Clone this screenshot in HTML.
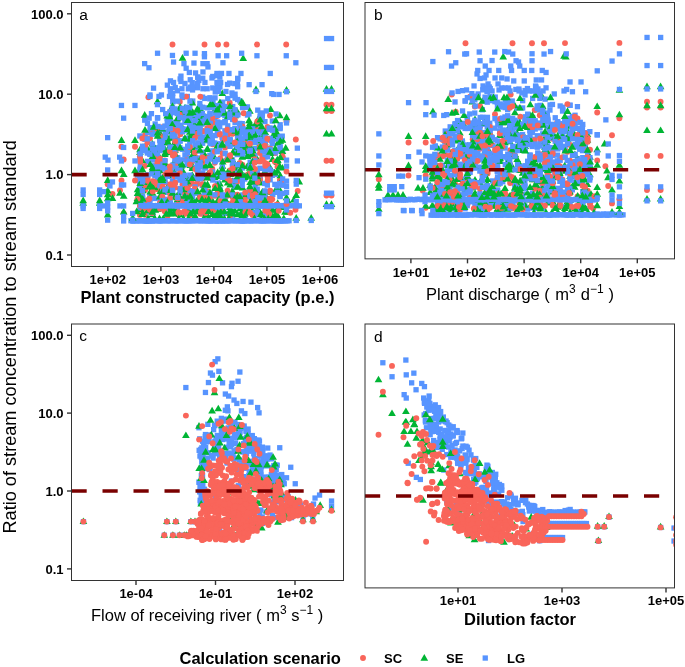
<!DOCTYPE html><html><head><meta charset="utf-8"><style>html,body{margin:0;padding:0;background:#fff;width:685px;height:667px;overflow:hidden}#w{will-change:transform;width:685px;height:667px}</style></head><body><div id="w"><svg width="685" height="667" viewBox="0 0 685 667" style="display:block">
<rect width="685" height="667" fill="#fff"/>
<defs>
<clipPath id="cpa"><rect x="71.5" y="2.5" width="272.0" height="264.0"/></clipPath>
<clipPath id="cpb"><rect x="365" y="2.5" width="309.5" height="256.35"/></clipPath>
<clipPath id="cpc"><rect x="71.5" y="324" width="272.0" height="256.5"/></clipPath>
<clipPath id="cpd"><rect x="365" y="324" width="309.5" height="263.9"/></clipPath>
</defs>
<g clip-path="url(#cpa)">
<g fill="#00B534">
<path d="M157.6 149.8l3.85 6.6h-7.7z"/>
<path d="M179.8 210.3l3.85 6.6h-7.7z"/>
</g>
<g fill="#5794FF">
<rect x="182.4" y="176.5" width="5.3" height="5.3"/>
<rect x="230.1" y="103.9" width="5.3" height="5.3"/>
</g>
<g fill="#F9655A">
<circle cx="247.5" cy="142.9" r="2.95"/>
</g>
<g fill="#00B534">
<path d="M234.8 182.9l3.85 6.6h-7.7z"/>
<path d="M272.5 205.8l3.85 6.6h-7.7z"/>
<path d="M212.7 124.2l3.85 6.6h-7.7z"/>
</g>
<g fill="#F9655A">
<circle cx="209.8" cy="139.7" r="2.95"/>
</g>
<g fill="#5794FF">
<rect x="230.0" y="212.6" width="5.3" height="5.3"/>
</g>
<g fill="#F9655A">
<circle cx="150.0" cy="138.2" r="2.95"/>
</g>
<g fill="#00B534">
<path d="M257.2 195.1l3.85 6.6h-7.7z"/>
</g>
<g fill="#5794FF">
<rect x="239.9" y="200.2" width="5.3" height="5.3"/>
</g>
<g fill="#00B534">
<path d="M177.7 144.0l3.85 6.6h-7.7z"/>
<path d="M217.8 146.0l3.85 6.6h-7.7z"/>
</g>
<g fill="#5794FF">
<rect x="179.9" y="178.9" width="5.3" height="5.3"/>
<rect x="250.1" y="127.3" width="5.3" height="5.3"/>
<rect x="264.6" y="197.4" width="5.3" height="5.3"/>
</g>
<g fill="#F9655A">
<circle cx="225.1" cy="147.5" r="2.95"/>
</g>
<g fill="#5794FF">
<rect x="257.5" y="141.5" width="5.3" height="5.3"/>
</g>
<g fill="#F9655A">
<circle cx="197.2" cy="184.0" r="2.95"/>
<circle cx="147.3" cy="138.9" r="2.95"/>
<circle cx="242.4" cy="143.3" r="2.95"/>
<circle cx="187.3" cy="210.9" r="2.95"/>
</g>
<g fill="#5794FF">
<rect x="239.6" y="121.0" width="5.3" height="5.3"/>
<rect x="144.6" y="204.6" width="5.3" height="5.3"/>
<rect x="174.7" y="126.5" width="5.3" height="5.3"/>
<rect x="227.5" y="112.8" width="5.3" height="5.3"/>
</g>
<g fill="#00B534">
<path d="M252.3 133.8l3.85 6.6h-7.7z"/>
<path d="M205.2 136.6l3.85 6.6h-7.7z"/>
</g>
<g fill="#5794FF">
<rect x="257.6" y="131.2" width="5.3" height="5.3"/>
<rect x="242.4" y="209.1" width="5.3" height="5.3"/>
</g>
<g fill="#00B534">
<path d="M232.4 166.8l3.85 6.6h-7.7z"/>
</g>
<g fill="#5794FF">
<rect x="217.1" y="146.2" width="5.3" height="5.3"/>
</g>
<g fill="#00B534">
<path d="M142.7 143.5l3.85 6.6h-7.7z"/>
</g>
<g fill="#5794FF">
<rect x="225.1" y="123.2" width="5.3" height="5.3"/>
<rect x="219.9" y="206.7" width="5.3" height="5.3"/>
<rect x="182.5" y="106.5" width="5.3" height="5.3"/>
<rect x="164.6" y="164.0" width="5.3" height="5.3"/>
<rect x="150.0" y="204.8" width="5.3" height="5.3"/>
<rect x="142.3" y="136.7" width="5.3" height="5.3"/>
</g>
<g fill="#00B534">
<path d="M139.9 148.4l3.85 6.6h-7.7z"/>
</g>
<g fill="#5794FF">
<rect x="244.8" y="189.4" width="5.3" height="5.3"/>
<rect x="157.1" y="127.3" width="5.3" height="5.3"/>
<rect x="192.5" y="175.7" width="5.3" height="5.3"/>
</g>
<g fill="#F9655A">
<circle cx="142.3" cy="196.3" r="2.95"/>
</g>
<g fill="#5794FF">
<rect x="135.0" y="196.0" width="5.3" height="5.3"/>
<rect x="254.7" y="209.1" width="5.3" height="5.3"/>
</g>
<g fill="#F9655A">
<circle cx="207.3" cy="128.0" r="2.95"/>
</g>
<g fill="#00B534">
<path d="M185.2 194.5l3.85 6.6h-7.7z"/>
</g>
<g fill="#F9655A">
<circle cx="222.3" cy="202.5" r="2.95"/>
</g>
<g fill="#5794FF">
<rect x="254.6" y="186.5" width="5.3" height="5.3"/>
</g>
<g fill="#00B534">
<path d="M235.0 162.0l3.85 6.6h-7.7z"/>
</g>
<g fill="#5794FF">
<rect x="154.8" y="164.8" width="5.3" height="5.3"/>
</g>
<g fill="#F9655A">
<circle cx="212.3" cy="168.7" r="2.95"/>
</g>
<g fill="#00B534">
<path d="M214.9 105.8l3.85 6.6h-7.7z"/>
</g>
<g fill="#5794FF">
<rect x="180.1" y="179.2" width="5.3" height="5.3"/>
<rect x="194.7" y="80.8" width="5.3" height="5.3"/>
</g>
<g fill="#00B534">
<path d="M170.0 134.2l3.85 6.6h-7.7z"/>
</g>
<g fill="#F9655A">
<circle cx="252.8" cy="155.2" r="2.95"/>
</g>
<g fill="#5794FF">
<rect x="199.9" y="134.3" width="5.3" height="5.3"/>
</g>
<g fill="#00B534">
<path d="M215.1 183.9l3.85 6.6h-7.7z"/>
</g>
<g fill="#F9655A">
<circle cx="272.3" cy="141.2" r="2.95"/>
</g>
<g fill="#5794FF">
<rect x="270.1" y="171.3" width="5.3" height="5.3"/>
</g>
<g fill="#00B534">
<path d="M269.8 163.2l3.85 6.6h-7.7z"/>
<path d="M277.7 185.8l3.85 6.6h-7.7z"/>
</g>
<g fill="#5794FF">
<rect x="162.3" y="133.2" width="5.3" height="5.3"/>
<rect x="137.6" y="187.4" width="5.3" height="5.3"/>
</g>
<g fill="#F9655A">
<circle cx="159.8" cy="138.7" r="2.95"/>
</g>
<g fill="#00B534">
<path d="M137.6 185.7l3.85 6.6h-7.7z"/>
</g>
<g fill="#5794FF">
<rect x="184.7" y="93.8" width="5.3" height="5.3"/>
</g>
<g fill="#00B534">
<path d="M270.0 199.4l3.85 6.6h-7.7z"/>
</g>
<g fill="#5794FF">
<rect x="207.3" y="119.5" width="5.3" height="5.3"/>
</g>
<g fill="#00B534">
<path d="M167.8 182.7l3.85 6.6h-7.7z"/>
</g>
<g fill="#5794FF">
<rect x="202.1" y="95.8" width="5.3" height="5.3"/>
<rect x="205.0" y="118.9" width="5.3" height="5.3"/>
</g>
<g fill="#00B534">
<path d="M147.2 180.9l3.85 6.6h-7.7z"/>
</g>
<g fill="#F9655A">
<circle cx="152.3" cy="132.8" r="2.95"/>
</g>
<g fill="#5794FF">
<rect x="139.9" y="193.4" width="5.3" height="5.3"/>
</g>
<g fill="#00B534">
<path d="M229.9 153.1l3.85 6.6h-7.7z"/>
<path d="M172.2 201.5l3.85 6.6h-7.7z"/>
</g>
<g fill="#5794FF">
<rect x="252.3" y="211.1" width="5.3" height="5.3"/>
<rect x="200.0" y="120.3" width="5.3" height="5.3"/>
<rect x="174.8" y="206.7" width="5.3" height="5.3"/>
</g>
<g fill="#F9655A">
<circle cx="222.4" cy="138.5" r="2.95"/>
</g>
<g fill="#00B534">
<path d="M264.8 199.8l3.85 6.6h-7.7z"/>
</g>
<g fill="#5794FF">
<rect x="252.5" y="153.1" width="5.3" height="5.3"/>
<rect x="209.9" y="104.6" width="5.3" height="5.3"/>
<rect x="247.2" y="137.3" width="5.3" height="5.3"/>
</g>
<g fill="#F9655A">
<circle cx="147.4" cy="175.2" r="2.95"/>
<circle cx="212.8" cy="144.3" r="2.95"/>
</g>
<g fill="#00B534">
<path d="M240.1 204.7l3.85 6.6h-7.7z"/>
</g>
<g fill="#F9655A">
<circle cx="229.7" cy="133.0" r="2.95"/>
</g>
<g fill="#5794FF">
<rect x="187.1" y="191.8" width="5.3" height="5.3"/>
</g>
<g fill="#F9655A">
<circle cx="279.9" cy="180.1" r="2.95"/>
<circle cx="260.1" cy="177.9" r="2.95"/>
</g>
<g fill="#5794FF">
<rect x="257.4" y="177.0" width="5.3" height="5.3"/>
</g>
<g fill="#F9655A">
<circle cx="147.7" cy="178.0" r="2.95"/>
</g>
<g fill="#5794FF">
<rect x="199.8" y="163.1" width="5.3" height="5.3"/>
<rect x="160.0" y="106.9" width="5.3" height="5.3"/>
</g>
<g fill="#00B534">
<path d="M139.8 206.7l3.85 6.6h-7.7z"/>
<path d="M259.8 112.5l3.85 6.6h-7.7z"/>
<path d="M142.7 174.4l3.85 6.6h-7.7z"/>
<path d="M164.8 201.7l3.85 6.6h-7.7z"/>
</g>
<g fill="#F9655A">
<circle cx="252.2" cy="154.3" r="2.95"/>
</g>
<g fill="#5794FF">
<rect x="217.6" y="206.8" width="5.3" height="5.3"/>
<rect x="240.1" y="192.3" width="5.3" height="5.3"/>
<rect x="147.1" y="200.5" width="5.3" height="5.3"/>
</g>
<g fill="#00B534">
<path d="M184.8 181.8l3.85 6.6h-7.7z"/>
</g>
<g fill="#5794FF">
<rect x="265.1" y="165.4" width="5.3" height="5.3"/>
<rect x="257.5" y="165.8" width="5.3" height="5.3"/>
</g>
<g fill="#00B534">
<path d="M222.4 205.6l3.85 6.6h-7.7z"/>
</g>
<g fill="#F9655A">
<circle cx="269.9" cy="140.0" r="2.95"/>
<circle cx="202.3" cy="178.8" r="2.95"/>
</g>
<g fill="#5794FF">
<rect x="207.6" y="141.1" width="5.3" height="5.3"/>
</g>
<g fill="#00B534">
<path d="M160.3 129.9l3.85 6.6h-7.7z"/>
</g>
<g fill="#5794FF">
<rect x="157.4" y="174.5" width="5.3" height="5.3"/>
<rect x="194.6" y="145.2" width="5.3" height="5.3"/>
<rect x="200.0" y="174.4" width="5.3" height="5.3"/>
</g>
<g fill="#00B534">
<path d="M250.2 178.5l3.85 6.6h-7.7z"/>
<path d="M279.9 179.5l3.85 6.6h-7.7z"/>
<path d="M255.3 131.2l3.85 6.6h-7.7z"/>
</g>
<g fill="#5794FF">
<rect x="185.0" y="180.8" width="5.3" height="5.3"/>
</g>
<g fill="#00B534">
<path d="M264.9 167.4l3.85 6.6h-7.7z"/>
<path d="M182.4 184.9l3.85 6.6h-7.7z"/>
<path d="M232.4 187.1l3.85 6.6h-7.7z"/>
<path d="M207.7 145.5l3.85 6.6h-7.7z"/>
</g>
<g fill="#F9655A">
<circle cx="144.9" cy="135.2" r="2.95"/>
</g>
<g fill="#00B534">
<path d="M167.8 127.4l3.85 6.6h-7.7z"/>
</g>
<g fill="#5794FF">
<rect x="192.6" y="115.9" width="5.3" height="5.3"/>
</g>
<g fill="#00B534">
<path d="M262.7 133.8l3.85 6.6h-7.7z"/>
<path d="M192.3 171.3l3.85 6.6h-7.7z"/>
</g>
<g fill="#5794FF">
<rect x="212.1" y="115.4" width="5.3" height="5.3"/>
</g>
<g fill="#00B534">
<path d="M194.7 197.8l3.85 6.6h-7.7z"/>
<path d="M164.8 150.3l3.85 6.6h-7.7z"/>
</g>
<g fill="#5794FF">
<rect x="152.4" y="155.4" width="5.3" height="5.3"/>
<rect x="219.6" y="200.3" width="5.3" height="5.3"/>
</g>
<g fill="#F9655A">
<circle cx="197.5" cy="180.3" r="2.95"/>
<circle cx="282.8" cy="157.6" r="2.95"/>
</g>
<g fill="#5794FF">
<rect x="215.0" y="129.4" width="5.3" height="5.3"/>
<rect x="249.7" y="136.4" width="5.3" height="5.3"/>
<rect x="174.9" y="156.2" width="5.3" height="5.3"/>
<rect x="252.5" y="125.4" width="5.3" height="5.3"/>
</g>
<g fill="#00B534">
<path d="M152.5 143.1l3.85 6.6h-7.7z"/>
<path d="M140.0 165.8l3.85 6.6h-7.7z"/>
<path d="M194.8 122.0l3.85 6.6h-7.7z"/>
</g>
<g fill="#5794FF">
<rect x="272.2" y="181.7" width="5.3" height="5.3"/>
<rect x="262.2" y="139.4" width="5.3" height="5.3"/>
</g>
<g fill="#00B534">
<path d="M245.2 200.2l3.85 6.6h-7.7z"/>
</g>
<g fill="#5794FF">
<rect x="172.1" y="193.7" width="5.3" height="5.3"/>
</g>
<g fill="#00B534">
<path d="M252.2 202.1l3.85 6.6h-7.7z"/>
</g>
<g fill="#5794FF">
<rect x="229.6" y="127.1" width="5.3" height="5.3"/>
</g>
<g fill="#F9655A">
<circle cx="189.8" cy="184.1" r="2.95"/>
</g>
<g fill="#5794FF">
<rect x="137.3" y="156.4" width="5.3" height="5.3"/>
</g>
<g fill="#00B534">
<path d="M190.2 161.3l3.85 6.6h-7.7z"/>
</g>
<g fill="#5794FF">
<rect x="152.1" y="154.4" width="5.3" height="5.3"/>
</g>
<g fill="#00B534">
<path d="M264.9 138.7l3.85 6.6h-7.7z"/>
<path d="M220.2 190.6l3.85 6.6h-7.7z"/>
</g>
<g fill="#5794FF">
<rect x="252.4" y="183.3" width="5.3" height="5.3"/>
</g>
<g fill="#F9655A">
<circle cx="160.1" cy="161.1" r="2.95"/>
</g>
<g fill="#00B534">
<path d="M227.2 132.1l3.85 6.6h-7.7z"/>
</g>
<g fill="#5794FF">
<rect x="164.9" y="189.8" width="5.3" height="5.3"/>
<rect x="175.1" y="155.1" width="5.3" height="5.3"/>
</g>
<g fill="#00B534">
<path d="M262.5 211.8l3.85 6.6h-7.7z"/>
<path d="M169.7 203.9l3.85 6.6h-7.7z"/>
<path d="M160.1 158.7l3.85 6.6h-7.7z"/>
</g>
<g fill="#5794FF">
<rect x="172.1" y="145.7" width="5.3" height="5.3"/>
<rect x="167.1" y="173.5" width="5.3" height="5.3"/>
</g>
<g fill="#00B534">
<path d="M247.8 125.7l3.85 6.6h-7.7z"/>
<path d="M247.3 134.1l3.85 6.6h-7.7z"/>
<path d="M282.3 203.4l3.85 6.6h-7.7z"/>
</g>
<g fill="#5794FF">
<rect x="144.8" y="120.7" width="5.3" height="5.3"/>
</g>
<g fill="#00B534">
<path d="M234.8 206.7l3.85 6.6h-7.7z"/>
</g>
<g fill="#F9655A">
<circle cx="184.8" cy="204.9" r="2.95"/>
<circle cx="217.3" cy="185.3" r="2.95"/>
</g>
<g fill="#5794FF">
<rect x="170.0" y="170.7" width="5.3" height="5.3"/>
<rect x="247.5" y="159.6" width="5.3" height="5.3"/>
<rect x="224.6" y="133.2" width="5.3" height="5.3"/>
</g>
<g fill="#F9655A">
<circle cx="217.5" cy="207.8" r="2.95"/>
<circle cx="182.3" cy="174.4" r="2.95"/>
</g>
<g fill="#00B534">
<path d="M170.2 148.5l3.85 6.6h-7.7z"/>
</g>
<g fill="#5794FF">
<rect x="272.5" y="150.6" width="5.3" height="5.3"/>
<rect x="152.1" y="152.8" width="5.3" height="5.3"/>
</g>
<g fill="#F9655A">
<circle cx="177.5" cy="139.1" r="2.95"/>
</g>
<g fill="#00B534">
<path d="M277.8 211.9l3.85 6.6h-7.7z"/>
<path d="M200.1 119.8l3.85 6.6h-7.7z"/>
</g>
<g fill="#5794FF">
<rect x="189.6" y="165.7" width="5.3" height="5.3"/>
<rect x="172.1" y="128.1" width="5.3" height="5.3"/>
<rect x="277.4" y="142.6" width="5.3" height="5.3"/>
</g>
<g fill="#F9655A">
<circle cx="195.2" cy="207.6" r="2.95"/>
</g>
<g fill="#5794FF">
<rect x="202.3" y="188.7" width="5.3" height="5.3"/>
<rect x="164.8" y="201.7" width="5.3" height="5.3"/>
<rect x="277.4" y="193.9" width="5.3" height="5.3"/>
</g>
<g fill="#00B534">
<path d="M157.8 184.4l3.85 6.6h-7.7z"/>
<path d="M277.4 156.7l3.85 6.6h-7.7z"/>
</g>
<g fill="#5794FF">
<rect x="204.7" y="189.5" width="5.3" height="5.3"/>
</g>
<g fill="#F9655A">
<circle cx="237.4" cy="194.7" r="2.95"/>
</g>
<g fill="#00B534">
<path d="M182.3 123.6l3.85 6.6h-7.7z"/>
<path d="M277.3 158.3l3.85 6.6h-7.7z"/>
</g>
<g fill="#5794FF">
<rect x="199.9" y="181.7" width="5.3" height="5.3"/>
<rect x="280.0" y="149.0" width="5.3" height="5.3"/>
<rect x="264.6" y="146.8" width="5.3" height="5.3"/>
</g>
<g fill="#F9655A">
<circle cx="167.4" cy="142.7" r="2.95"/>
<circle cx="192.6" cy="161.1" r="2.95"/>
<circle cx="145.1" cy="190.0" r="2.95"/>
</g>
<g fill="#5794FF">
<rect x="269.9" y="191.8" width="5.3" height="5.3"/>
<rect x="144.9" y="158.7" width="5.3" height="5.3"/>
</g>
<g fill="#00B534">
<path d="M242.4 201.3l3.85 6.6h-7.7z"/>
</g>
<g fill="#5794FF">
<rect x="147.4" y="149.2" width="5.3" height="5.3"/>
</g>
<g fill="#00B534">
<path d="M255.0 120.9l3.85 6.6h-7.7z"/>
</g>
<g fill="#F9655A">
<circle cx="210.0" cy="158.3" r="2.95"/>
<circle cx="232.7" cy="117.7" r="2.95"/>
</g>
<g fill="#5794FF">
<rect x="239.9" y="128.9" width="5.3" height="5.3"/>
</g>
<g fill="#00B534">
<path d="M170.2 144.1l3.85 6.6h-7.7z"/>
<path d="M280.3 171.7l3.85 6.6h-7.7z"/>
</g>
<g fill="#5794FF">
<rect x="179.9" y="115.0" width="5.3" height="5.3"/>
</g>
<g fill="#F9655A">
<circle cx="200.2" cy="161.9" r="2.95"/>
<circle cx="212.2" cy="118.1" r="2.95"/>
</g>
<g fill="#5794FF">
<rect x="257.5" y="198.5" width="5.3" height="5.3"/>
<rect x="145.1" y="129.9" width="5.3" height="5.3"/>
</g>
<g fill="#00B534">
<path d="M200.1 159.5l3.85 6.6h-7.7z"/>
<path d="M257.3 144.3l3.85 6.6h-7.7z"/>
<path d="M197.3 126.6l3.85 6.6h-7.7z"/>
</g>
<g fill="#5794FF">
<rect x="197.3" y="104.0" width="5.3" height="5.3"/>
<rect x="257.2" y="158.9" width="5.3" height="5.3"/>
<rect x="259.8" y="129.1" width="5.3" height="5.3"/>
</g>
<g fill="#00B534">
<path d="M242.6 183.8l3.85 6.6h-7.7z"/>
</g>
<g fill="#5794FF">
<rect x="239.6" y="136.2" width="5.3" height="5.3"/>
</g>
<g fill="#F9655A">
<circle cx="230.0" cy="203.9" r="2.95"/>
<circle cx="267.3" cy="164.0" r="2.95"/>
</g>
<g fill="#00B534">
<path d="M182.4 108.9l3.85 6.6h-7.7z"/>
</g>
<g fill="#5794FF">
<rect x="259.8" y="155.8" width="5.3" height="5.3"/>
</g>
<g fill="#00B534">
<path d="M217.3 187.8l3.85 6.6h-7.7z"/>
</g>
<g fill="#F9655A">
<circle cx="145.0" cy="214.7" r="2.95"/>
<circle cx="157.3" cy="189.2" r="2.95"/>
<circle cx="260.0" cy="153.1" r="2.95"/>
</g>
<g fill="#00B534">
<path d="M237.7 176.3l3.85 6.6h-7.7z"/>
<path d="M167.3 133.3l3.85 6.6h-7.7z"/>
<path d="M194.8 143.5l3.85 6.6h-7.7z"/>
</g>
<g fill="#5794FF">
<rect x="159.8" y="165.7" width="5.3" height="5.3"/>
<rect x="147.6" y="196.3" width="5.3" height="5.3"/>
<rect x="222.6" y="119.1" width="5.3" height="5.3"/>
</g>
<g fill="#00B534">
<path d="M240.1 195.6l3.85 6.6h-7.7z"/>
</g>
<g fill="#F9655A">
<circle cx="252.5" cy="167.2" r="2.95"/>
</g>
<g fill="#00B534">
<path d="M237.7 210.6l3.85 6.6h-7.7z"/>
</g>
<g fill="#5794FF">
<rect x="280.0" y="176.3" width="5.3" height="5.3"/>
<rect x="157.1" y="159.0" width="5.3" height="5.3"/>
<rect x="277.3" y="148.3" width="5.3" height="5.3"/>
<rect x="239.9" y="165.3" width="5.3" height="5.3"/>
<rect x="264.6" y="151.4" width="5.3" height="5.3"/>
<rect x="172.3" y="108.7" width="5.3" height="5.3"/>
<rect x="177.3" y="162.4" width="5.3" height="5.3"/>
<rect x="269.9" y="125.5" width="5.3" height="5.3"/>
</g>
<g fill="#00B534">
<path d="M167.3 206.3l3.85 6.6h-7.7z"/>
</g>
<g fill="#5794FF">
<rect x="140.0" y="180.6" width="5.3" height="5.3"/>
<rect x="200.0" y="137.4" width="5.3" height="5.3"/>
</g>
<g fill="#00B534">
<path d="M242.4 123.0l3.85 6.6h-7.7z"/>
<path d="M200.0 108.2l3.85 6.6h-7.7z"/>
<path d="M280.3 186.9l3.85 6.6h-7.7z"/>
</g>
<g fill="#5794FF">
<rect x="217.6" y="107.5" width="5.3" height="5.3"/>
<rect x="189.6" y="175.6" width="5.3" height="5.3"/>
<rect x="217.1" y="124.0" width="5.3" height="5.3"/>
</g>
<g fill="#F9655A">
<circle cx="260.0" cy="180.2" r="2.95"/>
</g>
<g fill="#5794FF">
<rect x="229.6" y="157.3" width="5.3" height="5.3"/>
<rect x="222.2" y="128.2" width="5.3" height="5.3"/>
</g>
<g fill="#00B534">
<path d="M192.6 109.8l3.85 6.6h-7.7z"/>
</g>
<g fill="#5794FF">
<rect x="230.0" y="128.9" width="5.3" height="5.3"/>
<rect x="155.1" y="158.6" width="5.3" height="5.3"/>
<rect x="252.5" y="192.5" width="5.3" height="5.3"/>
<rect x="272.2" y="170.5" width="5.3" height="5.3"/>
<rect x="242.6" y="213.1" width="5.3" height="5.3"/>
<rect x="239.6" y="182.8" width="5.3" height="5.3"/>
</g>
<g fill="#00B534">
<path d="M165.0 197.8l3.85 6.6h-7.7z"/>
</g>
<g fill="#5794FF">
<rect x="207.2" y="119.9" width="5.3" height="5.3"/>
<rect x="172.4" y="140.5" width="5.3" height="5.3"/>
</g>
<g fill="#F9655A">
<circle cx="227.6" cy="190.8" r="2.95"/>
</g>
<g fill="#00B534">
<path d="M260.1 136.7l3.85 6.6h-7.7z"/>
</g>
<g fill="#5794FF">
<rect x="195.0" y="172.9" width="5.3" height="5.3"/>
</g>
<g fill="#F9655A">
<circle cx="269.8" cy="192.0" r="2.95"/>
</g>
<g fill="#5794FF">
<rect x="237.3" y="123.5" width="5.3" height="5.3"/>
<rect x="215.1" y="119.3" width="5.3" height="5.3"/>
<rect x="235.1" y="169.0" width="5.3" height="5.3"/>
<rect x="232.2" y="125.7" width="5.3" height="5.3"/>
</g>
<g fill="#00B534">
<path d="M175.0 193.1l3.85 6.6h-7.7z"/>
</g>
<g fill="#5794FF">
<rect x="197.1" y="156.4" width="5.3" height="5.3"/>
<rect x="222.4" y="197.7" width="5.3" height="5.3"/>
<rect x="187.2" y="201.9" width="5.3" height="5.3"/>
</g>
<g fill="#00B534">
<path d="M152.4 210.6l3.85 6.6h-7.7z"/>
<path d="M272.5 155.3l3.85 6.6h-7.7z"/>
<path d="M177.8 155.8l3.85 6.6h-7.7z"/>
<path d="M192.5 128.6l3.85 6.6h-7.7z"/>
<path d="M222.4 103.0l3.85 6.6h-7.7z"/>
<path d="M277.6 139.2l3.85 6.6h-7.7z"/>
</g>
<g fill="#5794FF">
<rect x="194.8" y="85.1" width="5.3" height="5.3"/>
<rect x="137.2" y="149.0" width="5.3" height="5.3"/>
<rect x="197.1" y="193.4" width="5.3" height="5.3"/>
<rect x="195.0" y="174.1" width="5.3" height="5.3"/>
</g>
<g fill="#00B534">
<path d="M220.1 199.6l3.85 6.6h-7.7z"/>
</g>
<g fill="#5794FF">
<rect x="137.6" y="161.7" width="5.3" height="5.3"/>
<rect x="197.6" y="134.5" width="5.3" height="5.3"/>
<rect x="172.6" y="180.1" width="5.3" height="5.3"/>
</g>
<g fill="#00B534">
<path d="M147.5 145.1l3.85 6.6h-7.7z"/>
</g>
<g fill="#F9655A">
<circle cx="265.1" cy="191.4" r="2.95"/>
<circle cx="254.9" cy="178.8" r="2.95"/>
</g>
<g fill="#5794FF">
<rect x="174.7" y="155.5" width="5.3" height="5.3"/>
<rect x="210.0" y="140.1" width="5.3" height="5.3"/>
<rect x="192.6" y="190.6" width="5.3" height="5.3"/>
<rect x="242.6" y="132.1" width="5.3" height="5.3"/>
<rect x="200.0" y="140.6" width="5.3" height="5.3"/>
</g>
<g fill="#00B534">
<path d="M150.0 204.0l3.85 6.6h-7.7z"/>
</g>
<g fill="#F9655A">
<circle cx="165.0" cy="205.7" r="2.95"/>
</g>
<g fill="#5794FF">
<rect x="242.1" y="176.4" width="5.3" height="5.3"/>
</g>
<g fill="#F9655A">
<circle cx="167.7" cy="172.8" r="2.95"/>
</g>
<g fill="#00B534">
<path d="M175.0 149.8l3.85 6.6h-7.7z"/>
</g>
<g fill="#5794FF">
<rect x="222.1" y="210.7" width="5.3" height="5.3"/>
<rect x="172.4" y="109.3" width="5.3" height="5.3"/>
</g>
<g fill="#00B534">
<path d="M185.3 206.8l3.85 6.6h-7.7z"/>
</g>
<g fill="#5794FF">
<rect x="177.4" y="126.0" width="5.3" height="5.3"/>
</g>
<g fill="#F9655A">
<circle cx="239.8" cy="175.5" r="2.95"/>
</g>
<g fill="#00B534">
<path d="M275.0 187.1l3.85 6.6h-7.7z"/>
</g>
<g fill="#5794FF">
<rect x="152.3" y="152.7" width="5.3" height="5.3"/>
<rect x="259.9" y="203.6" width="5.3" height="5.3"/>
</g>
<g fill="#00B534">
<path d="M155.0 166.5l3.85 6.6h-7.7z"/>
</g>
<g fill="#5794FF">
<rect x="197.6" y="175.8" width="5.3" height="5.3"/>
</g>
<g fill="#F9655A">
<circle cx="184.8" cy="204.9" r="2.95"/>
</g>
<g fill="#00B534">
<path d="M259.7 135.0l3.85 6.6h-7.7z"/>
</g>
<g fill="#5794FF">
<rect x="274.8" y="135.4" width="5.3" height="5.3"/>
</g>
<g fill="#00B534">
<path d="M175.0 201.2l3.85 6.6h-7.7z"/>
</g>
<g fill="#5794FF">
<rect x="220.0" y="193.3" width="5.3" height="5.3"/>
</g>
<g fill="#F9655A">
<circle cx="179.9" cy="212.6" r="2.95"/>
<circle cx="270.3" cy="200.5" r="2.95"/>
</g>
<g fill="#00B534">
<path d="M247.6 151.1l3.85 6.6h-7.7z"/>
</g>
<g fill="#5794FF">
<rect x="259.8" y="110.3" width="5.3" height="5.3"/>
<rect x="234.8" y="81.4" width="5.3" height="5.3"/>
</g>
<g fill="#F9655A">
<circle cx="269.9" cy="210.5" r="2.95"/>
</g>
<g fill="#00B534">
<path d="M220.3 171.3l3.85 6.6h-7.7z"/>
</g>
<g fill="#F9655A">
<circle cx="212.5" cy="210.1" r="2.95"/>
</g>
<g fill="#5794FF">
<rect x="177.3" y="177.4" width="5.3" height="5.3"/>
<rect x="252.5" y="146.0" width="5.3" height="5.3"/>
<rect x="194.8" y="205.4" width="5.3" height="5.3"/>
<rect x="237.2" y="98.3" width="5.3" height="5.3"/>
<rect x="155.1" y="157.7" width="5.3" height="5.3"/>
<rect x="207.3" y="105.1" width="5.3" height="5.3"/>
<rect x="179.9" y="146.7" width="5.3" height="5.3"/>
<rect x="184.7" y="126.9" width="5.3" height="5.3"/>
<rect x="167.6" y="114.7" width="5.3" height="5.3"/>
</g>
<g fill="#F9655A">
<circle cx="170.3" cy="194.3" r="2.95"/>
<circle cx="250.3" cy="197.2" r="2.95"/>
</g>
<g fill="#00B534">
<path d="M175.0 146.3l3.85 6.6h-7.7z"/>
</g>
<g fill="#5794FF">
<rect x="217.4" y="111.6" width="5.3" height="5.3"/>
</g>
<g fill="#00B534">
<path d="M247.3 170.8l3.85 6.6h-7.7z"/>
</g>
<g fill="#5794FF">
<rect x="214.8" y="141.5" width="5.3" height="5.3"/>
<rect x="225.0" y="128.5" width="5.3" height="5.3"/>
<rect x="169.6" y="210.1" width="5.3" height="5.3"/>
</g>
<g fill="#00B534">
<path d="M217.6 209.1l3.85 6.6h-7.7z"/>
<path d="M225.1 173.1l3.85 6.6h-7.7z"/>
</g>
<g fill="#5794FF">
<rect x="262.6" y="139.9" width="5.3" height="5.3"/>
<rect x="137.2" y="166.7" width="5.3" height="5.3"/>
</g>
<g fill="#F9655A">
<circle cx="144.8" cy="186.4" r="2.95"/>
</g>
<g fill="#5794FF">
<rect x="272.6" y="171.8" width="5.3" height="5.3"/>
<rect x="195.1" y="176.0" width="5.3" height="5.3"/>
</g>
<g fill="#F9655A">
<circle cx="232.4" cy="196.7" r="2.95"/>
</g>
<g fill="#00B534">
<path d="M152.8 141.8l3.85 6.6h-7.7z"/>
</g>
<g fill="#5794FF">
<rect x="194.8" y="167.9" width="5.3" height="5.3"/>
</g>
<g fill="#00B534">
<path d="M142.3 156.6l3.85 6.6h-7.7z"/>
</g>
<g fill="#F9655A">
<circle cx="255.1" cy="129.5" r="2.95"/>
</g>
<g fill="#5794FF">
<rect x="235.0" y="84.1" width="5.3" height="5.3"/>
</g>
<g fill="#F9655A">
<circle cx="207.4" cy="191.4" r="2.95"/>
</g>
<g fill="#00B534">
<path d="M184.8 173.8l3.85 6.6h-7.7z"/>
</g>
<g fill="#F9655A">
<circle cx="242.4" cy="126.5" r="2.95"/>
<circle cx="267.3" cy="212.3" r="2.95"/>
</g>
<g fill="#5794FF">
<rect x="202.2" y="137.6" width="5.3" height="5.3"/>
</g>
<g fill="#F9655A">
<circle cx="230.0" cy="143.2" r="2.95"/>
</g>
<g fill="#00B534">
<path d="M254.8 122.5l3.85 6.6h-7.7z"/>
</g>
<g fill="#F9655A">
<circle cx="164.8" cy="160.5" r="2.95"/>
<circle cx="214.7" cy="162.8" r="2.95"/>
</g>
<g fill="#5794FF">
<rect x="175.1" y="158.5" width="5.3" height="5.3"/>
</g>
<g fill="#00B534">
<path d="M209.9 161.2l3.85 6.6h-7.7z"/>
</g>
<g fill="#5794FF">
<rect x="215.0" y="84.8" width="5.3" height="5.3"/>
<rect x="229.8" y="177.9" width="5.3" height="5.3"/>
<rect x="217.2" y="104.2" width="5.3" height="5.3"/>
</g>
<g fill="#00B534">
<path d="M232.4 155.7l3.85 6.6h-7.7z"/>
</g>
<g fill="#5794FF">
<rect x="187.6" y="119.8" width="5.3" height="5.3"/>
<rect x="200.1" y="75.6" width="5.3" height="5.3"/>
</g>
<g fill="#F9655A">
<circle cx="245.3" cy="148.0" r="2.95"/>
</g>
<g fill="#5794FF">
<rect x="189.6" y="80.0" width="5.3" height="5.3"/>
<rect x="164.7" y="82.5" width="5.3" height="5.3"/>
</g>
<g fill="#F9655A">
<circle cx="195.3" cy="157.0" r="2.95"/>
</g>
<g fill="#5794FF">
<rect x="207.1" y="155.8" width="5.3" height="5.3"/>
<rect x="179.8" y="163.5" width="5.3" height="5.3"/>
<rect x="174.8" y="210.8" width="5.3" height="5.3"/>
</g>
<g fill="#F9655A">
<circle cx="277.5" cy="166.8" r="2.95"/>
</g>
<g fill="#5794FF">
<rect x="257.4" y="165.7" width="5.3" height="5.3"/>
<rect x="232.1" y="80.9" width="5.3" height="5.3"/>
</g>
<g fill="#F9655A">
<circle cx="182.5" cy="184.6" r="2.95"/>
</g>
<g fill="#00B534">
<path d="M189.9 146.5l3.85 6.6h-7.7z"/>
<path d="M167.6 171.5l3.85 6.6h-7.7z"/>
<path d="M177.3 191.4l3.85 6.6h-7.7z"/>
<path d="M260.1 178.9l3.85 6.6h-7.7z"/>
</g>
<g fill="#5794FF">
<rect x="262.1" y="180.8" width="5.3" height="5.3"/>
</g>
<g fill="#F9655A">
<circle cx="170.2" cy="172.9" r="2.95"/>
</g>
<g fill="#5794FF">
<rect x="150.0" y="210.3" width="5.3" height="5.3"/>
<rect x="177.6" y="122.6" width="5.3" height="5.3"/>
</g>
<g fill="#00B534">
<path d="M147.3 182.8l3.85 6.6h-7.7z"/>
</g>
<g fill="#5794FF">
<rect x="185.1" y="135.5" width="5.3" height="5.3"/>
</g>
<g fill="#F9655A">
<circle cx="169.9" cy="188.5" r="2.95"/>
</g>
<g fill="#5794FF">
<rect x="165.1" y="186.0" width="5.3" height="5.3"/>
</g>
<g fill="#00B534">
<path d="M205.1 160.6l3.85 6.6h-7.7z"/>
<path d="M257.4 205.4l3.85 6.6h-7.7z"/>
</g>
<g fill="#5794FF">
<rect x="277.4" y="126.0" width="5.3" height="5.3"/>
<rect x="200.1" y="170.2" width="5.3" height="5.3"/>
<rect x="262.3" y="119.0" width="5.3" height="5.3"/>
<rect x="217.5" y="141.2" width="5.3" height="5.3"/>
</g>
<g fill="#00B534">
<path d="M259.9 119.8l3.85 6.6h-7.7z"/>
</g>
<g fill="#5794FF">
<rect x="230.0" y="130.7" width="5.3" height="5.3"/>
</g>
<g fill="#00B534">
<path d="M255.1 154.9l3.85 6.6h-7.7z"/>
<path d="M252.5 132.8l3.85 6.6h-7.7z"/>
</g>
<g fill="#5794FF">
<rect x="207.6" y="140.2" width="5.3" height="5.3"/>
<rect x="220.0" y="171.4" width="5.3" height="5.3"/>
</g>
<g fill="#F9655A">
<circle cx="180.3" cy="134.2" r="2.95"/>
<circle cx="262.4" cy="157.2" r="2.95"/>
</g>
<g fill="#5794FF">
<rect x="234.7" y="151.9" width="5.3" height="5.3"/>
<rect x="142.5" y="201.3" width="5.3" height="5.3"/>
<rect x="202.3" y="164.7" width="5.3" height="5.3"/>
<rect x="244.9" y="128.5" width="5.3" height="5.3"/>
</g>
<g fill="#00B534">
<path d="M199.9 199.7l3.85 6.6h-7.7z"/>
</g>
<g fill="#5794FF">
<rect x="194.8" y="158.6" width="5.3" height="5.3"/>
</g>
<g fill="#F9655A">
<circle cx="264.8" cy="196.0" r="2.95"/>
</g>
<g fill="#00B534">
<path d="M192.3 111.8l3.85 6.6h-7.7z"/>
<path d="M230.1 107.1l3.85 6.6h-7.7z"/>
<path d="M152.7 204.4l3.85 6.6h-7.7z"/>
</g>
<g fill="#F9655A">
<circle cx="187.6" cy="187.2" r="2.95"/>
</g>
<g fill="#5794FF">
<rect x="147.1" y="209.2" width="5.3" height="5.3"/>
<rect x="229.6" y="192.3" width="5.3" height="5.3"/>
</g>
<g fill="#00B534">
<path d="M222.4 162.1l3.85 6.6h-7.7z"/>
<path d="M199.7 141.3l3.85 6.6h-7.7z"/>
</g>
<g fill="#5794FF">
<rect x="172.6" y="109.8" width="5.3" height="5.3"/>
<rect x="237.1" y="129.7" width="5.3" height="5.3"/>
</g>
<g fill="#F9655A">
<circle cx="270.1" cy="148.2" r="2.95"/>
<circle cx="167.6" cy="215.7" r="2.95"/>
</g>
<g fill="#00B534">
<path d="M157.6 205.5l3.85 6.6h-7.7z"/>
<path d="M169.9 207.3l3.85 6.6h-7.7z"/>
</g>
<g fill="#5794FF">
<rect x="207.3" y="171.1" width="5.3" height="5.3"/>
<rect x="194.8" y="162.4" width="5.3" height="5.3"/>
<rect x="222.2" y="112.9" width="5.3" height="5.3"/>
<rect x="187.6" y="110.4" width="5.3" height="5.3"/>
<rect x="175.0" y="120.7" width="5.3" height="5.3"/>
<rect x="157.1" y="183.0" width="5.3" height="5.3"/>
<rect x="210.0" y="169.4" width="5.3" height="5.3"/>
</g>
<g fill="#00B534">
<path d="M252.3 194.1l3.85 6.6h-7.7z"/>
</g>
<g fill="#5794FF">
<rect x="204.7" y="131.3" width="5.3" height="5.3"/>
<rect x="247.1" y="130.1" width="5.3" height="5.3"/>
<rect x="199.9" y="149.6" width="5.3" height="5.3"/>
</g>
<g fill="#F9655A">
<circle cx="260.0" cy="148.7" r="2.95"/>
</g>
<g fill="#00B534">
<path d="M182.8 186.4l3.85 6.6h-7.7z"/>
</g>
<g fill="#5794FF">
<rect x="137.4" y="182.7" width="5.3" height="5.3"/>
</g>
<g fill="#F9655A">
<circle cx="222.3" cy="202.5" r="2.95"/>
</g>
<g fill="#5794FF">
<rect x="167.1" y="119.3" width="5.3" height="5.3"/>
<rect x="217.6" y="187.4" width="5.3" height="5.3"/>
<rect x="157.2" y="126.8" width="5.3" height="5.3"/>
</g>
<g fill="#00B534">
<path d="M252.3 150.3l3.85 6.6h-7.7z"/>
<path d="M194.8 120.4l3.85 6.6h-7.7z"/>
<path d="M219.9 180.0l3.85 6.6h-7.7z"/>
</g>
<g fill="#5794FF">
<rect x="149.9" y="210.6" width="5.3" height="5.3"/>
<rect x="149.9" y="166.9" width="5.3" height="5.3"/>
<rect x="192.3" y="127.2" width="5.3" height="5.3"/>
<rect x="235.1" y="76.6" width="5.3" height="5.3"/>
</g>
<g fill="#00B534">
<path d="M227.3 153.9l3.85 6.6h-7.7z"/>
<path d="M160.3 187.5l3.85 6.6h-7.7z"/>
<path d="M182.8 166.9l3.85 6.6h-7.7z"/>
</g>
<g fill="#F9655A">
<circle cx="149.9" cy="208.2" r="2.95"/>
</g>
<g fill="#5794FF">
<rect x="240.1" y="172.7" width="5.3" height="5.3"/>
<rect x="202.6" y="165.4" width="5.3" height="5.3"/>
<rect x="205.0" y="173.4" width="5.3" height="5.3"/>
</g>
<g fill="#00B534">
<path d="M217.6 184.3l3.85 6.6h-7.7z"/>
<path d="M140.0 145.7l3.85 6.6h-7.7z"/>
<path d="M244.8 147.6l3.85 6.6h-7.7z"/>
</g>
<g fill="#5794FF">
<rect x="247.1" y="123.6" width="5.3" height="5.3"/>
</g>
<g fill="#F9655A">
<circle cx="217.2" cy="116.1" r="2.95"/>
<circle cx="227.7" cy="176.7" r="2.95"/>
</g>
<g fill="#00B534">
<path d="M195.1 212.3l3.85 6.6h-7.7z"/>
</g>
<g fill="#5794FF">
<rect x="174.9" y="199.6" width="5.3" height="5.3"/>
<rect x="147.2" y="192.6" width="5.3" height="5.3"/>
</g>
<g fill="#00B534">
<path d="M174.9 133.6l3.85 6.6h-7.7z"/>
</g>
<g fill="#F9655A">
<circle cx="187.3" cy="157.6" r="2.95"/>
</g>
<g fill="#00B534">
<path d="M165.2 159.3l3.85 6.6h-7.7z"/>
<path d="M174.9 183.1l3.85 6.6h-7.7z"/>
<path d="M254.9 209.3l3.85 6.6h-7.7z"/>
</g>
<g fill="#5794FF">
<rect x="137.2" y="205.3" width="5.3" height="5.3"/>
</g>
<g fill="#00B534">
<path d="M207.2 200.8l3.85 6.6h-7.7z"/>
</g>
<g fill="#5794FF">
<rect x="209.6" y="152.2" width="5.3" height="5.3"/>
</g>
<g fill="#00B534">
<path d="M202.5 110.9l3.85 6.6h-7.7z"/>
</g>
<g fill="#5794FF">
<rect x="250.0" y="159.5" width="5.3" height="5.3"/>
<rect x="207.2" y="152.7" width="5.3" height="5.3"/>
</g>
<g fill="#00B534">
<path d="M192.4 131.3l3.85 6.6h-7.7z"/>
</g>
<g fill="#5794FF">
<rect x="187.2" y="123.7" width="5.3" height="5.3"/>
</g>
<g fill="#00B534">
<path d="M172.7 166.1l3.85 6.6h-7.7z"/>
</g>
<g fill="#5794FF">
<rect x="250.1" y="126.2" width="5.3" height="5.3"/>
<rect x="177.1" y="202.6" width="5.3" height="5.3"/>
<rect x="142.6" y="116.3" width="5.3" height="5.3"/>
</g>
<g fill="#F9655A">
<circle cx="252.3" cy="173.6" r="2.95"/>
<circle cx="275.0" cy="152.7" r="2.95"/>
</g>
<g fill="#5794FF">
<rect x="267.5" y="177.2" width="5.3" height="5.3"/>
</g>
<g fill="#00B534">
<path d="M242.2 153.1l3.85 6.6h-7.7z"/>
</g>
<g fill="#5794FF">
<rect x="184.7" y="205.6" width="5.3" height="5.3"/>
</g>
<g fill="#00B534">
<path d="M180.1 161.3l3.85 6.6h-7.7z"/>
<path d="M159.9 166.3l3.85 6.6h-7.7z"/>
</g>
<g fill="#5794FF">
<rect x="154.8" y="145.1" width="5.3" height="5.3"/>
</g>
<g fill="#00B534">
<path d="M167.4 135.0l3.85 6.6h-7.7z"/>
<path d="M174.8 157.0l3.85 6.6h-7.7z"/>
</g>
<g fill="#5794FF">
<rect x="207.4" y="196.3" width="5.3" height="5.3"/>
</g>
<g fill="#00B534">
<path d="M282.4 147.4l3.85 6.6h-7.7z"/>
<path d="M234.9 145.9l3.85 6.6h-7.7z"/>
<path d="M162.5 192.1l3.85 6.6h-7.7z"/>
</g>
<g fill="#F9655A">
<circle cx="272.6" cy="175.1" r="2.95"/>
</g>
<g fill="#5794FF">
<rect x="207.2" y="127.1" width="5.3" height="5.3"/>
</g>
<g fill="#F9655A">
<circle cx="155.2" cy="169.9" r="2.95"/>
</g>
<g fill="#00B534">
<path d="M197.6 113.3l3.85 6.6h-7.7z"/>
</g>
<g fill="#F9655A">
<circle cx="210.2" cy="197.0" r="2.95"/>
</g>
<g fill="#5794FF">
<rect x="244.8" y="104.4" width="5.3" height="5.3"/>
</g>
<g fill="#00B534">
<path d="M249.7 130.5l3.85 6.6h-7.7z"/>
</g>
<g fill="#5794FF">
<rect x="182.5" y="118.2" width="5.3" height="5.3"/>
<rect x="207.2" y="95.1" width="5.3" height="5.3"/>
</g>
<g fill="#F9655A">
<circle cx="192.3" cy="183.5" r="2.95"/>
</g>
<g fill="#5794FF">
<rect x="187.6" y="84.5" width="5.3" height="5.3"/>
<rect x="252.1" y="137.6" width="5.3" height="5.3"/>
<rect x="204.7" y="172.8" width="5.3" height="5.3"/>
<rect x="215.1" y="172.0" width="5.3" height="5.3"/>
</g>
<g fill="#00B534">
<path d="M227.4 113.1l3.85 6.6h-7.7z"/>
</g>
<g fill="#F9655A">
<circle cx="220.0" cy="201.1" r="2.95"/>
</g>
<g fill="#5794FF">
<rect x="207.6" y="190.9" width="5.3" height="5.3"/>
</g>
<g fill="#F9655A">
<circle cx="212.3" cy="207.7" r="2.95"/>
</g>
<g fill="#5794FF">
<rect x="170.0" y="189.4" width="5.3" height="5.3"/>
</g>
<g fill="#00B534">
<path d="M187.2 182.4l3.85 6.6h-7.7z"/>
<path d="M245.2 192.2l3.85 6.6h-7.7z"/>
<path d="M257.7 156.1l3.85 6.6h-7.7z"/>
<path d="M200.3 105.9l3.85 6.6h-7.7z"/>
</g>
<g fill="#5794FF">
<rect x="154.8" y="152.4" width="5.3" height="5.3"/>
<rect x="152.5" y="126.6" width="5.3" height="5.3"/>
<rect x="227.6" y="104.0" width="5.3" height="5.3"/>
<rect x="162.5" y="135.0" width="5.3" height="5.3"/>
</g>
<g fill="#00B534">
<path d="M252.8 146.6l3.85 6.6h-7.7z"/>
</g>
<g fill="#5794FF">
<rect x="182.2" y="176.4" width="5.3" height="5.3"/>
<rect x="280.1" y="190.8" width="5.3" height="5.3"/>
</g>
<g fill="#00B534">
<path d="M267.7 195.2l3.85 6.6h-7.7z"/>
</g>
<g fill="#F9655A">
<circle cx="197.6" cy="171.3" r="2.95"/>
<circle cx="252.6" cy="192.3" r="2.95"/>
</g>
<g fill="#00B534">
<path d="M247.7 152.3l3.85 6.6h-7.7z"/>
</g>
<g fill="#F9655A">
<circle cx="212.8" cy="122.6" r="2.95"/>
</g>
<g fill="#5794FF">
<rect x="172.2" y="157.1" width="5.3" height="5.3"/>
<rect x="164.7" y="129.5" width="5.3" height="5.3"/>
<rect x="269.6" y="141.0" width="5.3" height="5.3"/>
<rect x="154.6" y="130.0" width="5.3" height="5.3"/>
</g>
<g fill="#F9655A">
<circle cx="139.9" cy="156.3" r="2.95"/>
</g>
<g fill="#00B534">
<path d="M232.6 208.8l3.85 6.6h-7.7z"/>
</g>
<g fill="#5794FF">
<rect x="269.7" y="169.1" width="5.3" height="5.3"/>
<rect x="264.7" y="182.5" width="5.3" height="5.3"/>
<rect x="217.3" y="84.4" width="5.3" height="5.3"/>
</g>
<g fill="#00B534">
<path d="M197.3 105.1l3.85 6.6h-7.7z"/>
</g>
<g fill="#F9655A">
<circle cx="144.9" cy="165.9" r="2.95"/>
</g>
<g fill="#5794FF">
<rect x="187.2" y="155.9" width="5.3" height="5.3"/>
</g>
<g fill="#F9655A">
<circle cx="177.4" cy="148.8" r="2.95"/>
<circle cx="205.1" cy="211.3" r="2.95"/>
</g>
<g fill="#5794FF">
<rect x="215.0" y="142.9" width="5.3" height="5.3"/>
<rect x="272.6" y="136.4" width="5.3" height="5.3"/>
<rect x="195.1" y="140.1" width="5.3" height="5.3"/>
<rect x="177.4" y="106.3" width="5.3" height="5.3"/>
<rect x="210.1" y="73.8" width="5.3" height="5.3"/>
</g>
<g fill="#F9655A">
<circle cx="155.1" cy="158.9" r="2.95"/>
</g>
<g fill="#00B534">
<path d="M154.8 183.7l3.85 6.6h-7.7z"/>
</g>
<g fill="#5794FF">
<rect x="179.8" y="94.8" width="5.3" height="5.3"/>
<rect x="224.9" y="81.8" width="5.3" height="5.3"/>
</g>
<g fill="#F9655A">
<circle cx="237.6" cy="180.4" r="2.95"/>
</g>
<g fill="#00B534">
<path d="M147.5 206.6l3.85 6.6h-7.7z"/>
</g>
<g fill="#F9655A">
<circle cx="142.8" cy="208.4" r="2.95"/>
</g>
<g fill="#5794FF">
<rect x="274.7" y="189.7" width="5.3" height="5.3"/>
</g>
<g fill="#00B534">
<path d="M260.2 191.0l3.85 6.6h-7.7z"/>
</g>
<g fill="#5794FF">
<rect x="149.7" y="185.4" width="5.3" height="5.3"/>
<rect x="202.1" y="192.1" width="5.3" height="5.3"/>
<rect x="227.4" y="141.2" width="5.3" height="5.3"/>
<rect x="192.6" y="118.0" width="5.3" height="5.3"/>
</g>
<g fill="#F9655A">
<circle cx="260.0" cy="146.7" r="2.95"/>
</g>
<g fill="#5794FF">
<rect x="232.3" y="141.9" width="5.3" height="5.3"/>
<rect x="272.2" y="128.9" width="5.3" height="5.3"/>
<rect x="199.7" y="114.4" width="5.3" height="5.3"/>
<rect x="272.1" y="149.3" width="5.3" height="5.3"/>
<rect x="255.1" y="209.0" width="5.3" height="5.3"/>
</g>
<g fill="#F9655A">
<circle cx="170.1" cy="111.8" r="2.95"/>
</g>
<g fill="#5794FF">
<rect x="167.1" y="184.6" width="5.3" height="5.3"/>
</g>
<g fill="#00B534">
<path d="M169.9 141.8l3.85 6.6h-7.7z"/>
</g>
<g fill="#5794FF">
<rect x="182.4" y="115.7" width="5.3" height="5.3"/>
</g>
<g fill="#00B534">
<path d="M177.7 195.5l3.85 6.6h-7.7z"/>
<path d="M225.2 195.3l3.85 6.6h-7.7z"/>
<path d="M232.4 177.4l3.85 6.6h-7.7z"/>
</g>
<g fill="#5794FF">
<rect x="220.0" y="99.5" width="5.3" height="5.3"/>
</g>
<g fill="#00B534">
<path d="M189.8 128.1l3.85 6.6h-7.7z"/>
</g>
<g fill="#5794FF">
<rect x="189.8" y="84.3" width="5.3" height="5.3"/>
<rect x="204.7" y="201.7" width="5.3" height="5.3"/>
</g>
<g fill="#F9655A">
<circle cx="165.2" cy="174.4" r="2.95"/>
</g>
<g fill="#00B534">
<path d="M197.7 195.3l3.85 6.6h-7.7z"/>
</g>
<g fill="#F9655A">
<circle cx="274.8" cy="161.6" r="2.95"/>
</g>
<g fill="#5794FF">
<rect x="159.6" y="178.4" width="5.3" height="5.3"/>
</g>
<g fill="#00B534">
<path d="M187.6 206.6l3.85 6.6h-7.7z"/>
</g>
<g fill="#5794FF">
<rect x="257.3" y="126.9" width="5.3" height="5.3"/>
<rect x="247.3" y="147.3" width="5.3" height="5.3"/>
<rect x="262.1" y="148.9" width="5.3" height="5.3"/>
<rect x="167.3" y="198.0" width="5.3" height="5.3"/>
<rect x="174.7" y="88.1" width="5.3" height="5.3"/>
</g>
<g fill="#00B534">
<path d="M207.4 135.9l3.85 6.6h-7.7z"/>
</g>
<g fill="#5794FF">
<rect x="237.1" y="133.7" width="5.3" height="5.3"/>
</g>
<g fill="#00B534">
<path d="M179.9 107.7l3.85 6.6h-7.7z"/>
</g>
<g fill="#5794FF">
<rect x="205.0" y="190.2" width="5.3" height="5.3"/>
</g>
<g fill="#00B534">
<path d="M197.2 124.9l3.85 6.6h-7.7z"/>
</g>
<g fill="#5794FF">
<rect x="227.2" y="114.8" width="5.3" height="5.3"/>
<rect x="237.1" y="120.8" width="5.3" height="5.3"/>
<rect x="149.9" y="157.4" width="5.3" height="5.3"/>
</g>
<g fill="#00B534">
<path d="M217.3 191.1l3.85 6.6h-7.7z"/>
</g>
<g fill="#5794FF">
<rect x="227.6" y="179.4" width="5.3" height="5.3"/>
</g>
<g fill="#F9655A">
<circle cx="145.0" cy="185.2" r="2.95"/>
<circle cx="245.2" cy="192.6" r="2.95"/>
<circle cx="247.4" cy="174.9" r="2.95"/>
</g>
<g fill="#5794FF">
<rect x="237.3" y="128.4" width="5.3" height="5.3"/>
</g>
<g fill="#00B534">
<path d="M152.6 189.1l3.85 6.6h-7.7z"/>
</g>
<g fill="#5794FF">
<rect x="230.1" y="158.9" width="5.3" height="5.3"/>
</g>
<g fill="#F9655A">
<circle cx="227.2" cy="129.7" r="2.95"/>
</g>
<g fill="#00B534">
<path d="M277.7 199.3l3.85 6.6h-7.7z"/>
<path d="M217.6 188.2l3.85 6.6h-7.7z"/>
</g>
<g fill="#5794FF">
<rect x="169.8" y="178.3" width="5.3" height="5.3"/>
<rect x="147.4" y="125.2" width="5.3" height="5.3"/>
<rect x="184.9" y="136.4" width="5.3" height="5.3"/>
</g>
<g fill="#F9655A">
<circle cx="199.8" cy="208.3" r="2.95"/>
</g>
<g fill="#5794FF">
<rect x="144.8" y="197.6" width="5.3" height="5.3"/>
</g>
<g fill="#F9655A">
<circle cx="172.6" cy="186.4" r="2.95"/>
</g>
<g fill="#5794FF">
<rect x="215.0" y="180.5" width="5.3" height="5.3"/>
<rect x="224.7" y="155.3" width="5.3" height="5.3"/>
<rect x="169.8" y="202.5" width="5.3" height="5.3"/>
<rect x="149.9" y="206.9" width="5.3" height="5.3"/>
<rect x="177.5" y="166.4" width="5.3" height="5.3"/>
<rect x="167.2" y="123.1" width="5.3" height="5.3"/>
</g>
<g fill="#F9655A">
<circle cx="235.2" cy="205.6" r="2.95"/>
</g>
<g fill="#00B534">
<path d="M235.2 111.6l3.85 6.6h-7.7z"/>
</g>
<g fill="#5794FF">
<rect x="187.3" y="110.6" width="5.3" height="5.3"/>
</g>
<g fill="#00B534">
<path d="M242.8 202.3l3.85 6.6h-7.7z"/>
</g>
<g fill="#5794FF">
<rect x="227.4" y="105.1" width="5.3" height="5.3"/>
<rect x="187.3" y="121.1" width="5.3" height="5.3"/>
</g>
<g fill="#F9655A">
<circle cx="179.8" cy="101.7" r="2.95"/>
</g>
<g fill="#5794FF">
<rect x="195.1" y="74.3" width="5.3" height="5.3"/>
<rect x="197.4" y="134.5" width="5.3" height="5.3"/>
<rect x="219.7" y="164.4" width="5.3" height="5.3"/>
<rect x="250.0" y="133.6" width="5.3" height="5.3"/>
<rect x="140.0" y="172.9" width="5.3" height="5.3"/>
</g>
<g fill="#00B534">
<path d="M205.1 161.9l3.85 6.6h-7.7z"/>
</g>
<g fill="#5794FF">
<rect x="272.5" y="149.1" width="5.3" height="5.3"/>
</g>
<g fill="#F9655A">
<circle cx="270.1" cy="204.4" r="2.95"/>
</g>
<g fill="#5794FF">
<rect x="149.9" y="163.1" width="5.3" height="5.3"/>
</g>
<g fill="#F9655A">
<circle cx="165.2" cy="182.4" r="2.95"/>
</g>
<g fill="#00B534">
<path d="M179.7 143.3l3.85 6.6h-7.7z"/>
</g>
<g fill="#5794FF">
<rect x="244.6" y="104.6" width="5.3" height="5.3"/>
</g>
<g fill="#00B534">
<path d="M142.7 186.7l3.85 6.6h-7.7z"/>
<path d="M277.8 156.3l3.85 6.6h-7.7z"/>
</g>
<g fill="#5794FF">
<rect x="260.1" y="147.9" width="5.3" height="5.3"/>
</g>
<g fill="#00B534">
<path d="M282.4 164.0l3.85 6.6h-7.7z"/>
<path d="M222.3 165.3l3.85 6.6h-7.7z"/>
<path d="M252.3 138.6l3.85 6.6h-7.7z"/>
</g>
<g fill="#F9655A">
<circle cx="207.3" cy="208.5" r="2.95"/>
</g>
<g fill="#5794FF">
<rect x="177.5" y="189.7" width="5.3" height="5.3"/>
</g>
<g fill="#00B534">
<path d="M195.3 155.1l3.85 6.6h-7.7z"/>
</g>
<g fill="#5794FF">
<rect x="165.1" y="196.7" width="5.3" height="5.3"/>
</g>
<g fill="#F9655A">
<circle cx="185.0" cy="194.8" r="2.95"/>
<circle cx="144.9" cy="206.8" r="2.95"/>
<circle cx="160.2" cy="158.7" r="2.95"/>
<circle cx="282.3" cy="184.0" r="2.95"/>
</g>
<g fill="#5794FF">
<rect x="209.9" y="149.6" width="5.3" height="5.3"/>
<rect x="192.5" y="184.3" width="5.3" height="5.3"/>
<rect x="189.9" y="111.5" width="5.3" height="5.3"/>
</g>
<g fill="#00B534">
<path d="M219.9 98.6l3.85 6.6h-7.7z"/>
<path d="M275.2 144.5l3.85 6.6h-7.7z"/>
</g>
<g fill="#5794FF">
<rect x="264.9" y="126.8" width="5.3" height="5.3"/>
<rect x="150.0" y="125.3" width="5.3" height="5.3"/>
</g>
<g fill="#F9655A">
<circle cx="242.3" cy="164.6" r="2.95"/>
<circle cx="219.8" cy="133.7" r="2.95"/>
</g>
<g fill="#5794FF">
<rect x="179.8" y="129.1" width="5.3" height="5.3"/>
</g>
<g fill="#00B534">
<path d="M207.3 181.7l3.85 6.6h-7.7z"/>
<path d="M247.2 162.5l3.85 6.6h-7.7z"/>
</g>
<g fill="#5794FF">
<rect x="207.4" y="121.5" width="5.3" height="5.3"/>
<rect x="182.1" y="127.9" width="5.3" height="5.3"/>
</g>
<g fill="#F9655A">
<circle cx="222.7" cy="153.5" r="2.95"/>
</g>
<g fill="#00B534">
<path d="M274.8 130.2l3.85 6.6h-7.7z"/>
</g>
<g fill="#5794FF">
<rect x="232.4" y="91.5" width="5.3" height="5.3"/>
<rect x="215.1" y="126.5" width="5.3" height="5.3"/>
</g>
<g fill="#F9655A">
<circle cx="282.4" cy="156.3" r="2.95"/>
</g>
<g fill="#5794FF">
<rect x="209.8" y="151.8" width="5.3" height="5.3"/>
<rect x="160.0" y="142.4" width="5.3" height="5.3"/>
</g>
<g fill="#00B534">
<path d="M150.3 187.8l3.85 6.6h-7.7z"/>
<path d="M252.3 207.1l3.85 6.6h-7.7z"/>
</g>
<g fill="#5794FF">
<rect x="177.2" y="145.1" width="5.3" height="5.3"/>
</g>
<g fill="#F9655A">
<circle cx="259.8" cy="213.8" r="2.95"/>
</g>
<g fill="#5794FF">
<rect x="245.0" y="126.7" width="5.3" height="5.3"/>
<rect x="252.4" y="188.7" width="5.3" height="5.3"/>
<rect x="164.6" y="115.8" width="5.3" height="5.3"/>
</g>
<g fill="#00B534">
<path d="M202.3 113.8l3.85 6.6h-7.7z"/>
</g>
<g fill="#5794FF">
<rect x="189.7" y="209.2" width="5.3" height="5.3"/>
<rect x="167.3" y="125.2" width="5.3" height="5.3"/>
</g>
<g fill="#F9655A">
<circle cx="275.1" cy="205.1" r="2.95"/>
</g>
<g fill="#5794FF">
<rect x="247.1" y="193.9" width="5.3" height="5.3"/>
<rect x="145.0" y="172.3" width="5.3" height="5.3"/>
</g>
<g fill="#00B534">
<path d="M240.2 146.6l3.85 6.6h-7.7z"/>
</g>
<g fill="#5794FF">
<rect x="230.0" y="116.9" width="5.3" height="5.3"/>
</g>
<g fill="#00B534">
<path d="M235.3 129.4l3.85 6.6h-7.7z"/>
</g>
<g fill="#F9655A">
<circle cx="250.0" cy="173.5" r="2.95"/>
</g>
<g fill="#5794FF">
<rect x="189.8" y="137.5" width="5.3" height="5.3"/>
</g>
<g fill="#F9655A">
<circle cx="209.8" cy="177.9" r="2.95"/>
</g>
<g fill="#5794FF">
<rect x="209.6" y="139.2" width="5.3" height="5.3"/>
<rect x="154.7" y="175.5" width="5.3" height="5.3"/>
<rect x="157.5" y="198.6" width="5.3" height="5.3"/>
</g>
<g fill="#F9655A">
<circle cx="190.1" cy="178.7" r="2.95"/>
</g>
<g fill="#5794FF">
<rect x="227.5" y="137.9" width="5.3" height="5.3"/>
<rect x="262.2" y="212.8" width="5.3" height="5.3"/>
<rect x="212.4" y="95.2" width="5.3" height="5.3"/>
<rect x="204.8" y="105.2" width="5.3" height="5.3"/>
<rect x="210.1" y="148.2" width="5.3" height="5.3"/>
<rect x="220.0" y="158.5" width="5.3" height="5.3"/>
</g>
<g fill="#F9655A">
<circle cx="267.4" cy="126.9" r="2.95"/>
</g>
<g fill="#00B534">
<path d="M187.4 177.6l3.85 6.6h-7.7z"/>
<path d="M207.2 197.6l3.85 6.6h-7.7z"/>
<path d="M220.1 187.2l3.85 6.6h-7.7z"/>
</g>
<g fill="#5794FF">
<rect x="139.7" y="194.5" width="5.3" height="5.3"/>
</g>
<g fill="#F9655A">
<circle cx="179.9" cy="173.5" r="2.95"/>
<circle cx="159.9" cy="202.9" r="2.95"/>
</g>
<g fill="#5794FF">
<rect x="187.2" y="104.9" width="5.3" height="5.3"/>
<rect x="255.1" y="201.2" width="5.3" height="5.3"/>
</g>
<g fill="#F9655A">
<circle cx="247.6" cy="203.5" r="2.95"/>
</g>
<g fill="#00B534">
<path d="M220.2 185.0l3.85 6.6h-7.7z"/>
</g>
<g fill="#5794FF">
<rect x="142.1" y="117.5" width="5.3" height="5.3"/>
<rect x="214.7" y="128.8" width="5.3" height="5.3"/>
<rect x="217.4" y="80.0" width="5.3" height="5.3"/>
</g>
<g fill="#00B534">
<path d="M152.7 181.7l3.85 6.6h-7.7z"/>
</g>
<g fill="#5794FF">
<rect x="169.8" y="165.9" width="5.3" height="5.3"/>
</g>
<g fill="#00B534">
<path d="M222.3 89.4l3.85 6.6h-7.7z"/>
</g>
<g fill="#F9655A">
<circle cx="162.7" cy="191.2" r="2.95"/>
</g>
<g fill="#00B534">
<path d="M172.2 127.2l3.85 6.6h-7.7z"/>
</g>
<g fill="#F9655A">
<circle cx="175.0" cy="207.3" r="2.95"/>
</g>
<g fill="#5794FF">
<rect x="170.1" y="99.3" width="5.3" height="5.3"/>
<rect x="187.4" y="172.5" width="5.3" height="5.3"/>
<rect x="267.1" y="167.2" width="5.3" height="5.3"/>
</g>
<g fill="#00B534">
<path d="M230.1 100.9l3.85 6.6h-7.7z"/>
<path d="M217.8 181.2l3.85 6.6h-7.7z"/>
</g>
<g fill="#5794FF">
<rect x="197.6" y="172.2" width="5.3" height="5.3"/>
</g>
<g fill="#00B534">
<path d="M189.9 132.8l3.85 6.6h-7.7z"/>
</g>
<g fill="#F9655A">
<circle cx="232.2" cy="133.9" r="2.95"/>
</g>
<g fill="#00B534">
<path d="M277.6 129.9l3.85 6.6h-7.7z"/>
</g>
<g fill="#5794FF">
<rect x="169.8" y="105.2" width="5.3" height="5.3"/>
</g>
<g fill="#00B534">
<path d="M157.8 167.3l3.85 6.6h-7.7z"/>
</g>
<g fill="#5794FF">
<rect x="187.2" y="114.6" width="5.3" height="5.3"/>
<rect x="227.4" y="140.3" width="5.3" height="5.3"/>
</g>
<g fill="#00B534">
<path d="M237.7 182.5l3.85 6.6h-7.7z"/>
</g>
<g fill="#5794FF">
<rect x="149.9" y="145.7" width="5.3" height="5.3"/>
</g>
<g fill="#F9655A">
<circle cx="265.1" cy="162.9" r="2.95"/>
</g>
<g fill="#5794FF">
<rect x="187.5" y="174.6" width="5.3" height="5.3"/>
<rect x="150.1" y="131.6" width="5.3" height="5.3"/>
<rect x="212.1" y="140.4" width="5.3" height="5.3"/>
</g>
<g fill="#00B534">
<path d="M272.6 132.4l3.85 6.6h-7.7z"/>
</g>
<g fill="#5794FF">
<rect x="232.4" y="95.5" width="5.3" height="5.3"/>
</g>
<g fill="#00B534">
<path d="M257.3 172.7l3.85 6.6h-7.7z"/>
</g>
<g fill="#5794FF">
<rect x="169.6" y="121.2" width="5.3" height="5.3"/>
</g>
<g fill="#00B534">
<path d="M164.8 164.0l3.85 6.6h-7.7z"/>
</g>
<g fill="#5794FF">
<rect x="207.5" y="120.7" width="5.3" height="5.3"/>
<rect x="180.1" y="157.2" width="5.3" height="5.3"/>
<rect x="179.8" y="114.5" width="5.3" height="5.3"/>
<rect x="254.8" y="192.2" width="5.3" height="5.3"/>
</g>
<g fill="#F9655A">
<circle cx="227.2" cy="159.9" r="2.95"/>
</g>
<g fill="#5794FF">
<rect x="157.4" y="180.7" width="5.3" height="5.3"/>
</g>
<g fill="#00B534">
<path d="M165.2 145.7l3.85 6.6h-7.7z"/>
<path d="M219.8 102.1l3.85 6.6h-7.7z"/>
</g>
<g fill="#F9655A">
<circle cx="257.6" cy="130.2" r="2.95"/>
<circle cx="227.3" cy="195.8" r="2.95"/>
</g>
<g fill="#5794FF">
<rect x="269.7" y="172.6" width="5.3" height="5.3"/>
</g>
<g fill="#F9655A">
<circle cx="195.0" cy="137.6" r="2.95"/>
<circle cx="154.7" cy="185.1" r="2.95"/>
</g>
<g fill="#5794FF">
<rect x="214.9" y="204.7" width="5.3" height="5.3"/>
<rect x="185.0" y="116.3" width="5.3" height="5.3"/>
<rect x="229.7" y="163.6" width="5.3" height="5.3"/>
<rect x="137.2" y="180.8" width="5.3" height="5.3"/>
</g>
<g fill="#F9655A">
<circle cx="197.8" cy="168.2" r="2.95"/>
</g>
<g fill="#5794FF">
<rect x="179.7" y="126.2" width="5.3" height="5.3"/>
</g>
<g fill="#F9655A">
<circle cx="177.7" cy="204.9" r="2.95"/>
<circle cx="152.7" cy="191.5" r="2.95"/>
</g>
<g fill="#00B534">
<path d="M254.8 175.5l3.85 6.6h-7.7z"/>
<path d="M265.2 128.3l3.85 6.6h-7.7z"/>
</g>
<g fill="#5794FF">
<rect x="187.2" y="126.3" width="5.3" height="5.3"/>
<rect x="264.9" y="154.1" width="5.3" height="5.3"/>
</g>
<g fill="#00B534">
<path d="M147.8 178.3l3.85 6.6h-7.7z"/>
</g>
<g fill="#5794FF">
<rect x="190.1" y="98.4" width="5.3" height="5.3"/>
<rect x="162.5" y="206.0" width="5.3" height="5.3"/>
</g>
<g fill="#F9655A">
<circle cx="227.5" cy="135.2" r="2.95"/>
</g>
<g fill="#5794FF">
<rect x="190.0" y="124.4" width="5.3" height="5.3"/>
</g>
<g fill="#00B534">
<path d="M187.5 206.3l3.85 6.6h-7.7z"/>
<path d="M260.2 196.0l3.85 6.6h-7.7z"/>
</g>
<g fill="#F9655A">
<circle cx="170.2" cy="184.1" r="2.95"/>
<circle cx="220.3" cy="158.2" r="2.95"/>
<circle cx="202.7" cy="130.9" r="2.95"/>
</g>
<g fill="#5794FF">
<rect x="257.1" y="190.9" width="5.3" height="5.3"/>
<rect x="177.4" y="185.9" width="5.3" height="5.3"/>
<rect x="269.7" y="118.4" width="5.3" height="5.3"/>
<rect x="174.9" y="98.5" width="5.3" height="5.3"/>
<rect x="232.3" y="183.5" width="5.3" height="5.3"/>
<rect x="262.4" y="154.3" width="5.3" height="5.3"/>
</g>
<g fill="#00B534">
<path d="M250.3 143.0l3.85 6.6h-7.7z"/>
</g>
<g fill="#F9655A">
<circle cx="267.7" cy="180.3" r="2.95"/>
</g>
<g fill="#5794FF">
<rect x="172.5" y="119.7" width="5.3" height="5.3"/>
</g>
<g fill="#F9655A">
<circle cx="170.1" cy="203.3" r="2.95"/>
</g>
<g fill="#5794FF">
<rect x="277.5" y="122.1" width="5.3" height="5.3"/>
<rect x="257.4" y="116.3" width="5.3" height="5.3"/>
</g>
<g fill="#F9655A">
<circle cx="215.0" cy="151.6" r="2.95"/>
</g>
<g fill="#00B534">
<path d="M185.0 103.8l3.85 6.6h-7.7z"/>
<path d="M254.8 186.4l3.85 6.6h-7.7z"/>
</g>
<g fill="#F9655A">
<circle cx="162.6" cy="127.1" r="2.95"/>
</g>
<g fill="#00B534">
<path d="M270.2 188.0l3.85 6.6h-7.7z"/>
<path d="M167.5 167.5l3.85 6.6h-7.7z"/>
</g>
<g fill="#F9655A">
<circle cx="214.8" cy="209.8" r="2.95"/>
</g>
<g fill="#5794FF">
<rect x="197.5" y="203.2" width="5.3" height="5.3"/>
</g>
<g fill="#00B534">
<path d="M214.7 173.4l3.85 6.6h-7.7z"/>
</g>
<g fill="#5794FF">
<rect x="184.7" y="126.5" width="5.3" height="5.3"/>
<rect x="247.1" y="148.6" width="5.3" height="5.3"/>
</g>
<g fill="#00B534">
<path d="M257.6 157.1l3.85 6.6h-7.7z"/>
</g>
<g fill="#5794FF">
<rect x="174.9" y="127.3" width="5.3" height="5.3"/>
<rect x="172.2" y="148.2" width="5.3" height="5.3"/>
<rect x="177.2" y="138.4" width="5.3" height="5.3"/>
</g>
<g fill="#00B534">
<path d="M222.6 200.3l3.85 6.6h-7.7z"/>
<path d="M279.8 162.4l3.85 6.6h-7.7z"/>
</g>
<g fill="#F9655A">
<circle cx="179.8" cy="114.7" r="2.95"/>
</g>
<g fill="#5794FF">
<rect x="207.6" y="131.1" width="5.3" height="5.3"/>
</g>
<g fill="#00B534">
<path d="M177.4 114.6l3.85 6.6h-7.7z"/>
</g>
<g fill="#5794FF">
<rect x="164.6" y="119.1" width="5.3" height="5.3"/>
</g>
<g fill="#00B534">
<path d="M137.5 194.3l3.85 6.6h-7.7z"/>
</g>
<g fill="#F9655A">
<circle cx="145.2" cy="146.2" r="2.95"/>
</g>
<g fill="#5794FF">
<rect x="222.6" y="150.6" width="5.3" height="5.3"/>
<rect x="277.4" y="193.3" width="5.3" height="5.3"/>
</g>
<g fill="#F9655A">
<circle cx="190.3" cy="215.0" r="2.95"/>
</g>
<g fill="#00B534">
<path d="M202.7 108.9l3.85 6.6h-7.7z"/>
<path d="M167.7 138.6l3.85 6.6h-7.7z"/>
</g>
<g fill="#F9655A">
<circle cx="229.9" cy="170.4" r="2.95"/>
</g>
<g fill="#00B534">
<path d="M207.5 170.5l3.85 6.6h-7.7z"/>
</g>
<g fill="#5794FF">
<rect x="147.5" y="205.3" width="5.3" height="5.3"/>
</g>
<g fill="#00B534">
<path d="M234.9 194.3l3.85 6.6h-7.7z"/>
</g>
<g fill="#5794FF">
<rect x="259.7" y="113.6" width="5.3" height="5.3"/>
<rect x="219.7" y="103.4" width="5.3" height="5.3"/>
</g>
<g fill="#00B534">
<path d="M170.2 186.3l3.85 6.6h-7.7z"/>
</g>
<g fill="#F9655A">
<circle cx="260.1" cy="203.6" r="2.95"/>
</g>
<g fill="#5794FF">
<rect x="227.6" y="139.7" width="5.3" height="5.3"/>
<rect x="220.0" y="171.5" width="5.3" height="5.3"/>
</g>
<g fill="#00B534">
<path d="M192.6 152.7l3.85 6.6h-7.7z"/>
</g>
<g fill="#5794FF">
<rect x="197.6" y="157.3" width="5.3" height="5.3"/>
</g>
<g fill="#00B534">
<path d="M185.2 195.5l3.85 6.6h-7.7z"/>
</g>
<g fill="#5794FF">
<rect x="240.1" y="199.8" width="5.3" height="5.3"/>
</g>
<g fill="#00B534">
<path d="M142.5 165.6l3.85 6.6h-7.7z"/>
</g>
<g fill="#5794FF">
<rect x="232.3" y="149.7" width="5.3" height="5.3"/>
<rect x="222.1" y="119.2" width="5.3" height="5.3"/>
</g>
<g fill="#00B534">
<path d="M174.9 106.2l3.85 6.6h-7.7z"/>
<path d="M160.0 203.2l3.85 6.6h-7.7z"/>
<path d="M180.2 103.2l3.85 6.6h-7.7z"/>
<path d="M194.9 153.2l3.85 6.6h-7.7z"/>
</g>
<g fill="#F9655A">
<circle cx="229.9" cy="156.3" r="2.95"/>
</g>
<g fill="#5794FF">
<rect x="172.6" y="84.9" width="5.3" height="5.3"/>
</g>
<g fill="#F9655A">
<circle cx="202.5" cy="162.3" r="2.95"/>
</g>
<g fill="#5794FF">
<rect x="167.4" y="109.1" width="5.3" height="5.3"/>
</g>
<g fill="#F9655A">
<circle cx="215.0" cy="186.3" r="2.95"/>
</g>
<g fill="#5794FF">
<rect x="220.1" y="192.2" width="5.3" height="5.3"/>
<rect x="214.9" y="122.0" width="5.3" height="5.3"/>
<rect x="184.9" y="204.3" width="5.3" height="5.3"/>
<rect x="172.3" y="138.3" width="5.3" height="5.3"/>
</g>
<g fill="#F9655A">
<circle cx="172.3" cy="188.0" r="2.95"/>
</g>
<g fill="#5794FF">
<rect x="177.1" y="114.9" width="5.3" height="5.3"/>
</g>
<g fill="#00B534">
<path d="M272.8 212.2l3.85 6.6h-7.7z"/>
</g>
<g fill="#F9655A">
<circle cx="185.2" cy="213.7" r="2.95"/>
</g>
<g fill="#5794FF">
<rect x="262.4" y="167.1" width="5.3" height="5.3"/>
<rect x="277.2" y="190.9" width="5.3" height="5.3"/>
<rect x="262.5" y="206.3" width="5.3" height="5.3"/>
<rect x="232.4" y="119.7" width="5.3" height="5.3"/>
</g>
<g fill="#F9655A">
<circle cx="224.9" cy="139.8" r="2.95"/>
<circle cx="190.2" cy="195.0" r="2.95"/>
</g>
<g fill="#00B534">
<path d="M244.9 209.9l3.85 6.6h-7.7z"/>
</g>
<g fill="#5794FF">
<rect x="184.7" y="108.8" width="5.3" height="5.3"/>
</g>
<g fill="#00B534">
<path d="M172.5 102.3l3.85 6.6h-7.7z"/>
</g>
<g fill="#5794FF">
<rect x="235.0" y="111.5" width="5.3" height="5.3"/>
</g>
<g fill="#00B534">
<path d="M242.8 206.3l3.85 6.6h-7.7z"/>
<path d="M174.8 168.5l3.85 6.6h-7.7z"/>
<path d="M167.2 111.9l3.85 6.6h-7.7z"/>
</g>
<g fill="#F9655A">
<circle cx="282.7" cy="184.7" r="2.95"/>
<circle cx="197.4" cy="133.6" r="2.95"/>
<circle cx="200.2" cy="213.8" r="2.95"/>
</g>
<g fill="#00B534">
<path d="M212.7 171.1l3.85 6.6h-7.7z"/>
<path d="M229.9 139.3l3.85 6.6h-7.7z"/>
</g>
<g fill="#5794FF">
<rect x="152.2" y="173.1" width="5.3" height="5.3"/>
</g>
<g fill="#F9655A">
<circle cx="140.0" cy="205.7" r="2.95"/>
<circle cx="169.9" cy="198.5" r="2.95"/>
<circle cx="222.4" cy="208.0" r="2.95"/>
</g>
<g fill="#5794FF">
<rect x="172.3" y="133.1" width="5.3" height="5.3"/>
</g>
<g fill="#00B534">
<path d="M182.3 172.1l3.85 6.6h-7.7z"/>
</g>
<g fill="#5794FF">
<rect x="255.0" y="212.3" width="5.3" height="5.3"/>
</g>
<g fill="#00B534">
<path d="M232.3 198.6l3.85 6.6h-7.7z"/>
</g>
<g fill="#5794FF">
<rect x="167.1" y="167.5" width="5.3" height="5.3"/>
<rect x="170.0" y="130.2" width="5.3" height="5.3"/>
<rect x="242.5" y="207.4" width="5.3" height="5.3"/>
</g>
<g fill="#F9655A">
<circle cx="202.6" cy="213.8" r="2.95"/>
</g>
<g fill="#5794FF">
<rect x="197.4" y="120.2" width="5.3" height="5.3"/>
<rect x="169.7" y="109.9" width="5.3" height="5.3"/>
</g>
<g fill="#00B534">
<path d="M187.8 158.8l3.85 6.6h-7.7z"/>
</g>
<g fill="#5794FF">
<rect x="174.8" y="127.1" width="5.3" height="5.3"/>
<rect x="210.1" y="177.4" width="5.3" height="5.3"/>
<rect x="224.9" y="141.0" width="5.3" height="5.3"/>
</g>
<g fill="#00B534">
<path d="M174.8 138.5l3.85 6.6h-7.7z"/>
</g>
<g fill="#5794FF">
<rect x="195.1" y="74.9" width="5.3" height="5.3"/>
</g>
<g fill="#00B534">
<path d="M237.3 192.5l3.85 6.6h-7.7z"/>
<path d="M237.3 149.0l3.85 6.6h-7.7z"/>
</g>
<g fill="#5794FF">
<rect x="247.6" y="140.0" width="5.3" height="5.3"/>
</g>
<g fill="#F9655A">
<circle cx="254.8" cy="159.3" r="2.95"/>
<circle cx="205.1" cy="197.6" r="2.95"/>
</g>
<g fill="#00B534">
<path d="M185.1 171.7l3.85 6.6h-7.7z"/>
<path d="M270.2 149.4l3.85 6.6h-7.7z"/>
</g>
<g fill="#5794FF">
<rect x="252.3" y="158.3" width="5.3" height="5.3"/>
</g>
<g fill="#00B534">
<path d="M187.3 185.6l3.85 6.6h-7.7z"/>
<path d="M262.3 199.9l3.85 6.6h-7.7z"/>
</g>
<g fill="#5794FF">
<rect x="279.6" y="133.5" width="5.3" height="5.3"/>
<rect x="202.1" y="186.1" width="5.3" height="5.3"/>
<rect x="224.7" y="103.8" width="5.3" height="5.3"/>
</g>
<g fill="#00B534">
<path d="M219.7 211.7l3.85 6.6h-7.7z"/>
<path d="M230.1 180.9l3.85 6.6h-7.7z"/>
</g>
<g fill="#F9655A">
<circle cx="277.3" cy="204.5" r="2.95"/>
</g>
<g fill="#5794FF">
<rect x="177.5" y="138.4" width="5.3" height="5.3"/>
<rect x="232.6" y="112.3" width="5.3" height="5.3"/>
<rect x="134.9" y="172.5" width="5.3" height="5.3"/>
</g>
<g fill="#00B534">
<path d="M234.9 164.0l3.85 6.6h-7.7z"/>
</g>
<g fill="#5794FF">
<rect x="199.6" y="182.9" width="5.3" height="5.3"/>
<rect x="137.1" y="176.1" width="5.3" height="5.3"/>
</g>
<g fill="#00B534">
<path d="M152.7 165.2l3.85 6.6h-7.7z"/>
</g>
<g fill="#5794FF">
<rect x="237.2" y="168.8" width="5.3" height="5.3"/>
<rect x="175.1" y="140.1" width="5.3" height="5.3"/>
</g>
<g fill="#00B534">
<path d="M262.3 188.1l3.85 6.6h-7.7z"/>
</g>
<g fill="#5794FF">
<rect x="214.7" y="204.9" width="5.3" height="5.3"/>
<rect x="172.5" y="171.5" width="5.3" height="5.3"/>
<rect x="157.4" y="181.6" width="5.3" height="5.3"/>
<rect x="160.1" y="145.1" width="5.3" height="5.3"/>
</g>
<g fill="#00B534">
<path d="M240.2 127.8l3.85 6.6h-7.7z"/>
</g>
<g fill="#F9655A">
<circle cx="189.8" cy="193.2" r="2.95"/>
</g>
<g fill="#5794FF">
<rect x="187.1" y="122.1" width="5.3" height="5.3"/>
<rect x="249.6" y="210.1" width="5.3" height="5.3"/>
</g>
<g fill="#00B534">
<path d="M227.6 168.5l3.85 6.6h-7.7z"/>
</g>
<g fill="#5794FF">
<rect x="172.3" y="125.6" width="5.3" height="5.3"/>
<rect x="230.0" y="108.2" width="5.3" height="5.3"/>
<rect x="137.2" y="133.3" width="5.3" height="5.3"/>
</g>
<g fill="#00B534">
<path d="M217.4 141.8l3.85 6.6h-7.7z"/>
</g>
<g fill="#5794FF">
<rect x="192.3" y="142.7" width="5.3" height="5.3"/>
<rect x="199.8" y="206.0" width="5.3" height="5.3"/>
<rect x="219.9" y="135.0" width="5.3" height="5.3"/>
</g>
<g fill="#F9655A">
<circle cx="187.6" cy="151.4" r="2.95"/>
</g>
<g fill="#00B534">
<path d="M232.8 148.6l3.85 6.6h-7.7z"/>
<path d="M227.5 155.7l3.85 6.6h-7.7z"/>
</g>
<g fill="#5794FF">
<rect x="234.8" y="143.5" width="5.3" height="5.3"/>
<rect x="262.2" y="193.4" width="5.3" height="5.3"/>
</g>
<g fill="#F9655A">
<circle cx="169.7" cy="151.3" r="2.95"/>
</g>
<g fill="#5794FF">
<rect x="170.0" y="95.3" width="5.3" height="5.3"/>
</g>
<g fill="#00B534">
<path d="M142.6 177.3l3.85 6.6h-7.7z"/>
<path d="M152.5 163.7l3.85 6.6h-7.7z"/>
</g>
<g fill="#5794FF">
<rect x="157.1" y="137.5" width="5.3" height="5.3"/>
<rect x="240.0" y="142.2" width="5.3" height="5.3"/>
<rect x="219.8" y="204.0" width="5.3" height="5.3"/>
</g>
<g fill="#00B534">
<path d="M197.4 207.6l3.85 6.6h-7.7z"/>
</g>
<g fill="#5794FF">
<rect x="162.6" y="129.6" width="5.3" height="5.3"/>
</g>
<g fill="#00B534">
<path d="M282.4 136.1l3.85 6.6h-7.7z"/>
</g>
<g fill="#F9655A">
<circle cx="157.3" cy="128.7" r="2.95"/>
<circle cx="147.7" cy="200.8" r="2.95"/>
</g>
<g fill="#00B534">
<path d="M225.0 109.1l3.85 6.6h-7.7z"/>
</g>
<g fill="#5794FF">
<rect x="277.6" y="125.1" width="5.3" height="5.3"/>
<rect x="192.6" y="112.1" width="5.3" height="5.3"/>
<rect x="235.0" y="75.7" width="5.3" height="5.3"/>
<rect x="267.6" y="135.7" width="5.3" height="5.3"/>
<rect x="239.6" y="129.7" width="5.3" height="5.3"/>
</g>
<g fill="#00B534">
<path d="M244.9 172.4l3.85 6.6h-7.7z"/>
<path d="M165.2 149.0l3.85 6.6h-7.7z"/>
</g>
<g fill="#5794FF">
<rect x="139.7" y="187.9" width="5.3" height="5.3"/>
<rect x="162.3" y="158.0" width="5.3" height="5.3"/>
<rect x="207.3" y="125.0" width="5.3" height="5.3"/>
<rect x="217.1" y="143.9" width="5.3" height="5.3"/>
</g>
<g fill="#00B534">
<path d="M192.5 151.0l3.85 6.6h-7.7z"/>
</g>
<g fill="#F9655A">
<circle cx="239.8" cy="162.9" r="2.95"/>
</g>
<g fill="#5794FF">
<rect x="162.3" y="179.0" width="5.3" height="5.3"/>
<rect x="149.7" y="171.3" width="5.3" height="5.3"/>
</g>
<g fill="#00B534">
<path d="M160.0 203.3l3.85 6.6h-7.7z"/>
</g>
<g fill="#5794FF">
<rect x="137.4" y="198.9" width="5.3" height="5.3"/>
<rect x="254.8" y="128.9" width="5.3" height="5.3"/>
</g>
<g fill="#F9655A">
<circle cx="177.3" cy="198.3" r="2.95"/>
</g>
<g fill="#00B534">
<path d="M179.9 192.8l3.85 6.6h-7.7z"/>
<path d="M237.3 183.2l3.85 6.6h-7.7z"/>
<path d="M237.8 139.3l3.85 6.6h-7.7z"/>
</g>
<g fill="#5794FF">
<rect x="255.1" y="107.5" width="5.3" height="5.3"/>
</g>
<g fill="#00B534">
<path d="M227.7 179.0l3.85 6.6h-7.7z"/>
</g>
<g fill="#5794FF">
<rect x="280.0" y="182.5" width="5.3" height="5.3"/>
<rect x="212.6" y="132.9" width="5.3" height="5.3"/>
</g>
<g fill="#F9655A">
<circle cx="159.9" cy="136.1" r="2.95"/>
</g>
<g fill="#00B534">
<path d="M137.6 189.3l3.85 6.6h-7.7z"/>
</g>
<g fill="#F9655A">
<circle cx="250.2" cy="173.9" r="2.95"/>
<circle cx="147.6" cy="180.8" r="2.95"/>
</g>
<g fill="#5794FF">
<rect x="209.6" y="135.0" width="5.3" height="5.3"/>
</g>
<g fill="#F9655A">
<circle cx="229.7" cy="102.7" r="2.95"/>
</g>
<g fill="#5794FF">
<rect x="139.9" y="143.6" width="5.3" height="5.3"/>
</g>
<g fill="#F9655A">
<circle cx="229.9" cy="215.7" r="2.95"/>
<circle cx="149.9" cy="206.8" r="2.95"/>
</g>
<g fill="#5794FF">
<rect x="152.1" y="149.2" width="5.3" height="5.3"/>
</g>
<g fill="#F9655A">
<circle cx="259.9" cy="202.1" r="2.95"/>
</g>
<g fill="#00B534">
<path d="M245.2 141.8l3.85 6.6h-7.7z"/>
</g>
<g fill="#F9655A">
<circle cx="150.2" cy="185.0" r="2.95"/>
</g>
<g fill="#00B534">
<path d="M277.2 211.7l3.85 6.6h-7.7z"/>
</g>
<g fill="#F9655A">
<circle cx="270.2" cy="190.7" r="2.95"/>
</g>
<g fill="#00B534">
<path d="M277.4 167.1l3.85 6.6h-7.7z"/>
<path d="M187.7 125.4l3.85 6.6h-7.7z"/>
</g>
<g fill="#5794FF">
<rect x="239.7" y="149.8" width="5.3" height="5.3"/>
<rect x="215.0" y="102.9" width="5.3" height="5.3"/>
<rect x="169.8" y="109.0" width="5.3" height="5.3"/>
</g>
<g fill="#F9655A">
<circle cx="175.1" cy="165.4" r="2.95"/>
</g>
<g fill="#00B534">
<path d="M187.2 105.2l3.85 6.6h-7.7z"/>
<path d="M157.7 128.8l3.85 6.6h-7.7z"/>
</g>
<g fill="#F9655A">
<circle cx="207.4" cy="158.0" r="2.95"/>
</g>
<g fill="#5794FF">
<rect x="234.9" y="135.4" width="5.3" height="5.3"/>
<rect x="249.8" y="169.4" width="5.3" height="5.3"/>
<rect x="227.5" y="143.7" width="5.3" height="5.3"/>
<rect x="225.1" y="95.9" width="5.3" height="5.3"/>
<rect x="212.6" y="89.3" width="5.3" height="5.3"/>
</g>
<g fill="#00B534">
<path d="M249.9 119.5l3.85 6.6h-7.7z"/>
</g>
<g fill="#5794FF">
<rect x="262.5" y="134.4" width="5.3" height="5.3"/>
</g>
<g fill="#F9655A">
<circle cx="262.6" cy="159.7" r="2.95"/>
</g>
<g fill="#5794FF">
<rect x="170.1" y="162.5" width="5.3" height="5.3"/>
</g>
<g fill="#F9655A">
<circle cx="185.3" cy="213.2" r="2.95"/>
</g>
<g fill="#5794FF">
<rect x="182.5" y="119.6" width="5.3" height="5.3"/>
</g>
<g fill="#00B534">
<path d="M259.8 207.9l3.85 6.6h-7.7z"/>
</g>
<g fill="#5794FF">
<rect x="270.0" y="191.6" width="5.3" height="5.3"/>
</g>
<g fill="#F9655A">
<circle cx="174.9" cy="176.4" r="2.95"/>
<circle cx="170.1" cy="205.2" r="2.95"/>
</g>
<g fill="#5794FF">
<rect x="162.1" y="166.4" width="5.3" height="5.3"/>
<rect x="189.9" y="128.4" width="5.3" height="5.3"/>
<rect x="207.3" y="111.3" width="5.3" height="5.3"/>
</g>
<g fill="#00B534">
<path d="M249.9 132.2l3.85 6.6h-7.7z"/>
<path d="M212.3 210.5l3.85 6.6h-7.7z"/>
</g>
<g fill="#F9655A">
<circle cx="237.5" cy="181.2" r="2.95"/>
</g>
<g fill="#5794FF">
<rect x="225.1" y="175.7" width="5.3" height="5.3"/>
</g>
<g fill="#F9655A">
<circle cx="265.3" cy="165.7" r="2.95"/>
</g>
<g fill="#00B534">
<path d="M239.8 147.9l3.85 6.6h-7.7z"/>
</g>
<g fill="#5794FF">
<rect x="257.5" y="195.5" width="5.3" height="5.3"/>
</g>
<g fill="#00B534">
<path d="M219.8 103.5l3.85 6.6h-7.7z"/>
<path d="M224.8 175.9l3.85 6.6h-7.7z"/>
</g>
<g fill="#5794FF">
<rect x="160.1" y="165.1" width="5.3" height="5.3"/>
<rect x="199.7" y="110.8" width="5.3" height="5.3"/>
<rect x="247.6" y="147.6" width="5.3" height="5.3"/>
</g>
<g fill="#F9655A">
<circle cx="252.6" cy="195.7" r="2.95"/>
<circle cx="140.3" cy="161.7" r="2.95"/>
</g>
<g fill="#5794FF">
<rect x="254.8" y="209.7" width="5.3" height="5.3"/>
</g>
<g fill="#F9655A">
<circle cx="162.4" cy="186.7" r="2.95"/>
</g>
<g fill="#5794FF">
<rect x="187.6" y="198.9" width="5.3" height="5.3"/>
<rect x="252.5" y="139.7" width="5.3" height="5.3"/>
<rect x="254.9" y="211.1" width="5.3" height="5.3"/>
</g>
<g fill="#00B534">
<path d="M194.9 146.5l3.85 6.6h-7.7z"/>
<path d="M219.8 172.4l3.85 6.6h-7.7z"/>
</g>
<g fill="#F9655A">
<circle cx="215.1" cy="195.7" r="2.95"/>
</g>
<g fill="#00B534">
<path d="M150.2 160.4l3.85 6.6h-7.7z"/>
</g>
<g fill="#5794FF">
<rect x="179.6" y="177.8" width="5.3" height="5.3"/>
</g>
<g fill="#00B534">
<path d="M265.0 207.3l3.85 6.6h-7.7z"/>
<path d="M140.2 193.0l3.85 6.6h-7.7z"/>
</g>
<g fill="#5794FF">
<rect x="222.6" y="132.9" width="5.3" height="5.3"/>
<rect x="210.1" y="99.0" width="5.3" height="5.3"/>
</g>
<g fill="#00B534">
<path d="M229.9 203.4l3.85 6.6h-7.7z"/>
</g>
<g fill="#5794FF">
<rect x="245.0" y="207.0" width="5.3" height="5.3"/>
</g>
<g fill="#00B534">
<path d="M222.2 141.2l3.85 6.6h-7.7z"/>
</g>
<g fill="#5794FF">
<rect x="185.0" y="146.7" width="5.3" height="5.3"/>
<rect x="212.5" y="110.4" width="5.3" height="5.3"/>
<rect x="189.9" y="87.3" width="5.3" height="5.3"/>
<rect x="142.6" y="147.4" width="5.3" height="5.3"/>
</g>
<g fill="#F9655A">
<circle cx="182.7" cy="200.7" r="2.95"/>
<circle cx="175.2" cy="182.8" r="2.95"/>
</g>
<g fill="#00B534">
<path d="M232.5 108.8l3.85 6.6h-7.7z"/>
</g>
<g fill="#F9655A">
<circle cx="147.5" cy="142.5" r="2.95"/>
</g>
<g fill="#5794FF">
<rect x="157.2" y="163.7" width="5.3" height="5.3"/>
<rect x="144.7" y="150.4" width="5.3" height="5.3"/>
<rect x="200.0" y="104.6" width="5.3" height="5.3"/>
<rect x="234.8" y="143.1" width="5.3" height="5.3"/>
</g>
<g fill="#F9655A">
<circle cx="175.0" cy="187.6" r="2.95"/>
</g>
<g fill="#5794FF">
<rect x="222.2" y="193.1" width="5.3" height="5.3"/>
</g>
<g fill="#F9655A">
<circle cx="227.6" cy="178.5" r="2.95"/>
</g>
<g fill="#5794FF">
<rect x="277.5" y="134.2" width="5.3" height="5.3"/>
<rect x="184.7" y="158.4" width="5.3" height="5.3"/>
</g>
<g fill="#00B534">
<path d="M252.4 157.8l3.85 6.6h-7.7z"/>
</g>
<g fill="#F9655A">
<circle cx="202.8" cy="131.3" r="2.95"/>
</g>
<g fill="#5794FF">
<rect x="242.6" y="134.2" width="5.3" height="5.3"/>
</g>
<g fill="#00B534">
<path d="M242.4 161.6l3.85 6.6h-7.7z"/>
</g>
<g fill="#F9655A">
<circle cx="252.4" cy="201.1" r="2.95"/>
<circle cx="177.7" cy="213.8" r="2.95"/>
<circle cx="250.0" cy="143.7" r="2.95"/>
</g>
<g fill="#5794FF">
<rect x="239.7" y="129.9" width="5.3" height="5.3"/>
</g>
<g fill="#F9655A">
<circle cx="217.7" cy="202.6" r="2.95"/>
</g>
<g fill="#5794FF">
<rect x="257.6" y="114.1" width="5.3" height="5.3"/>
</g>
<g fill="#F9655A">
<circle cx="187.7" cy="198.0" r="2.95"/>
</g>
<g fill="#00B534">
<path d="M207.2 174.0l3.85 6.6h-7.7z"/>
<path d="M207.5 180.6l3.85 6.6h-7.7z"/>
</g>
<g fill="#5794FF">
<rect x="204.8" y="114.6" width="5.3" height="5.3"/>
<rect x="254.7" y="171.0" width="5.3" height="5.3"/>
</g>
<g fill="#F9655A">
<circle cx="244.9" cy="199.6" r="2.95"/>
<circle cx="167.2" cy="172.6" r="2.95"/>
</g>
<g fill="#5794FF">
<rect x="187.1" y="114.7" width="5.3" height="5.3"/>
<rect x="202.4" y="117.2" width="5.3" height="5.3"/>
<rect x="214.6" y="149.0" width="5.3" height="5.3"/>
<rect x="187.1" y="141.8" width="5.3" height="5.3"/>
</g>
<g fill="#00B534">
<path d="M142.5 208.2l3.85 6.6h-7.7z"/>
<path d="M160.1 176.1l3.85 6.6h-7.7z"/>
<path d="M215.0 212.4l3.85 6.6h-7.7z"/>
<path d="M222.7 158.0l3.85 6.6h-7.7z"/>
<path d="M227.2 190.9l3.85 6.6h-7.7z"/>
<path d="M274.8 168.8l3.85 6.6h-7.7z"/>
<path d="M160.2 174.8l3.85 6.6h-7.7z"/>
</g>
<g fill="#5794FF">
<rect x="164.7" y="173.6" width="5.3" height="5.3"/>
</g>
<g fill="#F9655A">
<circle cx="269.8" cy="191.2" r="2.95"/>
<circle cx="194.8" cy="188.7" r="2.95"/>
</g>
<g fill="#00B534">
<path d="M205.1 151.5l3.85 6.6h-7.7z"/>
<path d="M167.7 138.3l3.85 6.6h-7.7z"/>
<path d="M169.9 208.4l3.85 6.6h-7.7z"/>
</g>
<g fill="#5794FF">
<rect x="209.7" y="156.4" width="5.3" height="5.3"/>
</g>
<g fill="#00B534">
<path d="M192.8 162.7l3.85 6.6h-7.7z"/>
</g>
<g fill="#5794FF">
<rect x="274.6" y="183.3" width="5.3" height="5.3"/>
</g>
<g fill="#00B534">
<path d="M230.1 169.6l3.85 6.6h-7.7z"/>
<path d="M229.9 102.5l3.85 6.6h-7.7z"/>
</g>
<g fill="#5794FF">
<rect x="139.6" y="148.2" width="5.3" height="5.3"/>
</g>
<g fill="#00B534">
<path d="M172.4 189.1l3.85 6.6h-7.7z"/>
<path d="M249.8 164.2l3.85 6.6h-7.7z"/>
</g>
<g fill="#5794FF">
<rect x="162.3" y="123.4" width="5.3" height="5.3"/>
</g>
<g fill="#00B534">
<path d="M277.3 155.7l3.85 6.6h-7.7z"/>
</g>
<g fill="#5794FF">
<rect x="207.5" y="154.9" width="5.3" height="5.3"/>
<rect x="187.6" y="77.1" width="5.3" height="5.3"/>
</g>
<g fill="#00B534">
<path d="M207.2 211.1l3.85 6.6h-7.7z"/>
<path d="M145.0 126.1l3.85 6.6h-7.7z"/>
</g>
<g fill="#5794FF">
<rect x="210.1" y="100.2" width="5.3" height="5.3"/>
</g>
<g fill="#00B534">
<path d="M217.6 196.8l3.85 6.6h-7.7z"/>
</g>
<g fill="#5794FF">
<rect x="189.9" y="157.1" width="5.3" height="5.3"/>
</g>
<g fill="#00B534">
<path d="M197.5 106.0l3.85 6.6h-7.7z"/>
<path d="M207.4 133.5l3.85 6.6h-7.7z"/>
</g>
<g fill="#5794FF">
<rect x="159.6" y="138.3" width="5.3" height="5.3"/>
<rect x="212.1" y="125.8" width="5.3" height="5.3"/>
</g>
<g fill="#F9655A">
<circle cx="250.2" cy="190.1" r="2.95"/>
</g>
<g fill="#00B534">
<path d="M162.3 125.0l3.85 6.6h-7.7z"/>
</g>
<g fill="#5794FF">
<rect x="197.6" y="206.3" width="5.3" height="5.3"/>
<rect x="262.3" y="145.4" width="5.3" height="5.3"/>
</g>
<g fill="#00B534">
<path d="M242.7 172.0l3.85 6.6h-7.7z"/>
<path d="M187.3 135.2l3.85 6.6h-7.7z"/>
<path d="M192.4 98.9l3.85 6.6h-7.7z"/>
<path d="M215.0 124.5l3.85 6.6h-7.7z"/>
</g>
<g fill="#F9655A">
<circle cx="234.8" cy="119.8" r="2.95"/>
</g>
<g fill="#5794FF">
<rect x="167.5" y="144.4" width="5.3" height="5.3"/>
<rect x="182.6" y="136.1" width="5.3" height="5.3"/>
</g>
<g fill="#F9655A">
<circle cx="242.4" cy="144.0" r="2.95"/>
</g>
<g fill="#00B534">
<path d="M157.3 168.1l3.85 6.6h-7.7z"/>
</g>
<g fill="#5794FF">
<rect x="154.8" y="171.6" width="5.3" height="5.3"/>
</g>
<g fill="#00B534">
<path d="M235.2 127.2l3.85 6.6h-7.7z"/>
</g>
<g fill="#5794FF">
<rect x="197.6" y="124.6" width="5.3" height="5.3"/>
</g>
<g fill="#F9655A">
<circle cx="169.8" cy="166.5" r="2.95"/>
<circle cx="144.9" cy="207.5" r="2.95"/>
</g>
<g fill="#5794FF">
<rect x="187.4" y="203.3" width="5.3" height="5.3"/>
</g>
<g fill="#F9655A">
<circle cx="139.9" cy="214.9" r="2.95"/>
</g>
<g fill="#00B534">
<path d="M247.4 172.2l3.85 6.6h-7.7z"/>
</g>
<g fill="#5794FF">
<rect x="137.3" y="181.6" width="5.3" height="5.3"/>
<rect x="242.1" y="127.7" width="5.3" height="5.3"/>
</g>
<g fill="#F9655A">
<circle cx="225.1" cy="138.4" r="2.95"/>
</g>
<g fill="#5794FF">
<rect x="195.0" y="125.1" width="5.3" height="5.3"/>
<rect x="215.1" y="112.7" width="5.3" height="5.3"/>
</g>
<g fill="#00B534">
<path d="M237.7 161.3l3.85 6.6h-7.7z"/>
</g>
<g fill="#5794FF">
<rect x="172.1" y="121.6" width="5.3" height="5.3"/>
</g>
<g fill="#00B534">
<path d="M187.8 116.3l3.85 6.6h-7.7z"/>
</g>
<g fill="#F9655A">
<circle cx="230.1" cy="180.7" r="2.95"/>
</g>
<g fill="#5794FF">
<rect x="220.0" y="107.6" width="5.3" height="5.3"/>
<rect x="214.8" y="87.2" width="5.3" height="5.3"/>
<rect x="232.5" y="178.0" width="5.3" height="5.3"/>
<rect x="187.6" y="188.0" width="5.3" height="5.3"/>
<rect x="182.6" y="194.3" width="5.3" height="5.3"/>
</g>
<g fill="#F9655A">
<circle cx="210.1" cy="172.3" r="2.95"/>
<circle cx="219.7" cy="134.6" r="2.95"/>
</g>
<g fill="#5794FF">
<rect x="174.7" y="165.7" width="5.3" height="5.3"/>
<rect x="267.5" y="147.1" width="5.3" height="5.3"/>
</g>
<g fill="#F9655A">
<circle cx="180.0" cy="173.4" r="2.95"/>
</g>
<g fill="#5794FF">
<rect x="152.5" y="121.3" width="5.3" height="5.3"/>
<rect x="200.0" y="121.1" width="5.3" height="5.3"/>
</g>
<g fill="#00B534">
<path d="M249.8 107.1l3.85 6.6h-7.7z"/>
</g>
<g fill="#5794FF">
<rect x="182.4" y="172.7" width="5.3" height="5.3"/>
</g>
<g fill="#00B534">
<path d="M255.0 170.5l3.85 6.6h-7.7z"/>
</g>
<g fill="#5794FF">
<rect x="262.3" y="213.0" width="5.3" height="5.3"/>
<rect x="259.9" y="138.8" width="5.3" height="5.3"/>
</g>
<g fill="#00B534">
<path d="M252.6 172.9l3.85 6.6h-7.7z"/>
<path d="M275.2 127.2l3.85 6.6h-7.7z"/>
<path d="M140.2 179.4l3.85 6.6h-7.7z"/>
</g>
<g fill="#5794FF">
<rect x="147.1" y="202.1" width="5.3" height="5.3"/>
</g>
<g fill="#00B534">
<path d="M274.8 123.9l3.85 6.6h-7.7z"/>
</g>
<g fill="#5794FF">
<rect x="222.2" y="173.3" width="5.3" height="5.3"/>
</g>
<g fill="#F9655A">
<circle cx="267.7" cy="177.1" r="2.95"/>
</g>
<g fill="#00B534">
<path d="M242.5 142.9l3.85 6.6h-7.7z"/>
</g>
<g fill="#5794FF">
<rect x="262.6" y="144.5" width="5.3" height="5.3"/>
<rect x="172.1" y="108.0" width="5.3" height="5.3"/>
</g>
<g fill="#F9655A">
<circle cx="207.7" cy="158.2" r="2.95"/>
</g>
<g fill="#5794FF">
<rect x="184.6" y="199.5" width="5.3" height="5.3"/>
</g>
<g fill="#00B534">
<path d="M215.0 212.3l3.85 6.6h-7.7z"/>
</g>
<g fill="#5794FF">
<rect x="152.4" y="195.8" width="5.3" height="5.3"/>
<rect x="155.0" y="115.0" width="5.3" height="5.3"/>
<rect x="237.1" y="147.7" width="5.3" height="5.3"/>
</g>
<g fill="#00B534">
<path d="M252.7 177.8l3.85 6.6h-7.7z"/>
</g>
<g fill="#F9655A">
<circle cx="142.3" cy="138.4" r="2.95"/>
</g>
<g fill="#5794FF">
<rect x="252.3" y="199.0" width="5.3" height="5.3"/>
<rect x="269.6" y="138.0" width="5.3" height="5.3"/>
</g>
<g fill="#00B534">
<path d="M239.9 192.8l3.85 6.6h-7.7z"/>
</g>
<g fill="#F9655A">
<circle cx="217.2" cy="193.8" r="2.95"/>
<circle cx="220.3" cy="201.1" r="2.95"/>
</g>
<g fill="#5794FF">
<rect x="185.0" y="113.1" width="5.3" height="5.3"/>
</g>
<g fill="#00B534">
<path d="M212.5 100.4l3.85 6.6h-7.7z"/>
</g>
<g fill="#5794FF">
<rect x="207.5" y="138.3" width="5.3" height="5.3"/>
<rect x="240.0" y="126.2" width="5.3" height="5.3"/>
</g>
<g fill="#00B534">
<path d="M237.4 108.0l3.85 6.6h-7.7z"/>
<path d="M157.6 132.1l3.85 6.6h-7.7z"/>
</g>
<g fill="#5794FF">
<rect x="219.6" y="193.1" width="5.3" height="5.3"/>
<rect x="197.4" y="171.6" width="5.3" height="5.3"/>
</g>
<g fill="#F9655A">
<circle cx="247.8" cy="210.1" r="2.95"/>
</g>
<g fill="#5794FF">
<rect x="169.8" y="187.6" width="5.3" height="5.3"/>
</g>
<g fill="#00B534">
<path d="M280.3 153.5l3.85 6.6h-7.7z"/>
</g>
<g fill="#5794FF">
<rect x="160.1" y="189.0" width="5.3" height="5.3"/>
<rect x="207.4" y="128.5" width="5.3" height="5.3"/>
<rect x="184.8" y="105.0" width="5.3" height="5.3"/>
<rect x="190.0" y="138.1" width="5.3" height="5.3"/>
<rect x="269.6" y="138.2" width="5.3" height="5.3"/>
</g>
<g fill="#00B534">
<path d="M195.1 212.5l3.85 6.6h-7.7z"/>
</g>
<g fill="#5794FF">
<rect x="195.1" y="113.4" width="5.3" height="5.3"/>
<rect x="197.5" y="164.4" width="5.3" height="5.3"/>
</g>
<g fill="#F9655A">
<circle cx="152.2" cy="213.0" r="2.95"/>
<circle cx="177.6" cy="130.8" r="2.95"/>
</g>
<g fill="#00B534">
<path d="M184.9 134.3l3.85 6.6h-7.7z"/>
</g>
<g fill="#F9655A">
<circle cx="255.0" cy="168.9" r="2.95"/>
</g>
<g fill="#5794FF">
<rect x="197.6" y="155.3" width="5.3" height="5.3"/>
<rect x="207.2" y="96.2" width="5.3" height="5.3"/>
<rect x="152.6" y="205.8" width="5.3" height="5.3"/>
</g>
<g fill="#00B534">
<path d="M199.9 156.0l3.85 6.6h-7.7z"/>
<path d="M172.3 204.6l3.85 6.6h-7.7z"/>
<path d="M162.5 174.6l3.85 6.6h-7.7z"/>
</g>
<g fill="#F9655A">
<circle cx="189.9" cy="147.1" r="2.95"/>
</g>
<g fill="#00B534">
<path d="M160.2 204.7l3.85 6.6h-7.7z"/>
</g>
<g fill="#F9655A">
<circle cx="152.7" cy="181.2" r="2.95"/>
</g>
<g fill="#00B534">
<path d="M184.8 192.1l3.85 6.6h-7.7z"/>
</g>
<g fill="#F9655A">
<circle cx="204.7" cy="206.9" r="2.95"/>
<circle cx="252.5" cy="215.1" r="2.95"/>
</g>
<g fill="#5794FF">
<rect x="237.6" y="199.2" width="5.3" height="5.3"/>
</g>
<g fill="#00B534">
<path d="M207.3 145.0l3.85 6.6h-7.7z"/>
</g>
<g fill="#5794FF">
<rect x="167.4" y="111.6" width="5.3" height="5.3"/>
</g>
<g fill="#00B534">
<path d="M162.3 187.9l3.85 6.6h-7.7z"/>
</g>
<g fill="#F9655A">
<circle cx="254.9" cy="194.2" r="2.95"/>
<circle cx="192.8" cy="191.4" r="2.95"/>
</g>
<g fill="#00B534">
<path d="M250.2 197.9l3.85 6.6h-7.7z"/>
<path d="M262.6 188.6l3.85 6.6h-7.7z"/>
</g>
<g fill="#5794FF">
<rect x="227.1" y="111.3" width="5.3" height="5.3"/>
<rect x="205.0" y="158.8" width="5.3" height="5.3"/>
</g>
<g fill="#00B534">
<path d="M177.3 193.6l3.85 6.6h-7.7z"/>
</g>
<g fill="#5794FF">
<rect x="229.7" y="127.3" width="5.3" height="5.3"/>
<rect x="190.1" y="164.9" width="5.3" height="5.3"/>
<rect x="179.6" y="105.7" width="5.3" height="5.3"/>
<rect x="237.4" y="140.1" width="5.3" height="5.3"/>
<rect x="137.4" y="175.9" width="5.3" height="5.3"/>
</g>
<g fill="#00B534">
<path d="M255.1 131.1l3.85 6.6h-7.7z"/>
</g>
<g fill="#5794FF">
<rect x="232.4" y="107.1" width="5.3" height="5.3"/>
</g>
<g fill="#00B534">
<path d="M230.2 170.3l3.85 6.6h-7.7z"/>
</g>
<g fill="#F9655A">
<circle cx="172.8" cy="155.6" r="2.95"/>
</g>
<g fill="#5794FF">
<rect x="184.6" y="104.6" width="5.3" height="5.3"/>
</g>
<g fill="#00B534">
<path d="M222.8 198.8l3.85 6.6h-7.7z"/>
</g>
<g fill="#5794FF">
<rect x="169.6" y="105.8" width="5.3" height="5.3"/>
</g>
<g fill="#00B534">
<path d="M202.7 186.0l3.85 6.6h-7.7z"/>
</g>
<g fill="#F9655A">
<circle cx="257.7" cy="182.1" r="2.95"/>
</g>
<g fill="#5794FF">
<rect x="199.6" y="209.9" width="5.3" height="5.3"/>
</g>
<g fill="#00B534">
<path d="M209.8 161.3l3.85 6.6h-7.7z"/>
</g>
<g fill="#5794FF">
<rect x="172.1" y="106.3" width="5.3" height="5.3"/>
<rect x="247.4" y="163.9" width="5.3" height="5.3"/>
<rect x="257.2" y="136.8" width="5.3" height="5.3"/>
</g>
<g fill="#00B534">
<path d="M155.3 206.1l3.85 6.6h-7.7z"/>
</g>
<g fill="#5794FF">
<rect x="184.8" y="161.7" width="5.3" height="5.3"/>
</g>
<g fill="#00B534">
<path d="M152.6 183.0l3.85 6.6h-7.7z"/>
</g>
<g fill="#5794FF">
<rect x="147.5" y="151.8" width="5.3" height="5.3"/>
</g>
<g fill="#F9655A">
<circle cx="177.7" cy="198.2" r="2.95"/>
</g>
<g fill="#5794FF">
<rect x="262.3" y="188.3" width="5.3" height="5.3"/>
</g>
<g fill="#00B534">
<path d="M155.1 202.6l3.85 6.6h-7.7z"/>
</g>
<g fill="#F9655A">
<circle cx="174.7" cy="154.3" r="2.95"/>
</g>
<g fill="#5794FF">
<rect x="187.3" y="98.5" width="5.3" height="5.3"/>
</g>
<g fill="#00B534">
<path d="M159.7 192.8l3.85 6.6h-7.7z"/>
<path d="M215.2 154.7l3.85 6.6h-7.7z"/>
</g>
<g fill="#5794FF">
<rect x="277.5" y="144.9" width="5.3" height="5.3"/>
</g>
<g fill="#F9655A">
<circle cx="157.4" cy="163.0" r="2.95"/>
</g>
<g fill="#5794FF">
<rect x="184.8" y="150.1" width="5.3" height="5.3"/>
</g>
<g fill="#F9655A">
<circle cx="175.2" cy="141.5" r="2.95"/>
</g>
<g fill="#5794FF">
<rect x="167.6" y="200.3" width="5.3" height="5.3"/>
<rect x="239.9" y="105.0" width="5.3" height="5.3"/>
</g>
<g fill="#00B534">
<path d="M152.6 152.3l3.85 6.6h-7.7z"/>
</g>
<g fill="#5794FF">
<rect x="164.6" y="210.4" width="5.3" height="5.3"/>
</g>
<g fill="#00B534">
<path d="M272.8 206.1l3.85 6.6h-7.7z"/>
<path d="M237.2 137.7l3.85 6.6h-7.7z"/>
<path d="M180.1 143.8l3.85 6.6h-7.7z"/>
</g>
<g fill="#5794FF">
<rect x="227.6" y="137.3" width="5.3" height="5.3"/>
<rect x="157.5" y="202.4" width="5.3" height="5.3"/>
<rect x="169.8" y="132.1" width="5.3" height="5.3"/>
<rect x="162.3" y="187.2" width="5.3" height="5.3"/>
<rect x="200.0" y="118.7" width="5.3" height="5.3"/>
</g>
<g fill="#00B534">
<path d="M172.5 204.0l3.85 6.6h-7.7z"/>
</g>
<g fill="#5794FF">
<rect x="224.6" y="172.3" width="5.3" height="5.3"/>
<rect x="214.8" y="157.1" width="5.3" height="5.3"/>
</g>
<g fill="#00B534">
<path d="M192.4 164.4l3.85 6.6h-7.7z"/>
<path d="M260.2 142.8l3.85 6.6h-7.7z"/>
</g>
<g fill="#5794FF">
<rect x="240.1" y="141.7" width="5.3" height="5.3"/>
</g>
<g fill="#00B534">
<path d="M244.9 173.3l3.85 6.6h-7.7z"/>
</g>
<g fill="#5794FF">
<rect x="269.9" y="127.6" width="5.3" height="5.3"/>
</g>
<g fill="#F9655A">
<circle cx="140.2" cy="158.8" r="2.95"/>
</g>
<g fill="#5794FF">
<rect x="182.4" y="108.6" width="5.3" height="5.3"/>
</g>
<g fill="#00B534">
<path d="M250.0 182.6l3.85 6.6h-7.7z"/>
</g>
<g fill="#F9655A">
<circle cx="187.3" cy="188.0" r="2.95"/>
</g>
<g fill="#5794FF">
<rect x="207.2" y="155.9" width="5.3" height="5.3"/>
<rect x="255.1" y="195.0" width="5.3" height="5.3"/>
</g>
<g fill="#F9655A">
<circle cx="150.0" cy="209.8" r="2.95"/>
</g>
<g fill="#5794FF">
<rect x="264.9" y="152.8" width="5.3" height="5.3"/>
<rect x="230.0" y="92.9" width="5.3" height="5.3"/>
</g>
<g fill="#00B534">
<path d="M242.3 211.4l3.85 6.6h-7.7z"/>
<path d="M230.0 206.6l3.85 6.6h-7.7z"/>
<path d="M162.6 174.3l3.85 6.6h-7.7z"/>
</g>
<g fill="#F9655A">
<circle cx="162.3" cy="196.7" r="2.95"/>
</g>
<g fill="#5794FF">
<rect x="234.9" y="140.5" width="5.3" height="5.3"/>
<rect x="169.8" y="133.4" width="5.3" height="5.3"/>
<rect x="277.1" y="180.8" width="5.3" height="5.3"/>
</g>
<g fill="#00B534">
<path d="M215.2 184.4l3.85 6.6h-7.7z"/>
</g>
<g fill="#5794FF">
<rect x="144.6" y="136.2" width="5.3" height="5.3"/>
</g>
<g fill="#00B534">
<path d="M210.2 100.7l3.85 6.6h-7.7z"/>
</g>
<g fill="#F9655A">
<circle cx="202.4" cy="184.5" r="2.95"/>
</g>
<g fill="#5794FF">
<rect x="249.8" y="128.3" width="5.3" height="5.3"/>
</g>
<g fill="#F9655A">
<circle cx="230.1" cy="155.2" r="2.95"/>
</g>
<g fill="#00B534">
<path d="M280.3 137.2l3.85 6.6h-7.7z"/>
<path d="M142.7 195.1l3.85 6.6h-7.7z"/>
</g>
<g fill="#5794FF">
<rect x="207.4" y="111.0" width="5.3" height="5.3"/>
</g>
<g fill="#F9655A">
<circle cx="189.9" cy="164.4" r="2.95"/>
</g>
<g fill="#00B534">
<path d="M190.0 109.2l3.85 6.6h-7.7z"/>
</g>
<g fill="#5794FF">
<rect x="157.4" y="141.0" width="5.3" height="5.3"/>
<rect x="190.0" y="194.0" width="5.3" height="5.3"/>
</g>
<g fill="#00B534">
<path d="M250.2 163.5l3.85 6.6h-7.7z"/>
</g>
<g fill="#5794FF">
<rect x="240.1" y="151.3" width="5.3" height="5.3"/>
</g>
<g fill="#00B534">
<path d="M167.3 197.9l3.85 6.6h-7.7z"/>
</g>
<g fill="#F9655A">
<circle cx="200.1" cy="197.2" r="2.95"/>
</g>
<g fill="#00B534">
<path d="M240.0 166.5l3.85 6.6h-7.7z"/>
</g>
<g fill="#F9655A">
<circle cx="264.9" cy="145.8" r="2.95"/>
<circle cx="209.7" cy="203.4" r="2.95"/>
</g>
<g fill="#00B534">
<path d="M199.7 119.0l3.85 6.6h-7.7z"/>
</g>
<g fill="#5794FF">
<rect x="232.1" y="202.0" width="5.3" height="5.3"/>
<rect x="179.7" y="174.5" width="5.3" height="5.3"/>
</g>
<g fill="#F9655A">
<circle cx="254.7" cy="162.8" r="2.95"/>
</g>
<g fill="#5794FF">
<rect x="227.3" y="136.8" width="5.3" height="5.3"/>
<rect x="185.0" y="143.5" width="5.3" height="5.3"/>
</g>
<g fill="#F9655A">
<circle cx="195.3" cy="169.1" r="2.95"/>
</g>
<g fill="#5794FF">
<rect x="212.5" y="159.0" width="5.3" height="5.3"/>
</g>
<g fill="#F9655A">
<circle cx="259.9" cy="161.4" r="2.95"/>
</g>
<g fill="#5794FF">
<rect x="195.0" y="148.5" width="5.3" height="5.3"/>
<rect x="177.5" y="76.3" width="5.3" height="5.3"/>
</g>
<g fill="#F9655A">
<circle cx="194.8" cy="152.6" r="2.95"/>
</g>
<g fill="#5794FF">
<rect x="170.1" y="90.8" width="5.3" height="5.3"/>
</g>
<g fill="#00B534">
<path d="M200.0 146.2l3.85 6.6h-7.7z"/>
</g>
<g fill="#5794FF">
<rect x="190.0" y="189.0" width="5.3" height="5.3"/>
<rect x="155.0" y="164.2" width="5.3" height="5.3"/>
<rect x="252.2" y="175.5" width="5.3" height="5.3"/>
<rect x="140.0" y="179.2" width="5.3" height="5.3"/>
<rect x="137.6" y="151.2" width="5.3" height="5.3"/>
</g>
<g fill="#F9655A">
<circle cx="272.2" cy="199.3" r="2.95"/>
</g>
<g fill="#5794FF">
<rect x="159.7" y="197.8" width="5.3" height="5.3"/>
<rect x="174.9" y="174.4" width="5.3" height="5.3"/>
</g>
<g fill="#00B534">
<path d="M170.1 208.1l3.85 6.6h-7.7z"/>
</g>
<g fill="#5794FF">
<rect x="199.9" y="94.5" width="5.3" height="5.3"/>
<rect x="182.3" y="152.2" width="5.3" height="5.3"/>
</g>
<g fill="#00B534">
<path d="M192.7 108.3l3.85 6.6h-7.7z"/>
<path d="M197.3 206.6l3.85 6.6h-7.7z"/>
</g>
<g fill="#5794FF">
<rect x="174.6" y="110.9" width="5.3" height="5.3"/>
<rect x="234.8" y="162.1" width="5.3" height="5.3"/>
</g>
<g fill="#00B534">
<path d="M219.7 211.2l3.85 6.6h-7.7z"/>
<path d="M190.2 192.2l3.85 6.6h-7.7z"/>
<path d="M187.7 194.4l3.85 6.6h-7.7z"/>
<path d="M150.2 181.1l3.85 6.6h-7.7z"/>
<path d="M162.3 176.4l3.85 6.6h-7.7z"/>
</g>
<g fill="#F9655A">
<circle cx="267.3" cy="138.8" r="2.95"/>
<circle cx="234.8" cy="142.5" r="2.95"/>
</g>
<g fill="#5794FF">
<rect x="157.4" y="148.0" width="5.3" height="5.3"/>
<rect x="210.1" y="85.3" width="5.3" height="5.3"/>
<rect x="155.0" y="170.9" width="5.3" height="5.3"/>
</g>
<g fill="#00B534">
<path d="M174.8 143.5l3.85 6.6h-7.7z"/>
</g>
<g fill="#5794FF">
<rect x="235.1" y="112.3" width="5.3" height="5.3"/>
<rect x="195.1" y="167.1" width="5.3" height="5.3"/>
</g>
<g fill="#00B534">
<path d="M190.2 201.0l3.85 6.6h-7.7z"/>
<path d="M222.3 139.9l3.85 6.6h-7.7z"/>
</g>
<g fill="#F9655A">
<circle cx="160.1" cy="208.7" r="2.95"/>
<circle cx="202.8" cy="208.8" r="2.95"/>
</g>
<g fill="#00B534">
<path d="M219.9 172.1l3.85 6.6h-7.7z"/>
<path d="M172.3 120.4l3.85 6.6h-7.7z"/>
</g>
<g fill="#F9655A">
<circle cx="210.2" cy="126.3" r="2.95"/>
<circle cx="169.9" cy="171.4" r="2.95"/>
</g>
<g fill="#00B534">
<path d="M170.3 209.7l3.85 6.6h-7.7z"/>
</g>
<g fill="#5794FF">
<rect x="222.5" y="201.4" width="5.3" height="5.3"/>
<rect x="187.6" y="199.6" width="5.3" height="5.3"/>
<rect x="217.2" y="74.5" width="5.3" height="5.3"/>
</g>
<g fill="#F9655A">
<circle cx="172.3" cy="129.2" r="2.95"/>
</g>
<g fill="#00B534">
<path d="M237.5 172.7l3.85 6.6h-7.7z"/>
<path d="M269.9 148.1l3.85 6.6h-7.7z"/>
</g>
<g fill="#5794FF">
<rect x="252.6" y="200.1" width="5.3" height="5.3"/>
</g>
<g fill="#F9655A">
<circle cx="202.5" cy="157.5" r="2.95"/>
</g>
<g fill="#5794FF">
<rect x="219.7" y="174.4" width="5.3" height="5.3"/>
</g>
<g fill="#00B534">
<path d="M204.9 180.8l3.85 6.6h-7.7z"/>
<path d="M182.3 160.9l3.85 6.6h-7.7z"/>
</g>
<g fill="#5794FF">
<rect x="167.2" y="110.5" width="5.3" height="5.3"/>
<rect x="175.1" y="194.8" width="5.3" height="5.3"/>
</g>
<g fill="#F9655A">
<circle cx="154.9" cy="182.2" r="2.95"/>
</g>
<g fill="#00B534">
<path d="M140.1 196.9l3.85 6.6h-7.7z"/>
</g>
<g fill="#F9655A">
<circle cx="137.5" cy="198.9" r="2.95"/>
</g>
<g fill="#00B534">
<path d="M192.2 174.5l3.85 6.6h-7.7z"/>
<path d="M217.7 168.5l3.85 6.6h-7.7z"/>
</g>
<g fill="#5794FF">
<rect x="175.1" y="158.3" width="5.3" height="5.3"/>
<rect x="197.2" y="100.8" width="5.3" height="5.3"/>
<rect x="192.3" y="156.0" width="5.3" height="5.3"/>
<rect x="197.5" y="159.7" width="5.3" height="5.3"/>
<rect x="147.2" y="151.5" width="5.3" height="5.3"/>
</g>
<g fill="#00B534">
<path d="M279.8 111.6l3.85 6.6h-7.7z"/>
<path d="M217.3 105.8l3.85 6.6h-7.7z"/>
</g>
<g fill="#F9655A">
<circle cx="202.7" cy="210.7" r="2.95"/>
</g>
<g fill="#00B534">
<path d="M277.3 205.0l3.85 6.6h-7.7z"/>
<path d="M152.4 139.9l3.85 6.6h-7.7z"/>
</g>
<g fill="#5794FF">
<rect x="197.1" y="130.0" width="5.3" height="5.3"/>
</g>
<g fill="#00B534">
<path d="M197.6 187.6l3.85 6.6h-7.7z"/>
</g>
<g fill="#F9655A">
<circle cx="232.7" cy="168.4" r="2.95"/>
<circle cx="177.7" cy="206.8" r="2.95"/>
</g>
<g fill="#5794FF">
<rect x="194.7" y="163.3" width="5.3" height="5.3"/>
<rect x="219.7" y="174.7" width="5.3" height="5.3"/>
</g>
<g fill="#00B534">
<path d="M210.0 188.6l3.85 6.6h-7.7z"/>
</g>
<g fill="#5794FF">
<rect x="219.7" y="120.1" width="5.3" height="5.3"/>
<rect x="149.8" y="141.4" width="5.3" height="5.3"/>
<rect x="205.1" y="113.8" width="5.3" height="5.3"/>
<rect x="239.7" y="177.8" width="5.3" height="5.3"/>
<rect x="159.8" y="124.9" width="5.3" height="5.3"/>
<rect x="204.6" y="128.1" width="5.3" height="5.3"/>
<rect x="235.0" y="96.9" width="5.3" height="5.3"/>
<rect x="139.9" y="176.5" width="5.3" height="5.3"/>
</g>
<g fill="#00B534">
<path d="M207.2 118.3l3.85 6.6h-7.7z"/>
</g>
<g fill="#5794FF">
<rect x="182.3" y="180.6" width="5.3" height="5.3"/>
<rect x="244.8" y="112.4" width="5.3" height="5.3"/>
<rect x="212.2" y="192.2" width="5.3" height="5.3"/>
<rect x="167.3" y="201.6" width="5.3" height="5.3"/>
</g>
<g fill="#00B534">
<path d="M136.7 207.6l3.85 6.6h-7.7z"/>
<path d="M142.2 210.4l3.85 6.6h-7.7z"/>
<path d="M152.2 208.2l3.85 6.6h-7.7z"/>
</g>
<g fill="#F9655A">
<circle cx="164.7" cy="211.3" r="2.95"/>
</g>
<g fill="#00B534">
<path d="M166.2 210.1l3.85 6.6h-7.7z"/>
<path d="M170.0 207.4l3.85 6.6h-7.7z"/>
<path d="M173.6 210.0l3.85 6.6h-7.7z"/>
<path d="M176.0 208.2l3.85 6.6h-7.7z"/>
</g>
<g fill="#F9655A">
<circle cx="178.4" cy="212.5" r="2.95"/>
<circle cx="184.5" cy="211.1" r="2.95"/>
<circle cx="187.8" cy="213.2" r="2.95"/>
</g>
<g fill="#00B534">
<path d="M190.5 209.8l3.85 6.6h-7.7z"/>
<path d="M193.2 207.6l3.85 6.6h-7.7z"/>
</g>
<g fill="#F9655A">
<circle cx="200.9" cy="212.0" r="2.95"/>
<circle cx="205.4" cy="212.9" r="2.95"/>
</g>
<g fill="#00B534">
<path d="M208.6 207.5l3.85 6.6h-7.7z"/>
<path d="M217.8 209.0l3.85 6.6h-7.7z"/>
<path d="M220.8 208.0l3.85 6.6h-7.7z"/>
<path d="M224.3 207.7l3.85 6.6h-7.7z"/>
<path d="M230.3 209.2l3.85 6.6h-7.7z"/>
<path d="M232.6 209.9l3.85 6.6h-7.7z"/>
<path d="M241.8 208.4l3.85 6.6h-7.7z"/>
</g>
<g fill="#F9655A">
<circle cx="245.4" cy="212.2" r="2.95"/>
</g>
<g fill="#00B534">
<path d="M247.1 208.4l3.85 6.6h-7.7z"/>
</g>
<g fill="#F9655A">
<circle cx="250.1" cy="212.8" r="2.95"/>
</g>
<g fill="#00B534">
<path d="M260.9 210.3l3.85 6.6h-7.7z"/>
</g>
<g fill="#F9655A">
<circle cx="265.4" cy="210.8" r="2.95"/>
<circle cx="269.0" cy="213.8" r="2.95"/>
</g>
<g fill="#00B534">
<path d="M275.7 210.1l3.85 6.6h-7.7z"/>
</g>
<g fill="#F9655A">
<circle cx="278.7" cy="210.7" r="2.95"/>
</g>
<g fill="#00B534">
<path d="M285.0 208.2l3.85 6.6h-7.7z"/>
<path d="M287.8 208.2l3.85 6.6h-7.7z"/>
</g>
<g fill="#F9655A">
<circle cx="290.3" cy="212.8" r="2.95"/>
</g>
<g fill="#00B534">
<path d="M136.4 197.6l3.85 6.6h-7.7z"/>
</g>
<g fill="#F9655A">
<circle cx="149.3" cy="198.7" r="2.95"/>
</g>
<g fill="#00B534">
<path d="M161.7 197.9l3.85 6.6h-7.7z"/>
<path d="M192.1 196.8l3.85 6.6h-7.7z"/>
<path d="M202.0 195.3l3.85 6.6h-7.7z"/>
<path d="M205.5 197.1l3.85 6.6h-7.7z"/>
<path d="M208.7 195.3l3.85 6.6h-7.7z"/>
<path d="M213.1 198.0l3.85 6.6h-7.7z"/>
</g>
<g fill="#F9655A">
<circle cx="233.0" cy="201.3" r="2.95"/>
</g>
<g fill="#00B534">
<path d="M236.8 198.3l3.85 6.6h-7.7z"/>
<path d="M264.9 196.6l3.85 6.6h-7.7z"/>
</g>
<g fill="#F9655A">
<circle cx="269.7" cy="198.7" r="2.95"/>
</g>
<g fill="#00B534">
<path d="M288.1 197.5l3.85 6.6h-7.7z"/>
<path d="M293.8 195.9l3.85 6.6h-7.7z"/>
</g>
<g fill="#5794FF">
<rect x="138.3" y="202.9" width="5.3" height="5.3"/>
<rect x="140.8" y="203.4" width="5.3" height="5.3"/>
<rect x="143.2" y="203.1" width="5.3" height="5.3"/>
<rect x="145.6" y="203.2" width="5.3" height="5.3"/>
<rect x="148.0" y="203.0" width="5.3" height="5.3"/>
<rect x="150.4" y="203.0" width="5.3" height="5.3"/>
<rect x="152.8" y="203.2" width="5.3" height="5.3"/>
<rect x="155.2" y="203.1" width="5.3" height="5.3"/>
<rect x="157.6" y="203.2" width="5.3" height="5.3"/>
<rect x="160.0" y="203.4" width="5.3" height="5.3"/>
<rect x="162.4" y="203.1" width="5.3" height="5.3"/>
<rect x="164.8" y="203.0" width="5.3" height="5.3"/>
<rect x="167.2" y="203.1" width="5.3" height="5.3"/>
<rect x="169.6" y="203.1" width="5.3" height="5.3"/>
<rect x="172.0" y="203.2" width="5.3" height="5.3"/>
<rect x="174.4" y="203.4" width="5.3" height="5.3"/>
<rect x="176.8" y="203.3" width="5.3" height="5.3"/>
<rect x="179.2" y="203.0" width="5.3" height="5.3"/>
<rect x="181.6" y="203.4" width="5.3" height="5.3"/>
<rect x="184.0" y="203.3" width="5.3" height="5.3"/>
<rect x="186.4" y="203.4" width="5.3" height="5.3"/>
<rect x="188.8" y="203.1" width="5.3" height="5.3"/>
<rect x="191.2" y="203.3" width="5.3" height="5.3"/>
<rect x="193.6" y="203.3" width="5.3" height="5.3"/>
<rect x="196.0" y="203.3" width="5.3" height="5.3"/>
<rect x="198.4" y="202.9" width="5.3" height="5.3"/>
<rect x="200.8" y="202.9" width="5.3" height="5.3"/>
<rect x="203.2" y="203.1" width="5.3" height="5.3"/>
<rect x="205.6" y="203.4" width="5.3" height="5.3"/>
<rect x="208.0" y="203.3" width="5.3" height="5.3"/>
<rect x="210.4" y="203.2" width="5.3" height="5.3"/>
<rect x="212.8" y="203.3" width="5.3" height="5.3"/>
<rect x="215.2" y="203.4" width="5.3" height="5.3"/>
<rect x="217.6" y="203.1" width="5.3" height="5.3"/>
<rect x="220.0" y="203.4" width="5.3" height="5.3"/>
<rect x="222.4" y="202.9" width="5.3" height="5.3"/>
<rect x="224.8" y="202.9" width="5.3" height="5.3"/>
<rect x="227.2" y="203.1" width="5.3" height="5.3"/>
<rect x="229.6" y="202.9" width="5.3" height="5.3"/>
<rect x="232.0" y="203.4" width="5.3" height="5.3"/>
<rect x="234.4" y="203.0" width="5.3" height="5.3"/>
<rect x="236.8" y="203.4" width="5.3" height="5.3"/>
<rect x="239.2" y="203.4" width="5.3" height="5.3"/>
<rect x="241.6" y="202.9" width="5.3" height="5.3"/>
<rect x="244.0" y="203.4" width="5.3" height="5.3"/>
<rect x="246.4" y="202.9" width="5.3" height="5.3"/>
<rect x="248.8" y="203.4" width="5.3" height="5.3"/>
<rect x="251.2" y="203.0" width="5.3" height="5.3"/>
<rect x="253.6" y="203.1" width="5.3" height="5.3"/>
<rect x="256.0" y="203.4" width="5.3" height="5.3"/>
<rect x="258.4" y="203.1" width="5.3" height="5.3"/>
<rect x="260.8" y="202.9" width="5.3" height="5.3"/>
<rect x="263.2" y="203.1" width="5.3" height="5.3"/>
<rect x="265.6" y="203.4" width="5.3" height="5.3"/>
<rect x="268.0" y="203.0" width="5.3" height="5.3"/>
<rect x="270.4" y="203.1" width="5.3" height="5.3"/>
<rect x="272.8" y="203.0" width="5.3" height="5.3"/>
<rect x="275.2" y="203.0" width="5.3" height="5.3"/>
<rect x="277.6" y="203.0" width="5.3" height="5.3"/>
<rect x="280.0" y="202.9" width="5.3" height="5.3"/>
<rect x="282.4" y="203.2" width="5.3" height="5.3"/>
<rect x="284.8" y="203.3" width="5.3" height="5.3"/>
<rect x="287.1" y="203.1" width="5.3" height="5.3"/>
<rect x="289.5" y="203.0" width="5.3" height="5.3"/>
<rect x="291.9" y="203.0" width="5.3" height="5.3"/>
<rect x="294.3" y="203.1" width="5.3" height="5.3"/>
<rect x="296.7" y="203.2" width="5.3" height="5.3"/>
</g>
<g fill="#00B534">
<path d="M148.1 214.4l3.85 6.6h-7.7z"/>
<path d="M154.7 214.4l3.85 6.6h-7.7z"/>
<path d="M159.5 214.4l3.85 6.6h-7.7z"/>
<path d="M163.3 214.4l3.85 6.6h-7.7z"/>
<path d="M178.8 214.4l3.85 6.6h-7.7z"/>
<path d="M183.4 214.4l3.85 6.6h-7.7z"/>
<path d="M188.4 214.4l3.85 6.6h-7.7z"/>
<path d="M194.0 214.4l3.85 6.6h-7.7z"/>
<path d="M203.7 214.4l3.85 6.6h-7.7z"/>
<path d="M208.6 214.4l3.85 6.6h-7.7z"/>
<path d="M224.4 214.4l3.85 6.6h-7.7z"/>
<path d="M228.8 214.4l3.85 6.6h-7.7z"/>
<path d="M244.9 214.4l3.85 6.6h-7.7z"/>
<path d="M254.5 214.4l3.85 6.6h-7.7z"/>
<path d="M264.3 214.4l3.85 6.6h-7.7z"/>
<path d="M268.3 214.4l3.85 6.6h-7.7z"/>
<path d="M283.8 214.4l3.85 6.6h-7.7z"/>
</g>
<g fill="#5794FF">
<rect x="128.3" y="218.1" width="5.3" height="5.3"/>
<rect x="130.3" y="218.5" width="5.3" height="5.3"/>
<rect x="132.3" y="218.0" width="5.3" height="5.3"/>
<rect x="134.3" y="218.3" width="5.3" height="5.3"/>
<rect x="136.3" y="218.2" width="5.3" height="5.3"/>
<rect x="138.3" y="218.1" width="5.3" height="5.3"/>
<rect x="140.3" y="218.2" width="5.3" height="5.3"/>
<rect x="142.3" y="218.4" width="5.3" height="5.3"/>
<rect x="144.3" y="218.5" width="5.3" height="5.3"/>
<rect x="146.3" y="218.5" width="5.3" height="5.3"/>
<rect x="148.3" y="218.1" width="5.3" height="5.3"/>
<rect x="150.3" y="218.5" width="5.3" height="5.3"/>
<rect x="152.3" y="218.0" width="5.3" height="5.3"/>
<rect x="154.3" y="218.0" width="5.3" height="5.3"/>
<rect x="156.3" y="218.4" width="5.3" height="5.3"/>
<rect x="158.3" y="218.3" width="5.3" height="5.3"/>
<rect x="160.3" y="218.2" width="5.3" height="5.3"/>
<rect x="162.3" y="218.0" width="5.3" height="5.3"/>
<rect x="164.3" y="218.2" width="5.3" height="5.3"/>
<rect x="166.3" y="218.2" width="5.3" height="5.3"/>
<rect x="168.3" y="218.2" width="5.3" height="5.3"/>
<rect x="170.3" y="218.0" width="5.3" height="5.3"/>
<rect x="172.3" y="218.2" width="5.3" height="5.3"/>
<rect x="174.3" y="218.3" width="5.3" height="5.3"/>
<rect x="176.3" y="218.2" width="5.3" height="5.3"/>
<rect x="178.3" y="218.0" width="5.3" height="5.3"/>
<rect x="180.3" y="218.2" width="5.3" height="5.3"/>
<rect x="182.3" y="218.3" width="5.3" height="5.3"/>
<rect x="184.3" y="218.3" width="5.3" height="5.3"/>
<rect x="186.3" y="218.3" width="5.3" height="5.3"/>
<rect x="188.3" y="218.1" width="5.3" height="5.3"/>
<rect x="190.3" y="218.2" width="5.3" height="5.3"/>
<rect x="192.3" y="218.0" width="5.3" height="5.3"/>
<rect x="194.3" y="218.0" width="5.3" height="5.3"/>
<rect x="196.3" y="218.0" width="5.3" height="5.3"/>
<rect x="198.3" y="218.3" width="5.3" height="5.3"/>
<rect x="200.3" y="218.0" width="5.3" height="5.3"/>
<rect x="202.3" y="218.2" width="5.3" height="5.3"/>
<rect x="204.3" y="218.3" width="5.3" height="5.3"/>
<rect x="206.3" y="218.3" width="5.3" height="5.3"/>
<rect x="208.3" y="218.5" width="5.3" height="5.3"/>
<rect x="210.3" y="218.1" width="5.3" height="5.3"/>
<rect x="212.3" y="218.2" width="5.3" height="5.3"/>
<rect x="214.3" y="218.5" width="5.3" height="5.3"/>
<rect x="216.3" y="218.3" width="5.3" height="5.3"/>
<rect x="218.3" y="218.1" width="5.3" height="5.3"/>
<rect x="220.3" y="218.5" width="5.3" height="5.3"/>
<rect x="222.3" y="218.1" width="5.3" height="5.3"/>
<rect x="224.3" y="218.3" width="5.3" height="5.3"/>
<rect x="226.3" y="218.3" width="5.3" height="5.3"/>
<rect x="228.3" y="218.0" width="5.3" height="5.3"/>
<rect x="230.3" y="218.0" width="5.3" height="5.3"/>
<rect x="232.3" y="218.3" width="5.3" height="5.3"/>
<rect x="234.3" y="218.0" width="5.3" height="5.3"/>
<rect x="236.3" y="218.2" width="5.3" height="5.3"/>
<rect x="238.3" y="218.4" width="5.3" height="5.3"/>
<rect x="240.3" y="218.5" width="5.3" height="5.3"/>
<rect x="242.3" y="218.4" width="5.3" height="5.3"/>
<rect x="244.3" y="218.0" width="5.3" height="5.3"/>
<rect x="246.3" y="218.2" width="5.3" height="5.3"/>
<rect x="248.3" y="218.4" width="5.3" height="5.3"/>
<rect x="250.3" y="218.0" width="5.3" height="5.3"/>
<rect x="252.3" y="218.2" width="5.3" height="5.3"/>
<rect x="254.3" y="218.1" width="5.3" height="5.3"/>
<rect x="256.4" y="218.1" width="5.3" height="5.3"/>
<rect x="258.4" y="218.4" width="5.3" height="5.3"/>
<rect x="260.4" y="218.4" width="5.3" height="5.3"/>
<rect x="262.4" y="218.2" width="5.3" height="5.3"/>
<rect x="264.4" y="218.3" width="5.3" height="5.3"/>
<rect x="266.4" y="218.0" width="5.3" height="5.3"/>
<rect x="268.4" y="218.2" width="5.3" height="5.3"/>
<rect x="270.4" y="218.2" width="5.3" height="5.3"/>
<rect x="272.4" y="218.3" width="5.3" height="5.3"/>
<rect x="274.4" y="218.3" width="5.3" height="5.3"/>
<rect x="276.4" y="218.4" width="5.3" height="5.3"/>
<rect x="278.4" y="218.4" width="5.3" height="5.3"/>
<rect x="280.4" y="218.3" width="5.3" height="5.3"/>
<rect x="282.4" y="218.2" width="5.3" height="5.3"/>
<rect x="284.4" y="218.2" width="5.3" height="5.3"/>
<rect x="286.4" y="218.1" width="5.3" height="5.3"/>
</g>
<g fill="#F9655A">
<circle cx="172.5" cy="44.5" r="2.95"/>
<circle cx="204.5" cy="44.5" r="2.95"/>
<circle cx="218.0" cy="44.5" r="2.95"/>
<circle cx="226.4" cy="44.5" r="2.95"/>
<circle cx="257.0" cy="44.5" r="2.95"/>
<circle cx="286.2" cy="44.5" r="2.95"/>
<circle cx="148.4" cy="97.2" r="2.95"/>
<circle cx="186.2" cy="96.6" r="2.95"/>
<circle cx="200.3" cy="96.6" r="2.95"/>
<circle cx="326.5" cy="104.7" r="2.95"/>
<circle cx="331.5" cy="104.7" r="2.95"/>
<circle cx="326.5" cy="111.0" r="2.95"/>
<circle cx="331.5" cy="111.0" r="2.95"/>
<circle cx="243.7" cy="113.2" r="2.95"/>
<circle cx="270.0" cy="115.5" r="2.95"/>
<circle cx="257.2" cy="121.5" r="2.95"/>
<circle cx="286.5" cy="121.5" r="2.95"/>
<circle cx="326.5" cy="160.7" r="2.95"/>
<circle cx="331.5" cy="160.7" r="2.95"/>
<circle cx="326.5" cy="195.5" r="2.95"/>
<circle cx="331.5" cy="195.5" r="2.95"/>
<circle cx="295.8" cy="139.5" r="2.95"/>
<circle cx="297.7" cy="191.0" r="2.95"/>
<circle cx="295.5" cy="209.7" r="2.95"/>
<circle cx="286.5" cy="171.5" r="2.95"/>
<circle cx="286.5" cy="204.0" r="2.95"/>
<circle cx="121.5" cy="146.7" r="2.95"/>
<circle cx="135.0" cy="146.7" r="2.95"/>
<circle cx="123.7" cy="159.5" r="2.95"/>
<circle cx="107.7" cy="184.2" r="2.95"/>
<circle cx="121.5" cy="180.5" r="2.95"/>
<circle cx="135.0" cy="180.5" r="2.95"/>
<circle cx="112.5" cy="194.0" r="2.95"/>
<circle cx="120.0" cy="190.2" r="2.95"/>
<circle cx="123.7" cy="213.5" r="2.95"/>
</g>
<g fill="#00B534">
<path d="M182.5 54.1l3.85 6.6h-7.7z"/>
<path d="M243.2 54.3l3.85 6.6h-7.7z"/>
<path d="M256.0 85.6l3.85 6.6h-7.7z"/>
<path d="M286.5 86.1l3.85 6.6h-7.7z"/>
<path d="M241.7 98.1l3.85 6.6h-7.7z"/>
<path d="M326.5 85.1l3.85 6.6h-7.7z"/>
<path d="M331.5 85.1l3.85 6.6h-7.7z"/>
<path d="M326.5 104.6l3.85 6.6h-7.7z"/>
<path d="M331.5 104.6l3.85 6.6h-7.7z"/>
<path d="M243.0 99.3l3.85 6.6h-7.7z"/>
<path d="M249.0 116.6l3.85 6.6h-7.7z"/>
<path d="M260.2 115.8l3.85 6.6h-7.7z"/>
<path d="M270.7 105.3l3.85 6.6h-7.7z"/>
<path d="M275.7 116.6l3.85 6.6h-7.7z"/>
<path d="M286.5 113.6l3.85 6.6h-7.7z"/>
<path d="M249.0 122.6l3.85 6.6h-7.7z"/>
<path d="M261.7 122.6l3.85 6.6h-7.7z"/>
<path d="M326.5 129.8l3.85 6.6h-7.7z"/>
<path d="M331.5 129.8l3.85 6.6h-7.7z"/>
<path d="M326.5 200.3l3.85 6.6h-7.7z"/>
<path d="M331.5 200.3l3.85 6.6h-7.7z"/>
<path d="M299.2 177.8l3.85 6.6h-7.7z"/>
<path d="M296.2 191.3l3.85 6.6h-7.7z"/>
<path d="M296.2 214.1l3.85 6.6h-7.7z"/>
<path d="M285.7 144.1l3.85 6.6h-7.7z"/>
<path d="M286.5 193.6l3.85 6.6h-7.7z"/>
<path d="M311.2 214.1l3.85 6.6h-7.7z"/>
<path d="M121.5 136.3l3.85 6.6h-7.7z"/>
<path d="M135.0 136.3l3.85 6.6h-7.7z"/>
<path d="M121.5 166.6l3.85 6.6h-7.7z"/>
<path d="M123.7 170.3l3.85 6.6h-7.7z"/>
<path d="M135.0 166.6l3.85 6.6h-7.7z"/>
<path d="M107.7 176.3l3.85 6.6h-7.7z"/>
<path d="M83.2 196.6l3.85 6.6h-7.7z"/>
<path d="M83.2 199.1l3.85 6.6h-7.7z"/>
<path d="M99.7 196.6l3.85 6.6h-7.7z"/>
<path d="M99.7 199.1l3.85 6.6h-7.7z"/>
<path d="M107.7 186.6l3.85 6.6h-7.7z"/>
<path d="M107.7 190.6l3.85 6.6h-7.7z"/>
<path d="M107.7 194.6l3.85 6.6h-7.7z"/>
<path d="M107.7 210.8l3.85 6.6h-7.7z"/>
<path d="M112.5 194.3l3.85 6.6h-7.7z"/>
<path d="M120.0 189.1l3.85 6.6h-7.7z"/>
<path d="M123.7 192.1l3.85 6.6h-7.7z"/>
<path d="M123.7 207.8l3.85 6.6h-7.7z"/>
<path d="M132.7 214.1l3.85 6.6h-7.7z"/>
<path d="M157.5 97.6l3.85 6.6h-7.7z"/>
<path d="M144.7 111.1l3.85 6.6h-7.7z"/>
<path d="M169.5 112.6l3.85 6.6h-7.7z"/>
<path d="M153.7 123.1l3.85 6.6h-7.7z"/>
</g>
<g fill="#5794FF">
<rect x="154.9" y="50.6" width="5.3" height="5.3"/>
<rect x="169.8" y="52.8" width="5.3" height="5.3"/>
<rect x="183.5" y="50.6" width="5.3" height="5.3"/>
<rect x="192.4" y="50.6" width="5.3" height="5.3"/>
<rect x="201.8" y="51.0" width="5.3" height="5.3"/>
<rect x="201.8" y="54.1" width="5.3" height="5.3"/>
<rect x="170.9" y="59.4" width="5.3" height="5.3"/>
<rect x="142.0" y="61.0" width="5.3" height="5.3"/>
<rect x="146.3" y="65.1" width="5.3" height="5.3"/>
<rect x="181.3" y="61.0" width="5.3" height="5.3"/>
<rect x="183.5" y="65.6" width="5.3" height="5.3"/>
<rect x="191.3" y="60.4" width="5.3" height="5.3"/>
<rect x="186.7" y="69.8" width="5.3" height="5.3"/>
<rect x="192.9" y="70.3" width="5.3" height="5.3"/>
<rect x="200.3" y="61.0" width="5.3" height="5.3"/>
<rect x="204.5" y="61.0" width="5.3" height="5.3"/>
<rect x="200.3" y="69.3" width="5.3" height="5.3"/>
<rect x="178.3" y="73.5" width="5.3" height="5.3"/>
<rect x="167.8" y="78.2" width="5.3" height="5.3"/>
<rect x="170.9" y="79.8" width="5.3" height="5.3"/>
<rect x="178.3" y="78.8" width="5.3" height="5.3"/>
<rect x="182.3" y="80.8" width="5.3" height="5.3"/>
<rect x="196.2" y="77.8" width="5.3" height="5.3"/>
<rect x="202.3" y="79.8" width="5.3" height="5.3"/>
<rect x="150.9" y="85.5" width="5.3" height="5.3"/>
<rect x="147.3" y="92.3" width="5.3" height="5.3"/>
<rect x="158.8" y="92.3" width="5.3" height="5.3"/>
<rect x="167.8" y="86.1" width="5.3" height="5.3"/>
<rect x="167.8" y="90.3" width="5.3" height="5.3"/>
<rect x="179.3" y="86.1" width="5.3" height="5.3"/>
<rect x="185.7" y="86.1" width="5.3" height="5.3"/>
<rect x="179.3" y="92.3" width="5.3" height="5.3"/>
<rect x="195.0" y="81.9" width="5.3" height="5.3"/>
<rect x="200.3" y="86.1" width="5.3" height="5.3"/>
<rect x="204.5" y="86.1" width="5.3" height="5.3"/>
<rect x="215.5" y="53.1" width="5.3" height="5.3"/>
<rect x="224.0" y="53.1" width="5.3" height="5.3"/>
<rect x="239.0" y="50.6" width="5.3" height="5.3"/>
<rect x="254.3" y="53.1" width="5.3" height="5.3"/>
<rect x="283.6" y="53.1" width="5.3" height="5.3"/>
<rect x="220.3" y="60.1" width="5.3" height="5.3"/>
<rect x="293.2" y="60.1" width="5.3" height="5.3"/>
<rect x="214.3" y="70.8" width="5.3" height="5.3"/>
<rect x="218.8" y="70.8" width="5.3" height="5.3"/>
<rect x="226.3" y="70.8" width="5.3" height="5.3"/>
<rect x="238.3" y="70.8" width="5.3" height="5.3"/>
<rect x="267.6" y="70.8" width="5.3" height="5.3"/>
<rect x="214.3" y="73.0" width="5.3" height="5.3"/>
<rect x="205.3" y="64.3" width="5.3" height="5.3"/>
<rect x="209.3" y="75.3" width="5.3" height="5.3"/>
<rect x="214.3" y="79.8" width="5.3" height="5.3"/>
<rect x="218.0" y="79.8" width="5.3" height="5.3"/>
<rect x="227.0" y="80.5" width="5.3" height="5.3"/>
<rect x="246.5" y="82.0" width="5.3" height="5.3"/>
<rect x="259.4" y="82.0" width="5.3" height="5.3"/>
<rect x="215.8" y="88.8" width="5.3" height="5.3"/>
<rect x="223.3" y="88.8" width="5.3" height="5.3"/>
<rect x="229.3" y="90.3" width="5.3" height="5.3"/>
<rect x="253.3" y="88.8" width="5.3" height="5.3"/>
<rect x="269.1" y="91.0" width="5.3" height="5.3"/>
<rect x="271.1" y="91.8" width="5.3" height="5.3"/>
<rect x="276.4" y="91.8" width="5.3" height="5.3"/>
<rect x="283.9" y="89.1" width="5.3" height="5.3"/>
<rect x="209.8" y="96.3" width="5.3" height="5.3"/>
<rect x="323.9" y="35.9" width="5.3" height="5.3"/>
<rect x="328.9" y="35.9" width="5.3" height="5.3"/>
<rect x="323.9" y="64.8" width="5.3" height="5.3"/>
<rect x="328.9" y="64.8" width="5.3" height="5.3"/>
<rect x="323.9" y="88.8" width="5.3" height="5.3"/>
<rect x="328.9" y="88.8" width="5.3" height="5.3"/>
<rect x="246.3" y="111.3" width="5.3" height="5.3"/>
<rect x="257.6" y="111.3" width="5.3" height="5.3"/>
<rect x="263.6" y="108.3" width="5.3" height="5.3"/>
<rect x="273.4" y="111.3" width="5.3" height="5.3"/>
<rect x="283.9" y="120.3" width="5.3" height="5.3"/>
<rect x="266.6" y="125.5" width="5.3" height="5.3"/>
<rect x="323.9" y="190.5" width="5.3" height="5.3"/>
<rect x="328.9" y="190.5" width="5.3" height="5.3"/>
<rect x="323.9" y="204.0" width="5.3" height="5.3"/>
<rect x="328.9" y="204.0" width="5.3" height="5.3"/>
<rect x="294.7" y="145.5" width="5.3" height="5.3"/>
<rect x="294.7" y="158.3" width="5.3" height="5.3"/>
<rect x="293.6" y="177.8" width="5.3" height="5.3"/>
<rect x="293.6" y="181.5" width="5.3" height="5.3"/>
<rect x="293.6" y="198.8" width="5.3" height="5.3"/>
<rect x="293.6" y="203.3" width="5.3" height="5.3"/>
<rect x="293.6" y="217.8" width="5.3" height="5.3"/>
<rect x="283.9" y="157.5" width="5.3" height="5.3"/>
<rect x="283.9" y="163.5" width="5.3" height="5.3"/>
<rect x="283.9" y="178.5" width="5.3" height="5.3"/>
<rect x="283.9" y="183.8" width="5.3" height="5.3"/>
<rect x="283.9" y="189.8" width="5.3" height="5.3"/>
<rect x="283.9" y="198.3" width="5.3" height="5.3"/>
<rect x="283.9" y="207.3" width="5.3" height="5.3"/>
<rect x="308.6" y="217.8" width="5.3" height="5.3"/>
<rect x="118.8" y="102.8" width="5.3" height="5.3"/>
<rect x="132.3" y="102.8" width="5.3" height="5.3"/>
<rect x="121.0" y="115.5" width="5.3" height="5.3"/>
<rect x="105.0" y="135.0" width="5.3" height="5.3"/>
<rect x="121.0" y="144.8" width="5.3" height="5.3"/>
<rect x="102.6" y="154.5" width="5.3" height="5.3"/>
<rect x="105.3" y="157.5" width="5.3" height="5.3"/>
<rect x="117.0" y="154.5" width="5.3" height="5.3"/>
<rect x="118.8" y="158.3" width="5.3" height="5.3"/>
<rect x="132.3" y="158.3" width="5.3" height="5.3"/>
<rect x="105.0" y="167.3" width="5.3" height="5.3"/>
<rect x="109.8" y="179.3" width="5.3" height="5.3"/>
<rect x="118.8" y="182.3" width="5.3" height="5.3"/>
<rect x="121.0" y="182.3" width="5.3" height="5.3"/>
<rect x="80.5" y="187.3" width="5.3" height="5.3"/>
<rect x="80.5" y="191.8" width="5.3" height="5.3"/>
<rect x="80.5" y="203.3" width="5.3" height="5.3"/>
<rect x="80.5" y="205.8" width="5.3" height="5.3"/>
<rect x="97.0" y="187.3" width="5.3" height="5.3"/>
<rect x="97.0" y="191.8" width="5.3" height="5.3"/>
<rect x="100.8" y="189.0" width="5.3" height="5.3"/>
<rect x="97.0" y="203.3" width="5.3" height="5.3"/>
<rect x="100.8" y="203.3" width="5.3" height="5.3"/>
<rect x="97.0" y="205.8" width="5.3" height="5.3"/>
<rect x="105.0" y="200.3" width="5.3" height="5.3"/>
<rect x="105.0" y="204.3" width="5.3" height="5.3"/>
<rect x="105.0" y="208.3" width="5.3" height="5.3"/>
<rect x="105.0" y="217.5" width="5.3" height="5.3"/>
<rect x="107.3" y="183.3" width="5.3" height="5.3"/>
<rect x="117.3" y="203.3" width="5.3" height="5.3"/>
<rect x="121.0" y="203.3" width="5.3" height="5.3"/>
<rect x="121.0" y="213.8" width="5.3" height="5.3"/>
<rect x="121.0" y="218.3" width="5.3" height="5.3"/>
<rect x="130.0" y="210.8" width="5.3" height="5.3"/>
<rect x="130.0" y="217.5" width="5.3" height="5.3"/>
<rect x="147.3" y="93.8" width="5.3" height="5.3"/>
<rect x="156.3" y="93.8" width="5.3" height="5.3"/>
<rect x="166.8" y="93.8" width="5.3" height="5.3"/>
<rect x="154.8" y="102.0" width="5.3" height="5.3"/>
<rect x="148.8" y="111.0" width="5.3" height="5.3"/>
<rect x="146.5" y="115.5" width="5.3" height="5.3"/>
<rect x="154.8" y="115.5" width="5.3" height="5.3"/>
<rect x="163.0" y="111.0" width="5.3" height="5.3"/>
<rect x="167.5" y="126.0" width="5.3" height="5.3"/>
<rect x="155.5" y="123.8" width="5.3" height="5.3"/>
</g>
<line x1="71.5" y1="174.6" x2="343.5" y2="174.6" stroke="#7A0000" stroke-width="3.6" stroke-dasharray="15.2 15.8"/>
</g>
<rect x="71.5" y="2.5" width="272.0" height="264.0" fill="none" stroke="#333333" stroke-width="1"/>
<g clip-path="url(#cpb)">
<g fill="#F9655A">
<circle cx="512.3" cy="177.2" r="2.95"/>
</g>
<g fill="#5794FF">
<rect x="442.5" y="146.8" width="5.3" height="5.3"/>
<rect x="510.0" y="202.4" width="5.3" height="5.3"/>
<rect x="442.6" y="128.4" width="5.3" height="5.3"/>
</g>
<g fill="#00B534">
<path d="M457.6 135.1l3.85 6.6h-7.7z"/>
</g>
<g fill="#5794FF">
<rect x="522.2" y="175.6" width="5.3" height="5.3"/>
<rect x="557.4" y="188.2" width="5.3" height="5.3"/>
</g>
<g fill="#00B534">
<path d="M450.1 185.7l3.85 6.6h-7.7z"/>
</g>
<g fill="#5794FF">
<rect x="534.9" y="107.3" width="5.3" height="5.3"/>
<rect x="432.4" y="144.5" width="5.3" height="5.3"/>
</g>
<g fill="#00B534">
<path d="M452.3 175.0l3.85 6.6h-7.7z"/>
</g>
<g fill="#5794FF">
<rect x="462.1" y="162.1" width="5.3" height="5.3"/>
<rect x="512.5" y="132.6" width="5.3" height="5.3"/>
<rect x="432.5" y="194.6" width="5.3" height="5.3"/>
</g>
<g fill="#00B534">
<path d="M475.0 115.5l3.85 6.6h-7.7z"/>
</g>
<g fill="#5794FF">
<rect x="527.2" y="140.6" width="5.3" height="5.3"/>
<rect x="527.2" y="196.9" width="5.3" height="5.3"/>
<rect x="545.1" y="133.4" width="5.3" height="5.3"/>
</g>
<g fill="#00B534">
<path d="M430.2 188.3l3.85 6.6h-7.7z"/>
</g>
<g fill="#F9655A">
<circle cx="510.0" cy="135.3" r="2.95"/>
<circle cx="459.8" cy="201.9" r="2.95"/>
</g>
<g fill="#5794FF">
<rect x="529.6" y="165.7" width="5.3" height="5.3"/>
</g>
<g fill="#00B534">
<path d="M557.5 188.4l3.85 6.6h-7.7z"/>
</g>
<g fill="#F9655A">
<circle cx="487.8" cy="208.6" r="2.95"/>
</g>
<g fill="#5794FF">
<rect x="544.6" y="118.2" width="5.3" height="5.3"/>
<rect x="487.5" y="186.0" width="5.3" height="5.3"/>
<rect x="485.1" y="164.3" width="5.3" height="5.3"/>
<rect x="522.6" y="114.1" width="5.3" height="5.3"/>
</g>
<g fill="#00B534">
<path d="M464.9 122.4l3.85 6.6h-7.7z"/>
<path d="M469.7 152.8l3.85 6.6h-7.7z"/>
<path d="M450.1 189.0l3.85 6.6h-7.7z"/>
</g>
<g fill="#F9655A">
<circle cx="579.8" cy="209.6" r="2.95"/>
</g>
<g fill="#5794FF">
<rect x="547.3" y="177.7" width="5.3" height="5.3"/>
</g>
<g fill="#F9655A">
<circle cx="559.8" cy="139.6" r="2.95"/>
</g>
<g fill="#00B534">
<path d="M507.2 196.7l3.85 6.6h-7.7z"/>
<path d="M545.2 165.3l3.85 6.6h-7.7z"/>
</g>
<g fill="#5794FF">
<rect x="479.6" y="144.1" width="5.3" height="5.3"/>
<rect x="509.9" y="151.9" width="5.3" height="5.3"/>
</g>
<g fill="#F9655A">
<circle cx="482.5" cy="174.1" r="2.95"/>
</g>
<g fill="#5794FF">
<rect x="500.1" y="179.1" width="5.3" height="5.3"/>
</g>
<g fill="#00B534">
<path d="M552.5 177.4l3.85 6.6h-7.7z"/>
</g>
<g fill="#F9655A">
<circle cx="449.9" cy="195.6" r="2.95"/>
</g>
<g fill="#00B534">
<path d="M589.9 170.7l3.85 6.6h-7.7z"/>
</g>
<g fill="#5794FF">
<rect x="459.7" y="138.3" width="5.3" height="5.3"/>
</g>
<g fill="#00B534">
<path d="M455.0 201.1l3.85 6.6h-7.7z"/>
</g>
<g fill="#F9655A">
<circle cx="455.2" cy="184.2" r="2.95"/>
</g>
<g fill="#00B534">
<path d="M525.2 142.5l3.85 6.6h-7.7z"/>
</g>
<g fill="#5794FF">
<rect x="452.3" y="151.1" width="5.3" height="5.3"/>
<rect x="457.6" y="153.9" width="5.3" height="5.3"/>
</g>
<g fill="#F9655A">
<circle cx="495.0" cy="114.3" r="2.95"/>
<circle cx="569.8" cy="160.6" r="2.95"/>
<circle cx="520.0" cy="140.1" r="2.95"/>
<circle cx="510.0" cy="176.3" r="2.95"/>
<circle cx="457.3" cy="164.3" r="2.95"/>
</g>
<g fill="#5794FF">
<rect x="582.2" y="144.5" width="5.3" height="5.3"/>
<rect x="549.8" y="152.9" width="5.3" height="5.3"/>
</g>
<g fill="#F9655A">
<circle cx="582.4" cy="206.6" r="2.95"/>
</g>
<g fill="#00B534">
<path d="M570.2 122.2l3.85 6.6h-7.7z"/>
</g>
<g fill="#5794FF">
<rect x="442.6" y="181.0" width="5.3" height="5.3"/>
<rect x="524.6" y="115.5" width="5.3" height="5.3"/>
</g>
<g fill="#00B534">
<path d="M477.6 133.8l3.85 6.6h-7.7z"/>
<path d="M442.3 182.8l3.85 6.6h-7.7z"/>
</g>
<g fill="#F9655A">
<circle cx="467.7" cy="154.5" r="2.95"/>
</g>
<g fill="#00B534">
<path d="M500.1 200.9l3.85 6.6h-7.7z"/>
<path d="M467.4 178.1l3.85 6.6h-7.7z"/>
</g>
<g fill="#5794FF">
<rect x="505.1" y="102.1" width="5.3" height="5.3"/>
<rect x="475.0" y="144.3" width="5.3" height="5.3"/>
<rect x="527.1" y="127.9" width="5.3" height="5.3"/>
<rect x="510.1" y="134.6" width="5.3" height="5.3"/>
<rect x="534.7" y="204.5" width="5.3" height="5.3"/>
</g>
<g fill="#00B534">
<path d="M457.4 145.4l3.85 6.6h-7.7z"/>
<path d="M552.3 148.9l3.85 6.6h-7.7z"/>
<path d="M482.5 183.2l3.85 6.6h-7.7z"/>
</g>
<g fill="#F9655A">
<circle cx="557.3" cy="169.2" r="2.95"/>
</g>
<g fill="#5794FF">
<rect x="505.0" y="170.5" width="5.3" height="5.3"/>
</g>
<g fill="#00B534">
<path d="M524.9 133.5l3.85 6.6h-7.7z"/>
</g>
<g fill="#5794FF">
<rect x="487.6" y="85.9" width="5.3" height="5.3"/>
<rect x="527.3" y="158.2" width="5.3" height="5.3"/>
</g>
<g fill="#F9655A">
<circle cx="482.3" cy="172.7" r="2.95"/>
</g>
<g fill="#5794FF">
<rect x="454.7" y="155.5" width="5.3" height="5.3"/>
<rect x="540.0" y="105.9" width="5.3" height="5.3"/>
<rect x="534.7" y="133.1" width="5.3" height="5.3"/>
</g>
<g fill="#00B534">
<path d="M587.4 130.5l3.85 6.6h-7.7z"/>
<path d="M450.3 172.7l3.85 6.6h-7.7z"/>
</g>
<g fill="#5794FF">
<rect x="524.8" y="175.9" width="5.3" height="5.3"/>
</g>
<g fill="#00B534">
<path d="M447.6 133.5l3.85 6.6h-7.7z"/>
</g>
<g fill="#F9655A">
<circle cx="569.7" cy="200.8" r="2.95"/>
</g>
<g fill="#5794FF">
<rect x="492.3" y="116.0" width="5.3" height="5.3"/>
</g>
<g fill="#F9655A">
<circle cx="547.7" cy="166.8" r="2.95"/>
</g>
<g fill="#5794FF">
<rect x="454.6" y="195.6" width="5.3" height="5.3"/>
<rect x="552.2" y="123.3" width="5.3" height="5.3"/>
</g>
<g fill="#F9655A">
<circle cx="510.3" cy="150.2" r="2.95"/>
</g>
<g fill="#00B534">
<path d="M567.5 127.3l3.85 6.6h-7.7z"/>
</g>
<g fill="#5794FF">
<rect x="475.0" y="123.1" width="5.3" height="5.3"/>
</g>
<g fill="#F9655A">
<circle cx="559.8" cy="166.1" r="2.95"/>
<circle cx="472.7" cy="139.3" r="2.95"/>
</g>
<g fill="#5794FF">
<rect x="519.8" y="136.0" width="5.3" height="5.3"/>
</g>
<g fill="#00B534">
<path d="M512.4 162.9l3.85 6.6h-7.7z"/>
</g>
<g fill="#5794FF">
<rect x="447.5" y="155.9" width="5.3" height="5.3"/>
</g>
<g fill="#00B534">
<path d="M470.3 183.9l3.85 6.6h-7.7z"/>
</g>
<g fill="#5794FF">
<rect x="459.9" y="200.1" width="5.3" height="5.3"/>
<rect x="494.6" y="117.6" width="5.3" height="5.3"/>
</g>
<g fill="#00B534">
<path d="M520.0 160.7l3.85 6.6h-7.7z"/>
<path d="M447.8 161.5l3.85 6.6h-7.7z"/>
<path d="M512.4 152.6l3.85 6.6h-7.7z"/>
</g>
<g fill="#F9655A">
<circle cx="480.2" cy="126.3" r="2.95"/>
<circle cx="547.3" cy="177.5" r="2.95"/>
<circle cx="449.9" cy="203.7" r="2.95"/>
</g>
<g fill="#5794FF">
<rect x="440.0" y="162.5" width="5.3" height="5.3"/>
<rect x="454.9" y="186.7" width="5.3" height="5.3"/>
</g>
<g fill="#00B534">
<path d="M502.3 175.2l3.85 6.6h-7.7z"/>
</g>
<g fill="#5794FF">
<rect x="555.0" y="125.6" width="5.3" height="5.3"/>
</g>
<g fill="#00B534">
<path d="M530.3 100.7l3.85 6.6h-7.7z"/>
</g>
<g fill="#5794FF">
<rect x="555.1" y="146.2" width="5.3" height="5.3"/>
<rect x="535.3" y="86.3" width="5.3" height="5.3"/>
</g>
<g fill="#00B534">
<path d="M515.2 150.7l3.85 6.6h-7.7z"/>
</g>
<g fill="#F9655A">
<circle cx="535.0" cy="158.2" r="2.95"/>
<circle cx="552.4" cy="151.3" r="2.95"/>
</g>
<g fill="#5794FF">
<rect x="447.2" y="182.1" width="5.3" height="5.3"/>
<rect x="532.6" y="126.4" width="5.3" height="5.3"/>
<rect x="500.1" y="102.3" width="5.3" height="5.3"/>
</g>
<g fill="#F9655A">
<circle cx="570.1" cy="205.7" r="2.95"/>
</g>
<g fill="#5794FF">
<rect x="492.1" y="158.2" width="5.3" height="5.3"/>
<rect x="547.3" y="107.4" width="5.3" height="5.3"/>
<rect x="477.4" y="164.5" width="5.3" height="5.3"/>
<rect x="537.4" y="102.7" width="5.3" height="5.3"/>
<rect x="580.1" y="155.0" width="5.3" height="5.3"/>
</g>
<g fill="#00B534">
<path d="M487.7 136.8l3.85 6.6h-7.7z"/>
</g>
<g fill="#5794FF">
<rect x="564.9" y="191.9" width="5.3" height="5.3"/>
</g>
<g fill="#F9655A">
<circle cx="547.5" cy="175.1" r="2.95"/>
</g>
<g fill="#00B534">
<path d="M472.3 97.9l3.85 6.6h-7.7z"/>
<path d="M467.4 153.8l3.85 6.6h-7.7z"/>
</g>
<g fill="#F9655A">
<circle cx="562.4" cy="179.5" r="2.95"/>
</g>
<g fill="#5794FF">
<rect x="472.4" y="119.9" width="5.3" height="5.3"/>
</g>
<g fill="#00B534">
<path d="M442.3 165.4l3.85 6.6h-7.7z"/>
</g>
<g fill="#F9655A">
<circle cx="519.8" cy="202.0" r="2.95"/>
</g>
<g fill="#00B534">
<path d="M475.0 119.5l3.85 6.6h-7.7z"/>
</g>
<g fill="#5794FF">
<rect x="439.8" y="144.4" width="5.3" height="5.3"/>
<rect x="550.0" y="148.3" width="5.3" height="5.3"/>
</g>
<g fill="#F9655A">
<circle cx="442.7" cy="156.2" r="2.95"/>
</g>
<g fill="#5794FF">
<rect x="579.6" y="164.0" width="5.3" height="5.3"/>
</g>
<g fill="#F9655A">
<circle cx="492.4" cy="145.2" r="2.95"/>
</g>
<g fill="#5794FF">
<rect x="487.4" y="93.9" width="5.3" height="5.3"/>
<rect x="582.1" y="130.1" width="5.3" height="5.3"/>
<rect x="464.6" y="203.0" width="5.3" height="5.3"/>
</g>
<g fill="#00B534">
<path d="M457.3 174.8l3.85 6.6h-7.7z"/>
</g>
<g fill="#5794FF">
<rect x="574.7" y="155.9" width="5.3" height="5.3"/>
</g>
<g fill="#F9655A">
<circle cx="454.9" cy="202.6" r="2.95"/>
</g>
<g fill="#5794FF">
<rect x="567.4" y="167.7" width="5.3" height="5.3"/>
<rect x="505.0" y="107.0" width="5.3" height="5.3"/>
<rect x="572.4" y="168.6" width="5.3" height="5.3"/>
<rect x="552.1" y="161.9" width="5.3" height="5.3"/>
</g>
<g fill="#F9655A">
<circle cx="567.4" cy="183.1" r="2.95"/>
</g>
<g fill="#00B534">
<path d="M550.1 121.8l3.85 6.6h-7.7z"/>
<path d="M504.9 118.7l3.85 6.6h-7.7z"/>
</g>
<g fill="#F9655A">
<circle cx="587.6" cy="190.8" r="2.95"/>
<circle cx="500.0" cy="179.1" r="2.95"/>
</g>
<g fill="#00B534">
<path d="M542.3 178.0l3.85 6.6h-7.7z"/>
<path d="M544.9 134.2l3.85 6.6h-7.7z"/>
</g>
<g fill="#F9655A">
<circle cx="467.6" cy="204.1" r="2.95"/>
</g>
<g fill="#00B534">
<path d="M479.8 118.9l3.85 6.6h-7.7z"/>
</g>
<g fill="#5794FF">
<rect x="479.6" y="139.8" width="5.3" height="5.3"/>
<rect x="562.5" y="126.2" width="5.3" height="5.3"/>
<rect x="564.6" y="121.2" width="5.3" height="5.3"/>
<rect x="479.7" y="107.1" width="5.3" height="5.3"/>
<rect x="512.6" y="124.4" width="5.3" height="5.3"/>
<rect x="460.0" y="201.1" width="5.3" height="5.3"/>
</g>
<g fill="#F9655A">
<circle cx="585.2" cy="147.4" r="2.95"/>
</g>
<g fill="#5794FF">
<rect x="432.1" y="206.5" width="5.3" height="5.3"/>
</g>
<g fill="#00B534">
<path d="M567.4 140.4l3.85 6.6h-7.7z"/>
<path d="M467.4 141.9l3.85 6.6h-7.7z"/>
</g>
<g fill="#5794FF">
<rect x="529.7" y="190.4" width="5.3" height="5.3"/>
<rect x="557.2" y="178.7" width="5.3" height="5.3"/>
<rect x="489.9" y="157.2" width="5.3" height="5.3"/>
<rect x="545.1" y="116.6" width="5.3" height="5.3"/>
</g>
<g fill="#00B534">
<path d="M545.2 145.7l3.85 6.6h-7.7z"/>
</g>
<g fill="#5794FF">
<rect x="512.4" y="130.3" width="5.3" height="5.3"/>
<rect x="492.3" y="125.5" width="5.3" height="5.3"/>
<rect x="537.6" y="140.5" width="5.3" height="5.3"/>
<rect x="482.3" y="129.9" width="5.3" height="5.3"/>
</g>
<g fill="#00B534">
<path d="M467.4 195.8l3.85 6.6h-7.7z"/>
</g>
<g fill="#5794FF">
<rect x="574.7" y="144.3" width="5.3" height="5.3"/>
</g>
<g fill="#F9655A">
<circle cx="532.6" cy="179.4" r="2.95"/>
</g>
<g fill="#00B534">
<path d="M432.6 174.8l3.85 6.6h-7.7z"/>
</g>
<g fill="#F9655A">
<circle cx="534.8" cy="204.9" r="2.95"/>
</g>
<g fill="#5794FF">
<rect x="519.6" y="141.9" width="5.3" height="5.3"/>
</g>
<g fill="#00B534">
<path d="M512.5 145.6l3.85 6.6h-7.7z"/>
</g>
<g fill="#5794FF">
<rect x="440.0" y="199.8" width="5.3" height="5.3"/>
</g>
<g fill="#00B534">
<path d="M482.3 205.2l3.85 6.6h-7.7z"/>
</g>
<g fill="#5794FF">
<rect x="437.4" y="185.9" width="5.3" height="5.3"/>
<rect x="502.1" y="133.7" width="5.3" height="5.3"/>
<rect x="557.6" y="174.1" width="5.3" height="5.3"/>
</g>
<g fill="#00B534">
<path d="M465.2 174.1l3.85 6.6h-7.7z"/>
</g>
<g fill="#5794FF">
<rect x="457.3" y="120.9" width="5.3" height="5.3"/>
</g>
<g fill="#F9655A">
<circle cx="487.6" cy="134.0" r="2.95"/>
</g>
<g fill="#5794FF">
<rect x="462.3" y="189.2" width="5.3" height="5.3"/>
<rect x="522.4" y="183.4" width="5.3" height="5.3"/>
<rect x="582.4" y="206.1" width="5.3" height="5.3"/>
<rect x="437.1" y="146.1" width="5.3" height="5.3"/>
<rect x="577.6" y="127.7" width="5.3" height="5.3"/>
<rect x="584.8" y="191.4" width="5.3" height="5.3"/>
<rect x="574.8" y="179.4" width="5.3" height="5.3"/>
<rect x="474.8" y="140.6" width="5.3" height="5.3"/>
<rect x="509.7" y="123.5" width="5.3" height="5.3"/>
<rect x="462.1" y="151.1" width="5.3" height="5.3"/>
<rect x="507.5" y="129.9" width="5.3" height="5.3"/>
</g>
<g fill="#F9655A">
<circle cx="462.4" cy="196.6" r="2.95"/>
</g>
<g fill="#00B534">
<path d="M527.7 123.4l3.85 6.6h-7.7z"/>
</g>
<g fill="#F9655A">
<circle cx="532.2" cy="161.2" r="2.95"/>
</g>
<g fill="#00B534">
<path d="M549.7 179.2l3.85 6.6h-7.7z"/>
</g>
<g fill="#5794FF">
<rect x="472.5" y="148.6" width="5.3" height="5.3"/>
<rect x="505.0" y="154.1" width="5.3" height="5.3"/>
<rect x="494.7" y="188.7" width="5.3" height="5.3"/>
<rect x="472.6" y="129.8" width="5.3" height="5.3"/>
<rect x="477.3" y="190.8" width="5.3" height="5.3"/>
<rect x="527.5" y="141.9" width="5.3" height="5.3"/>
<rect x="530.1" y="136.6" width="5.3" height="5.3"/>
<rect x="490.1" y="203.2" width="5.3" height="5.3"/>
</g>
<g fill="#00B534">
<path d="M537.5 202.5l3.85 6.6h-7.7z"/>
<path d="M542.4 202.9l3.85 6.6h-7.7z"/>
</g>
<g fill="#5794FF">
<rect x="449.6" y="204.6" width="5.3" height="5.3"/>
<rect x="452.3" y="147.6" width="5.3" height="5.3"/>
</g>
<g fill="#F9655A">
<circle cx="559.8" cy="190.2" r="2.95"/>
<circle cx="447.3" cy="134.3" r="2.95"/>
</g>
<g fill="#5794FF">
<rect x="569.6" y="126.3" width="5.3" height="5.3"/>
<rect x="487.1" y="126.0" width="5.3" height="5.3"/>
<rect x="452.6" y="164.4" width="5.3" height="5.3"/>
<rect x="562.6" y="125.7" width="5.3" height="5.3"/>
<rect x="435.1" y="200.7" width="5.3" height="5.3"/>
<rect x="584.9" y="171.8" width="5.3" height="5.3"/>
<rect x="557.6" y="124.6" width="5.3" height="5.3"/>
<rect x="497.5" y="120.1" width="5.3" height="5.3"/>
<rect x="427.4" y="163.6" width="5.3" height="5.3"/>
</g>
<g fill="#00B534">
<path d="M454.9 137.0l3.85 6.6h-7.7z"/>
</g>
<g fill="#5794FF">
<rect x="492.6" y="94.4" width="5.3" height="5.3"/>
<rect x="552.2" y="173.5" width="5.3" height="5.3"/>
<rect x="577.2" y="146.3" width="5.3" height="5.3"/>
<rect x="512.5" y="117.6" width="5.3" height="5.3"/>
<rect x="580.1" y="135.6" width="5.3" height="5.3"/>
<rect x="550.1" y="127.7" width="5.3" height="5.3"/>
<rect x="479.9" y="130.1" width="5.3" height="5.3"/>
</g>
<g fill="#F9655A">
<circle cx="587.4" cy="168.7" r="2.95"/>
</g>
<g fill="#5794FF">
<rect x="525.1" y="166.1" width="5.3" height="5.3"/>
<rect x="507.4" y="153.5" width="5.3" height="5.3"/>
<rect x="432.3" y="184.9" width="5.3" height="5.3"/>
</g>
<g fill="#F9655A">
<circle cx="547.6" cy="194.9" r="2.95"/>
</g>
<g fill="#5794FF">
<rect x="579.7" y="167.3" width="5.3" height="5.3"/>
<rect x="569.9" y="128.7" width="5.3" height="5.3"/>
</g>
<g fill="#00B534">
<path d="M524.9 163.3l3.85 6.6h-7.7z"/>
</g>
<g fill="#5794FF">
<rect x="477.3" y="195.3" width="5.3" height="5.3"/>
<rect x="539.9" y="166.5" width="5.3" height="5.3"/>
<rect x="560.0" y="121.0" width="5.3" height="5.3"/>
<rect x="522.4" y="87.9" width="5.3" height="5.3"/>
<rect x="550.0" y="177.4" width="5.3" height="5.3"/>
<rect x="462.2" y="146.7" width="5.3" height="5.3"/>
</g>
<g fill="#00B534">
<path d="M530.1 111.6l3.85 6.6h-7.7z"/>
</g>
<g fill="#F9655A">
<circle cx="457.2" cy="190.2" r="2.95"/>
</g>
<g fill="#00B534">
<path d="M515.0 191.6l3.85 6.6h-7.7z"/>
</g>
<g fill="#F9655A">
<circle cx="570.3" cy="145.0" r="2.95"/>
</g>
<g fill="#5794FF">
<rect x="537.6" y="193.0" width="5.3" height="5.3"/>
<rect x="552.1" y="161.7" width="5.3" height="5.3"/>
</g>
<g fill="#F9655A">
<circle cx="455.1" cy="201.3" r="2.95"/>
</g>
<g fill="#5794FF">
<rect x="462.3" y="149.5" width="5.3" height="5.3"/>
<rect x="557.2" y="124.7" width="5.3" height="5.3"/>
<rect x="482.3" y="98.4" width="5.3" height="5.3"/>
<rect x="455.1" y="120.5" width="5.3" height="5.3"/>
<rect x="552.2" y="125.3" width="5.3" height="5.3"/>
</g>
<g fill="#00B534">
<path d="M475.0 175.9l3.85 6.6h-7.7z"/>
<path d="M567.5 186.7l3.85 6.6h-7.7z"/>
</g>
<g fill="#5794FF">
<rect x="459.8" y="195.1" width="5.3" height="5.3"/>
<rect x="459.9" y="139.9" width="5.3" height="5.3"/>
<rect x="554.7" y="164.1" width="5.3" height="5.3"/>
</g>
<g fill="#00B534">
<path d="M465.1 184.9l3.85 6.6h-7.7z"/>
</g>
<g fill="#5794FF">
<rect x="539.6" y="185.1" width="5.3" height="5.3"/>
</g>
<g fill="#F9655A">
<circle cx="452.4" cy="141.1" r="2.95"/>
</g>
<g fill="#00B534">
<path d="M499.8 131.3l3.85 6.6h-7.7z"/>
<path d="M490.1 148.8l3.85 6.6h-7.7z"/>
</g>
<g fill="#5794FF">
<rect x="454.7" y="135.7" width="5.3" height="5.3"/>
</g>
<g fill="#00B534">
<path d="M502.4 196.3l3.85 6.6h-7.7z"/>
</g>
<g fill="#5794FF">
<rect x="484.7" y="88.6" width="5.3" height="5.3"/>
<rect x="479.7" y="168.0" width="5.3" height="5.3"/>
<rect x="564.9" y="135.2" width="5.3" height="5.3"/>
<rect x="557.2" y="138.0" width="5.3" height="5.3"/>
</g>
<g fill="#00B534">
<path d="M472.4 183.3l3.85 6.6h-7.7z"/>
</g>
<g fill="#5794FF">
<rect x="445.0" y="190.6" width="5.3" height="5.3"/>
<rect x="502.2" y="154.1" width="5.3" height="5.3"/>
<rect x="477.6" y="157.2" width="5.3" height="5.3"/>
<rect x="465.1" y="162.3" width="5.3" height="5.3"/>
</g>
<g fill="#F9655A">
<circle cx="474.8" cy="202.2" r="2.95"/>
</g>
<g fill="#5794FF">
<rect x="505.1" y="151.5" width="5.3" height="5.3"/>
<rect x="432.5" y="154.9" width="5.3" height="5.3"/>
</g>
<g fill="#00B534">
<path d="M542.5 119.1l3.85 6.6h-7.7z"/>
</g>
<g fill="#5794FF">
<rect x="480.0" y="206.6" width="5.3" height="5.3"/>
</g>
<g fill="#00B534">
<path d="M542.5 93.3l3.85 6.6h-7.7z"/>
<path d="M462.7 140.2l3.85 6.6h-7.7z"/>
</g>
<g fill="#5794FF">
<rect x="520.1" y="196.8" width="5.3" height="5.3"/>
<rect x="534.4" y="89.0" width="5.3" height="5.3"/>
<rect x="470.0" y="163.4" width="5.3" height="5.3"/>
<rect x="467.1" y="169.6" width="5.3" height="5.3"/>
</g>
<g fill="#00B534">
<path d="M515.1 184.7l3.85 6.6h-7.7z"/>
</g>
<g fill="#5794FF">
<rect x="449.7" y="167.0" width="5.3" height="5.3"/>
</g>
<g fill="#F9655A">
<circle cx="527.7" cy="125.6" r="2.95"/>
</g>
<g fill="#5794FF">
<rect x="442.2" y="139.2" width="5.3" height="5.3"/>
</g>
<g fill="#F9655A">
<circle cx="507.5" cy="135.5" r="2.95"/>
<circle cx="560.0" cy="158.4" r="2.95"/>
</g>
<g fill="#5794FF">
<rect x="502.1" y="202.3" width="5.3" height="5.3"/>
<rect x="542.5" y="159.0" width="5.3" height="5.3"/>
<rect x="579.7" y="132.3" width="5.3" height="5.3"/>
<rect x="557.1" y="138.1" width="5.3" height="5.3"/>
</g>
<g fill="#F9655A">
<circle cx="440.3" cy="165.5" r="2.95"/>
<circle cx="557.5" cy="164.3" r="2.95"/>
<circle cx="470.0" cy="96.7" r="2.95"/>
<circle cx="479.9" cy="105.9" r="2.95"/>
<circle cx="460.0" cy="185.9" r="2.95"/>
</g>
<g fill="#5794FF">
<rect x="494.8" y="162.9" width="5.3" height="5.3"/>
</g>
<g fill="#F9655A">
<circle cx="520.3" cy="116.8" r="2.95"/>
</g>
<g fill="#00B534">
<path d="M542.5 173.8l3.85 6.6h-7.7z"/>
</g>
<g fill="#5794FF">
<rect x="454.8" y="204.5" width="5.3" height="5.3"/>
<rect x="519.9" y="191.9" width="5.3" height="5.3"/>
<rect x="580.1" y="189.0" width="5.3" height="5.3"/>
<rect x="540.0" y="189.0" width="5.3" height="5.3"/>
</g>
<g fill="#00B534">
<path d="M514.9 108.6l3.85 6.6h-7.7z"/>
</g>
<g fill="#5794FF">
<rect x="582.1" y="160.4" width="5.3" height="5.3"/>
<rect x="579.8" y="148.0" width="5.3" height="5.3"/>
</g>
<g fill="#F9655A">
<circle cx="437.6" cy="165.8" r="2.95"/>
</g>
<g fill="#00B534">
<path d="M564.7 161.7l3.85 6.6h-7.7z"/>
<path d="M497.4 190.6l3.85 6.6h-7.7z"/>
</g>
<g fill="#5794FF">
<rect x="497.6" y="206.1" width="5.3" height="5.3"/>
</g>
<g fill="#00B534">
<path d="M455.0 122.1l3.85 6.6h-7.7z"/>
</g>
<g fill="#5794FF">
<rect x="522.2" y="165.1" width="5.3" height="5.3"/>
<rect x="492.3" y="165.9" width="5.3" height="5.3"/>
<rect x="484.8" y="184.5" width="5.3" height="5.3"/>
</g>
<g fill="#00B534">
<path d="M542.3 203.1l3.85 6.6h-7.7z"/>
</g>
<g fill="#5794FF">
<rect x="472.2" y="97.2" width="5.3" height="5.3"/>
</g>
<g fill="#F9655A">
<circle cx="542.6" cy="140.9" r="2.95"/>
</g>
<g fill="#5794FF">
<rect x="487.1" y="195.8" width="5.3" height="5.3"/>
<rect x="550.1" y="185.8" width="5.3" height="5.3"/>
<rect x="474.9" y="141.8" width="5.3" height="5.3"/>
<rect x="495.0" y="165.4" width="5.3" height="5.3"/>
<rect x="504.9" y="101.4" width="5.3" height="5.3"/>
</g>
<g fill="#00B534">
<path d="M464.8 161.9l3.85 6.6h-7.7z"/>
</g>
<g fill="#5794FF">
<rect x="502.3" y="114.3" width="5.3" height="5.3"/>
<rect x="509.8" y="126.4" width="5.3" height="5.3"/>
</g>
<g fill="#F9655A">
<circle cx="467.2" cy="182.5" r="2.95"/>
</g>
<g fill="#5794FF">
<rect x="492.4" y="199.7" width="5.3" height="5.3"/>
</g>
<g fill="#F9655A">
<circle cx="474.9" cy="164.1" r="2.95"/>
</g>
<g fill="#5794FF">
<rect x="445.1" y="142.3" width="5.3" height="5.3"/>
<rect x="562.2" y="117.0" width="5.3" height="5.3"/>
</g>
<g fill="#F9655A">
<circle cx="499.9" cy="122.6" r="2.95"/>
</g>
<g fill="#5794FF">
<rect x="480.1" y="87.2" width="5.3" height="5.3"/>
<rect x="447.5" y="124.2" width="5.3" height="5.3"/>
<rect x="459.7" y="176.4" width="5.3" height="5.3"/>
<rect x="545.1" y="117.4" width="5.3" height="5.3"/>
<rect x="467.1" y="120.4" width="5.3" height="5.3"/>
<rect x="485.0" y="145.4" width="5.3" height="5.3"/>
</g>
<g fill="#F9655A">
<circle cx="484.7" cy="207.1" r="2.95"/>
</g>
<g fill="#5794FF">
<rect x="557.5" y="157.6" width="5.3" height="5.3"/>
</g>
<g fill="#F9655A">
<circle cx="507.4" cy="175.5" r="2.95"/>
<circle cx="442.6" cy="185.6" r="2.95"/>
</g>
<g fill="#5794FF">
<rect x="522.5" y="135.0" width="5.3" height="5.3"/>
</g>
<g fill="#00B534">
<path d="M574.9 150.6l3.85 6.6h-7.7z"/>
</g>
<g fill="#5794FF">
<rect x="512.4" y="197.0" width="5.3" height="5.3"/>
<rect x="480.0" y="114.6" width="5.3" height="5.3"/>
<rect x="452.2" y="196.1" width="5.3" height="5.3"/>
</g>
<g fill="#00B534">
<path d="M474.7 197.1l3.85 6.6h-7.7z"/>
</g>
<g fill="#F9655A">
<circle cx="535.1" cy="175.6" r="2.95"/>
</g>
<g fill="#5794FF">
<rect x="497.6" y="145.9" width="5.3" height="5.3"/>
<rect x="514.7" y="144.1" width="5.3" height="5.3"/>
<rect x="429.8" y="192.9" width="5.3" height="5.3"/>
<rect x="429.9" y="160.0" width="5.3" height="5.3"/>
<rect x="457.6" y="141.5" width="5.3" height="5.3"/>
<rect x="547.2" y="163.7" width="5.3" height="5.3"/>
<rect x="554.8" y="140.6" width="5.3" height="5.3"/>
</g>
<g fill="#00B534">
<path d="M467.6 150.9l3.85 6.6h-7.7z"/>
</g>
<g fill="#F9655A">
<circle cx="450.0" cy="198.5" r="2.95"/>
<circle cx="457.5" cy="158.3" r="2.95"/>
</g>
<g fill="#00B534">
<path d="M464.7 189.0l3.85 6.6h-7.7z"/>
</g>
<g fill="#F9655A">
<circle cx="447.8" cy="180.6" r="2.95"/>
</g>
<g fill="#00B534">
<path d="M475.1 189.3l3.85 6.6h-7.7z"/>
</g>
<g fill="#F9655A">
<circle cx="534.7" cy="140.1" r="2.95"/>
</g>
<g fill="#00B534">
<path d="M455.2 166.9l3.85 6.6h-7.7z"/>
</g>
<g fill="#F9655A">
<circle cx="439.8" cy="204.8" r="2.95"/>
</g>
<g fill="#00B534">
<path d="M454.7 136.4l3.85 6.6h-7.7z"/>
</g>
<g fill="#F9655A">
<circle cx="480.0" cy="148.7" r="2.95"/>
</g>
<g fill="#5794FF">
<rect x="497.1" y="128.7" width="5.3" height="5.3"/>
<rect x="447.1" y="129.1" width="5.3" height="5.3"/>
</g>
<g fill="#00B534">
<path d="M542.4 184.5l3.85 6.6h-7.7z"/>
</g>
<g fill="#5794FF">
<rect x="552.6" y="169.9" width="5.3" height="5.3"/>
<rect x="522.3" y="163.1" width="5.3" height="5.3"/>
</g>
<g fill="#F9655A">
<circle cx="487.3" cy="189.5" r="2.95"/>
</g>
<g fill="#00B534">
<path d="M565.2 166.1l3.85 6.6h-7.7z"/>
<path d="M555.0 132.9l3.85 6.6h-7.7z"/>
</g>
<g fill="#5794FF">
<rect x="570.1" y="174.1" width="5.3" height="5.3"/>
<rect x="437.1" y="179.1" width="5.3" height="5.3"/>
</g>
<g fill="#00B534">
<path d="M534.7 155.3l3.85 6.6h-7.7z"/>
<path d="M582.2 196.8l3.85 6.6h-7.7z"/>
<path d="M435.2 204.6l3.85 6.6h-7.7z"/>
</g>
<g fill="#F9655A">
<circle cx="567.5" cy="183.7" r="2.95"/>
<circle cx="447.8" cy="138.9" r="2.95"/>
</g>
<g fill="#5794FF">
<rect x="450.0" y="204.9" width="5.3" height="5.3"/>
<rect x="537.1" y="189.9" width="5.3" height="5.3"/>
</g>
<g fill="#00B534">
<path d="M465.1 149.9l3.85 6.6h-7.7z"/>
<path d="M507.6 160.5l3.85 6.6h-7.7z"/>
<path d="M477.5 127.2l3.85 6.6h-7.7z"/>
</g>
<g fill="#F9655A">
<circle cx="552.6" cy="138.8" r="2.95"/>
</g>
<g fill="#5794FF">
<rect x="544.7" y="110.4" width="5.3" height="5.3"/>
<rect x="574.7" y="142.1" width="5.3" height="5.3"/>
<rect x="432.5" y="154.2" width="5.3" height="5.3"/>
</g>
<g fill="#00B534">
<path d="M439.9 174.0l3.85 6.6h-7.7z"/>
</g>
<g fill="#5794FF">
<rect x="475.5" y="91.3" width="5.3" height="5.3"/>
<rect x="502.6" y="202.3" width="5.3" height="5.3"/>
</g>
<g fill="#F9655A">
<circle cx="532.3" cy="127.4" r="2.95"/>
</g>
<g fill="#00B534">
<path d="M577.8 200.6l3.85 6.6h-7.7z"/>
</g>
<g fill="#5794FF">
<rect x="572.4" y="112.6" width="5.3" height="5.3"/>
</g>
<g fill="#00B534">
<path d="M530.2 161.7l3.85 6.6h-7.7z"/>
</g>
<g fill="#5794FF">
<rect x="530.0" y="115.1" width="5.3" height="5.3"/>
</g>
<g fill="#00B534">
<path d="M487.4 128.4l3.85 6.6h-7.7z"/>
</g>
<g fill="#5794FF">
<rect x="470.0" y="121.7" width="5.3" height="5.3"/>
<rect x="460.1" y="120.7" width="5.3" height="5.3"/>
</g>
<g fill="#F9655A">
<circle cx="444.8" cy="173.8" r="2.95"/>
</g>
<g fill="#00B534">
<path d="M459.8 173.5l3.85 6.6h-7.7z"/>
<path d="M442.4 178.4l3.85 6.6h-7.7z"/>
<path d="M517.2 179.5l3.85 6.6h-7.7z"/>
<path d="M567.7 165.9l3.85 6.6h-7.7z"/>
</g>
<g fill="#F9655A">
<circle cx="485.1" cy="148.3" r="2.95"/>
</g>
<g fill="#00B534">
<path d="M584.8 175.5l3.85 6.6h-7.7z"/>
<path d="M587.4 180.4l3.85 6.6h-7.7z"/>
<path d="M430.1 181.4l3.85 6.6h-7.7z"/>
<path d="M474.8 203.3l3.85 6.6h-7.7z"/>
<path d="M470.1 150.7l3.85 6.6h-7.7z"/>
</g>
<g fill="#F9655A">
<circle cx="540.1" cy="203.1" r="2.95"/>
</g>
<g fill="#5794FF">
<rect x="519.9" y="131.9" width="5.3" height="5.3"/>
</g>
<g fill="#00B534">
<path d="M530.0 135.4l3.85 6.6h-7.7z"/>
</g>
<g fill="#5794FF">
<rect x="462.5" y="125.8" width="5.3" height="5.3"/>
<rect x="497.1" y="148.3" width="5.3" height="5.3"/>
<rect x="487.1" y="200.8" width="5.3" height="5.3"/>
<rect x="579.6" y="158.2" width="5.3" height="5.3"/>
</g>
<g fill="#00B534">
<path d="M562.5 167.1l3.85 6.6h-7.7z"/>
</g>
<g fill="#5794FF">
<rect x="565.1" y="119.4" width="5.3" height="5.3"/>
</g>
<g fill="#00B534">
<path d="M555.3 173.7l3.85 6.6h-7.7z"/>
<path d="M577.8 203.4l3.85 6.6h-7.7z"/>
</g>
<g fill="#5794FF">
<rect x="440.1" y="195.4" width="5.3" height="5.3"/>
<rect x="447.5" y="181.4" width="5.3" height="5.3"/>
<rect x="479.7" y="145.2" width="5.3" height="5.3"/>
</g>
<g fill="#00B534">
<path d="M459.9 128.9l3.85 6.6h-7.7z"/>
</g>
<g fill="#5794FF">
<rect x="554.8" y="152.5" width="5.3" height="5.3"/>
<rect x="585.0" y="151.0" width="5.3" height="5.3"/>
</g>
<g fill="#F9655A">
<circle cx="437.3" cy="159.1" r="2.95"/>
</g>
<g fill="#5794FF">
<rect x="513.2" y="86.8" width="5.3" height="5.3"/>
</g>
<g fill="#00B534">
<path d="M557.4 186.2l3.85 6.6h-7.7z"/>
<path d="M547.8 174.6l3.85 6.6h-7.7z"/>
</g>
<g fill="#5794FF">
<rect x="492.3" y="151.6" width="5.3" height="5.3"/>
<rect x="507.6" y="124.1" width="5.3" height="5.3"/>
</g>
<g fill="#F9655A">
<circle cx="549.8" cy="157.5" r="2.95"/>
</g>
<g fill="#5794FF">
<rect x="517.6" y="186.3" width="5.3" height="5.3"/>
</g>
<g fill="#00B534">
<path d="M494.9 179.3l3.85 6.6h-7.7z"/>
</g>
<g fill="#5794FF">
<rect x="482.6" y="172.0" width="5.3" height="5.3"/>
</g>
<g fill="#F9655A">
<circle cx="515.1" cy="184.5" r="2.95"/>
</g>
<g fill="#5794FF">
<rect x="519.9" y="146.8" width="5.3" height="5.3"/>
<rect x="517.2" y="184.8" width="5.3" height="5.3"/>
</g>
<g fill="#00B534">
<path d="M439.8 175.5l3.85 6.6h-7.7z"/>
</g>
<g fill="#5794FF">
<rect x="525.0" y="158.6" width="5.3" height="5.3"/>
</g>
<g fill="#F9655A">
<circle cx="552.7" cy="126.3" r="2.95"/>
</g>
<g fill="#5794FF">
<rect x="504.9" y="97.8" width="5.3" height="5.3"/>
<rect x="482.1" y="118.3" width="5.3" height="5.3"/>
<rect x="487.1" y="120.6" width="5.3" height="5.3"/>
</g>
<g fill="#00B534">
<path d="M545.2 195.5l3.85 6.6h-7.7z"/>
</g>
<g fill="#5794FF">
<rect x="569.6" y="126.5" width="5.3" height="5.3"/>
</g>
<g fill="#00B534">
<path d="M445.0 130.8l3.85 6.6h-7.7z"/>
</g>
<g fill="#5794FF">
<rect x="497.3" y="128.8" width="5.3" height="5.3"/>
</g>
<g fill="#F9655A">
<circle cx="520.3" cy="192.6" r="2.95"/>
</g>
<g fill="#5794FF">
<rect x="502.2" y="117.1" width="5.3" height="5.3"/>
</g>
<g fill="#00B534">
<path d="M450.3 152.4l3.85 6.6h-7.7z"/>
<path d="M445.3 200.0l3.85 6.6h-7.7z"/>
</g>
<g fill="#5794FF">
<rect x="477.6" y="121.2" width="5.3" height="5.3"/>
</g>
<g fill="#00B534">
<path d="M517.5 130.1l3.85 6.6h-7.7z"/>
</g>
<g fill="#5794FF">
<rect x="454.8" y="176.7" width="5.3" height="5.3"/>
</g>
<g fill="#F9655A">
<circle cx="557.8" cy="199.5" r="2.95"/>
<circle cx="487.6" cy="173.6" r="2.95"/>
</g>
<g fill="#5794FF">
<rect x="525.0" y="111.5" width="5.3" height="5.3"/>
<rect x="529.8" y="129.9" width="5.3" height="5.3"/>
</g>
<g fill="#00B534">
<path d="M495.0 187.5l3.85 6.6h-7.7z"/>
</g>
<g fill="#5794FF">
<rect x="539.6" y="140.5" width="5.3" height="5.3"/>
</g>
<g fill="#F9655A">
<circle cx="560.1" cy="206.4" r="2.95"/>
</g>
<g fill="#5794FF">
<rect x="542.4" y="180.5" width="5.3" height="5.3"/>
</g>
<g fill="#F9655A">
<circle cx="539.8" cy="115.3" r="2.95"/>
<circle cx="572.5" cy="188.0" r="2.95"/>
</g>
<g fill="#00B534">
<path d="M590.0 161.4l3.85 6.6h-7.7z"/>
<path d="M522.4 203.5l3.85 6.6h-7.7z"/>
</g>
<g fill="#5794FF">
<rect x="430.0" y="164.2" width="5.3" height="5.3"/>
<rect x="475.0" y="180.0" width="5.3" height="5.3"/>
</g>
<g fill="#F9655A">
<circle cx="489.9" cy="127.0" r="2.95"/>
</g>
<g fill="#5794FF">
<rect x="467.5" y="194.2" width="5.3" height="5.3"/>
<rect x="444.7" y="157.4" width="5.3" height="5.3"/>
</g>
<g fill="#00B534">
<path d="M527.3 189.0l3.85 6.6h-7.7z"/>
</g>
<g fill="#5794FF">
<rect x="459.9" y="146.6" width="5.3" height="5.3"/>
<rect x="584.9" y="170.4" width="5.3" height="5.3"/>
</g>
<g fill="#00B534">
<path d="M522.7 169.2l3.85 6.6h-7.7z"/>
</g>
<g fill="#5794FF">
<rect x="507.5" y="133.7" width="5.3" height="5.3"/>
</g>
<g fill="#00B534">
<path d="M552.8 198.5l3.85 6.6h-7.7z"/>
</g>
<g fill="#5794FF">
<rect x="497.3" y="139.7" width="5.3" height="5.3"/>
<rect x="542.2" y="175.5" width="5.3" height="5.3"/>
<rect x="467.5" y="188.9" width="5.3" height="5.3"/>
</g>
<g fill="#00B534">
<path d="M567.8 133.8l3.85 6.6h-7.7z"/>
<path d="M590.0 153.2l3.85 6.6h-7.7z"/>
</g>
<g fill="#5794FF">
<rect x="480.1" y="121.6" width="5.3" height="5.3"/>
<rect x="504.7" y="130.0" width="5.3" height="5.3"/>
</g>
<g fill="#F9655A">
<circle cx="572.7" cy="135.8" r="2.95"/>
</g>
<g fill="#5794FF">
<rect x="557.5" y="103.3" width="5.3" height="5.3"/>
<rect x="532.6" y="120.0" width="5.3" height="5.3"/>
<rect x="469.6" y="122.0" width="5.3" height="5.3"/>
<rect x="554.7" y="158.1" width="5.3" height="5.3"/>
<rect x="472.5" y="193.0" width="5.3" height="5.3"/>
</g>
<g fill="#F9655A">
<circle cx="509.9" cy="164.6" r="2.95"/>
</g>
<g fill="#5794FF">
<rect x="539.8" y="205.6" width="5.3" height="5.3"/>
</g>
<g fill="#00B534">
<path d="M574.7 183.2l3.85 6.6h-7.7z"/>
</g>
<g fill="#5794FF">
<rect x="459.9" y="153.4" width="5.3" height="5.3"/>
<rect x="442.6" y="134.0" width="5.3" height="5.3"/>
<rect x="552.6" y="138.6" width="5.3" height="5.3"/>
<rect x="482.2" y="118.9" width="5.3" height="5.3"/>
<rect x="469.8" y="147.2" width="5.3" height="5.3"/>
</g>
<g fill="#00B534">
<path d="M542.8 102.6l3.85 6.6h-7.7z"/>
<path d="M439.9 155.2l3.85 6.6h-7.7z"/>
</g>
<g fill="#F9655A">
<circle cx="562.2" cy="125.4" r="2.95"/>
</g>
<g fill="#5794FF">
<rect x="494.6" y="99.6" width="5.3" height="5.3"/>
</g>
<g fill="#00B534">
<path d="M557.5 139.8l3.85 6.6h-7.7z"/>
</g>
<g fill="#F9655A">
<circle cx="562.4" cy="197.9" r="2.95"/>
<circle cx="570.3" cy="193.4" r="2.95"/>
</g>
<g fill="#5794FF">
<rect x="499.7" y="154.2" width="5.3" height="5.3"/>
</g>
<g fill="#00B534">
<path d="M549.7 165.3l3.85 6.6h-7.7z"/>
</g>
<g fill="#5794FF">
<rect x="534.9" y="170.2" width="5.3" height="5.3"/>
<rect x="534.6" y="144.6" width="5.3" height="5.3"/>
<rect x="480.1" y="193.2" width="5.3" height="5.3"/>
</g>
<g fill="#F9655A">
<circle cx="542.2" cy="182.9" r="2.95"/>
</g>
<g fill="#00B534">
<path d="M544.9 143.1l3.85 6.6h-7.7z"/>
<path d="M485.1 146.9l3.85 6.6h-7.7z"/>
</g>
<g fill="#F9655A">
<circle cx="572.8" cy="120.2" r="2.95"/>
</g>
<g fill="#00B534">
<path d="M507.7 130.1l3.85 6.6h-7.7z"/>
</g>
<g fill="#5794FF">
<rect x="472.4" y="131.8" width="5.3" height="5.3"/>
<rect x="554.6" y="121.7" width="5.3" height="5.3"/>
</g>
<g fill="#00B534">
<path d="M479.8 178.3l3.85 6.6h-7.7z"/>
</g>
<g fill="#5794FF">
<rect x="475.1" y="151.6" width="5.3" height="5.3"/>
<rect x="467.4" y="143.3" width="5.3" height="5.3"/>
</g>
<g fill="#00B534">
<path d="M447.7 140.9l3.85 6.6h-7.7z"/>
<path d="M532.6 175.7l3.85 6.6h-7.7z"/>
</g>
<g fill="#5794FF">
<rect x="497.6" y="122.9" width="5.3" height="5.3"/>
</g>
<g fill="#00B534">
<path d="M484.9 119.3l3.85 6.6h-7.7z"/>
</g>
<g fill="#5794FF">
<rect x="587.3" y="155.0" width="5.3" height="5.3"/>
<rect x="437.5" y="198.2" width="5.3" height="5.3"/>
<rect x="544.9" y="143.2" width="5.3" height="5.3"/>
</g>
<g fill="#00B534">
<path d="M457.3 175.4l3.85 6.6h-7.7z"/>
</g>
<g fill="#5794FF">
<rect x="577.4" y="119.8" width="5.3" height="5.3"/>
<rect x="549.7" y="121.7" width="5.3" height="5.3"/>
<rect x="542.3" y="197.4" width="5.3" height="5.3"/>
<rect x="494.9" y="153.5" width="5.3" height="5.3"/>
</g>
<g fill="#F9655A">
<circle cx="564.9" cy="150.5" r="2.95"/>
</g>
<g fill="#5794FF">
<rect x="527.1" y="162.4" width="5.3" height="5.3"/>
<rect x="515.0" y="138.0" width="5.3" height="5.3"/>
<rect x="577.3" y="129.3" width="5.3" height="5.3"/>
<rect x="447.6" y="204.0" width="5.3" height="5.3"/>
<rect x="502.1" y="102.5" width="5.3" height="5.3"/>
<rect x="447.3" y="131.3" width="5.3" height="5.3"/>
</g>
<g fill="#00B534">
<path d="M547.3 136.3l3.85 6.6h-7.7z"/>
<path d="M537.5 182.9l3.85 6.6h-7.7z"/>
</g>
<g fill="#5794FF">
<rect x="494.6" y="168.6" width="5.3" height="5.3"/>
<rect x="502.5" y="145.4" width="5.3" height="5.3"/>
<rect x="427.6" y="153.7" width="5.3" height="5.3"/>
<rect x="527.4" y="132.5" width="5.3" height="5.3"/>
</g>
<g fill="#F9655A">
<circle cx="469.7" cy="154.7" r="2.95"/>
<circle cx="564.8" cy="183.4" r="2.95"/>
</g>
<g fill="#5794FF">
<rect x="577.6" y="132.1" width="5.3" height="5.3"/>
<rect x="434.8" y="181.3" width="5.3" height="5.3"/>
<rect x="587.2" y="129.0" width="5.3" height="5.3"/>
<rect x="549.7" y="135.3" width="5.3" height="5.3"/>
<rect x="455.1" y="148.5" width="5.3" height="5.3"/>
<rect x="435.1" y="201.4" width="5.3" height="5.3"/>
<rect x="524.8" y="85.9" width="5.3" height="5.3"/>
</g>
<g fill="#F9655A">
<circle cx="432.4" cy="176.0" r="2.95"/>
<circle cx="462.7" cy="183.6" r="2.95"/>
</g>
<g fill="#5794FF">
<rect x="440.0" y="194.2" width="5.3" height="5.3"/>
<rect x="464.8" y="114.6" width="5.3" height="5.3"/>
</g>
<g fill="#00B534">
<path d="M437.3 188.8l3.85 6.6h-7.7z"/>
</g>
<g fill="#F9655A">
<circle cx="484.8" cy="147.9" r="2.95"/>
</g>
<g fill="#5794FF">
<rect x="484.7" y="130.8" width="5.3" height="5.3"/>
</g>
<g fill="#00B534">
<path d="M530.3 202.0l3.85 6.6h-7.7z"/>
</g>
<g fill="#5794FF">
<rect x="504.6" y="97.6" width="5.3" height="5.3"/>
<rect x="560.1" y="107.1" width="5.3" height="5.3"/>
<rect x="460.0" y="122.5" width="5.3" height="5.3"/>
</g>
<g fill="#F9655A">
<circle cx="452.6" cy="206.7" r="2.95"/>
</g>
<g fill="#00B534">
<path d="M514.9 150.7l3.85 6.6h-7.7z"/>
</g>
<g fill="#5794FF">
<rect x="519.7" y="147.1" width="5.3" height="5.3"/>
</g>
<g fill="#00B534">
<path d="M475.1 162.8l3.85 6.6h-7.7z"/>
</g>
<g fill="#5794FF">
<rect x="532.9" y="83.4" width="5.3" height="5.3"/>
<rect x="557.6" y="128.8" width="5.3" height="5.3"/>
<rect x="454.8" y="189.0" width="5.3" height="5.3"/>
</g>
<g fill="#00B534">
<path d="M500.2 157.4l3.85 6.6h-7.7z"/>
</g>
<g fill="#5794FF">
<rect x="534.6" y="177.4" width="5.3" height="5.3"/>
<rect x="539.8" y="154.4" width="5.3" height="5.3"/>
</g>
<g fill="#00B534">
<path d="M462.6 203.3l3.85 6.6h-7.7z"/>
</g>
<g fill="#5794FF">
<rect x="567.3" y="102.7" width="5.3" height="5.3"/>
</g>
<g fill="#00B534">
<path d="M484.9 188.4l3.85 6.6h-7.7z"/>
</g>
<g fill="#5794FF">
<rect x="515.1" y="119.2" width="5.3" height="5.3"/>
<rect x="557.3" y="144.0" width="5.3" height="5.3"/>
<rect x="525.0" y="206.5" width="5.3" height="5.3"/>
<rect x="569.6" y="205.1" width="5.3" height="5.3"/>
</g>
<g fill="#00B534">
<path d="M579.9 179.3l3.85 6.6h-7.7z"/>
<path d="M454.7 169.7l3.85 6.6h-7.7z"/>
<path d="M437.7 187.9l3.85 6.6h-7.7z"/>
</g>
<g fill="#5794FF">
<rect x="572.5" y="163.7" width="5.3" height="5.3"/>
<rect x="544.9" y="124.4" width="5.3" height="5.3"/>
</g>
<g fill="#F9655A">
<circle cx="474.8" cy="106.6" r="2.95"/>
</g>
<g fill="#5794FF">
<rect x="457.2" y="122.9" width="5.3" height="5.3"/>
</g>
<g fill="#00B534">
<path d="M567.3 197.6l3.85 6.6h-7.7z"/>
</g>
<g fill="#5794FF">
<rect x="547.1" y="152.2" width="5.3" height="5.3"/>
<rect x="516.3" y="86.4" width="5.3" height="5.3"/>
<rect x="537.4" y="125.2" width="5.3" height="5.3"/>
<rect x="514.9" y="161.9" width="5.3" height="5.3"/>
<rect x="577.2" y="146.5" width="5.3" height="5.3"/>
<rect x="550.0" y="184.2" width="5.3" height="5.3"/>
<rect x="467.2" y="169.3" width="5.3" height="5.3"/>
</g>
<g fill="#00B534">
<path d="M435.2 170.9l3.85 6.6h-7.7z"/>
</g>
<g fill="#5794FF">
<rect x="500.1" y="206.7" width="5.3" height="5.3"/>
<rect x="555.0" y="165.0" width="5.3" height="5.3"/>
<rect x="472.1" y="155.5" width="5.3" height="5.3"/>
<rect x="572.5" y="179.3" width="5.3" height="5.3"/>
<rect x="587.4" y="161.6" width="5.3" height="5.3"/>
</g>
<g fill="#00B534">
<path d="M520.0 146.4l3.85 6.6h-7.7z"/>
</g>
<g fill="#F9655A">
<circle cx="539.8" cy="190.8" r="2.95"/>
</g>
<g fill="#5794FF">
<rect x="582.4" y="130.6" width="5.3" height="5.3"/>
</g>
<g fill="#F9655A">
<circle cx="487.7" cy="209.7" r="2.95"/>
</g>
<g fill="#5794FF">
<rect x="465.1" y="181.3" width="5.3" height="5.3"/>
</g>
<g fill="#00B534">
<path d="M507.6 205.1l3.85 6.6h-7.7z"/>
</g>
<g fill="#5794FF">
<rect x="507.1" y="122.0" width="5.3" height="5.3"/>
<rect x="497.6" y="151.2" width="5.3" height="5.3"/>
<rect x="472.5" y="184.4" width="5.3" height="5.3"/>
<rect x="492.5" y="144.3" width="5.3" height="5.3"/>
</g>
<g fill="#00B534">
<path d="M505.0 138.6l3.85 6.6h-7.7z"/>
<path d="M537.4 162.1l3.85 6.6h-7.7z"/>
</g>
<g fill="#5794FF">
<rect x="579.9" y="130.9" width="5.3" height="5.3"/>
</g>
<g fill="#00B534">
<path d="M487.2 179.6l3.85 6.6h-7.7z"/>
</g>
<g fill="#5794FF">
<rect x="524.7" y="168.8" width="5.3" height="5.3"/>
<rect x="532.2" y="200.6" width="5.3" height="5.3"/>
</g>
<g fill="#00B534">
<path d="M497.5 142.8l3.85 6.6h-7.7z"/>
<path d="M485.0 168.7l3.85 6.6h-7.7z"/>
</g>
<g fill="#5794FF">
<rect x="497.4" y="101.3" width="5.3" height="5.3"/>
<rect x="457.2" y="165.9" width="5.3" height="5.3"/>
<rect x="544.6" y="185.6" width="5.3" height="5.3"/>
</g>
<g fill="#00B534">
<path d="M537.5 168.0l3.85 6.6h-7.7z"/>
</g>
<g fill="#F9655A">
<circle cx="522.6" cy="137.4" r="2.95"/>
</g>
<g fill="#00B534">
<path d="M445.0 171.0l3.85 6.6h-7.7z"/>
</g>
<g fill="#5794FF">
<rect x="485.0" y="155.1" width="5.3" height="5.3"/>
</g>
<g fill="#00B534">
<path d="M510.2 131.5l3.85 6.6h-7.7z"/>
</g>
<g fill="#5794FF">
<rect x="482.2" y="120.0" width="5.3" height="5.3"/>
</g>
<g fill="#F9655A">
<circle cx="454.7" cy="159.4" r="2.95"/>
</g>
<g fill="#5794FF">
<rect x="557.4" y="188.4" width="5.3" height="5.3"/>
</g>
<g fill="#00B534">
<path d="M570.2 184.5l3.85 6.6h-7.7z"/>
</g>
<g fill="#5794FF">
<rect x="559.8" y="178.0" width="5.3" height="5.3"/>
<rect x="429.9" y="174.3" width="5.3" height="5.3"/>
<rect x="575.0" y="166.5" width="5.3" height="5.3"/>
<rect x="469.8" y="161.7" width="5.3" height="5.3"/>
<rect x="543.4" y="85.2" width="5.3" height="5.3"/>
<rect x="562.1" y="204.2" width="5.3" height="5.3"/>
<rect x="487.5" y="142.4" width="5.3" height="5.3"/>
<rect x="532.6" y="141.4" width="5.3" height="5.3"/>
<rect x="569.7" y="113.8" width="5.3" height="5.3"/>
<rect x="547.2" y="145.0" width="5.3" height="5.3"/>
<rect x="487.5" y="95.2" width="5.3" height="5.3"/>
</g>
<g fill="#00B534">
<path d="M542.7 121.2l3.85 6.6h-7.7z"/>
</g>
<g fill="#5794FF">
<rect x="557.6" y="141.2" width="5.3" height="5.3"/>
</g>
<g fill="#00B534">
<path d="M482.7 134.2l3.85 6.6h-7.7z"/>
<path d="M492.6 183.8l3.85 6.6h-7.7z"/>
</g>
<g fill="#F9655A">
<circle cx="445.0" cy="200.7" r="2.95"/>
</g>
<g fill="#00B534">
<path d="M510.3 117.1l3.85 6.6h-7.7z"/>
</g>
<g fill="#5794FF">
<rect x="569.8" y="152.7" width="5.3" height="5.3"/>
<rect x="479.7" y="155.2" width="5.3" height="5.3"/>
<rect x="439.7" y="190.4" width="5.3" height="5.3"/>
</g>
<g fill="#00B534">
<path d="M532.5 158.7l3.85 6.6h-7.7z"/>
</g>
<g fill="#5794FF">
<rect x="432.4" y="169.7" width="5.3" height="5.3"/>
<rect x="545.1" y="118.6" width="5.3" height="5.3"/>
<rect x="530.0" y="95.8" width="5.3" height="5.3"/>
<rect x="557.4" y="142.5" width="5.3" height="5.3"/>
<rect x="577.1" y="139.7" width="5.3" height="5.3"/>
<rect x="472.2" y="117.7" width="5.3" height="5.3"/>
</g>
<g fill="#00B534">
<path d="M452.3 157.2l3.85 6.6h-7.7z"/>
</g>
<g fill="#5794FF">
<rect x="494.8" y="138.4" width="5.3" height="5.3"/>
</g>
<g fill="#F9655A">
<circle cx="454.9" cy="163.0" r="2.95"/>
<circle cx="445.1" cy="207.8" r="2.95"/>
</g>
<g fill="#5794FF">
<rect x="575.0" y="171.7" width="5.3" height="5.3"/>
</g>
<g fill="#00B534">
<path d="M520.0 166.3l3.85 6.6h-7.7z"/>
<path d="M584.7 183.8l3.85 6.6h-7.7z"/>
</g>
<g fill="#5794FF">
<rect x="551.6" y="91.3" width="5.3" height="5.3"/>
</g>
<g fill="#F9655A">
<circle cx="460.0" cy="177.2" r="2.95"/>
</g>
<g fill="#5794FF">
<rect x="567.2" y="164.9" width="5.3" height="5.3"/>
</g>
<g fill="#F9655A">
<circle cx="520.3" cy="203.4" r="2.95"/>
</g>
<g fill="#5794FF">
<rect x="474.8" y="180.2" width="5.3" height="5.3"/>
<rect x="494.8" y="103.8" width="5.3" height="5.3"/>
<rect x="514.7" y="105.4" width="5.3" height="5.3"/>
</g>
<g fill="#F9655A">
<circle cx="472.6" cy="184.0" r="2.95"/>
</g>
<g fill="#5794FF">
<rect x="450.0" y="159.9" width="5.3" height="5.3"/>
<rect x="567.1" y="201.9" width="5.3" height="5.3"/>
</g>
<g fill="#F9655A">
<circle cx="464.7" cy="160.1" r="2.95"/>
<circle cx="552.8" cy="148.4" r="2.95"/>
</g>
<g fill="#5794FF">
<rect x="447.6" y="140.2" width="5.3" height="5.3"/>
<rect x="482.2" y="134.5" width="5.3" height="5.3"/>
</g>
<g fill="#00B534">
<path d="M434.8 183.7l3.85 6.6h-7.7z"/>
</g>
<g fill="#5794FF">
<rect x="499.8" y="130.2" width="5.3" height="5.3"/>
</g>
<g fill="#00B534">
<path d="M545.2 111.2l3.85 6.6h-7.7z"/>
<path d="M580.2 198.9l3.85 6.6h-7.7z"/>
<path d="M447.5 199.8l3.85 6.6h-7.7z"/>
<path d="M547.5 174.5l3.85 6.6h-7.7z"/>
</g>
<g fill="#F9655A">
<circle cx="534.7" cy="110.1" r="2.95"/>
</g>
<g fill="#00B534">
<path d="M550.3 123.6l3.85 6.6h-7.7z"/>
</g>
<g fill="#5794FF">
<rect x="502.3" y="191.4" width="5.3" height="5.3"/>
</g>
<g fill="#00B534">
<path d="M540.1 161.6l3.85 6.6h-7.7z"/>
</g>
<g fill="#F9655A">
<circle cx="487.3" cy="152.0" r="2.95"/>
</g>
<g fill="#5794FF">
<rect x="524.9" y="137.7" width="5.3" height="5.3"/>
<rect x="469.8" y="124.7" width="5.3" height="5.3"/>
<rect x="467.1" y="146.3" width="5.3" height="5.3"/>
</g>
<g fill="#F9655A">
<circle cx="504.8" cy="192.1" r="2.95"/>
<circle cx="562.3" cy="194.2" r="2.95"/>
<circle cx="435.3" cy="172.8" r="2.95"/>
<circle cx="460.1" cy="137.8" r="2.95"/>
<circle cx="585.2" cy="133.2" r="2.95"/>
</g>
<g fill="#5794FF">
<rect x="584.8" y="137.6" width="5.3" height="5.3"/>
<rect x="564.9" y="184.3" width="5.3" height="5.3"/>
</g>
<g fill="#F9655A">
<circle cx="534.8" cy="188.7" r="2.95"/>
</g>
<g fill="#5794FF">
<rect x="484.6" y="198.0" width="5.3" height="5.3"/>
</g>
<g fill="#00B534">
<path d="M460.0 117.4l3.85 6.6h-7.7z"/>
</g>
<g fill="#5794FF">
<rect x="542.2" y="117.6" width="5.3" height="5.3"/>
</g>
<g fill="#F9655A">
<circle cx="585.1" cy="145.4" r="2.95"/>
</g>
<g fill="#00B534">
<path d="M452.6 202.7l3.85 6.6h-7.7z"/>
</g>
<g fill="#5794FF">
<rect x="567.1" y="163.9" width="5.3" height="5.3"/>
<rect x="445.0" y="206.3" width="5.3" height="5.3"/>
<rect x="569.7" y="187.2" width="5.3" height="5.3"/>
</g>
<g fill="#00B534">
<path d="M547.2 147.6l3.85 6.6h-7.7z"/>
</g>
<g fill="#5794FF">
<rect x="547.1" y="179.9" width="5.3" height="5.3"/>
<rect x="495.1" y="121.5" width="5.3" height="5.3"/>
</g>
<g fill="#F9655A">
<circle cx="570.0" cy="171.8" r="2.95"/>
</g>
<g fill="#5794FF">
<rect x="537.0" y="90.9" width="5.3" height="5.3"/>
<rect x="504.9" y="117.4" width="5.3" height="5.3"/>
</g>
<g fill="#F9655A">
<circle cx="509.9" cy="120.3" r="2.95"/>
<circle cx="552.7" cy="153.7" r="2.95"/>
</g>
<g fill="#5794FF">
<rect x="497.5" y="120.7" width="5.3" height="5.3"/>
<rect x="570.1" y="119.0" width="5.3" height="5.3"/>
</g>
<g fill="#00B534">
<path d="M457.3 168.4l3.85 6.6h-7.7z"/>
</g>
<g fill="#5794FF">
<rect x="497.6" y="128.2" width="5.3" height="5.3"/>
<rect x="537.3" y="92.0" width="5.3" height="5.3"/>
</g>
<g fill="#00B534">
<path d="M500.3 200.4l3.85 6.6h-7.7z"/>
<path d="M547.8 198.9l3.85 6.6h-7.7z"/>
</g>
<g fill="#5794FF">
<rect x="494.8" y="163.6" width="5.3" height="5.3"/>
</g>
<g fill="#00B534">
<path d="M500.2 204.8l3.85 6.6h-7.7z"/>
</g>
<g fill="#5794FF">
<rect x="490.0" y="178.3" width="5.3" height="5.3"/>
<rect x="495.1" y="194.1" width="5.3" height="5.3"/>
<rect x="552.6" y="115.1" width="5.3" height="5.3"/>
</g>
<g fill="#00B534">
<path d="M567.3 135.0l3.85 6.6h-7.7z"/>
<path d="M509.7 123.1l3.85 6.6h-7.7z"/>
</g>
<g fill="#5794FF">
<rect x="554.8" y="192.8" width="5.3" height="5.3"/>
</g>
<g fill="#F9655A">
<circle cx="562.5" cy="157.2" r="2.95"/>
<circle cx="485.2" cy="135.3" r="2.95"/>
</g>
<g fill="#5794FF">
<rect x="547.6" y="168.0" width="5.3" height="5.3"/>
</g>
<g fill="#00B534">
<path d="M450.1 204.6l3.85 6.6h-7.7z"/>
</g>
<g fill="#5794FF">
<rect x="472.1" y="165.5" width="5.3" height="5.3"/>
</g>
<g fill="#00B534">
<path d="M485.0 139.4l3.85 6.6h-7.7z"/>
<path d="M542.7 173.2l3.85 6.6h-7.7z"/>
</g>
<g fill="#5794FF">
<rect x="434.9" y="135.0" width="5.3" height="5.3"/>
<rect x="572.4" y="160.5" width="5.3" height="5.3"/>
<rect x="469.7" y="179.2" width="5.3" height="5.3"/>
<rect x="452.3" y="206.2" width="5.3" height="5.3"/>
</g>
<g fill="#F9655A">
<circle cx="555.3" cy="172.7" r="2.95"/>
</g>
<g fill="#00B534">
<path d="M580.3 131.0l3.85 6.6h-7.7z"/>
<path d="M574.9 131.2l3.85 6.6h-7.7z"/>
</g>
<g fill="#5794FF">
<rect x="544.9" y="157.3" width="5.3" height="5.3"/>
<rect x="544.6" y="168.8" width="5.3" height="5.3"/>
</g>
<g fill="#00B534">
<path d="M527.5 195.9l3.85 6.6h-7.7z"/>
<path d="M509.8 137.7l3.85 6.6h-7.7z"/>
</g>
<g fill="#5794FF">
<rect x="579.8" y="181.9" width="5.3" height="5.3"/>
<rect x="497.6" y="145.4" width="5.3" height="5.3"/>
</g>
<g fill="#00B534">
<path d="M514.8 101.7l3.85 6.6h-7.7z"/>
</g>
<g fill="#5794FF">
<rect x="554.6" y="144.2" width="5.3" height="5.3"/>
</g>
<g fill="#F9655A">
<circle cx="547.6" cy="135.5" r="2.95"/>
</g>
<g fill="#5794FF">
<rect x="547.6" y="198.4" width="5.3" height="5.3"/>
<rect x="472.5" y="163.6" width="5.3" height="5.3"/>
</g>
<g fill="#00B534">
<path d="M579.9 174.5l3.85 6.6h-7.7z"/>
<path d="M544.8 138.2l3.85 6.6h-7.7z"/>
<path d="M480.2 206.5l3.85 6.6h-7.7z"/>
</g>
<g fill="#5794FF">
<rect x="482.1" y="150.9" width="5.3" height="5.3"/>
<rect x="447.2" y="158.6" width="5.3" height="5.3"/>
</g>
<g fill="#00B534">
<path d="M577.8 174.3l3.85 6.6h-7.7z"/>
</g>
<g fill="#F9655A">
<circle cx="580.0" cy="171.9" r="2.95"/>
</g>
<g fill="#5794FF">
<rect x="444.9" y="168.2" width="5.3" height="5.3"/>
<rect x="520.0" y="105.3" width="5.3" height="5.3"/>
<rect x="587.1" y="177.4" width="5.3" height="5.3"/>
</g>
<g fill="#00B534">
<path d="M572.4 182.3l3.85 6.6h-7.7z"/>
</g>
<g fill="#5794FF">
<rect x="522.1" y="186.2" width="5.3" height="5.3"/>
</g>
<g fill="#F9655A">
<circle cx="459.8" cy="149.2" r="2.95"/>
<circle cx="542.3" cy="157.1" r="2.95"/>
<circle cx="522.7" cy="182.1" r="2.95"/>
</g>
<g fill="#00B534">
<path d="M567.3 133.3l3.85 6.6h-7.7z"/>
</g>
<g fill="#5794FF">
<rect x="512.1" y="182.6" width="5.3" height="5.3"/>
<rect x="572.4" y="158.9" width="5.3" height="5.3"/>
<rect x="464.7" y="161.1" width="5.3" height="5.3"/>
</g>
<g fill="#00B534">
<path d="M500.2 154.6l3.85 6.6h-7.7z"/>
</g>
<g fill="#5794FF">
<rect x="522.2" y="170.3" width="5.3" height="5.3"/>
<rect x="469.7" y="98.3" width="5.3" height="5.3"/>
<rect x="520.0" y="98.0" width="5.3" height="5.3"/>
<rect x="464.7" y="149.0" width="5.3" height="5.3"/>
<rect x="444.9" y="203.5" width="5.3" height="5.3"/>
<rect x="427.1" y="156.2" width="5.3" height="5.3"/>
<rect x="477.4" y="153.3" width="5.3" height="5.3"/>
</g>
<g fill="#F9655A">
<circle cx="492.5" cy="165.8" r="2.95"/>
</g>
<g fill="#5794FF">
<rect x="497.5" y="171.4" width="5.3" height="5.3"/>
<rect x="457.5" y="124.3" width="5.3" height="5.3"/>
</g>
<g fill="#00B534">
<path d="M510.1 121.4l3.85 6.6h-7.7z"/>
<path d="M455.2 180.9l3.85 6.6h-7.7z"/>
</g>
<g fill="#5794FF">
<rect x="570.1" y="164.0" width="5.3" height="5.3"/>
</g>
<g fill="#F9655A">
<circle cx="519.7" cy="203.8" r="2.95"/>
</g>
<g fill="#00B534">
<path d="M582.4 175.8l3.85 6.6h-7.7z"/>
</g>
<g fill="#5794FF">
<rect x="532.4" y="119.6" width="5.3" height="5.3"/>
<rect x="472.1" y="151.3" width="5.3" height="5.3"/>
</g>
<g fill="#00B534">
<path d="M482.5 131.8l3.85 6.6h-7.7z"/>
</g>
<g fill="#5794FF">
<rect x="550.0" y="145.3" width="5.3" height="5.3"/>
</g>
<g fill="#F9655A">
<circle cx="512.6" cy="208.4" r="2.95"/>
<circle cx="437.3" cy="182.2" r="2.95"/>
</g>
<g fill="#5794FF">
<rect x="545.1" y="167.9" width="5.3" height="5.3"/>
<rect x="532.5" y="120.2" width="5.3" height="5.3"/>
</g>
<g fill="#00B534">
<path d="M447.5 203.4l3.85 6.6h-7.7z"/>
</g>
<g fill="#F9655A">
<circle cx="444.8" cy="175.7" r="2.95"/>
</g>
<g fill="#5794FF">
<rect x="569.9" y="124.2" width="5.3" height="5.3"/>
</g>
<g fill="#F9655A">
<circle cx="487.3" cy="188.6" r="2.95"/>
</g>
<g fill="#00B534">
<path d="M577.6 205.3l3.85 6.6h-7.7z"/>
</g>
<g fill="#5794FF">
<rect x="505.0" y="129.8" width="5.3" height="5.3"/>
</g>
<g fill="#F9655A">
<circle cx="477.5" cy="139.2" r="2.95"/>
</g>
<g fill="#00B534">
<path d="M452.3 158.1l3.85 6.6h-7.7z"/>
</g>
<g fill="#5794FF">
<rect x="569.9" y="117.4" width="5.3" height="5.3"/>
</g>
<g fill="#00B534">
<path d="M492.5 132.9l3.85 6.6h-7.7z"/>
</g>
<g fill="#5794FF">
<rect x="529.7" y="176.3" width="5.3" height="5.3"/>
<rect x="487.2" y="150.8" width="5.3" height="5.3"/>
<rect x="507.4" y="205.5" width="5.3" height="5.3"/>
<rect x="514.7" y="134.4" width="5.3" height="5.3"/>
<rect x="450.1" y="125.9" width="5.3" height="5.3"/>
<rect x="515.0" y="132.4" width="5.3" height="5.3"/>
</g>
<g fill="#F9655A">
<circle cx="550.1" cy="176.6" r="2.95"/>
<circle cx="490.1" cy="144.3" r="2.95"/>
</g>
<g fill="#00B534">
<path d="M517.7 196.5l3.85 6.6h-7.7z"/>
</g>
<g fill="#5794FF">
<rect x="560.1" y="104.6" width="5.3" height="5.3"/>
<rect x="587.3" y="199.7" width="5.3" height="5.3"/>
</g>
<g fill="#F9655A">
<circle cx="590.2" cy="203.4" r="2.95"/>
</g>
<g fill="#00B534">
<path d="M465.2 197.3l3.85 6.6h-7.7z"/>
</g>
<g fill="#5794FF">
<rect x="467.1" y="169.8" width="5.3" height="5.3"/>
</g>
<g fill="#00B534">
<path d="M494.8 202.1l3.85 6.6h-7.7z"/>
<path d="M545.1 161.8l3.85 6.6h-7.7z"/>
</g>
<g fill="#5794FF">
<rect x="489.7" y="98.0" width="5.3" height="5.3"/>
<rect x="549.9" y="132.6" width="5.3" height="5.3"/>
<rect x="527.4" y="152.3" width="5.3" height="5.3"/>
</g>
<g fill="#F9655A">
<circle cx="505.0" cy="119.8" r="2.95"/>
<circle cx="582.6" cy="185.8" r="2.95"/>
</g>
<g fill="#00B534">
<path d="M552.6 187.9l3.85 6.6h-7.7z"/>
<path d="M552.5 164.3l3.85 6.6h-7.7z"/>
</g>
<g fill="#5794FF">
<rect x="479.8" y="134.6" width="5.3" height="5.3"/>
<rect x="509.6" y="98.4" width="5.3" height="5.3"/>
<rect x="464.6" y="143.2" width="5.3" height="5.3"/>
</g>
<g fill="#00B534">
<path d="M467.7 172.6l3.85 6.6h-7.7z"/>
</g>
<g fill="#5794FF">
<rect x="532.1" y="174.5" width="5.3" height="5.3"/>
<rect x="555.0" y="185.7" width="5.3" height="5.3"/>
</g>
<g fill="#00B534">
<path d="M502.3 118.6l3.85 6.6h-7.7z"/>
</g>
<g fill="#5794FF">
<rect x="537.2" y="157.3" width="5.3" height="5.3"/>
</g>
<g fill="#F9655A">
<circle cx="544.9" cy="196.4" r="2.95"/>
</g>
<g fill="#5794FF">
<rect x="462.5" y="98.3" width="5.3" height="5.3"/>
<rect x="497.4" y="153.8" width="5.3" height="5.3"/>
</g>
<g fill="#00B534">
<path d="M570.0 168.0l3.85 6.6h-7.7z"/>
</g>
<g fill="#5794FF">
<rect x="454.7" y="128.3" width="5.3" height="5.3"/>
<rect x="529.6" y="143.8" width="5.3" height="5.3"/>
</g>
<g fill="#F9655A">
<circle cx="534.9" cy="175.5" r="2.95"/>
<circle cx="445.2" cy="154.6" r="2.95"/>
</g>
<g fill="#00B534">
<path d="M570.1 172.5l3.85 6.6h-7.7z"/>
</g>
<g fill="#F9655A">
<circle cx="507.3" cy="138.5" r="2.95"/>
<circle cx="497.5" cy="178.2" r="2.95"/>
</g>
<g fill="#5794FF">
<rect x="565.1" y="115.6" width="5.3" height="5.3"/>
<rect x="482.1" y="142.5" width="5.3" height="5.3"/>
<rect x="485.0" y="152.9" width="5.3" height="5.3"/>
<rect x="567.2" y="185.7" width="5.3" height="5.3"/>
</g>
<g fill="#F9655A">
<circle cx="590.1" cy="203.5" r="2.95"/>
</g>
<g fill="#00B534">
<path d="M480.1 194.1l3.85 6.6h-7.7z"/>
</g>
<g fill="#F9655A">
<circle cx="587.5" cy="200.2" r="2.95"/>
</g>
<g fill="#5794FF">
<rect x="562.5" y="164.7" width="5.3" height="5.3"/>
</g>
<g fill="#00B534">
<path d="M560.1 165.6l3.85 6.6h-7.7z"/>
</g>
<g fill="#5794FF">
<rect x="507.5" y="121.7" width="5.3" height="5.3"/>
<rect x="494.9" y="175.0" width="5.3" height="5.3"/>
<rect x="447.6" y="182.8" width="5.3" height="5.3"/>
<rect x="542.1" y="113.7" width="5.3" height="5.3"/>
</g>
<g fill="#00B534">
<path d="M497.6 205.2l3.85 6.6h-7.7z"/>
<path d="M512.6 190.1l3.85 6.6h-7.7z"/>
</g>
<g fill="#5794FF">
<rect x="492.3" y="99.0" width="5.3" height="5.3"/>
</g>
<g fill="#F9655A">
<circle cx="544.9" cy="205.7" r="2.95"/>
</g>
<g fill="#00B534">
<path d="M569.8 187.8l3.85 6.6h-7.7z"/>
<path d="M509.9 114.9l3.85 6.6h-7.7z"/>
</g>
<g fill="#5794FF">
<rect x="464.8" y="118.3" width="5.3" height="5.3"/>
<rect x="522.2" y="180.7" width="5.3" height="5.3"/>
<rect x="522.2" y="203.2" width="5.3" height="5.3"/>
</g>
<g fill="#F9655A">
<circle cx="569.9" cy="161.0" r="2.95"/>
<circle cx="510.1" cy="183.0" r="2.95"/>
<circle cx="547.8" cy="173.0" r="2.95"/>
<circle cx="505.1" cy="177.5" r="2.95"/>
</g>
<g fill="#5794FF">
<rect x="432.2" y="153.4" width="5.3" height="5.3"/>
</g>
<g fill="#00B534">
<path d="M537.2 177.3l3.85 6.6h-7.7z"/>
</g>
<g fill="#F9655A">
<circle cx="442.7" cy="139.0" r="2.95"/>
</g>
<g fill="#5794FF">
<rect x="527.2" y="172.0" width="5.3" height="5.3"/>
</g>
<g fill="#00B534">
<path d="M487.2 138.4l3.85 6.6h-7.7z"/>
</g>
<g fill="#5794FF">
<rect x="569.7" y="118.3" width="5.3" height="5.3"/>
</g>
<g fill="#00B534">
<path d="M514.9 176.5l3.85 6.6h-7.7z"/>
</g>
<g fill="#5794FF">
<rect x="447.2" y="196.0" width="5.3" height="5.3"/>
</g>
<g fill="#00B534">
<path d="M447.7 136.6l3.85 6.6h-7.7z"/>
<path d="M514.9 131.7l3.85 6.6h-7.7z"/>
</g>
<g fill="#F9655A">
<circle cx="434.8" cy="167.7" r="2.95"/>
</g>
<g fill="#5794FF">
<rect x="447.3" y="162.3" width="5.3" height="5.3"/>
<rect x="562.3" y="143.6" width="5.3" height="5.3"/>
<rect x="427.6" y="183.4" width="5.3" height="5.3"/>
<rect x="545.1" y="164.8" width="5.3" height="5.3"/>
<rect x="507.5" y="162.2" width="5.3" height="5.3"/>
</g>
<g fill="#00B534">
<path d="M545.0 164.6l3.85 6.6h-7.7z"/>
</g>
<g fill="#F9655A">
<circle cx="489.9" cy="134.3" r="2.95"/>
<circle cx="514.9" cy="155.4" r="2.95"/>
</g>
<g fill="#5794FF">
<rect x="447.1" y="163.4" width="5.3" height="5.3"/>
<rect x="587.5" y="175.0" width="5.3" height="5.3"/>
</g>
<g fill="#00B534">
<path d="M524.9 201.1l3.85 6.6h-7.7z"/>
</g>
<g fill="#5794FF">
<rect x="484.7" y="119.7" width="5.3" height="5.3"/>
<rect x="484.6" y="152.0" width="5.3" height="5.3"/>
<rect x="574.8" y="178.6" width="5.3" height="5.3"/>
<rect x="427.1" y="165.8" width="5.3" height="5.3"/>
<rect x="474.7" y="205.2" width="5.3" height="5.3"/>
</g>
<g fill="#F9655A">
<circle cx="529.9" cy="199.5" r="2.95"/>
</g>
<g fill="#00B534">
<path d="M570.1 196.3l3.85 6.6h-7.7z"/>
</g>
<g fill="#F9655A">
<circle cx="440.1" cy="207.4" r="2.95"/>
</g>
<g fill="#5794FF">
<rect x="482.4" y="172.9" width="5.3" height="5.3"/>
<rect x="549.8" y="101.8" width="5.3" height="5.3"/>
<rect x="567.1" y="200.1" width="5.3" height="5.3"/>
</g>
<g fill="#F9655A">
<circle cx="449.8" cy="143.4" r="2.95"/>
<circle cx="437.8" cy="155.1" r="2.95"/>
</g>
<g fill="#5794FF">
<rect x="472.6" y="131.5" width="5.3" height="5.3"/>
</g>
<g fill="#F9655A">
<circle cx="574.8" cy="116.8" r="2.95"/>
<circle cx="557.3" cy="122.2" r="2.95"/>
</g>
<g fill="#5794FF">
<rect x="584.8" y="197.9" width="5.3" height="5.3"/>
<rect x="559.9" y="108.4" width="5.3" height="5.3"/>
<rect x="557.4" y="169.3" width="5.3" height="5.3"/>
</g>
<g fill="#F9655A">
<circle cx="507.5" cy="131.4" r="2.95"/>
<circle cx="484.7" cy="157.3" r="2.95"/>
</g>
<g fill="#00B534">
<path d="M435.3 186.8l3.85 6.6h-7.7z"/>
</g>
<g fill="#F9655A">
<circle cx="504.7" cy="201.0" r="2.95"/>
</g>
<g fill="#5794FF">
<rect x="542.3" y="151.8" width="5.3" height="5.3"/>
</g>
<g fill="#00B534">
<path d="M490.2 94.4l3.85 6.6h-7.7z"/>
</g>
<g fill="#5794FF">
<rect x="434.7" y="204.6" width="5.3" height="5.3"/>
<rect x="469.9" y="132.8" width="5.3" height="5.3"/>
<rect x="452.6" y="148.0" width="5.3" height="5.3"/>
</g>
<g fill="#00B534">
<path d="M447.6 186.9l3.85 6.6h-7.7z"/>
</g>
<g fill="#5794FF">
<rect x="577.3" y="206.3" width="5.3" height="5.3"/>
</g>
<g fill="#00B534">
<path d="M487.5 175.4l3.85 6.6h-7.7z"/>
</g>
<g fill="#F9655A">
<circle cx="432.6" cy="187.9" r="2.95"/>
</g>
<g fill="#5794FF">
<rect x="559.6" y="131.9" width="5.3" height="5.3"/>
<rect x="514.8" y="147.9" width="5.3" height="5.3"/>
</g>
<g fill="#00B534">
<path d="M462.4 200.3l3.85 6.6h-7.7z"/>
<path d="M575.3 179.6l3.85 6.6h-7.7z"/>
</g>
<g fill="#F9655A">
<circle cx="482.5" cy="146.5" r="2.95"/>
</g>
<g fill="#00B534">
<path d="M437.5 143.9l3.85 6.6h-7.7z"/>
</g>
<g fill="#5794FF">
<rect x="472.6" y="103.4" width="5.3" height="5.3"/>
<rect x="510.0" y="115.8" width="5.3" height="5.3"/>
<rect x="484.8" y="183.1" width="5.3" height="5.3"/>
<rect x="467.6" y="178.7" width="5.3" height="5.3"/>
<rect x="572.5" y="167.4" width="5.3" height="5.3"/>
<rect x="527.4" y="155.6" width="5.3" height="5.3"/>
</g>
<g fill="#00B534">
<path d="M502.5 196.5l3.85 6.6h-7.7z"/>
</g>
<g fill="#5794FF">
<rect x="504.7" y="127.6" width="5.3" height="5.3"/>
<rect x="469.9" y="148.9" width="5.3" height="5.3"/>
</g>
<g fill="#F9655A">
<circle cx="479.8" cy="197.2" r="2.95"/>
</g>
<g fill="#5794FF">
<rect x="562.6" y="154.3" width="5.3" height="5.3"/>
</g>
<g fill="#F9655A">
<circle cx="455.1" cy="171.6" r="2.95"/>
</g>
<g fill="#00B534">
<path d="M517.6 206.5l3.85 6.6h-7.7z"/>
</g>
<g fill="#5794FF">
<rect x="537.2" y="95.8" width="5.3" height="5.3"/>
</g>
<g fill="#00B534">
<path d="M564.8 112.4l3.85 6.6h-7.7z"/>
<path d="M445.0 194.5l3.85 6.6h-7.7z"/>
<path d="M507.6 175.0l3.85 6.6h-7.7z"/>
</g>
<g fill="#F9655A">
<circle cx="505.0" cy="194.7" r="2.95"/>
</g>
<g fill="#5794FF">
<rect x="434.7" y="201.2" width="5.3" height="5.3"/>
<rect x="452.3" y="121.7" width="5.3" height="5.3"/>
<rect x="502.6" y="97.1" width="5.3" height="5.3"/>
<rect x="522.3" y="118.7" width="5.3" height="5.3"/>
</g>
<g fill="#00B534">
<path d="M530.1 183.3l3.85 6.6h-7.7z"/>
</g>
<g fill="#5794FF">
<rect x="560.1" y="134.4" width="5.3" height="5.3"/>
</g>
<g fill="#00B534">
<path d="M502.2 116.3l3.85 6.6h-7.7z"/>
</g>
<g fill="#5794FF">
<rect x="494.8" y="187.3" width="5.3" height="5.3"/>
</g>
<g fill="#F9655A">
<circle cx="530.2" cy="199.2" r="2.95"/>
<circle cx="452.4" cy="151.7" r="2.95"/>
<circle cx="460.0" cy="204.0" r="2.95"/>
</g>
<g fill="#00B534">
<path d="M577.6 167.2l3.85 6.6h-7.7z"/>
<path d="M474.7 122.0l3.85 6.6h-7.7z"/>
</g>
<g fill="#F9655A">
<circle cx="474.8" cy="132.8" r="2.95"/>
</g>
<g fill="#5794FF">
<rect x="547.6" y="154.5" width="5.3" height="5.3"/>
<rect x="567.5" y="177.6" width="5.3" height="5.3"/>
</g>
<g fill="#00B534">
<path d="M452.6 195.6l3.85 6.6h-7.7z"/>
</g>
<g fill="#F9655A">
<circle cx="512.4" cy="106.1" r="2.95"/>
</g>
<g fill="#5794FF">
<rect x="447.1" y="173.0" width="5.3" height="5.3"/>
</g>
<g fill="#00B534">
<path d="M537.4 199.0l3.85 6.6h-7.7z"/>
</g>
<g fill="#5794FF">
<rect x="449.9" y="163.5" width="5.3" height="5.3"/>
<rect x="544.7" y="174.7" width="5.3" height="5.3"/>
<rect x="480.1" y="205.7" width="5.3" height="5.3"/>
<rect x="524.9" y="168.5" width="5.3" height="5.3"/>
</g>
<g fill="#00B534">
<path d="M530.2 167.6l3.85 6.6h-7.7z"/>
</g>
<g fill="#F9655A">
<circle cx="535.0" cy="156.9" r="2.95"/>
</g>
<g fill="#5794FF">
<rect x="427.3" y="161.0" width="5.3" height="5.3"/>
<rect x="477.2" y="168.4" width="5.3" height="5.3"/>
<rect x="547.5" y="182.0" width="5.3" height="5.3"/>
</g>
<g fill="#00B534">
<path d="M567.7 134.8l3.85 6.6h-7.7z"/>
</g>
<g fill="#5794FF">
<rect x="582.4" y="165.4" width="5.3" height="5.3"/>
<rect x="505.0" y="158.2" width="5.3" height="5.3"/>
<rect x="479.6" y="175.1" width="5.3" height="5.3"/>
</g>
<g fill="#F9655A">
<circle cx="552.8" cy="200.8" r="2.95"/>
</g>
<g fill="#00B534">
<path d="M535.3 180.7l3.85 6.6h-7.7z"/>
</g>
<g fill="#F9655A">
<circle cx="557.3" cy="140.8" r="2.95"/>
</g>
<g fill="#5794FF">
<rect x="532.1" y="121.5" width="5.3" height="5.3"/>
</g>
<g fill="#00B534">
<path d="M499.9 202.5l3.85 6.6h-7.7z"/>
</g>
<g fill="#5794FF">
<rect x="462.6" y="98.4" width="5.3" height="5.3"/>
</g>
<g fill="#00B534">
<path d="M552.5 163.5l3.85 6.6h-7.7z"/>
</g>
<g fill="#5794FF">
<rect x="564.6" y="157.8" width="5.3" height="5.3"/>
<rect x="452.1" y="171.9" width="5.3" height="5.3"/>
</g>
<g fill="#F9655A">
<circle cx="472.5" cy="186.8" r="2.95"/>
</g>
<g fill="#00B534">
<path d="M522.4 175.9l3.85 6.6h-7.7z"/>
</g>
<g fill="#5794FF">
<rect x="527.1" y="117.4" width="5.3" height="5.3"/>
</g>
<g fill="#F9655A">
<circle cx="587.6" cy="138.0" r="2.95"/>
</g>
<g fill="#5794FF">
<rect x="439.9" y="187.7" width="5.3" height="5.3"/>
<rect x="557.3" y="165.8" width="5.3" height="5.3"/>
</g>
<g fill="#F9655A">
<circle cx="450.0" cy="138.9" r="2.95"/>
</g>
<g fill="#5794FF">
<rect x="495.0" y="188.2" width="5.3" height="5.3"/>
<rect x="532.3" y="168.6" width="5.3" height="5.3"/>
</g>
<g fill="#F9655A">
<circle cx="450.0" cy="180.5" r="2.95"/>
</g>
<g fill="#5794FF">
<rect x="562.1" y="118.9" width="5.3" height="5.3"/>
<rect x="454.9" y="133.8" width="5.3" height="5.3"/>
</g>
<g fill="#00B534">
<path d="M519.9 118.8l3.85 6.6h-7.7z"/>
<path d="M490.0 133.5l3.85 6.6h-7.7z"/>
</g>
<g fill="#F9655A">
<circle cx="497.5" cy="194.0" r="2.95"/>
</g>
<g fill="#00B534">
<path d="M562.6 132.4l3.85 6.6h-7.7z"/>
</g>
<g fill="#5794FF">
<rect x="465.1" y="189.4" width="5.3" height="5.3"/>
</g>
<g fill="#00B534">
<path d="M454.7 156.4l3.85 6.6h-7.7z"/>
</g>
<g fill="#5794FF">
<rect x="494.9" y="201.7" width="5.3" height="5.3"/>
<rect x="522.6" y="147.8" width="5.3" height="5.3"/>
</g>
<g fill="#00B534">
<path d="M490.2 189.4l3.85 6.6h-7.7z"/>
</g>
<g fill="#5794FF">
<rect x="482.3" y="157.5" width="5.3" height="5.3"/>
<rect x="464.7" y="169.7" width="5.3" height="5.3"/>
</g>
<g fill="#00B534">
<path d="M587.4 136.1l3.85 6.6h-7.7z"/>
</g>
<g fill="#5794FF">
<rect x="464.8" y="163.0" width="5.3" height="5.3"/>
<rect x="520.0" y="121.7" width="5.3" height="5.3"/>
</g>
<g fill="#00B534">
<path d="M447.5 182.7l3.85 6.6h-7.7z"/>
<path d="M464.7 182.5l3.85 6.6h-7.7z"/>
</g>
<g fill="#5794FF">
<rect x="489.6" y="134.8" width="5.3" height="5.3"/>
<rect x="434.8" y="193.3" width="5.3" height="5.3"/>
</g>
<g fill="#F9655A">
<circle cx="502.7" cy="172.8" r="2.95"/>
</g>
<g fill="#5794FF">
<rect x="555.1" y="140.3" width="5.3" height="5.3"/>
<rect x="542.2" y="139.5" width="5.3" height="5.3"/>
</g>
<g fill="#00B534">
<path d="M547.7 166.3l3.85 6.6h-7.7z"/>
</g>
<g fill="#5794FF">
<rect x="567.5" y="131.0" width="5.3" height="5.3"/>
<rect x="474.8" y="126.4" width="5.3" height="5.3"/>
<rect x="562.1" y="146.8" width="5.3" height="5.3"/>
<rect x="565.0" y="170.2" width="5.3" height="5.3"/>
<rect x="562.1" y="128.9" width="5.3" height="5.3"/>
</g>
<g fill="#00B534">
<path d="M524.9 172.1l3.85 6.6h-7.7z"/>
</g>
<g fill="#5794FF">
<rect x="504.7" y="100.4" width="5.3" height="5.3"/>
</g>
<g fill="#F9655A">
<circle cx="479.9" cy="188.6" r="2.95"/>
</g>
<g fill="#5794FF">
<rect x="529.6" y="114.9" width="5.3" height="5.3"/>
<rect x="477.6" y="202.4" width="5.3" height="5.3"/>
</g>
<g fill="#00B534">
<path d="M520.1 184.4l3.85 6.6h-7.7z"/>
</g>
<g fill="#5794FF">
<rect x="569.8" y="125.7" width="5.3" height="5.3"/>
<rect x="482.4" y="146.7" width="5.3" height="5.3"/>
<rect x="514.9" y="124.5" width="5.3" height="5.3"/>
</g>
<g fill="#00B534">
<path d="M497.4 104.9l3.85 6.6h-7.7z"/>
<path d="M447.2 175.1l3.85 6.6h-7.7z"/>
</g>
<g fill="#5794FF">
<rect x="507.5" y="125.1" width="5.3" height="5.3"/>
<rect x="467.4" y="187.1" width="5.3" height="5.3"/>
<rect x="564.7" y="182.3" width="5.3" height="5.3"/>
<rect x="580.1" y="121.8" width="5.3" height="5.3"/>
<rect x="489.9" y="185.1" width="5.3" height="5.3"/>
</g>
<g fill="#F9655A">
<circle cx="459.9" cy="200.1" r="2.95"/>
<circle cx="510.3" cy="196.0" r="2.95"/>
<circle cx="545.2" cy="194.2" r="2.95"/>
</g>
<g fill="#5794FF">
<rect x="515.1" y="136.6" width="5.3" height="5.3"/>
</g>
<g fill="#00B534">
<path d="M517.4 142.5l3.85 6.6h-7.7z"/>
</g>
<g fill="#5794FF">
<rect x="464.7" y="114.6" width="5.3" height="5.3"/>
<rect x="585.1" y="160.7" width="5.3" height="5.3"/>
<rect x="537.2" y="168.7" width="5.3" height="5.3"/>
</g>
<g fill="#00B534">
<path d="M437.3 172.5l3.85 6.6h-7.7z"/>
</g>
<g fill="#F9655A">
<circle cx="590.0" cy="149.7" r="2.95"/>
</g>
<g fill="#5794FF">
<rect x="500.1" y="199.0" width="5.3" height="5.3"/>
<rect x="477.3" y="125.4" width="5.3" height="5.3"/>
<rect x="470.1" y="130.1" width="5.3" height="5.3"/>
</g>
<g fill="#00B534">
<path d="M524.8 122.3l3.85 6.6h-7.7z"/>
</g>
<g fill="#F9655A">
<circle cx="544.8" cy="134.0" r="2.95"/>
<circle cx="577.5" cy="196.4" r="2.95"/>
</g>
<g fill="#5794FF">
<rect x="462.5" y="191.2" width="5.3" height="5.3"/>
</g>
<g fill="#00B534">
<path d="M584.7 203.9l3.85 6.6h-7.7z"/>
</g>
<g fill="#5794FF">
<rect x="512.2" y="188.3" width="5.3" height="5.3"/>
<rect x="487.6" y="127.9" width="5.3" height="5.3"/>
<rect x="467.1" y="111.3" width="5.3" height="5.3"/>
<rect x="464.7" y="95.0" width="5.3" height="5.3"/>
<rect x="519.9" y="138.2" width="5.3" height="5.3"/>
</g>
<g fill="#00B534">
<path d="M510.1 191.7l3.85 6.6h-7.7z"/>
</g>
<g fill="#5794FF">
<rect x="519.7" y="203.4" width="5.3" height="5.3"/>
<rect x="455.0" y="184.6" width="5.3" height="5.3"/>
<rect x="437.2" y="189.4" width="5.3" height="5.3"/>
</g>
<g fill="#00B534">
<path d="M442.7 192.7l3.85 6.6h-7.7z"/>
</g>
<g fill="#5794FF">
<rect x="472.4" y="121.5" width="5.3" height="5.3"/>
</g>
<g fill="#00B534">
<path d="M517.4 185.6l3.85 6.6h-7.7z"/>
</g>
<g fill="#5794FF">
<rect x="572.5" y="121.0" width="5.3" height="5.3"/>
<rect x="479.6" y="198.6" width="5.3" height="5.3"/>
<rect x="562.1" y="136.9" width="5.3" height="5.3"/>
<rect x="465.0" y="171.5" width="5.3" height="5.3"/>
</g>
<g fill="#00B534">
<path d="M525.1 136.3l3.85 6.6h-7.7z"/>
</g>
<g fill="#5794FF">
<rect x="534.8" y="205.7" width="5.3" height="5.3"/>
</g>
<g fill="#F9655A">
<circle cx="499.8" cy="133.5" r="2.95"/>
<circle cx="572.6" cy="165.2" r="2.95"/>
</g>
<g fill="#5794FF">
<rect x="480.0" y="168.8" width="5.3" height="5.3"/>
<rect x="512.5" y="198.2" width="5.3" height="5.3"/>
<rect x="580.1" y="130.2" width="5.3" height="5.3"/>
<rect x="579.7" y="128.1" width="5.3" height="5.3"/>
</g>
<g fill="#F9655A">
<circle cx="470.2" cy="197.9" r="2.95"/>
</g>
<g fill="#5794FF">
<rect x="522.5" y="117.7" width="5.3" height="5.3"/>
</g>
<g fill="#00B534">
<path d="M577.7 192.1l3.85 6.6h-7.7z"/>
</g>
<g fill="#5794FF">
<rect x="502.2" y="203.5" width="5.3" height="5.3"/>
<rect x="504.8" y="156.1" width="5.3" height="5.3"/>
</g>
<g fill="#F9655A">
<circle cx="567.6" cy="151.7" r="2.95"/>
</g>
<g fill="#5794FF">
<rect x="509.6" y="136.5" width="5.3" height="5.3"/>
</g>
<g fill="#00B534">
<path d="M532.4 111.3l3.85 6.6h-7.7z"/>
</g>
<g fill="#5794FF">
<rect x="534.8" y="103.5" width="5.3" height="5.3"/>
<rect x="475.1" y="120.0" width="5.3" height="5.3"/>
</g>
<g fill="#00B534">
<path d="M452.5 161.2l3.85 6.6h-7.7z"/>
<path d="M505.0 184.4l3.85 6.6h-7.7z"/>
</g>
<g fill="#5794FF">
<rect x="502.5" y="171.9" width="5.3" height="5.3"/>
<rect x="577.6" y="171.2" width="5.3" height="5.3"/>
</g>
<g fill="#F9655A">
<circle cx="480.1" cy="132.9" r="2.95"/>
</g>
<g fill="#5794FF">
<rect x="467.6" y="123.4" width="5.3" height="5.3"/>
<rect x="572.5" y="151.7" width="5.3" height="5.3"/>
</g>
<g fill="#F9655A">
<circle cx="560.0" cy="171.9" r="2.95"/>
</g>
<g fill="#00B534">
<path d="M554.9 133.5l3.85 6.6h-7.7z"/>
</g>
<g fill="#5794FF">
<rect x="587.1" y="158.1" width="5.3" height="5.3"/>
<rect x="567.5" y="160.6" width="5.3" height="5.3"/>
</g>
<g fill="#00B534">
<path d="M485.1 162.5l3.85 6.6h-7.7z"/>
<path d="M482.4 97.2l3.85 6.6h-7.7z"/>
</g>
<g fill="#5794FF">
<rect x="567.4" y="175.6" width="5.3" height="5.3"/>
<rect x="555.1" y="119.6" width="5.3" height="5.3"/>
<rect x="429.9" y="144.6" width="5.3" height="5.3"/>
<rect x="472.1" y="110.4" width="5.3" height="5.3"/>
</g>
<g fill="#00B534">
<path d="M519.9 104.0l3.85 6.6h-7.7z"/>
</g>
<g fill="#5794FF">
<rect x="537.4" y="153.8" width="5.3" height="5.3"/>
</g>
<g fill="#00B534">
<path d="M492.4 182.3l3.85 6.6h-7.7z"/>
</g>
<g fill="#5794FF">
<rect x="527.5" y="152.9" width="5.3" height="5.3"/>
<rect x="534.7" y="103.4" width="5.3" height="5.3"/>
<rect x="565.0" y="141.1" width="5.3" height="5.3"/>
<rect x="534.6" y="177.9" width="5.3" height="5.3"/>
<rect x="444.6" y="179.9" width="5.3" height="5.3"/>
</g>
<g fill="#F9655A">
<circle cx="570.0" cy="173.5" r="2.95"/>
<circle cx="450.3" cy="202.7" r="2.95"/>
</g>
<g fill="#5794FF">
<rect x="484.8" y="114.7" width="5.3" height="5.3"/>
</g>
<g fill="#00B534">
<path d="M570.2 146.5l3.85 6.6h-7.7z"/>
</g>
<g fill="#F9655A">
<circle cx="500.2" cy="118.8" r="2.95"/>
</g>
<g fill="#5794FF">
<rect x="507.6" y="122.1" width="5.3" height="5.3"/>
</g>
<g fill="#00B534">
<path d="M477.3 195.1l3.85 6.6h-7.7z"/>
</g>
<g fill="#5794FF">
<rect x="450.0" y="188.4" width="5.3" height="5.3"/>
</g>
<g fill="#00B534">
<path d="M507.7 164.2l3.85 6.6h-7.7z"/>
<path d="M535.3 160.6l3.85 6.6h-7.7z"/>
</g>
<g fill="#5794FF">
<rect x="547.2" y="129.4" width="5.3" height="5.3"/>
</g>
<g fill="#00B534">
<path d="M567.5 107.3l3.85 6.6h-7.7z"/>
</g>
<g fill="#5794FF">
<rect x="459.8" y="147.1" width="5.3" height="5.3"/>
<rect x="460.0" y="192.1" width="5.3" height="5.3"/>
<rect x="486.6" y="84.3" width="5.3" height="5.3"/>
<rect x="479.9" y="154.6" width="5.3" height="5.3"/>
<rect x="484.9" y="185.8" width="5.3" height="5.3"/>
</g>
<g fill="#F9655A">
<circle cx="540.0" cy="154.2" r="2.95"/>
</g>
<g fill="#5794FF">
<rect x="550.0" y="122.2" width="5.3" height="5.3"/>
</g>
<g fill="#00B534">
<path d="M517.2 155.5l3.85 6.6h-7.7z"/>
<path d="M452.3 162.0l3.85 6.6h-7.7z"/>
<path d="M447.3 145.2l3.85 6.6h-7.7z"/>
</g>
<g fill="#F9655A">
<circle cx="449.8" cy="155.6" r="2.95"/>
<circle cx="529.9" cy="122.8" r="2.95"/>
</g>
<g fill="#5794FF">
<rect x="454.6" y="192.7" width="5.3" height="5.3"/>
</g>
<g fill="#F9655A">
<circle cx="519.8" cy="203.3" r="2.95"/>
</g>
<g fill="#5794FF">
<rect x="535.1" y="150.3" width="5.3" height="5.3"/>
</g>
<g fill="#F9655A">
<circle cx="480.0" cy="146.1" r="2.95"/>
</g>
<g fill="#5794FF">
<rect x="479.8" y="184.5" width="5.3" height="5.3"/>
</g>
<g fill="#00B534">
<path d="M459.8 192.4l3.85 6.6h-7.7z"/>
<path d="M432.8 201.9l3.85 6.6h-7.7z"/>
</g>
<g fill="#F9655A">
<circle cx="547.8" cy="162.0" r="2.95"/>
</g>
<g fill="#5794FF">
<rect x="449.9" y="131.1" width="5.3" height="5.3"/>
<rect x="582.6" y="143.1" width="5.3" height="5.3"/>
<rect x="452.5" y="121.0" width="5.3" height="5.3"/>
<rect x="494.9" y="169.4" width="5.3" height="5.3"/>
<rect x="540.1" y="131.2" width="5.3" height="5.3"/>
</g>
<g fill="#F9655A">
<circle cx="552.8" cy="182.6" r="2.95"/>
<circle cx="445.0" cy="140.7" r="2.95"/>
<circle cx="455.0" cy="191.3" r="2.95"/>
</g>
<g fill="#5794FF">
<rect x="537.3" y="120.4" width="5.3" height="5.3"/>
<rect x="579.8" y="123.9" width="5.3" height="5.3"/>
</g>
<g fill="#F9655A">
<circle cx="545.0" cy="155.0" r="2.95"/>
</g>
<g fill="#00B534">
<path d="M480.1 198.6l3.85 6.6h-7.7z"/>
<path d="M442.4 146.9l3.85 6.6h-7.7z"/>
</g>
<g fill="#5794FF">
<rect x="472.3" y="202.9" width="5.3" height="5.3"/>
<rect x="432.1" y="159.9" width="5.3" height="5.3"/>
</g>
<g fill="#00B534">
<path d="M507.6 158.8l3.85 6.6h-7.7z"/>
</g>
<g fill="#5794FF">
<rect x="579.8" y="143.3" width="5.3" height="5.3"/>
<rect x="502.6" y="105.0" width="5.3" height="5.3"/>
<rect x="517.3" y="164.1" width="5.3" height="5.3"/>
<rect x="522.6" y="142.1" width="5.3" height="5.3"/>
<rect x="512.6" y="124.6" width="5.3" height="5.3"/>
<rect x="502.3" y="170.2" width="5.3" height="5.3"/>
</g>
<g fill="#F9655A">
<circle cx="572.6" cy="123.8" r="2.95"/>
<circle cx="457.3" cy="193.7" r="2.95"/>
</g>
<g fill="#5794FF">
<rect x="479.8" y="178.4" width="5.3" height="5.3"/>
<rect x="454.9" y="117.9" width="5.3" height="5.3"/>
<rect x="514.9" y="196.9" width="5.3" height="5.3"/>
<rect x="427.6" y="185.3" width="5.3" height="5.3"/>
</g>
<g fill="#00B534">
<path d="M485.3 156.8l3.85 6.6h-7.7z"/>
<path d="M505.2 201.1l3.85 6.6h-7.7z"/>
</g>
<g fill="#5794FF">
<rect x="469.2" y="91.0" width="5.3" height="5.3"/>
<rect x="534.7" y="106.0" width="5.3" height="5.3"/>
<rect x="535.2" y="89.2" width="5.3" height="5.3"/>
<rect x="572.4" y="173.5" width="5.3" height="5.3"/>
</g>
<g fill="#F9655A">
<circle cx="587.6" cy="139.4" r="2.95"/>
</g>
<g fill="#00B534">
<path d="M467.4 169.3l3.85 6.6h-7.7z"/>
</g>
<g fill="#5794FF">
<rect x="479.9" y="137.9" width="5.3" height="5.3"/>
</g>
<g fill="#00B534">
<path d="M489.9 186.0l3.85 6.6h-7.7z"/>
<path d="M535.2 91.2l3.85 6.6h-7.7z"/>
</g>
<g fill="#5794FF">
<rect x="549.9" y="125.9" width="5.3" height="5.3"/>
<rect x="555.0" y="145.9" width="5.3" height="5.3"/>
</g>
<g fill="#00B534">
<path d="M574.9 205.0l3.85 6.6h-7.7z"/>
</g>
<g fill="#5794FF">
<rect x="494.6" y="157.5" width="5.3" height="5.3"/>
</g>
<g fill="#F9655A">
<circle cx="495.3" cy="183.3" r="2.95"/>
<circle cx="442.6" cy="173.7" r="2.95"/>
</g>
<g fill="#00B534">
<path d="M472.7 137.8l3.85 6.6h-7.7z"/>
</g>
<g fill="#F9655A">
<circle cx="502.6" cy="141.0" r="2.95"/>
</g>
<g fill="#5794FF">
<rect x="533.4" y="84.5" width="5.3" height="5.3"/>
<rect x="507.1" y="156.9" width="5.3" height="5.3"/>
<rect x="492.5" y="149.2" width="5.3" height="5.3"/>
<rect x="542.1" y="114.7" width="5.3" height="5.3"/>
<rect x="500.1" y="127.4" width="5.3" height="5.3"/>
</g>
<g fill="#00B534">
<path d="M519.9 124.4l3.85 6.6h-7.7z"/>
</g>
<g fill="#5794FF">
<rect x="549.9" y="159.3" width="5.3" height="5.3"/>
</g>
<g fill="#F9655A">
<circle cx="544.8" cy="163.3" r="2.95"/>
</g>
<g fill="#5794FF">
<rect x="492.4" y="137.1" width="5.3" height="5.3"/>
<rect x="494.7" y="151.5" width="5.3" height="5.3"/>
</g>
<g fill="#00B534">
<path d="M537.3 189.8l3.85 6.6h-7.7z"/>
</g>
<g fill="#5794FF">
<rect x="539.9" y="107.7" width="5.3" height="5.3"/>
</g>
<g fill="#00B534">
<path d="M549.8 130.1l3.85 6.6h-7.7z"/>
</g>
<g fill="#5794FF">
<rect x="465.0" y="142.3" width="5.3" height="5.3"/>
</g>
<g fill="#F9655A">
<circle cx="587.7" cy="141.8" r="2.95"/>
<circle cx="474.7" cy="184.2" r="2.95"/>
<circle cx="567.3" cy="184.3" r="2.95"/>
</g>
<g fill="#00B534">
<path d="M517.4 119.9l3.85 6.6h-7.7z"/>
<path d="M457.6 135.4l3.85 6.6h-7.7z"/>
</g>
<g fill="#5794FF">
<rect x="542.5" y="96.5" width="5.3" height="5.3"/>
</g>
<g fill="#F9655A">
<circle cx="455.1" cy="170.8" r="2.95"/>
</g>
<g fill="#5794FF">
<rect x="470.1" y="127.1" width="5.3" height="5.3"/>
</g>
<g fill="#00B534">
<path d="M487.6 193.6l3.85 6.6h-7.7z"/>
</g>
<g fill="#5794FF">
<rect x="432.6" y="168.0" width="5.3" height="5.3"/>
<rect x="449.7" y="137.6" width="5.3" height="5.3"/>
</g>
<g fill="#00B534">
<path d="M565.3 147.0l3.85 6.6h-7.7z"/>
</g>
<g fill="#5794FF">
<rect x="502.4" y="201.5" width="5.3" height="5.3"/>
<rect x="462.4" y="206.1" width="5.3" height="5.3"/>
<rect x="569.8" y="136.1" width="5.3" height="5.3"/>
<rect x="542.3" y="146.2" width="5.3" height="5.3"/>
<rect x="479.9" y="136.6" width="5.3" height="5.3"/>
</g>
<g fill="#00B534">
<path d="M514.8 183.8l3.85 6.6h-7.7z"/>
</g>
<g fill="#5794FF">
<rect x="447.6" y="158.4" width="5.3" height="5.3"/>
<rect x="542.6" y="164.7" width="5.3" height="5.3"/>
</g>
<g fill="#F9655A">
<circle cx="579.8" cy="205.7" r="2.95"/>
</g>
<g fill="#00B534">
<path d="M587.6 146.1l3.85 6.6h-7.7z"/>
</g>
<g fill="#5794FF">
<rect x="547.4" y="187.7" width="5.3" height="5.3"/>
</g>
<g fill="#F9655A">
<circle cx="437.4" cy="206.1" r="2.95"/>
</g>
<g fill="#00B534">
<path d="M497.6 179.9l3.85 6.6h-7.7z"/>
</g>
<g fill="#F9655A">
<circle cx="555.2" cy="195.8" r="2.95"/>
</g>
<g fill="#5794FF">
<rect x="547.1" y="162.4" width="5.3" height="5.3"/>
</g>
<g fill="#00B534">
<path d="M539.8 193.4l3.85 6.6h-7.7z"/>
</g>
<g fill="#5794FF">
<rect x="557.4" y="144.7" width="5.3" height="5.3"/>
</g>
<g fill="#F9655A">
<circle cx="567.8" cy="205.5" r="2.95"/>
</g>
<g fill="#5794FF">
<rect x="542.2" y="187.6" width="5.3" height="5.3"/>
<rect x="505.0" y="132.4" width="5.3" height="5.3"/>
<rect x="560.0" y="189.5" width="5.3" height="5.3"/>
<rect x="502.6" y="162.0" width="5.3" height="5.3"/>
<rect x="567.4" y="102.6" width="5.3" height="5.3"/>
</g>
<g fill="#00B534">
<path d="M510.0 166.0l3.85 6.6h-7.7z"/>
</g>
<g fill="#5794FF">
<rect x="484.6" y="200.5" width="5.3" height="5.3"/>
</g>
<g fill="#F9655A">
<circle cx="479.8" cy="133.3" r="2.95"/>
</g>
<g fill="#00B534">
<path d="M519.9 186.8l3.85 6.6h-7.7z"/>
</g>
<g fill="#5794FF">
<rect x="552.4" y="136.2" width="5.3" height="5.3"/>
<rect x="444.9" y="147.5" width="5.3" height="5.3"/>
<rect x="537.3" y="143.4" width="5.3" height="5.3"/>
</g>
<g fill="#00B534">
<path d="M484.9 160.7l3.85 6.6h-7.7z"/>
</g>
<g fill="#F9655A">
<circle cx="582.5" cy="143.7" r="2.95"/>
</g>
<g fill="#5794FF">
<rect x="547.5" y="128.9" width="5.3" height="5.3"/>
<rect x="537.3" y="152.5" width="5.3" height="5.3"/>
<rect x="432.3" y="192.1" width="5.3" height="5.3"/>
<rect x="544.8" y="145.2" width="5.3" height="5.3"/>
</g>
<g fill="#F9655A">
<circle cx="554.7" cy="197.3" r="2.95"/>
</g>
<g fill="#5794FF">
<rect x="472.6" y="134.4" width="5.3" height="5.3"/>
</g>
<g fill="#00B534">
<path d="M575.2 168.6l3.85 6.6h-7.7z"/>
</g>
<g fill="#5794FF">
<rect x="432.2" y="151.7" width="5.3" height="5.3"/>
</g>
<g fill="#00B534">
<path d="M502.7 202.1l3.85 6.6h-7.7z"/>
</g>
<g fill="#5794FF">
<rect x="509.7" y="202.4" width="5.3" height="5.3"/>
</g>
<g fill="#F9655A">
<circle cx="522.7" cy="209.3" r="2.95"/>
</g>
<g fill="#5794FF">
<rect x="457.3" y="161.5" width="5.3" height="5.3"/>
</g>
<g fill="#F9655A">
<circle cx="460.3" cy="153.7" r="2.95"/>
</g>
<g fill="#00B534">
<path d="M540.3 202.9l3.85 6.6h-7.7z"/>
</g>
<g fill="#F9655A">
<circle cx="445.2" cy="147.1" r="2.95"/>
</g>
<g fill="#5794FF">
<rect x="507.1" y="138.3" width="5.3" height="5.3"/>
<rect x="510.0" y="200.5" width="5.3" height="5.3"/>
</g>
<g fill="#00B534">
<path d="M552.7 182.5l3.85 6.6h-7.7z"/>
</g>
<g fill="#5794FF">
<rect x="449.9" y="142.1" width="5.3" height="5.3"/>
<rect x="507.5" y="201.0" width="5.3" height="5.3"/>
<rect x="477.5" y="155.9" width="5.3" height="5.3"/>
</g>
<g fill="#00B534">
<path d="M485.0 156.8l3.85 6.6h-7.7z"/>
</g>
<g fill="#F9655A">
<circle cx="460.3" cy="174.3" r="2.95"/>
<circle cx="559.9" cy="203.7" r="2.95"/>
</g>
<g fill="#5794FF">
<rect x="439.8" y="181.8" width="5.3" height="5.3"/>
<rect x="532.5" y="118.1" width="5.3" height="5.3"/>
<rect x="512.4" y="153.4" width="5.3" height="5.3"/>
<rect x="432.6" y="143.2" width="5.3" height="5.3"/>
</g>
<g fill="#00B534">
<path d="M432.4 168.2l3.85 6.6h-7.7z"/>
<path d="M512.3 199.5l3.85 6.6h-7.7z"/>
</g>
<g fill="#5794FF">
<rect x="527.6" y="118.3" width="5.3" height="5.3"/>
<rect x="539.9" y="109.9" width="5.3" height="5.3"/>
</g>
<g fill="#F9655A">
<circle cx="552.7" cy="183.2" r="2.95"/>
</g>
<g fill="#5794FF">
<rect x="482.4" y="94.5" width="5.3" height="5.3"/>
</g>
<g fill="#00B534">
<path d="M522.4 138.9l3.85 6.6h-7.7z"/>
<path d="M520.0 94.3l3.85 6.6h-7.7z"/>
<path d="M452.3 124.5l3.85 6.6h-7.7z"/>
</g>
<g fill="#5794FF">
<rect x="557.3" y="170.8" width="5.3" height="5.3"/>
</g>
<g fill="#F9655A">
<circle cx="460.0" cy="209.9" r="2.95"/>
</g>
<g fill="#5794FF">
<rect x="542.3" y="117.7" width="5.3" height="5.3"/>
</g>
<g fill="#F9655A">
<circle cx="567.4" cy="104.1" r="2.95"/>
<circle cx="502.5" cy="146.4" r="2.95"/>
</g>
<g fill="#00B534">
<path d="M480.1 194.9l3.85 6.6h-7.7z"/>
</g>
<g fill="#F9655A">
<circle cx="495.1" cy="150.0" r="2.95"/>
</g>
<g fill="#5794FF">
<rect x="577.4" y="158.8" width="5.3" height="5.3"/>
</g>
<g fill="#F9655A">
<circle cx="587.4" cy="157.3" r="2.95"/>
</g>
<g fill="#5794FF">
<rect x="509.6" y="121.0" width="5.3" height="5.3"/>
<rect x="544.9" y="192.7" width="5.3" height="5.3"/>
</g>
<g fill="#00B534">
<path d="M462.4 140.5l3.85 6.6h-7.7z"/>
<path d="M507.7 116.5l3.85 6.6h-7.7z"/>
</g>
<g fill="#5794FF">
<rect x="492.1" y="155.9" width="5.3" height="5.3"/>
<rect x="474.6" y="193.0" width="5.3" height="5.3"/>
<rect x="430.0" y="157.9" width="5.3" height="5.3"/>
</g>
<g fill="#00B534">
<path d="M489.8 186.8l3.85 6.6h-7.7z"/>
</g>
<g fill="#5794FF">
<rect x="582.3" y="171.9" width="5.3" height="5.3"/>
</g>
<g fill="#F9655A">
<circle cx="445.0" cy="193.9" r="2.95"/>
</g>
<g fill="#00B534">
<path d="M439.9 205.3l3.85 6.6h-7.7z"/>
<path d="M482.5 105.2l3.85 6.6h-7.7z"/>
<path d="M479.9 132.2l3.85 6.6h-7.7z"/>
<path d="M472.4 128.5l3.85 6.6h-7.7z"/>
<path d="M447.3 157.3l3.85 6.6h-7.7z"/>
</g>
<g fill="#5794FF">
<rect x="545.0" y="119.3" width="5.3" height="5.3"/>
</g>
<g fill="#F9655A">
<circle cx="477.4" cy="160.9" r="2.95"/>
</g>
<g fill="#5794FF">
<rect x="467.4" y="142.4" width="5.3" height="5.3"/>
</g>
<g fill="#00B534">
<path d="M500.2 142.2l3.85 6.6h-7.7z"/>
<path d="M489.8 188.8l3.85 6.6h-7.7z"/>
<path d="M590.1 158.0l3.85 6.6h-7.7z"/>
<path d="M559.8 169.3l3.85 6.6h-7.7z"/>
</g>
<g fill="#5794FF">
<rect x="484.6" y="124.4" width="5.3" height="5.3"/>
<rect x="457.1" y="144.7" width="5.3" height="5.3"/>
<rect x="469.6" y="199.1" width="5.3" height="5.3"/>
</g>
<g fill="#F9655A">
<circle cx="554.9" cy="193.1" r="2.95"/>
<circle cx="577.5" cy="134.9" r="2.95"/>
<circle cx="467.7" cy="121.9" r="2.95"/>
</g>
<g fill="#5794FF">
<rect x="585.0" y="197.2" width="5.3" height="5.3"/>
</g>
<g fill="#00B534">
<path d="M485.3 199.6l3.85 6.6h-7.7z"/>
</g>
<g fill="#5794FF">
<rect x="505.0" y="113.1" width="5.3" height="5.3"/>
<rect x="477.2" y="194.0" width="5.3" height="5.3"/>
</g>
<g fill="#F9655A">
<circle cx="554.9" cy="129.9" r="2.95"/>
</g>
<g fill="#5794FF">
<rect x="544.9" y="115.0" width="5.3" height="5.3"/>
<rect x="574.9" y="136.7" width="5.3" height="5.3"/>
</g>
<g fill="#00B534">
<path d="M477.2 205.5l3.85 6.6h-7.7z"/>
</g>
<g fill="#5794FF">
<rect x="517.4" y="142.8" width="5.3" height="5.3"/>
<rect x="582.1" y="156.9" width="5.3" height="5.3"/>
<rect x="555.0" y="169.2" width="5.3" height="5.3"/>
<rect x="499.8" y="115.5" width="5.3" height="5.3"/>
<rect x="510.1" y="143.7" width="5.3" height="5.3"/>
</g>
<g fill="#F9655A">
<circle cx="497.3" cy="148.6" r="2.95"/>
</g>
<g fill="#5794FF">
<rect x="575.1" y="140.3" width="5.3" height="5.3"/>
</g>
<g fill="#F9655A">
<circle cx="540.1" cy="138.5" r="2.95"/>
<circle cx="442.7" cy="140.0" r="2.95"/>
</g>
<g fill="#00B534">
<path d="M487.4 127.3l3.85 6.6h-7.7z"/>
</g>
<g fill="#5794FF">
<rect x="572.3" y="166.3" width="5.3" height="5.3"/>
<rect x="560.1" y="135.9" width="5.3" height="5.3"/>
</g>
<g fill="#00B534">
<path d="M539.7 190.4l3.85 6.6h-7.7z"/>
</g>
<g fill="#F9655A">
<circle cx="475.3" cy="185.5" r="2.95"/>
</g>
<g fill="#5794FF">
<rect x="559.8" y="182.7" width="5.3" height="5.3"/>
</g>
<g fill="#F9655A">
<circle cx="487.5" cy="171.2" r="2.95"/>
</g>
<g fill="#5794FF">
<rect x="520.0" y="178.4" width="5.3" height="5.3"/>
<rect x="579.8" y="200.2" width="5.3" height="5.3"/>
</g>
<g fill="#00B534">
<path d="M455.0 160.6l3.85 6.6h-7.7z"/>
</g>
<g fill="#5794FF">
<rect x="437.4" y="136.2" width="5.3" height="5.3"/>
</g>
<g fill="#F9655A">
<circle cx="582.4" cy="176.0" r="2.95"/>
</g>
<g fill="#5794FF">
<rect x="540.1" y="116.9" width="5.3" height="5.3"/>
<rect x="522.1" y="165.7" width="5.3" height="5.3"/>
</g>
<g fill="#00B534">
<path d="M472.7 141.9l3.85 6.6h-7.7z"/>
<path d="M582.8 139.6l3.85 6.6h-7.7z"/>
<path d="M477.8 143.2l3.85 6.6h-7.7z"/>
</g>
<g fill="#5794FF">
<rect x="527.3" y="195.2" width="5.3" height="5.3"/>
</g>
<g fill="#00B534">
<path d="M497.5 204.9l3.85 6.6h-7.7z"/>
</g>
<g fill="#5794FF">
<rect x="587.3" y="197.7" width="5.3" height="5.3"/>
<rect x="572.6" y="142.0" width="5.3" height="5.3"/>
</g>
<g fill="#00B534">
<path d="M452.5 179.8l3.85 6.6h-7.7z"/>
<path d="M504.8 196.4l3.85 6.6h-7.7z"/>
<path d="M525.2 146.9l3.85 6.6h-7.7z"/>
</g>
<g fill="#5794FF">
<rect x="452.5" y="135.1" width="5.3" height="5.3"/>
</g>
<g fill="#F9655A">
<circle cx="472.2" cy="165.1" r="2.95"/>
</g>
<g fill="#00B534">
<path d="M510.1 162.2l3.85 6.6h-7.7z"/>
</g>
<g fill="#F9655A">
<circle cx="540.0" cy="197.7" r="2.95"/>
</g>
<g fill="#5794FF">
<rect x="530.1" y="197.7" width="5.3" height="5.3"/>
</g>
<g fill="#F9655A">
<circle cx="509.9" cy="107.7" r="2.95"/>
<circle cx="472.3" cy="185.4" r="2.95"/>
</g>
<g fill="#5794FF">
<rect x="497.5" y="180.6" width="5.3" height="5.3"/>
</g>
<g fill="#00B534">
<path d="M572.2 143.1l3.85 6.6h-7.7z"/>
</g>
<g fill="#5794FF">
<rect x="509.7" y="199.6" width="5.3" height="5.3"/>
</g>
<g fill="#00B534">
<path d="M554.9 201.4l3.85 6.6h-7.7z"/>
</g>
<g fill="#F9655A">
<circle cx="585.0" cy="186.9" r="2.95"/>
</g>
<g fill="#5794FF">
<rect x="575.0" y="125.7" width="5.3" height="5.3"/>
</g>
<g fill="#F9655A">
<circle cx="577.4" cy="177.3" r="2.95"/>
</g>
<g fill="#5794FF">
<rect x="537.4" y="156.0" width="5.3" height="5.3"/>
<rect x="507.4" y="136.4" width="5.3" height="5.3"/>
<rect x="472.6" y="93.5" width="5.3" height="5.3"/>
<rect x="529.8" y="205.4" width="5.3" height="5.3"/>
</g>
<g fill="#00B534">
<path d="M544.7 177.1l3.85 6.6h-7.7z"/>
<path d="M545.0 127.7l3.85 6.6h-7.7z"/>
<path d="M557.6 132.1l3.85 6.6h-7.7z"/>
</g>
<g fill="#5794FF">
<rect x="474.9" y="150.7" width="5.3" height="5.3"/>
</g>
<g fill="#00B534">
<path d="M554.7 142.9l3.85 6.6h-7.7z"/>
<path d="M520.3 198.7l3.85 6.6h-7.7z"/>
</g>
<g fill="#F9655A">
<circle cx="520.0" cy="169.2" r="2.95"/>
<circle cx="537.8" cy="125.4" r="2.95"/>
</g>
<g fill="#00B534">
<path d="M437.4 164.3l3.85 6.6h-7.7z"/>
</g>
<g fill="#F9655A">
<circle cx="557.8" cy="177.2" r="2.95"/>
</g>
<g fill="#5794FF">
<rect x="574.8" y="104.0" width="5.3" height="5.3"/>
<rect x="459.6" y="186.2" width="5.3" height="5.3"/>
<rect x="565.0" y="187.8" width="5.3" height="5.3"/>
</g>
<g fill="#F9655A">
<circle cx="485.2" cy="145.5" r="2.95"/>
</g>
<g fill="#00B534">
<path d="M515.3 176.0l3.85 6.6h-7.7z"/>
</g>
<g fill="#5794FF">
<rect x="452.6" y="151.8" width="5.3" height="5.3"/>
</g>
<g fill="#00B534">
<path d="M467.4 179.4l3.85 6.6h-7.7z"/>
</g>
<g fill="#5794FF">
<rect x="464.7" y="201.2" width="5.3" height="5.3"/>
</g>
<g fill="#00B534">
<path d="M567.4 201.1l3.85 6.6h-7.7z"/>
</g>
<g fill="#5794FF">
<rect x="470.0" y="156.6" width="5.3" height="5.3"/>
<rect x="577.4" y="137.0" width="5.3" height="5.3"/>
</g>
<g fill="#F9655A">
<circle cx="577.5" cy="118.5" r="2.95"/>
</g>
<g fill="#5794FF">
<rect x="577.4" y="119.8" width="5.3" height="5.3"/>
<rect x="512.4" y="167.2" width="5.3" height="5.3"/>
<rect x="484.6" y="99.5" width="5.3" height="5.3"/>
</g>
<g fill="#F9655A">
<circle cx="579.9" cy="164.2" r="2.95"/>
</g>
<g fill="#00B534">
<path d="M472.7 160.9l3.85 6.6h-7.7z"/>
<path d="M579.9 165.3l3.85 6.6h-7.7z"/>
</g>
<g fill="#5794FF">
<rect x="454.7" y="201.2" width="5.3" height="5.3"/>
<rect x="565.0" y="168.8" width="5.3" height="5.3"/>
</g>
<g fill="#F9655A">
<circle cx="450.2" cy="192.2" r="2.95"/>
</g>
<g fill="#5794FF">
<rect x="477.5" y="114.8" width="5.3" height="5.3"/>
</g>
<g fill="#F9655A">
<circle cx="482.5" cy="136.3" r="2.95"/>
</g>
<g fill="#5794FF">
<rect x="500.0" y="104.4" width="5.3" height="5.3"/>
<rect x="464.9" y="125.8" width="5.3" height="5.3"/>
<rect x="484.4" y="88.6" width="5.3" height="5.3"/>
</g>
<g fill="#00B534">
<path d="M520.1 176.8l3.85 6.6h-7.7z"/>
</g>
<g fill="#5794FF">
<rect x="544.7" y="134.6" width="5.3" height="5.3"/>
</g>
<g fill="#00B534">
<path d="M492.5 196.5l3.85 6.6h-7.7z"/>
</g>
<g fill="#F9655A">
<circle cx="504.7" cy="194.0" r="2.95"/>
</g>
<g fill="#5794FF">
<rect x="487.1" y="159.6" width="5.3" height="5.3"/>
<rect x="582.1" y="189.5" width="5.3" height="5.3"/>
<rect x="555.0" y="119.1" width="5.3" height="5.3"/>
<rect x="442.1" y="179.0" width="5.3" height="5.3"/>
</g>
<g fill="#F9655A">
<circle cx="459.8" cy="137.2" r="2.95"/>
</g>
<g fill="#5794FF">
<rect x="549.7" y="178.4" width="5.3" height="5.3"/>
<rect x="532.1" y="166.6" width="5.3" height="5.3"/>
</g>
<g fill="#00B534">
<path d="M507.2 163.3l3.85 6.6h-7.7z"/>
</g>
<g fill="#5794FF">
<rect x="490.1" y="155.9" width="5.3" height="5.3"/>
</g>
<g fill="#00B534">
<path d="M432.3 172.9l3.85 6.6h-7.7z"/>
</g>
<g fill="#5794FF">
<rect x="496.4" y="87.3" width="5.3" height="5.3"/>
</g>
<g fill="#F9655A">
<circle cx="474.8" cy="186.2" r="2.95"/>
</g>
<g fill="#5794FF">
<rect x="522.5" y="135.4" width="5.3" height="5.3"/>
</g>
<g fill="#00B534">
<path d="M494.7 190.9l3.85 6.6h-7.7z"/>
</g>
<g fill="#5794FF">
<rect x="537.2" y="170.0" width="5.3" height="5.3"/>
</g>
<g fill="#00B534">
<path d="M490.1 136.9l3.85 6.6h-7.7z"/>
</g>
<g fill="#5794FF">
<rect x="435.0" y="169.7" width="5.3" height="5.3"/>
<rect x="552.4" y="204.2" width="5.3" height="5.3"/>
<rect x="504.6" y="134.6" width="5.3" height="5.3"/>
</g>
<g fill="#00B534">
<path d="M515.2 175.1l3.85 6.6h-7.7z"/>
</g>
<g fill="#5794FF">
<rect x="547.4" y="102.3" width="5.3" height="5.3"/>
</g>
<g fill="#F9655A">
<circle cx="442.6" cy="137.8" r="2.95"/>
</g>
<g fill="#5794FF">
<rect x="467.3" y="158.5" width="5.3" height="5.3"/>
<rect x="537.6" y="171.7" width="5.3" height="5.3"/>
<rect x="382.4" y="197.2" width="5.3" height="5.3"/>
<rect x="384.7" y="196.8" width="5.3" height="5.3"/>
<rect x="387.0" y="197.0" width="5.3" height="5.3"/>
<rect x="389.3" y="196.6" width="5.3" height="5.3"/>
<rect x="391.6" y="196.8" width="5.3" height="5.3"/>
<rect x="393.9" y="197.2" width="5.3" height="5.3"/>
<rect x="396.2" y="197.1" width="5.3" height="5.3"/>
<rect x="398.5" y="197.2" width="5.3" height="5.3"/>
<rect x="400.8" y="197.3" width="5.3" height="5.3"/>
<rect x="403.1" y="197.2" width="5.3" height="5.3"/>
<rect x="405.4" y="197.2" width="5.3" height="5.3"/>
<rect x="407.7" y="196.6" width="5.3" height="5.3"/>
<rect x="410.0" y="197.0" width="5.3" height="5.3"/>
<rect x="412.3" y="197.1" width="5.3" height="5.3"/>
<rect x="414.6" y="196.6" width="5.3" height="5.3"/>
<rect x="416.9" y="196.7" width="5.3" height="5.3"/>
<rect x="419.2" y="197.0" width="5.3" height="5.3"/>
<rect x="421.5" y="196.7" width="5.3" height="5.3"/>
<rect x="423.8" y="197.0" width="5.3" height="5.3"/>
<rect x="426.1" y="196.6" width="5.3" height="5.3"/>
<rect x="428.4" y="197.3" width="5.3" height="5.3"/>
<rect x="430.7" y="196.9" width="5.3" height="5.3"/>
<rect x="433.0" y="196.8" width="5.3" height="5.3"/>
<rect x="435.3" y="197.0" width="5.3" height="5.3"/>
<rect x="437.6" y="197.0" width="5.3" height="5.3"/>
<rect x="439.9" y="196.8" width="5.3" height="5.3"/>
<rect x="442.2" y="197.0" width="5.3" height="5.3"/>
<rect x="444.5" y="197.2" width="5.3" height="5.3"/>
<rect x="446.8" y="197.2" width="5.3" height="5.3"/>
<rect x="449.1" y="197.3" width="5.3" height="5.3"/>
<rect x="451.4" y="197.2" width="5.3" height="5.3"/>
<rect x="453.7" y="197.1" width="5.3" height="5.3"/>
<rect x="456.0" y="196.8" width="5.3" height="5.3"/>
<rect x="458.3" y="197.2" width="5.3" height="5.3"/>
<rect x="460.6" y="197.0" width="5.3" height="5.3"/>
<rect x="462.9" y="196.9" width="5.3" height="5.3"/>
<rect x="465.2" y="197.2" width="5.3" height="5.3"/>
<rect x="467.5" y="196.8" width="5.3" height="5.3"/>
<rect x="469.8" y="197.0" width="5.3" height="5.3"/>
<rect x="472.1" y="197.1" width="5.3" height="5.3"/>
<rect x="474.4" y="197.2" width="5.3" height="5.3"/>
<rect x="476.7" y="197.1" width="5.3" height="5.3"/>
<rect x="479.0" y="197.0" width="5.3" height="5.3"/>
<rect x="481.3" y="197.0" width="5.3" height="5.3"/>
<rect x="483.6" y="197.0" width="5.3" height="5.3"/>
<rect x="485.9" y="196.6" width="5.3" height="5.3"/>
<rect x="488.2" y="196.8" width="5.3" height="5.3"/>
<rect x="490.5" y="196.6" width="5.3" height="5.3"/>
<rect x="492.8" y="197.0" width="5.3" height="5.3"/>
<rect x="495.1" y="197.1" width="5.3" height="5.3"/>
<rect x="497.4" y="197.0" width="5.3" height="5.3"/>
<rect x="499.7" y="196.9" width="5.3" height="5.3"/>
<rect x="502.0" y="197.0" width="5.3" height="5.3"/>
<rect x="504.3" y="196.6" width="5.3" height="5.3"/>
<rect x="506.6" y="197.0" width="5.3" height="5.3"/>
<rect x="508.9" y="197.0" width="5.3" height="5.3"/>
<rect x="511.2" y="197.2" width="5.3" height="5.3"/>
<rect x="513.5" y="196.8" width="5.3" height="5.3"/>
<rect x="515.8" y="196.7" width="5.3" height="5.3"/>
<rect x="518.1" y="196.7" width="5.3" height="5.3"/>
<rect x="520.4" y="197.1" width="5.3" height="5.3"/>
<rect x="522.7" y="197.0" width="5.3" height="5.3"/>
<rect x="525.0" y="196.8" width="5.3" height="5.3"/>
<rect x="527.3" y="196.8" width="5.3" height="5.3"/>
<rect x="529.6" y="196.8" width="5.3" height="5.3"/>
<rect x="531.9" y="197.3" width="5.3" height="5.3"/>
<rect x="534.2" y="197.1" width="5.3" height="5.3"/>
<rect x="536.5" y="197.3" width="5.3" height="5.3"/>
<rect x="538.8" y="197.1" width="5.3" height="5.3"/>
<rect x="541.1" y="196.6" width="5.3" height="5.3"/>
<rect x="543.4" y="196.7" width="5.3" height="5.3"/>
<rect x="545.6" y="197.0" width="5.3" height="5.3"/>
<rect x="547.9" y="196.7" width="5.3" height="5.3"/>
<rect x="550.2" y="196.7" width="5.3" height="5.3"/>
<rect x="552.5" y="196.6" width="5.3" height="5.3"/>
<rect x="554.8" y="196.9" width="5.3" height="5.3"/>
<rect x="557.1" y="197.2" width="5.3" height="5.3"/>
<rect x="559.4" y="197.2" width="5.3" height="5.3"/>
<rect x="561.7" y="196.6" width="5.3" height="5.3"/>
<rect x="564.0" y="197.2" width="5.3" height="5.3"/>
<rect x="566.3" y="196.9" width="5.3" height="5.3"/>
<rect x="568.6" y="197.3" width="5.3" height="5.3"/>
<rect x="570.9" y="197.1" width="5.3" height="5.3"/>
<rect x="573.2" y="196.7" width="5.3" height="5.3"/>
<rect x="575.5" y="197.0" width="5.3" height="5.3"/>
<rect x="577.8" y="196.7" width="5.3" height="5.3"/>
<rect x="580.1" y="196.9" width="5.3" height="5.3"/>
<rect x="582.4" y="196.6" width="5.3" height="5.3"/>
<rect x="584.7" y="197.3" width="5.3" height="5.3"/>
<rect x="587.0" y="197.0" width="5.3" height="5.3"/>
<rect x="589.3" y="196.9" width="5.3" height="5.3"/>
<rect x="591.6" y="197.3" width="5.3" height="5.3"/>
<rect x="593.9" y="196.6" width="5.3" height="5.3"/>
</g>
<g fill="#00B534">
<path d="M437.4 193.0l3.85 6.6h-7.7z"/>
<path d="M446.5 191.9l3.85 6.6h-7.7z"/>
</g>
<g fill="#F9655A">
<circle cx="453.9" cy="196.7" r="2.95"/>
</g>
<g fill="#00B534">
<path d="M458.0 192.0l3.85 6.6h-7.7z"/>
<path d="M474.5 190.2l3.85 6.6h-7.7z"/>
<path d="M481.9 193.5l3.85 6.6h-7.7z"/>
<path d="M486.8 192.8l3.85 6.6h-7.7z"/>
<path d="M493.8 193.0l3.85 6.6h-7.7z"/>
<path d="M498.4 189.8l3.85 6.6h-7.7z"/>
<path d="M501.1 189.7l3.85 6.6h-7.7z"/>
</g>
<g fill="#F9655A">
<circle cx="513.6" cy="194.7" r="2.95"/>
</g>
<g fill="#00B534">
<path d="M517.4 189.7l3.85 6.6h-7.7z"/>
<path d="M521.1 192.6l3.85 6.6h-7.7z"/>
<path d="M529.4 192.1l3.85 6.6h-7.7z"/>
<path d="M533.3 190.7l3.85 6.6h-7.7z"/>
<path d="M537.2 193.0l3.85 6.6h-7.7z"/>
<path d="M546.5 191.9l3.85 6.6h-7.7z"/>
</g>
<g fill="#F9655A">
<circle cx="554.2" cy="194.8" r="2.95"/>
<circle cx="569.2" cy="193.0" r="2.95"/>
</g>
<g fill="#00B534">
<path d="M582.3 191.6l3.85 6.6h-7.7z"/>
<path d="M585.6 192.9l3.85 6.6h-7.7z"/>
<path d="M591.0 190.2l3.85 6.6h-7.7z"/>
</g>
<g fill="#F9655A">
<circle cx="594.4" cy="196.2" r="2.95"/>
</g>
<g fill="#00B534">
<path d="M431.8 202.5l3.85 6.6h-7.7z"/>
<path d="M434.1 204.8l3.85 6.6h-7.7z"/>
</g>
<g fill="#F9655A">
<circle cx="438.3" cy="206.0" r="2.95"/>
</g>
<g fill="#00B534">
<path d="M440.9 204.0l3.85 6.6h-7.7z"/>
</g>
<g fill="#F9655A">
<circle cx="444.6" cy="205.7" r="2.95"/>
</g>
<g fill="#00B534">
<path d="M446.8 203.0l3.85 6.6h-7.7z"/>
<path d="M450.8 203.3l3.85 6.6h-7.7z"/>
<path d="M455.6 203.6l3.85 6.6h-7.7z"/>
</g>
<g fill="#F9655A">
<circle cx="458.9" cy="207.1" r="2.95"/>
</g>
<g fill="#00B534">
<path d="M464.6 203.3l3.85 6.6h-7.7z"/>
</g>
<g fill="#F9655A">
<circle cx="473.8" cy="208.4" r="2.95"/>
<circle cx="485.5" cy="206.7" r="2.95"/>
<circle cx="489.9" cy="207.7" r="2.95"/>
<circle cx="497.9" cy="207.4" r="2.95"/>
<circle cx="501.3" cy="207.9" r="2.95"/>
</g>
<g fill="#00B534">
<path d="M503.4 202.8l3.85 6.6h-7.7z"/>
</g>
<g fill="#F9655A">
<circle cx="510.9" cy="206.1" r="2.95"/>
<circle cx="512.2" cy="206.6" r="2.95"/>
<circle cx="516.8" cy="207.6" r="2.95"/>
</g>
<g fill="#00B534">
<path d="M519.1 204.1l3.85 6.6h-7.7z"/>
<path d="M521.2 203.1l3.85 6.6h-7.7z"/>
</g>
<g fill="#F9655A">
<circle cx="531.8" cy="205.9" r="2.95"/>
</g>
<g fill="#00B534">
<path d="M534.9 203.1l3.85 6.6h-7.7z"/>
<path d="M540.4 204.8l3.85 6.6h-7.7z"/>
</g>
<g fill="#F9655A">
<circle cx="552.7" cy="205.6" r="2.95"/>
</g>
<g fill="#00B534">
<path d="M555.2 204.4l3.85 6.6h-7.7z"/>
<path d="M557.7 203.1l3.85 6.6h-7.7z"/>
</g>
<g fill="#F9655A">
<circle cx="560.4" cy="205.8" r="2.95"/>
</g>
<g fill="#00B534">
<path d="M564.8 204.4l3.85 6.6h-7.7z"/>
<path d="M566.1 202.8l3.85 6.6h-7.7z"/>
</g>
<g fill="#F9655A">
<circle cx="572.1" cy="207.0" r="2.95"/>
<circle cx="576.6" cy="205.9" r="2.95"/>
<circle cx="578.3" cy="206.0" r="2.95"/>
</g>
<g fill="#00B534">
<path d="M582.7 203.6l3.85 6.6h-7.7z"/>
<path d="M585.5 204.2l3.85 6.6h-7.7z"/>
</g>
<g fill="#F9655A">
<circle cx="590.4" cy="206.7" r="2.95"/>
<circle cx="593.2" cy="208.2" r="2.95"/>
</g>
<g fill="#00B534">
<path d="M438.0 208.6l3.85 6.6h-7.7z"/>
<path d="M444.0 208.6l3.85 6.6h-7.7z"/>
<path d="M450.0 208.6l3.85 6.6h-7.7z"/>
<path d="M456.0 208.6l3.85 6.6h-7.7z"/>
<path d="M474.0 208.6l3.85 6.6h-7.7z"/>
<path d="M480.0 208.6l3.85 6.6h-7.7z"/>
<path d="M486.0 208.6l3.85 6.6h-7.7z"/>
<path d="M498.0 208.6l3.85 6.6h-7.7z"/>
<path d="M516.0 208.6l3.85 6.6h-7.7z"/>
<path d="M534.0 208.6l3.85 6.6h-7.7z"/>
<path d="M546.0 208.6l3.85 6.6h-7.7z"/>
<path d="M552.0 208.6l3.85 6.6h-7.7z"/>
<path d="M558.0 208.6l3.85 6.6h-7.7z"/>
<path d="M564.0 208.6l3.85 6.6h-7.7z"/>
<path d="M570.0 208.6l3.85 6.6h-7.7z"/>
<path d="M576.0 208.6l3.85 6.6h-7.7z"/>
<path d="M582.0 208.6l3.85 6.6h-7.7z"/>
<path d="M588.0 208.6l3.85 6.6h-7.7z"/>
<path d="M594.0 208.6l3.85 6.6h-7.7z"/>
</g>
<g fill="#5794FF">
<rect x="428.4" y="212.5" width="5.3" height="5.3"/>
<rect x="430.4" y="212.4" width="5.3" height="5.3"/>
<rect x="432.4" y="212.3" width="5.3" height="5.3"/>
<rect x="434.4" y="212.6" width="5.3" height="5.3"/>
<rect x="436.4" y="212.2" width="5.3" height="5.3"/>
<rect x="438.4" y="212.3" width="5.3" height="5.3"/>
<rect x="440.4" y="212.6" width="5.3" height="5.3"/>
<rect x="442.4" y="212.0" width="5.3" height="5.3"/>
<rect x="444.4" y="212.6" width="5.3" height="5.3"/>
<rect x="446.4" y="212.3" width="5.3" height="5.3"/>
<rect x="448.4" y="212.5" width="5.3" height="5.3"/>
<rect x="450.4" y="212.0" width="5.3" height="5.3"/>
<rect x="452.4" y="212.4" width="5.3" height="5.3"/>
<rect x="454.4" y="212.6" width="5.3" height="5.3"/>
<rect x="456.4" y="212.1" width="5.3" height="5.3"/>
<rect x="458.4" y="212.5" width="5.3" height="5.3"/>
<rect x="460.4" y="212.6" width="5.3" height="5.3"/>
<rect x="462.4" y="212.3" width="5.3" height="5.3"/>
<rect x="464.4" y="212.6" width="5.3" height="5.3"/>
<rect x="466.4" y="211.9" width="5.3" height="5.3"/>
<rect x="468.4" y="212.4" width="5.3" height="5.3"/>
<rect x="470.4" y="211.9" width="5.3" height="5.3"/>
<rect x="472.4" y="212.2" width="5.3" height="5.3"/>
<rect x="474.4" y="211.9" width="5.3" height="5.3"/>
<rect x="476.4" y="212.3" width="5.3" height="5.3"/>
<rect x="478.4" y="212.6" width="5.3" height="5.3"/>
<rect x="480.4" y="212.2" width="5.3" height="5.3"/>
<rect x="482.4" y="212.6" width="5.3" height="5.3"/>
<rect x="484.4" y="212.0" width="5.3" height="5.3"/>
<rect x="486.4" y="212.0" width="5.3" height="5.3"/>
<rect x="488.4" y="212.6" width="5.3" height="5.3"/>
<rect x="490.4" y="212.2" width="5.3" height="5.3"/>
<rect x="492.4" y="212.1" width="5.3" height="5.3"/>
<rect x="494.4" y="212.6" width="5.3" height="5.3"/>
<rect x="496.4" y="211.9" width="5.3" height="5.3"/>
<rect x="498.4" y="212.6" width="5.3" height="5.3"/>
<rect x="500.4" y="212.0" width="5.3" height="5.3"/>
<rect x="502.4" y="212.3" width="5.3" height="5.3"/>
<rect x="504.4" y="212.3" width="5.3" height="5.3"/>
<rect x="506.4" y="212.5" width="5.3" height="5.3"/>
<rect x="508.4" y="212.3" width="5.3" height="5.3"/>
<rect x="510.4" y="212.4" width="5.3" height="5.3"/>
<rect x="512.4" y="212.5" width="5.3" height="5.3"/>
<rect x="514.4" y="211.9" width="5.3" height="5.3"/>
<rect x="516.4" y="212.0" width="5.3" height="5.3"/>
<rect x="518.4" y="212.1" width="5.3" height="5.3"/>
<rect x="520.4" y="212.1" width="5.3" height="5.3"/>
<rect x="522.4" y="212.0" width="5.3" height="5.3"/>
<rect x="524.4" y="212.6" width="5.3" height="5.3"/>
<rect x="526.4" y="212.2" width="5.3" height="5.3"/>
<rect x="528.4" y="212.4" width="5.3" height="5.3"/>
<rect x="530.4" y="212.2" width="5.3" height="5.3"/>
<rect x="532.4" y="212.6" width="5.3" height="5.3"/>
<rect x="534.4" y="212.2" width="5.3" height="5.3"/>
<rect x="536.4" y="212.2" width="5.3" height="5.3"/>
<rect x="538.4" y="212.6" width="5.3" height="5.3"/>
<rect x="540.4" y="212.1" width="5.3" height="5.3"/>
<rect x="542.4" y="212.1" width="5.3" height="5.3"/>
<rect x="544.4" y="212.3" width="5.3" height="5.3"/>
<rect x="546.4" y="212.6" width="5.3" height="5.3"/>
<rect x="548.4" y="212.4" width="5.3" height="5.3"/>
<rect x="550.4" y="212.2" width="5.3" height="5.3"/>
<rect x="552.4" y="212.0" width="5.3" height="5.3"/>
<rect x="554.4" y="212.4" width="5.3" height="5.3"/>
<rect x="556.4" y="211.9" width="5.3" height="5.3"/>
<rect x="558.4" y="212.1" width="5.3" height="5.3"/>
<rect x="560.4" y="212.2" width="5.3" height="5.3"/>
<rect x="562.4" y="212.1" width="5.3" height="5.3"/>
<rect x="564.4" y="212.5" width="5.3" height="5.3"/>
<rect x="566.4" y="212.4" width="5.3" height="5.3"/>
<rect x="568.4" y="212.0" width="5.3" height="5.3"/>
<rect x="570.4" y="212.6" width="5.3" height="5.3"/>
<rect x="572.4" y="211.9" width="5.3" height="5.3"/>
<rect x="574.4" y="211.9" width="5.3" height="5.3"/>
<rect x="576.4" y="212.1" width="5.3" height="5.3"/>
<rect x="578.4" y="212.6" width="5.3" height="5.3"/>
<rect x="580.4" y="212.3" width="5.3" height="5.3"/>
<rect x="582.4" y="212.1" width="5.3" height="5.3"/>
<rect x="584.4" y="212.3" width="5.3" height="5.3"/>
<rect x="586.4" y="212.2" width="5.3" height="5.3"/>
<rect x="588.4" y="212.6" width="5.3" height="5.3"/>
<rect x="590.4" y="212.6" width="5.3" height="5.3"/>
<rect x="592.4" y="212.5" width="5.3" height="5.3"/>
<rect x="594.4" y="212.3" width="5.3" height="5.3"/>
<rect x="596.4" y="212.5" width="5.3" height="5.3"/>
<rect x="598.4" y="212.5" width="5.3" height="5.3"/>
<rect x="600.4" y="212.3" width="5.3" height="5.3"/>
<rect x="602.4" y="212.0" width="5.3" height="5.3"/>
<rect x="604.4" y="212.6" width="5.3" height="5.3"/>
<rect x="606.4" y="212.4" width="5.3" height="5.3"/>
<rect x="608.4" y="211.9" width="5.3" height="5.3"/>
<rect x="610.4" y="212.2" width="5.3" height="5.3"/>
<rect x="612.4" y="211.9" width="5.3" height="5.3"/>
<rect x="614.4" y="212.2" width="5.3" height="5.3"/>
<rect x="616.4" y="212.5" width="5.3" height="5.3"/>
<rect x="618.4" y="212.2" width="5.3" height="5.3"/>
<rect x="620.4" y="212.2" width="5.3" height="5.3"/>
</g>
<g fill="#F9655A">
<circle cx="465.5" cy="43.2" r="2.95"/>
<circle cx="512.5" cy="43.2" r="2.95"/>
<circle cx="532.0" cy="43.2" r="2.95"/>
<circle cx="544.0" cy="43.2" r="2.95"/>
<circle cx="565.0" cy="43.1" r="2.95"/>
<circle cx="619.4" cy="42.9" r="2.95"/>
<circle cx="451.7" cy="94.5" r="2.95"/>
<circle cx="455.7" cy="111.7" r="2.95"/>
<circle cx="510.7" cy="94.5" r="2.95"/>
<circle cx="647.0" cy="101.7" r="2.95"/>
<circle cx="660.6" cy="101.7" r="2.95"/>
<circle cx="647.0" cy="107.5" r="2.95"/>
<circle cx="660.6" cy="107.5" r="2.95"/>
<circle cx="597.2" cy="112.5" r="2.95"/>
<circle cx="619.4" cy="118.2" r="2.95"/>
<circle cx="612.0" cy="135.2" r="2.95"/>
<circle cx="647.0" cy="155.9" r="2.95"/>
<circle cx="660.6" cy="155.9" r="2.95"/>
<circle cx="647.0" cy="190.0" r="2.95"/>
<circle cx="660.6" cy="190.0" r="2.95"/>
<circle cx="619.4" cy="199.3" r="2.95"/>
<circle cx="612.0" cy="203.4" r="2.95"/>
<circle cx="605.4" cy="166.3" r="2.95"/>
<circle cx="608.2" cy="186.0" r="2.95"/>
<circle cx="597.2" cy="160.5" r="2.95"/>
<circle cx="378.8" cy="179.2" r="2.95"/>
<circle cx="408.5" cy="142.5" r="2.95"/>
<circle cx="408.5" cy="175.5" r="2.95"/>
<circle cx="425.7" cy="142.5" r="2.95"/>
<circle cx="433.2" cy="141.0" r="2.95"/>
<circle cx="425.7" cy="175.5" r="2.95"/>
<circle cx="422.7" cy="190.5" r="2.95"/>
<circle cx="425.7" cy="207.7" r="2.95"/>
</g>
<g fill="#00B534">
<path d="M448.2 95.3l3.85 6.6h-7.7z"/>
<path d="M432.9 107.6l3.85 6.6h-7.7z"/>
<path d="M452.0 109.1l3.85 6.6h-7.7z"/>
<path d="M455.7 108.3l3.85 6.6h-7.7z"/>
<path d="M464.0 111.3l3.85 6.6h-7.7z"/>
<path d="M503.2 52.8l3.85 6.6h-7.7z"/>
<path d="M564.0 52.1l3.85 6.6h-7.7z"/>
<path d="M478.5 93.6l3.85 6.6h-7.7z"/>
<path d="M493.5 93.6l3.85 6.6h-7.7z"/>
<path d="M504.0 93.6l3.85 6.6h-7.7z"/>
<path d="M507.0 93.6l3.85 6.6h-7.7z"/>
<path d="M550.5 93.6l3.85 6.6h-7.7z"/>
<path d="M565.8 53.0l3.85 6.6h-7.7z"/>
<path d="M647.0 82.6l3.85 6.6h-7.7z"/>
<path d="M660.6 82.6l3.85 6.6h-7.7z"/>
<path d="M647.0 101.6l3.85 6.6h-7.7z"/>
<path d="M660.6 101.6l3.85 6.6h-7.7z"/>
<path d="M647.0 126.4l3.85 6.6h-7.7z"/>
<path d="M660.6 126.4l3.85 6.6h-7.7z"/>
<path d="M619.4 86.2l3.85 6.6h-7.7z"/>
<path d="M597.2 102.5l3.85 6.6h-7.7z"/>
<path d="M619.4 110.7l3.85 6.6h-7.7z"/>
<path d="M647.0 195.0l3.85 6.6h-7.7z"/>
<path d="M660.6 195.0l3.85 6.6h-7.7z"/>
<path d="M619.4 161.2l3.85 6.6h-7.7z"/>
<path d="M619.4 176.9l3.85 6.6h-7.7z"/>
<path d="M619.4 202.5l3.85 6.6h-7.7z"/>
<path d="M619.4 208.1l3.85 6.6h-7.7z"/>
<path d="M612.0 186.0l3.85 6.6h-7.7z"/>
<path d="M612.0 208.1l3.85 6.6h-7.7z"/>
<path d="M604.6 139.8l3.85 6.6h-7.7z"/>
<path d="M607.0 167.0l3.85 6.6h-7.7z"/>
<path d="M608.0 173.6l3.85 6.6h-7.7z"/>
<path d="M597.2 145.6l3.85 6.6h-7.7z"/>
<path d="M597.2 161.2l3.85 6.6h-7.7z"/>
<path d="M597.2 183.5l3.85 6.6h-7.7z"/>
<path d="M597.2 190.1l3.85 6.6h-7.7z"/>
<path d="M597.2 201.6l3.85 6.6h-7.7z"/>
<path d="M378.8 170.6l3.85 6.6h-7.7z"/>
<path d="M378.8 181.1l3.85 6.6h-7.7z"/>
<path d="M378.8 184.1l3.85 6.6h-7.7z"/>
<path d="M378.8 205.1l3.85 6.6h-7.7z"/>
<path d="M388.0 191.1l3.85 6.6h-7.7z"/>
<path d="M393.0 191.1l3.85 6.6h-7.7z"/>
<path d="M398.0 191.1l3.85 6.6h-7.7z"/>
<path d="M403.0 191.1l3.85 6.6h-7.7z"/>
<path d="M408.5 132.3l3.85 6.6h-7.7z"/>
<path d="M408.5 161.6l3.85 6.6h-7.7z"/>
<path d="M425.7 132.3l3.85 6.6h-7.7z"/>
<path d="M425.7 162.3l3.85 6.6h-7.7z"/>
<path d="M425.7 166.1l3.85 6.6h-7.7z"/>
<path d="M418.0 184.1l3.85 6.6h-7.7z"/>
<path d="M423.0 184.1l3.85 6.6h-7.7z"/>
<path d="M425.7 202.1l3.85 6.6h-7.7z"/>
</g>
<g fill="#5794FF">
<rect x="445.9" y="49.1" width="5.3" height="5.3"/>
<rect x="462.1" y="51.4" width="5.3" height="5.3"/>
<rect x="430.2" y="58.9" width="5.3" height="5.3"/>
<rect x="453.1" y="60.1" width="5.3" height="5.3"/>
<rect x="448.9" y="63.4" width="5.3" height="5.3"/>
<rect x="449.4" y="90.3" width="5.3" height="5.3"/>
<rect x="455.4" y="88.8" width="5.3" height="5.3"/>
<rect x="459.9" y="88.0" width="5.3" height="5.3"/>
<rect x="405.9" y="100.0" width="5.3" height="5.3"/>
<rect x="423.4" y="100.0" width="5.3" height="5.3"/>
<rect x="452.4" y="99.3" width="5.3" height="5.3"/>
<rect x="423.1" y="112.0" width="5.3" height="5.3"/>
<rect x="431.4" y="112.5" width="5.3" height="5.3"/>
<rect x="441.1" y="112.8" width="5.3" height="5.3"/>
<rect x="444.1" y="112.0" width="5.3" height="5.3"/>
<rect x="459.9" y="108.3" width="5.3" height="5.3"/>
<rect x="459.1" y="121.8" width="5.3" height="5.3"/>
<rect x="463.9" y="51.1" width="5.3" height="5.3"/>
<rect x="476.6" y="49.4" width="5.3" height="5.3"/>
<rect x="492.1" y="49.4" width="5.3" height="5.3"/>
<rect x="502.1" y="48.9" width="5.3" height="5.3"/>
<rect x="505.9" y="49.4" width="5.3" height="5.3"/>
<rect x="510.1" y="51.4" width="5.3" height="5.3"/>
<rect x="529.4" y="51.1" width="5.3" height="5.3"/>
<rect x="541.4" y="51.4" width="5.3" height="5.3"/>
<rect x="547.9" y="48.9" width="5.3" height="5.3"/>
<rect x="477.4" y="58.1" width="5.3" height="5.3"/>
<rect x="489.4" y="57.9" width="5.3" height="5.3"/>
<rect x="513.4" y="58.1" width="5.3" height="5.3"/>
<rect x="515.9" y="59.4" width="5.3" height="5.3"/>
<rect x="529.4" y="58.1" width="5.3" height="5.3"/>
<rect x="482.6" y="63.4" width="5.3" height="5.3"/>
<rect x="508.1" y="63.4" width="5.3" height="5.3"/>
<rect x="517.1" y="63.4" width="5.3" height="5.3"/>
<rect x="475.1" y="67.8" width="5.3" height="5.3"/>
<rect x="486.4" y="67.8" width="5.3" height="5.3"/>
<rect x="496.1" y="67.8" width="5.3" height="5.3"/>
<rect x="508.9" y="67.8" width="5.3" height="5.3"/>
<rect x="521.6" y="67.8" width="5.3" height="5.3"/>
<rect x="529.1" y="67.8" width="5.3" height="5.3"/>
<rect x="539.6" y="67.8" width="5.3" height="5.3"/>
<rect x="543.4" y="69.8" width="5.3" height="5.3"/>
<rect x="474.4" y="71.3" width="5.3" height="5.3"/>
<rect x="483.4" y="72.3" width="5.3" height="5.3"/>
<rect x="477.4" y="75.8" width="5.3" height="5.3"/>
<rect x="481.9" y="75.3" width="5.3" height="5.3"/>
<rect x="492.4" y="75.3" width="5.3" height="5.3"/>
<rect x="499.1" y="75.3" width="5.3" height="5.3"/>
<rect x="504.4" y="76.3" width="5.3" height="5.3"/>
<rect x="511.1" y="78.3" width="5.3" height="5.3"/>
<rect x="521.6" y="78.3" width="5.3" height="5.3"/>
<rect x="533.6" y="77.3" width="5.3" height="5.3"/>
<rect x="538.9" y="77.3" width="5.3" height="5.3"/>
<rect x="463.9" y="87.3" width="5.3" height="5.3"/>
<rect x="471.4" y="83.3" width="5.3" height="5.3"/>
<rect x="480.4" y="83.3" width="5.3" height="5.3"/>
<rect x="484.4" y="85.3" width="5.3" height="5.3"/>
<rect x="489.4" y="88.3" width="5.3" height="5.3"/>
<rect x="499.1" y="85.3" width="5.3" height="5.3"/>
<rect x="502.4" y="85.3" width="5.3" height="5.3"/>
<rect x="505.9" y="85.3" width="5.3" height="5.3"/>
<rect x="507.4" y="88.3" width="5.3" height="5.3"/>
<rect x="516.4" y="88.3" width="5.3" height="5.3"/>
<rect x="519.4" y="90.3" width="5.3" height="5.3"/>
<rect x="522.4" y="92.3" width="5.3" height="5.3"/>
<rect x="526.9" y="88.3" width="5.3" height="5.3"/>
<rect x="529.9" y="88.3" width="5.3" height="5.3"/>
<rect x="532.9" y="88.3" width="5.3" height="5.3"/>
<rect x="540.4" y="88.3" width="5.3" height="5.3"/>
<rect x="561.4" y="88.3" width="5.3" height="5.3"/>
<rect x="485.4" y="81.3" width="5.3" height="5.3"/>
<rect x="495.4" y="81.3" width="5.3" height="5.3"/>
<rect x="563.6" y="51.2" width="5.3" height="5.3"/>
<rect x="616.8" y="51.2" width="5.3" height="5.3"/>
<rect x="609.4" y="58.4" width="5.3" height="5.3"/>
<rect x="594.6" y="68.2" width="5.3" height="5.3"/>
<rect x="644.4" y="34.8" width="5.3" height="5.3"/>
<rect x="658.0" y="34.8" width="5.3" height="5.3"/>
<rect x="644.4" y="62.9" width="5.3" height="5.3"/>
<rect x="658.0" y="62.9" width="5.3" height="5.3"/>
<rect x="644.4" y="86.3" width="5.3" height="5.3"/>
<rect x="658.0" y="86.3" width="5.3" height="5.3"/>
<rect x="567.4" y="79.3" width="5.3" height="5.3"/>
<rect x="578.4" y="79.3" width="5.3" height="5.3"/>
<rect x="564.0" y="86.8" width="5.3" height="5.3"/>
<rect x="569.8" y="89.1" width="5.3" height="5.3"/>
<rect x="583.0" y="89.1" width="5.3" height="5.3"/>
</g>
<g fill="#5794FF">
<rect x="616.8" y="86.8" width="5.3" height="5.3"/>
</g>
<g fill="#5794FF">
<rect x="603.2" y="117.2" width="5.3" height="5.3"/>
<rect x="594.6" y="132.0" width="5.3" height="5.3"/>
<rect x="644.4" y="184.2" width="5.3" height="5.3"/>
<rect x="658.0" y="184.2" width="5.3" height="5.3"/>
<rect x="644.4" y="198.2" width="5.3" height="5.3"/>
<rect x="658.0" y="198.2" width="5.3" height="5.3"/>
<rect x="616.8" y="152.9" width="5.3" height="5.3"/>
<rect x="616.8" y="158.7" width="5.3" height="5.3"/>
<rect x="616.8" y="173.5" width="5.3" height="5.3"/>
<rect x="616.8" y="184.2" width="5.3" height="5.3"/>
<rect x="616.8" y="194.2" width="5.3" height="5.3"/>
<rect x="616.8" y="200.8" width="5.3" height="5.3"/>
<rect x="616.8" y="211.4" width="5.3" height="5.3"/>
<rect x="609.4" y="172.7" width="5.3" height="5.3"/>
<rect x="609.4" y="176.8" width="5.3" height="5.3"/>
<rect x="609.4" y="192.4" width="5.3" height="5.3"/>
<rect x="609.4" y="197.3" width="5.3" height="5.3"/>
<rect x="609.4" y="211.4" width="5.3" height="5.3"/>
<rect x="605.6" y="141.3" width="5.3" height="5.3"/>
<rect x="605.6" y="153.3" width="5.3" height="5.3"/>
<rect x="594.6" y="132.3" width="5.3" height="5.3"/>
<rect x="594.6" y="150.3" width="5.3" height="5.3"/>
<rect x="594.6" y="195.3" width="5.3" height="5.3"/>
<rect x="594.6" y="211.3" width="5.3" height="5.3"/>
<rect x="600.4" y="211.3" width="5.3" height="5.3"/>
<rect x="604.4" y="211.3" width="5.3" height="5.3"/>
<rect x="376.2" y="131.2" width="5.3" height="5.3"/>
<rect x="376.2" y="153.3" width="5.3" height="5.3"/>
<rect x="376.2" y="162.3" width="5.3" height="5.3"/>
<rect x="376.2" y="199.0" width="5.3" height="5.3"/>
<rect x="376.2" y="202.8" width="5.3" height="5.3"/>
<rect x="376.2" y="211.0" width="5.3" height="5.3"/>
<rect x="387.1" y="184.0" width="5.3" height="5.3"/>
<rect x="391.6" y="184.0" width="5.3" height="5.3"/>
<rect x="399.1" y="184.0" width="5.3" height="5.3"/>
<rect x="387.1" y="187.3" width="5.3" height="5.3"/>
<rect x="391.6" y="187.3" width="5.3" height="5.3"/>
<rect x="396.1" y="173.5" width="5.3" height="5.3"/>
<rect x="399.9" y="173.5" width="5.3" height="5.3"/>
<rect x="385.4" y="196.9" width="5.3" height="5.3"/>
<rect x="390.4" y="196.9" width="5.3" height="5.3"/>
<rect x="395.4" y="196.9" width="5.3" height="5.3"/>
<rect x="400.4" y="196.9" width="5.3" height="5.3"/>
<rect x="401.4" y="208.0" width="5.3" height="5.3"/>
<rect x="409.6" y="208.0" width="5.3" height="5.3"/>
<rect x="400.7" y="207.8" width="5.3" height="5.3"/>
<rect x="409.0" y="207.8" width="5.3" height="5.3"/>
<rect x="418.9" y="207.8" width="5.3" height="5.3"/>
<rect x="430.2" y="207.8" width="5.3" height="5.3"/>
<rect x="405.9" y="154.0" width="5.3" height="5.3"/>
<rect x="416.4" y="149.5" width="5.3" height="5.3"/>
<rect x="423.1" y="153.3" width="5.3" height="5.3"/>
<rect x="419.4" y="159.3" width="5.3" height="5.3"/>
<rect x="416.4" y="175.0" width="5.3" height="5.3"/>
<rect x="423.1" y="176.5" width="5.3" height="5.3"/>
<rect x="422.4" y="192.3" width="5.3" height="5.3"/>
<rect x="422.4" y="199.0" width="5.3" height="5.3"/>
<rect x="419.4" y="211.0" width="5.3" height="5.3"/>
</g>
<line x1="365" y1="169.7" x2="674.5" y2="169.7" stroke="#7A0000" stroke-width="3.6" stroke-dasharray="15.2 15.8"/>
</g>
<rect x="365" y="2.5" width="309.5" height="256.35" fill="none" stroke="#333333" stroke-width="1"/>
<g clip-path="url(#cpc)">
<g fill="#5794FF">
<rect x="245.5" y="426.4" width="5.3" height="5.3"/>
<rect x="200.5" y="452.2" width="5.3" height="5.3"/>
<rect x="269.0" y="482.7" width="5.3" height="5.3"/>
<rect x="269.8" y="512.6" width="5.3" height="5.3"/>
<rect x="202.7" y="433.9" width="5.3" height="5.3"/>
<rect x="263.2" y="460.2" width="5.3" height="5.3"/>
<rect x="198.1" y="446.7" width="5.3" height="5.3"/>
<rect x="236.2" y="433.0" width="5.3" height="5.3"/>
<rect x="252.8" y="458.2" width="5.3" height="5.3"/>
<rect x="306.9" y="506.3" width="5.3" height="5.3"/>
<rect x="251.2" y="463.8" width="5.3" height="5.3"/>
<rect x="198.2" y="481.6" width="5.3" height="5.3"/>
<rect x="209.1" y="453.3" width="5.3" height="5.3"/>
<rect x="242.9" y="450.0" width="5.3" height="5.3"/>
<rect x="256.6" y="444.0" width="5.3" height="5.3"/>
<rect x="251.7" y="436.0" width="5.3" height="5.3"/>
<rect x="220.0" y="436.9" width="5.3" height="5.3"/>
<rect x="238.1" y="425.8" width="5.3" height="5.3"/>
<rect x="206.4" y="436.4" width="5.3" height="5.3"/>
<rect x="272.0" y="484.2" width="5.3" height="5.3"/>
<rect x="206.6" y="432.4" width="5.3" height="5.3"/>
<rect x="258.3" y="469.2" width="5.3" height="5.3"/>
<rect x="232.3" y="419.5" width="5.3" height="5.3"/>
<rect x="202.9" y="437.3" width="5.3" height="5.3"/>
<rect x="249.9" y="465.8" width="5.3" height="5.3"/>
<rect x="246.2" y="444.2" width="5.3" height="5.3"/>
<rect x="225.3" y="451.2" width="5.3" height="5.3"/>
<rect x="251.2" y="465.6" width="5.3" height="5.3"/>
<rect x="261.7" y="454.9" width="5.3" height="5.3"/>
<rect x="252.0" y="501.5" width="5.3" height="5.3"/>
<rect x="217.6" y="434.6" width="5.3" height="5.3"/>
<rect x="204.8" y="455.8" width="5.3" height="5.3"/>
<rect x="298.3" y="502.4" width="5.3" height="5.3"/>
<rect x="247.2" y="480.7" width="5.3" height="5.3"/>
<rect x="253.4" y="446.3" width="5.3" height="5.3"/>
<rect x="228.9" y="423.7" width="5.3" height="5.3"/>
<rect x="251.1" y="469.1" width="5.3" height="5.3"/>
<rect x="216.9" y="450.4" width="5.3" height="5.3"/>
<rect x="197.4" y="488.7" width="5.3" height="5.3"/>
<rect x="249.6" y="432.9" width="5.3" height="5.3"/>
<rect x="243.2" y="449.2" width="5.3" height="5.3"/>
<rect x="250.1" y="476.6" width="5.3" height="5.3"/>
<rect x="291.8" y="511.9" width="5.3" height="5.3"/>
<rect x="213.8" y="435.4" width="5.3" height="5.3"/>
<rect x="218.7" y="427.4" width="5.3" height="5.3"/>
<rect x="232.9" y="441.0" width="5.3" height="5.3"/>
<rect x="246.2" y="478.8" width="5.3" height="5.3"/>
<rect x="249.2" y="433.3" width="5.3" height="5.3"/>
<rect x="260.7" y="474.4" width="5.3" height="5.3"/>
<rect x="279.1" y="471.9" width="5.3" height="5.3"/>
<rect x="270.8" y="499.9" width="5.3" height="5.3"/>
<rect x="196.5" y="479.7" width="5.3" height="5.3"/>
<rect x="214.9" y="433.2" width="5.3" height="5.3"/>
<rect x="233.2" y="465.2" width="5.3" height="5.3"/>
<rect x="264.0" y="453.2" width="5.3" height="5.3"/>
<rect x="228.8" y="442.2" width="5.3" height="5.3"/>
<rect x="236.2" y="431.4" width="5.3" height="5.3"/>
<rect x="243.5" y="428.0" width="5.3" height="5.3"/>
<rect x="261.5" y="458.8" width="5.3" height="5.3"/>
<rect x="230.4" y="451.8" width="5.3" height="5.3"/>
<rect x="262.1" y="477.6" width="5.3" height="5.3"/>
<rect x="245.5" y="482.8" width="5.3" height="5.3"/>
<rect x="271.6" y="464.4" width="5.3" height="5.3"/>
<rect x="229.9" y="451.4" width="5.3" height="5.3"/>
<rect x="212.1" y="422.8" width="5.3" height="5.3"/>
<rect x="251.9" y="467.7" width="5.3" height="5.3"/>
<rect x="256.1" y="437.4" width="5.3" height="5.3"/>
<rect x="203.1" y="438.0" width="5.3" height="5.3"/>
<rect x="257.2" y="511.1" width="5.3" height="5.3"/>
<rect x="249.1" y="500.0" width="5.3" height="5.3"/>
<rect x="259.8" y="444.5" width="5.3" height="5.3"/>
<rect x="266.0" y="474.3" width="5.3" height="5.3"/>
<rect x="268.1" y="478.7" width="5.3" height="5.3"/>
<rect x="210.5" y="455.4" width="5.3" height="5.3"/>
<rect x="256.6" y="479.5" width="5.3" height="5.3"/>
<rect x="220.4" y="452.0" width="5.3" height="5.3"/>
<rect x="251.7" y="486.6" width="5.3" height="5.3"/>
<rect x="207.2" y="432.7" width="5.3" height="5.3"/>
<rect x="236.8" y="422.6" width="5.3" height="5.3"/>
<rect x="231.7" y="448.5" width="5.3" height="5.3"/>
<rect x="211.9" y="422.9" width="5.3" height="5.3"/>
<rect x="228.6" y="423.8" width="5.3" height="5.3"/>
<rect x="264.1" y="463.2" width="5.3" height="5.3"/>
<rect x="205.3" y="434.3" width="5.3" height="5.3"/>
<rect x="198.6" y="454.5" width="5.3" height="5.3"/>
<rect x="277.6" y="513.6" width="5.3" height="5.3"/>
<rect x="260.2" y="447.9" width="5.3" height="5.3"/>
<rect x="214.8" y="432.8" width="5.3" height="5.3"/>
<rect x="271.2" y="462.9" width="5.3" height="5.3"/>
<rect x="200.0" y="462.5" width="5.3" height="5.3"/>
<rect x="201.0" y="494.1" width="5.3" height="5.3"/>
<rect x="259.0" y="483.8" width="5.3" height="5.3"/>
<rect x="246.3" y="447.1" width="5.3" height="5.3"/>
<rect x="233.9" y="433.6" width="5.3" height="5.3"/>
<rect x="243.5" y="460.2" width="5.3" height="5.3"/>
<rect x="205.5" y="450.1" width="5.3" height="5.3"/>
<rect x="222.1" y="427.8" width="5.3" height="5.3"/>
<rect x="243.7" y="449.3" width="5.3" height="5.3"/>
<rect x="235.3" y="421.9" width="5.3" height="5.3"/>
<rect x="242.6" y="436.1" width="5.3" height="5.3"/>
<rect x="272.7" y="478.4" width="5.3" height="5.3"/>
<rect x="288.9" y="515.0" width="5.3" height="5.3"/>
<rect x="203.7" y="439.2" width="5.3" height="5.3"/>
<rect x="243.9" y="434.6" width="5.3" height="5.3"/>
<rect x="243.3" y="455.1" width="5.3" height="5.3"/>
<rect x="226.1" y="417.3" width="5.3" height="5.3"/>
<rect x="256.9" y="466.6" width="5.3" height="5.3"/>
<rect x="227.7" y="444.1" width="5.3" height="5.3"/>
<rect x="220.8" y="434.3" width="5.3" height="5.3"/>
<rect x="251.4" y="477.1" width="5.3" height="5.3"/>
<rect x="258.1" y="472.1" width="5.3" height="5.3"/>
<rect x="258.2" y="507.3" width="5.3" height="5.3"/>
<rect x="251.7" y="465.7" width="5.3" height="5.3"/>
<rect x="202.2" y="456.2" width="5.3" height="5.3"/>
<rect x="233.4" y="455.5" width="5.3" height="5.3"/>
<rect x="225.5" y="425.3" width="5.3" height="5.3"/>
<rect x="213.5" y="437.7" width="5.3" height="5.3"/>
<rect x="223.0" y="453.9" width="5.3" height="5.3"/>
<rect x="224.7" y="432.1" width="5.3" height="5.3"/>
<rect x="214.5" y="441.7" width="5.3" height="5.3"/>
<rect x="246.8" y="440.7" width="5.3" height="5.3"/>
<rect x="241.7" y="481.8" width="5.3" height="5.3"/>
<rect x="214.9" y="438.8" width="5.3" height="5.3"/>
<rect x="236.0" y="426.7" width="5.3" height="5.3"/>
<rect x="241.1" y="465.2" width="5.3" height="5.3"/>
<rect x="242.0" y="441.8" width="5.3" height="5.3"/>
<rect x="268.3" y="478.1" width="5.3" height="5.3"/>
<rect x="245.3" y="479.9" width="5.3" height="5.3"/>
<rect x="256.1" y="508.7" width="5.3" height="5.3"/>
<rect x="253.3" y="465.4" width="5.3" height="5.3"/>
<rect x="273.6" y="467.0" width="5.3" height="5.3"/>
<rect x="265.1" y="445.4" width="5.3" height="5.3"/>
<rect x="228.7" y="435.6" width="5.3" height="5.3"/>
<rect x="237.6" y="464.2" width="5.3" height="5.3"/>
<rect x="309.8" y="510.5" width="5.3" height="5.3"/>
<rect x="253.3" y="479.5" width="5.3" height="5.3"/>
<rect x="242.5" y="482.4" width="5.3" height="5.3"/>
<rect x="273.3" y="477.7" width="5.3" height="5.3"/>
<rect x="253.5" y="463.0" width="5.3" height="5.3"/>
<rect x="262.7" y="454.4" width="5.3" height="5.3"/>
<rect x="259.6" y="520.7" width="5.3" height="5.3"/>
<rect x="275.7" y="476.2" width="5.3" height="5.3"/>
<rect x="243.1" y="441.3" width="5.3" height="5.3"/>
<rect x="239.7" y="477.6" width="5.3" height="5.3"/>
<rect x="214.5" y="447.9" width="5.3" height="5.3"/>
<rect x="274.6" y="462.6" width="5.3" height="5.3"/>
<rect x="280.7" y="514.7" width="5.3" height="5.3"/>
<rect x="263.6" y="456.4" width="5.3" height="5.3"/>
<rect x="201.2" y="499.8" width="5.3" height="5.3"/>
<rect x="269.0" y="464.8" width="5.3" height="5.3"/>
<rect x="260.8" y="457.7" width="5.3" height="5.3"/>
<rect x="263.4" y="509.4" width="5.3" height="5.3"/>
<rect x="198.8" y="447.5" width="5.3" height="5.3"/>
<rect x="208.9" y="452.9" width="5.3" height="5.3"/>
<rect x="228.7" y="478.4" width="5.3" height="5.3"/>
<rect x="223.6" y="444.6" width="5.3" height="5.3"/>
<rect x="214.6" y="418.5" width="5.3" height="5.3"/>
<rect x="259.1" y="459.2" width="5.3" height="5.3"/>
<rect x="231.6" y="448.2" width="5.3" height="5.3"/>
<rect x="249.9" y="458.6" width="5.3" height="5.3"/>
<rect x="231.3" y="456.6" width="5.3" height="5.3"/>
<rect x="237.4" y="430.0" width="5.3" height="5.3"/>
<rect x="246.2" y="473.1" width="5.3" height="5.3"/>
<rect x="243.5" y="428.7" width="5.3" height="5.3"/>
<rect x="198.2" y="451.4" width="5.3" height="5.3"/>
<rect x="244.1" y="437.9" width="5.3" height="5.3"/>
<rect x="272.6" y="515.0" width="5.3" height="5.3"/>
<rect x="252.8" y="439.7" width="5.3" height="5.3"/>
<rect x="212.2" y="438.7" width="5.3" height="5.3"/>
<rect x="257.0" y="466.9" width="5.3" height="5.3"/>
<rect x="260.0" y="479.8" width="5.3" height="5.3"/>
<rect x="236.8" y="457.3" width="5.3" height="5.3"/>
<rect x="242.8" y="465.5" width="5.3" height="5.3"/>
<rect x="251.0" y="465.7" width="5.3" height="5.3"/>
<rect x="219.3" y="430.6" width="5.3" height="5.3"/>
<rect x="246.2" y="444.8" width="5.3" height="5.3"/>
<rect x="278.2" y="517.4" width="5.3" height="5.3"/>
<rect x="212.1" y="451.0" width="5.3" height="5.3"/>
<rect x="261.9" y="453.4" width="5.3" height="5.3"/>
<rect x="203.6" y="465.8" width="5.3" height="5.3"/>
<rect x="253.4" y="466.5" width="5.3" height="5.3"/>
<rect x="240.8" y="449.2" width="5.3" height="5.3"/>
<rect x="240.7" y="458.6" width="5.3" height="5.3"/>
<rect x="275.3" y="475.5" width="5.3" height="5.3"/>
<rect x="197.8" y="500.1" width="5.3" height="5.3"/>
<rect x="235.9" y="466.9" width="5.3" height="5.3"/>
<rect x="206.9" y="466.9" width="5.3" height="5.3"/>
<rect x="256.8" y="438.5" width="5.3" height="5.3"/>
<rect x="234.3" y="466.2" width="5.3" height="5.3"/>
<rect x="223.4" y="450.9" width="5.3" height="5.3"/>
<rect x="258.8" y="464.1" width="5.3" height="5.3"/>
<rect x="254.6" y="468.1" width="5.3" height="5.3"/>
<rect x="228.4" y="422.2" width="5.3" height="5.3"/>
<rect x="238.5" y="462.2" width="5.3" height="5.3"/>
<rect x="209.3" y="482.6" width="5.3" height="5.3"/>
<rect x="226.2" y="450.4" width="5.3" height="5.3"/>
<rect x="251.4" y="447.6" width="5.3" height="5.3"/>
<rect x="226.5" y="439.7" width="5.3" height="5.3"/>
<rect x="202.8" y="431.9" width="5.3" height="5.3"/>
<rect x="268.6" y="492.2" width="5.3" height="5.3"/>
<rect x="235.7" y="483.1" width="5.3" height="5.3"/>
<rect x="240.9" y="464.4" width="5.3" height="5.3"/>
<rect x="270.9" y="482.4" width="5.3" height="5.3"/>
<rect x="198.5" y="493.5" width="5.3" height="5.3"/>
<rect x="197.5" y="497.6" width="5.3" height="5.3"/>
<rect x="280.5" y="476.9" width="5.3" height="5.3"/>
<rect x="258.0" y="452.2" width="5.3" height="5.3"/>
<rect x="246.2" y="448.6" width="5.3" height="5.3"/>
<rect x="211.9" y="445.9" width="5.3" height="5.3"/>
<rect x="211.0" y="427.0" width="5.3" height="5.3"/>
<rect x="205.3" y="438.8" width="5.3" height="5.3"/>
<rect x="244.4" y="439.1" width="5.3" height="5.3"/>
<rect x="272.1" y="469.6" width="5.3" height="5.3"/>
<rect x="262.2" y="478.7" width="5.3" height="5.3"/>
<rect x="248.3" y="446.5" width="5.3" height="5.3"/>
<rect x="241.5" y="423.4" width="5.3" height="5.3"/>
<rect x="251.8" y="456.0" width="5.3" height="5.3"/>
<rect x="248.4" y="477.2" width="5.3" height="5.3"/>
<rect x="200.2" y="459.3" width="5.3" height="5.3"/>
<rect x="218.1" y="451.5" width="5.3" height="5.3"/>
<rect x="295.3" y="510.8" width="5.3" height="5.3"/>
<rect x="290.6" y="502.7" width="5.3" height="5.3"/>
<rect x="200.0" y="438.6" width="5.3" height="5.3"/>
<rect x="197.1" y="436.2" width="5.3" height="5.3"/>
<rect x="268.7" y="471.9" width="5.3" height="5.3"/>
<rect x="259.5" y="514.5" width="5.3" height="5.3"/>
<rect x="252.3" y="481.8" width="5.3" height="5.3"/>
<rect x="251.6" y="479.7" width="5.3" height="5.3"/>
<rect x="224.4" y="430.0" width="5.3" height="5.3"/>
<rect x="249.4" y="463.4" width="5.3" height="5.3"/>
<rect x="250.7" y="444.9" width="5.3" height="5.3"/>
<rect x="251.1" y="459.9" width="5.3" height="5.3"/>
<rect x="275.4" y="475.8" width="5.3" height="5.3"/>
<rect x="197.9" y="484.5" width="5.3" height="5.3"/>
<rect x="228.6" y="439.6" width="5.3" height="5.3"/>
<rect x="269.1" y="456.2" width="5.3" height="5.3"/>
<rect x="217.9" y="451.4" width="5.3" height="5.3"/>
<rect x="244.1" y="444.9" width="5.3" height="5.3"/>
<rect x="258.7" y="453.5" width="5.3" height="5.3"/>
<rect x="224.3" y="460.4" width="5.3" height="5.3"/>
<rect x="257.0" y="452.9" width="5.3" height="5.3"/>
<rect x="243.3" y="482.1" width="5.3" height="5.3"/>
<rect x="203.0" y="445.0" width="5.3" height="5.3"/>
<rect x="219.6" y="452.3" width="5.3" height="5.3"/>
<rect x="304.8" y="511.2" width="5.3" height="5.3"/>
<rect x="222.5" y="416.5" width="5.3" height="5.3"/>
<rect x="234.3" y="447.0" width="5.3" height="5.3"/>
<rect x="241.1" y="474.0" width="5.3" height="5.3"/>
<rect x="271.5" y="498.4" width="5.3" height="5.3"/>
<rect x="275.9" y="472.5" width="5.3" height="5.3"/>
<rect x="199.1" y="458.9" width="5.3" height="5.3"/>
<rect x="248.1" y="436.1" width="5.3" height="5.3"/>
<rect x="256.3" y="487.6" width="5.3" height="5.3"/>
<rect x="219.0" y="418.9" width="5.3" height="5.3"/>
<rect x="197.4" y="484.9" width="5.3" height="5.3"/>
<rect x="251.5" y="440.2" width="5.3" height="5.3"/>
<rect x="224.5" y="436.3" width="5.3" height="5.3"/>
<rect x="200.2" y="482.6" width="5.3" height="5.3"/>
<rect x="231.9" y="431.8" width="5.3" height="5.3"/>
<rect x="295.2" y="508.6" width="5.3" height="5.3"/>
<rect x="255.0" y="471.5" width="5.3" height="5.3"/>
<rect x="200.9" y="443.3" width="5.3" height="5.3"/>
<rect x="256.9" y="466.6" width="5.3" height="5.3"/>
<rect x="240.9" y="441.1" width="5.3" height="5.3"/>
<rect x="246.6" y="468.8" width="5.3" height="5.3"/>
<rect x="203.5" y="462.3" width="5.3" height="5.3"/>
<rect x="251.2" y="444.0" width="5.3" height="5.3"/>
<rect x="242.5" y="479.9" width="5.3" height="5.3"/>
<rect x="251.1" y="451.1" width="5.3" height="5.3"/>
<rect x="217.0" y="452.9" width="5.3" height="5.3"/>
<rect x="216.5" y="449.1" width="5.3" height="5.3"/>
<rect x="266.5" y="484.5" width="5.3" height="5.3"/>
<rect x="233.0" y="435.5" width="5.3" height="5.3"/>
<rect x="200.5" y="495.2" width="5.3" height="5.3"/>
<rect x="272.2" y="463.6" width="5.3" height="5.3"/>
<rect x="243.8" y="450.8" width="5.3" height="5.3"/>
<rect x="207.4" y="464.9" width="5.3" height="5.3"/>
<rect x="239.9" y="449.2" width="5.3" height="5.3"/>
<rect x="201.0" y="439.1" width="5.3" height="5.3"/>
<rect x="264.9" y="456.3" width="5.3" height="5.3"/>
<rect x="294.6" y="501.5" width="5.3" height="5.3"/>
<rect x="271.0" y="473.8" width="5.3" height="5.3"/>
<rect x="202.0" y="439.2" width="5.3" height="5.3"/>
<rect x="272.9" y="475.2" width="5.3" height="5.3"/>
<rect x="259.2" y="452.0" width="5.3" height="5.3"/>
<rect x="216.0" y="444.4" width="5.3" height="5.3"/>
<rect x="197.1" y="489.3" width="5.3" height="5.3"/>
<rect x="199.9" y="473.2" width="5.3" height="5.3"/>
<rect x="202.2" y="444.8" width="5.3" height="5.3"/>
<rect x="198.9" y="464.5" width="5.3" height="5.3"/>
<rect x="196.5" y="447.7" width="5.3" height="5.3"/>
<rect x="201.9" y="500.5" width="5.3" height="5.3"/>
<rect x="201.9" y="496.6" width="5.3" height="5.3"/>
<rect x="201.8" y="486.6" width="5.3" height="5.3"/>
<rect x="202.0" y="499.7" width="5.3" height="5.3"/>
<rect x="199.2" y="445.2" width="5.3" height="5.3"/>
<rect x="197.3" y="453.4" width="5.3" height="5.3"/>
<rect x="198.7" y="473.0" width="5.3" height="5.3"/>
<rect x="199.4" y="469.8" width="5.3" height="5.3"/>
<rect x="196.5" y="479.5" width="5.3" height="5.3"/>
<rect x="192.3" y="519.0" width="5.3" height="5.3"/>
<rect x="194.8" y="519.0" width="5.3" height="5.3"/>
<rect x="197.3" y="519.0" width="5.3" height="5.3"/>
<rect x="199.8" y="519.0" width="5.3" height="5.3"/>
<rect x="202.3" y="519.0" width="5.3" height="5.3"/>
<rect x="204.8" y="519.0" width="5.3" height="5.3"/>
<rect x="207.3" y="519.0" width="5.3" height="5.3"/>
<rect x="209.8" y="519.0" width="5.3" height="5.3"/>
<rect x="212.3" y="519.0" width="5.3" height="5.3"/>
<rect x="214.8" y="519.0" width="5.3" height="5.3"/>
<rect x="217.3" y="519.0" width="5.3" height="5.3"/>
<rect x="219.8" y="519.0" width="5.3" height="5.3"/>
<rect x="222.3" y="519.0" width="5.3" height="5.3"/>
<rect x="224.8" y="519.0" width="5.3" height="5.3"/>
<rect x="227.3" y="519.0" width="5.3" height="5.3"/>
<rect x="229.8" y="519.0" width="5.3" height="5.3"/>
<rect x="232.3" y="519.0" width="5.3" height="5.3"/>
<rect x="234.8" y="519.0" width="5.3" height="5.3"/>
<rect x="237.3" y="519.0" width="5.3" height="5.3"/>
<rect x="239.8" y="519.0" width="5.3" height="5.3"/>
<rect x="242.3" y="519.0" width="5.3" height="5.3"/>
<rect x="244.8" y="519.0" width="5.3" height="5.3"/>
<rect x="247.3" y="519.0" width="5.3" height="5.3"/>
<rect x="249.8" y="519.0" width="5.3" height="5.3"/>
<rect x="252.3" y="519.0" width="5.3" height="5.3"/>
<rect x="254.8" y="519.0" width="5.3" height="5.3"/>
<rect x="181.7" y="532.6" width="5.3" height="5.3"/>
<rect x="183.8" y="532.6" width="5.3" height="5.3"/>
<rect x="186.0" y="532.6" width="5.3" height="5.3"/>
<rect x="188.2" y="532.6" width="5.3" height="5.3"/>
<rect x="190.4" y="532.6" width="5.3" height="5.3"/>
<rect x="192.7" y="532.6" width="5.3" height="5.3"/>
<rect x="194.8" y="532.6" width="5.3" height="5.3"/>
<rect x="197.0" y="532.6" width="5.3" height="5.3"/>
<rect x="199.2" y="532.6" width="5.3" height="5.3"/>
<rect x="201.4" y="532.6" width="5.3" height="5.3"/>
<rect x="203.7" y="532.6" width="5.3" height="5.3"/>
<rect x="205.8" y="532.6" width="5.3" height="5.3"/>
<rect x="208.0" y="532.6" width="5.3" height="5.3"/>
<rect x="210.2" y="532.6" width="5.3" height="5.3"/>
<rect x="212.4" y="532.6" width="5.3" height="5.3"/>
<rect x="214.7" y="532.6" width="5.3" height="5.3"/>
<rect x="216.8" y="532.6" width="5.3" height="5.3"/>
<rect x="219.0" y="532.6" width="5.3" height="5.3"/>
<rect x="221.2" y="532.6" width="5.3" height="5.3"/>
<rect x="223.4" y="532.6" width="5.3" height="5.3"/>
<rect x="225.7" y="532.6" width="5.3" height="5.3"/>
<rect x="227.8" y="532.6" width="5.3" height="5.3"/>
<rect x="230.0" y="532.6" width="5.3" height="5.3"/>
<rect x="232.2" y="532.6" width="5.3" height="5.3"/>
<rect x="234.4" y="532.6" width="5.3" height="5.3"/>
<rect x="236.7" y="532.6" width="5.3" height="5.3"/>
<rect x="238.8" y="532.6" width="5.3" height="5.3"/>
<rect x="241.0" y="532.6" width="5.3" height="5.3"/>
<rect x="217.1" y="480.8" width="5.3" height="5.3"/>
<rect x="226.4" y="509.4" width="5.3" height="5.3"/>
<rect x="212.7" y="495.2" width="5.3" height="5.3"/>
<rect x="223.2" y="489.7" width="5.3" height="5.3"/>
<rect x="243.6" y="514.8" width="5.3" height="5.3"/>
<rect x="218.3" y="535.8" width="5.3" height="5.3"/>
<rect x="217.0" y="525.7" width="5.3" height="5.3"/>
<rect x="227.9" y="508.6" width="5.3" height="5.3"/>
<rect x="234.7" y="490.8" width="5.3" height="5.3"/>
<rect x="215.2" y="356.2" width="5.3" height="5.3"/>
<rect x="212.5" y="359.0" width="5.3" height="5.3"/>
<rect x="207.8" y="370.4" width="5.3" height="5.3"/>
<rect x="209.8" y="372.5" width="5.3" height="5.3"/>
<rect x="216.2" y="368.7" width="5.3" height="5.3"/>
<rect x="237.2" y="369.4" width="5.3" height="5.3"/>
<rect x="205.8" y="379.9" width="5.3" height="5.3"/>
<rect x="219.9" y="380.2" width="5.3" height="5.3"/>
<rect x="229.4" y="380.6" width="5.3" height="5.3"/>
<rect x="228.8" y="384.0" width="5.3" height="5.3"/>
<rect x="235.4" y="378.6" width="5.3" height="5.3"/>
<rect x="183.2" y="384.9" width="5.3" height="5.3"/>
<rect x="202.8" y="389.8" width="5.3" height="5.3"/>
<rect x="222.7" y="391.4" width="5.3" height="5.3"/>
<rect x="226.0" y="393.4" width="5.3" height="5.3"/>
<rect x="231.4" y="397.4" width="5.3" height="5.3"/>
<rect x="234.2" y="400.8" width="5.3" height="5.3"/>
<rect x="240.4" y="398.8" width="5.3" height="5.3"/>
<rect x="248.3" y="399.5" width="5.3" height="5.3"/>
<rect x="255.0" y="404.9" width="5.3" height="5.3"/>
<rect x="256.4" y="410.2" width="5.3" height="5.3"/>
<rect x="224.7" y="404.2" width="5.3" height="5.3"/>
<rect x="225.3" y="408.2" width="5.3" height="5.3"/>
<rect x="222.7" y="407.6" width="5.3" height="5.3"/>
<rect x="238.8" y="408.2" width="5.3" height="5.3"/>
<rect x="242.2" y="410.9" width="5.3" height="5.3"/>
<rect x="205.2" y="421.7" width="5.3" height="5.3"/>
<rect x="218.7" y="415.7" width="5.3" height="5.3"/>
<rect x="221.3" y="418.4" width="5.3" height="5.3"/>
<rect x="238.8" y="424.4" width="5.3" height="5.3"/>
<rect x="196.3" y="425.1" width="5.3" height="5.3"/>
<rect x="241.0" y="424.9" width="5.3" height="5.3"/>
<rect x="245.5" y="430.9" width="5.3" height="5.3"/>
<rect x="249.3" y="433.9" width="5.3" height="5.3"/>
<rect x="253.0" y="437.6" width="5.3" height="5.3"/>
<rect x="255.3" y="442.1" width="5.3" height="5.3"/>
<rect x="277.1" y="445.1" width="5.3" height="5.3"/>
<rect x="259.4" y="449.4" width="5.3" height="5.3"/>
<rect x="263.4" y="454.4" width="5.3" height="5.3"/>
<rect x="267.4" y="452.4" width="5.3" height="5.3"/>
<rect x="261.4" y="459.4" width="5.3" height="5.3"/>
<rect x="255.3" y="458.4" width="5.3" height="5.3"/>
<rect x="247.3" y="461.4" width="5.3" height="5.3"/>
<rect x="253.3" y="464.4" width="5.3" height="5.3"/>
<rect x="273.4" y="462.4" width="5.3" height="5.3"/>
<rect x="288.1" y="464.6" width="5.3" height="5.3"/>
<rect x="283.9" y="475.1" width="5.3" height="5.3"/>
<rect x="281.6" y="481.1" width="5.3" height="5.3"/>
<rect x="292.6" y="481.1" width="5.3" height="5.3"/>
<rect x="280.9" y="493.9" width="5.3" height="5.3"/>
<rect x="285.4" y="493.9" width="5.3" height="5.3"/>
<rect x="281.6" y="496.9" width="5.3" height="5.3"/>
<rect x="274.1" y="499.1" width="5.3" height="5.3"/>
<rect x="312.4" y="495.4" width="5.3" height="5.3"/>
<rect x="310.9" y="501.4" width="5.3" height="5.3"/>
<rect x="316.9" y="492.4" width="5.3" height="5.3"/>
<rect x="328.9" y="498.4" width="5.3" height="5.3"/>
<rect x="328.9" y="503.6" width="5.3" height="5.3"/>
<rect x="297.4" y="505.9" width="5.3" height="5.3"/>
<rect x="300.4" y="507.4" width="5.3" height="5.3"/>
<rect x="300.4" y="515.9" width="5.3" height="5.3"/>
<rect x="310.1" y="515.9" width="5.3" height="5.3"/>
<rect x="80.8" y="519.0" width="5.3" height="5.3"/>
<rect x="164.2" y="519.0" width="5.3" height="5.3"/>
<rect x="173.2" y="519.0" width="5.3" height="5.3"/>
<rect x="188.2" y="519.0" width="5.3" height="5.3"/>
<rect x="161.7" y="532.6" width="5.3" height="5.3"/>
<rect x="170.2" y="532.6" width="5.3" height="5.3"/>
<rect x="176.8" y="532.6" width="5.3" height="5.3"/>
</g>
<g fill="#00B534">
<path d="M254.6 513.8l3.85 6.6h-7.7z"/>
<path d="M266.8 477.3l3.85 6.6h-7.7z"/>
<path d="M224.6 444.0l3.85 6.6h-7.7z"/>
<path d="M281.1 488.6l3.85 6.6h-7.7z"/>
<path d="M255.6 481.7l3.85 6.6h-7.7z"/>
<path d="M261.7 523.8l3.85 6.6h-7.7z"/>
<path d="M252.7 518.4l3.85 6.6h-7.7z"/>
<path d="M278.0 518.1l3.85 6.6h-7.7z"/>
<path d="M201.2 499.9l3.85 6.6h-7.7z"/>
<path d="M281.0 480.6l3.85 6.6h-7.7z"/>
<path d="M275.1 460.0l3.85 6.6h-7.7z"/>
<path d="M287.7 513.5l3.85 6.6h-7.7z"/>
<path d="M267.1 460.8l3.85 6.6h-7.7z"/>
<path d="M278.5 477.5l3.85 6.6h-7.7z"/>
<path d="M316.2 507.6l3.85 6.6h-7.7z"/>
<path d="M204.0 476.5l3.85 6.6h-7.7z"/>
<path d="M268.7 474.7l3.85 6.6h-7.7z"/>
<path d="M239.6 441.2l3.85 6.6h-7.7z"/>
<path d="M253.7 485.6l3.85 6.6h-7.7z"/>
<path d="M253.5 460.5l3.85 6.6h-7.7z"/>
<path d="M258.8 460.6l3.85 6.6h-7.7z"/>
<path d="M261.5 476.3l3.85 6.6h-7.7z"/>
<path d="M199.2 464.5l3.85 6.6h-7.7z"/>
<path d="M247.3 432.1l3.85 6.6h-7.7z"/>
<path d="M212.9 445.7l3.85 6.6h-7.7z"/>
<path d="M257.7 519.7l3.85 6.6h-7.7z"/>
<path d="M273.1 453.2l3.85 6.6h-7.7z"/>
<path d="M215.4 445.7l3.85 6.6h-7.7z"/>
<path d="M211.3 430.8l3.85 6.6h-7.7z"/>
<path d="M254.3 478.3l3.85 6.6h-7.7z"/>
<path d="M238.1 447.1l3.85 6.6h-7.7z"/>
<path d="M239.8 422.5l3.85 6.6h-7.7z"/>
<path d="M255.9 467.1l3.85 6.6h-7.7z"/>
<path d="M226.5 431.3l3.85 6.6h-7.7z"/>
<path d="M258.9 499.5l3.85 6.6h-7.7z"/>
<path d="M273.7 462.9l3.85 6.6h-7.7z"/>
<path d="M250.9 474.8l3.85 6.6h-7.7z"/>
<path d="M249.3 482.1l3.85 6.6h-7.7z"/>
<path d="M265.5 479.3l3.85 6.6h-7.7z"/>
<path d="M248.6 456.5l3.85 6.6h-7.7z"/>
<path d="M238.5 452.9l3.85 6.6h-7.7z"/>
<path d="M282.4 499.8l3.85 6.6h-7.7z"/>
<path d="M257.0 498.8l3.85 6.6h-7.7z"/>
<path d="M261.7 484.8l3.85 6.6h-7.7z"/>
<path d="M254.8 514.2l3.85 6.6h-7.7z"/>
<path d="M240.7 433.1l3.85 6.6h-7.7z"/>
<path d="M234.3 424.2l3.85 6.6h-7.7z"/>
<path d="M274.3 491.8l3.85 6.6h-7.7z"/>
<path d="M205.6 448.1l3.85 6.6h-7.7z"/>
<path d="M280.2 492.4l3.85 6.6h-7.7z"/>
<path d="M264.5 485.2l3.85 6.6h-7.7z"/>
<path d="M204.0 456.2l3.85 6.6h-7.7z"/>
<path d="M288.9 510.5l3.85 6.6h-7.7z"/>
<path d="M200.9 474.4l3.85 6.6h-7.7z"/>
<path d="M221.8 421.7l3.85 6.6h-7.7z"/>
<path d="M219.8 438.8l3.85 6.6h-7.7z"/>
<path d="M249.6 438.2l3.85 6.6h-7.7z"/>
<path d="M195.0 517.5l3.85 6.6h-7.7z"/>
<path d="M197.5 517.5l3.85 6.6h-7.7z"/>
<path d="M200.0 517.5l3.85 6.6h-7.7z"/>
<path d="M202.5 517.5l3.85 6.6h-7.7z"/>
<path d="M205.0 517.5l3.85 6.6h-7.7z"/>
<path d="M207.5 517.5l3.85 6.6h-7.7z"/>
<path d="M210.0 517.5l3.85 6.6h-7.7z"/>
<path d="M212.5 517.5l3.85 6.6h-7.7z"/>
<path d="M215.0 517.5l3.85 6.6h-7.7z"/>
<path d="M217.5 517.5l3.85 6.6h-7.7z"/>
<path d="M220.0 517.5l3.85 6.6h-7.7z"/>
<path d="M222.5 517.5l3.85 6.6h-7.7z"/>
<path d="M225.0 517.5l3.85 6.6h-7.7z"/>
<path d="M227.5 517.5l3.85 6.6h-7.7z"/>
<path d="M230.0 517.5l3.85 6.6h-7.7z"/>
<path d="M232.5 517.5l3.85 6.6h-7.7z"/>
<path d="M235.0 517.5l3.85 6.6h-7.7z"/>
<path d="M237.5 517.5l3.85 6.6h-7.7z"/>
<path d="M240.0 517.5l3.85 6.6h-7.7z"/>
<path d="M242.5 517.5l3.85 6.6h-7.7z"/>
<path d="M245.0 517.5l3.85 6.6h-7.7z"/>
<path d="M247.5 517.5l3.85 6.6h-7.7z"/>
<path d="M250.0 517.5l3.85 6.6h-7.7z"/>
<path d="M252.5 517.5l3.85 6.6h-7.7z"/>
<path d="M255.0 517.5l3.85 6.6h-7.7z"/>
<path d="M257.5 517.5l3.85 6.6h-7.7z"/>
<path d="M184.3 531.2l3.85 6.6h-7.7z"/>
<path d="M186.5 531.2l3.85 6.6h-7.7z"/>
<path d="M188.7 531.2l3.85 6.6h-7.7z"/>
<path d="M190.9 531.2l3.85 6.6h-7.7z"/>
<path d="M193.1 531.2l3.85 6.6h-7.7z"/>
<path d="M195.3 531.2l3.85 6.6h-7.7z"/>
<path d="M197.5 531.2l3.85 6.6h-7.7z"/>
<path d="M199.7 531.2l3.85 6.6h-7.7z"/>
<path d="M201.9 531.2l3.85 6.6h-7.7z"/>
<path d="M204.1 531.2l3.85 6.6h-7.7z"/>
<path d="M206.3 531.2l3.85 6.6h-7.7z"/>
<path d="M208.5 531.2l3.85 6.6h-7.7z"/>
<path d="M210.7 531.2l3.85 6.6h-7.7z"/>
<path d="M212.9 531.2l3.85 6.6h-7.7z"/>
<path d="M215.1 531.2l3.85 6.6h-7.7z"/>
<path d="M217.3 531.2l3.85 6.6h-7.7z"/>
<path d="M219.5 531.2l3.85 6.6h-7.7z"/>
<path d="M221.7 531.2l3.85 6.6h-7.7z"/>
<path d="M223.9 531.2l3.85 6.6h-7.7z"/>
<path d="M226.1 531.2l3.85 6.6h-7.7z"/>
<path d="M228.3 531.2l3.85 6.6h-7.7z"/>
<path d="M230.5 531.2l3.85 6.6h-7.7z"/>
<path d="M232.7 531.2l3.85 6.6h-7.7z"/>
<path d="M234.9 531.2l3.85 6.6h-7.7z"/>
<path d="M237.1 531.2l3.85 6.6h-7.7z"/>
<path d="M239.3 531.2l3.85 6.6h-7.7z"/>
<path d="M241.5 531.2l3.85 6.6h-7.7z"/>
<path d="M243.7 531.2l3.85 6.6h-7.7z"/>
<path d="M226.3 525.4l3.85 6.6h-7.7z"/>
<path d="M217.2 504.2l3.85 6.6h-7.7z"/>
<path d="M234.7 520.8l3.85 6.6h-7.7z"/>
<path d="M228.7 488.8l3.85 6.6h-7.7z"/>
<path d="M191.7 528.0l3.85 6.6h-7.7z"/>
<path d="M216.1 503.2l3.85 6.6h-7.7z"/>
<path d="M229.9 504.6l3.85 6.6h-7.7z"/>
<path d="M223.2 487.7l3.85 6.6h-7.7z"/>
<path d="M241.3 507.5l3.85 6.6h-7.7z"/>
<path d="M233.7 522.2l3.85 6.6h-7.7z"/>
<path d="M241.2 493.6l3.85 6.6h-7.7z"/>
<path d="M232.3 512.8l3.85 6.6h-7.7z"/>
<path d="M219.3 374.4l3.85 6.6h-7.7z"/>
<path d="M214.5 388.6l3.85 6.6h-7.7z"/>
<path d="M212.1 406.8l3.85 6.6h-7.7z"/>
<path d="M218.3 404.7l3.85 6.6h-7.7z"/>
<path d="M238.8 413.5l3.85 6.6h-7.7z"/>
<path d="M210.5 416.2l3.85 6.6h-7.7z"/>
<path d="M229.4 413.5l3.85 6.6h-7.7z"/>
<path d="M199.0 422.1l3.85 6.6h-7.7z"/>
<path d="M185.9 431.4l3.85 6.6h-7.7z"/>
<path d="M201.6 464.5l3.85 6.6h-7.7z"/>
<path d="M250.5 439.1l3.85 6.6h-7.7z"/>
<path d="M250.5 469.1l3.85 6.6h-7.7z"/>
<path d="M256.0 480.6l3.85 6.6h-7.7z"/>
<path d="M262.0 481.6l3.85 6.6h-7.7z"/>
<path d="M268.0 480.6l3.85 6.6h-7.7z"/>
<path d="M273.0 482.6l3.85 6.6h-7.7z"/>
<path d="M279.7 475.8l3.85 6.6h-7.7z"/>
<path d="M295.5 496.1l3.85 6.6h-7.7z"/>
<path d="M320.2 501.3l3.85 6.6h-7.7z"/>
<path d="M331.5 505.6l3.85 6.6h-7.7z"/>
<path d="M283.5 502.1l3.85 6.6h-7.7z"/>
<path d="M285.0 508.1l3.85 6.6h-7.7z"/>
<path d="M267.0 506.6l3.85 6.6h-7.7z"/>
<path d="M302.9 515.6l3.85 6.6h-7.7z"/>
<path d="M313.0 515.6l3.85 6.6h-7.7z"/>
<path d="M83.4 517.5l3.85 6.6h-7.7z"/>
<path d="M166.9 517.5l3.85 6.6h-7.7z"/>
<path d="M175.8 517.5l3.85 6.6h-7.7z"/>
<path d="M190.9 517.5l3.85 6.6h-7.7z"/>
<path d="M164.3 531.2l3.85 6.6h-7.7z"/>
<path d="M172.9 531.2l3.85 6.6h-7.7z"/>
<path d="M179.5 531.2l3.85 6.6h-7.7z"/>
</g>
<g fill="#F9655A">
<circle cx="299.4" cy="513.2" r="2.95"/>
<circle cx="231.0" cy="458.4" r="2.95"/>
<circle cx="262.3" cy="496.0" r="2.95"/>
<circle cx="292.1" cy="508.4" r="2.95"/>
<circle cx="292.8" cy="505.2" r="2.95"/>
<circle cx="267.0" cy="479.9" r="2.95"/>
<circle cx="269.7" cy="508.5" r="2.95"/>
<circle cx="222.0" cy="467.7" r="2.95"/>
<circle cx="287.2" cy="492.9" r="2.95"/>
<circle cx="311.8" cy="507.7" r="2.95"/>
<circle cx="251.4" cy="480.5" r="2.95"/>
<circle cx="255.9" cy="488.0" r="2.95"/>
<circle cx="301.6" cy="514.6" r="2.95"/>
<circle cx="317.4" cy="510.4" r="2.95"/>
<circle cx="260.7" cy="483.0" r="2.95"/>
<circle cx="227.1" cy="461.7" r="2.95"/>
<circle cx="307.9" cy="507.4" r="2.95"/>
<circle cx="230.3" cy="483.5" r="2.95"/>
<circle cx="254.7" cy="443.9" r="2.95"/>
<circle cx="281.2" cy="519.2" r="2.95"/>
<circle cx="261.8" cy="488.6" r="2.95"/>
<circle cx="299.5" cy="502.1" r="2.95"/>
<circle cx="279.6" cy="510.1" r="2.95"/>
<circle cx="238.4" cy="449.5" r="2.95"/>
<circle cx="292.8" cy="503.2" r="2.95"/>
<circle cx="221.8" cy="453.3" r="2.95"/>
<circle cx="264.5" cy="490.0" r="2.95"/>
<circle cx="255.7" cy="506.1" r="2.95"/>
<circle cx="222.8" cy="475.5" r="2.95"/>
<circle cx="275.2" cy="506.5" r="2.95"/>
<circle cx="260.7" cy="495.7" r="2.95"/>
<circle cx="268.8" cy="500.8" r="2.95"/>
<circle cx="261.3" cy="485.3" r="2.95"/>
<circle cx="280.7" cy="492.9" r="2.95"/>
<circle cx="212.7" cy="465.5" r="2.95"/>
<circle cx="273.4" cy="492.9" r="2.95"/>
<circle cx="218.7" cy="460.4" r="2.95"/>
<circle cx="275.2" cy="501.1" r="2.95"/>
<circle cx="284.0" cy="508.8" r="2.95"/>
<circle cx="297.1" cy="508.8" r="2.95"/>
<circle cx="288.1" cy="511.1" r="2.95"/>
<circle cx="283.6" cy="516.4" r="2.95"/>
<circle cx="245.3" cy="481.3" r="2.95"/>
<circle cx="280.9" cy="501.3" r="2.95"/>
<circle cx="289.9" cy="503.0" r="2.95"/>
<circle cx="231.6" cy="472.5" r="2.95"/>
<circle cx="251.4" cy="510.7" r="2.95"/>
<circle cx="212.6" cy="443.3" r="2.95"/>
<circle cx="255.2" cy="486.3" r="2.95"/>
<circle cx="235.5" cy="469.0" r="2.95"/>
<circle cx="213.1" cy="481.7" r="2.95"/>
<circle cx="242.4" cy="479.5" r="2.95"/>
<circle cx="250.1" cy="510.9" r="2.95"/>
<circle cx="252.2" cy="478.9" r="2.95"/>
<circle cx="220.9" cy="422.1" r="2.95"/>
<circle cx="215.0" cy="465.6" r="2.95"/>
<circle cx="266.2" cy="484.5" r="2.95"/>
<circle cx="219.8" cy="473.0" r="2.95"/>
<circle cx="257.4" cy="510.7" r="2.95"/>
<circle cx="298.9" cy="500.4" r="2.95"/>
<circle cx="252.1" cy="509.9" r="2.95"/>
<circle cx="261.6" cy="491.1" r="2.95"/>
<circle cx="239.1" cy="491.3" r="2.95"/>
<circle cx="240.0" cy="480.4" r="2.95"/>
<circle cx="258.3" cy="525.9" r="2.95"/>
<circle cx="265.4" cy="488.9" r="2.95"/>
<circle cx="202.2" cy="426.1" r="2.95"/>
<circle cx="282.0" cy="518.4" r="2.95"/>
<circle cx="210.8" cy="484.7" r="2.95"/>
<circle cx="221.5" cy="459.5" r="2.95"/>
<circle cx="241.9" cy="425.0" r="2.95"/>
<circle cx="279.4" cy="507.9" r="2.95"/>
<circle cx="211.5" cy="481.9" r="2.95"/>
<circle cx="259.7" cy="486.1" r="2.95"/>
<circle cx="208.0" cy="468.7" r="2.95"/>
<circle cx="286.5" cy="498.7" r="2.95"/>
<circle cx="288.5" cy="505.9" r="2.95"/>
<circle cx="247.8" cy="486.4" r="2.95"/>
<circle cx="311.0" cy="505.7" r="2.95"/>
<circle cx="229.7" cy="431.8" r="2.95"/>
<circle cx="288.6" cy="503.3" r="2.95"/>
<circle cx="232.9" cy="470.1" r="2.95"/>
<circle cx="248.8" cy="439.4" r="2.95"/>
<circle cx="268.3" cy="484.5" r="2.95"/>
<circle cx="256.1" cy="482.3" r="2.95"/>
<circle cx="220.3" cy="464.0" r="2.95"/>
<circle cx="281.8" cy="504.4" r="2.95"/>
<circle cx="271.8" cy="470.1" r="2.95"/>
<circle cx="281.0" cy="499.9" r="2.95"/>
<circle cx="254.9" cy="460.3" r="2.95"/>
<circle cx="280.4" cy="491.0" r="2.95"/>
<circle cx="274.6" cy="507.0" r="2.95"/>
<circle cx="241.4" cy="469.9" r="2.95"/>
<circle cx="301.9" cy="507.4" r="2.95"/>
<circle cx="218.8" cy="464.5" r="2.95"/>
<circle cx="255.8" cy="473.9" r="2.95"/>
<circle cx="228.4" cy="469.5" r="2.95"/>
<circle cx="241.3" cy="466.4" r="2.95"/>
<circle cx="259.0" cy="522.0" r="2.95"/>
<circle cx="289.2" cy="509.7" r="2.95"/>
<circle cx="294.8" cy="502.6" r="2.95"/>
<circle cx="277.3" cy="511.8" r="2.95"/>
<circle cx="267.7" cy="489.5" r="2.95"/>
<circle cx="259.2" cy="518.2" r="2.95"/>
<circle cx="256.2" cy="508.9" r="2.95"/>
<circle cx="247.1" cy="487.8" r="2.95"/>
<circle cx="275.6" cy="493.3" r="2.95"/>
<circle cx="289.8" cy="513.9" r="2.95"/>
<circle cx="280.9" cy="520.3" r="2.95"/>
<circle cx="297.5" cy="508.8" r="2.95"/>
<circle cx="202.2" cy="473.1" r="2.95"/>
<circle cx="218.0" cy="470.2" r="2.95"/>
<circle cx="269.8" cy="485.7" r="2.95"/>
<circle cx="293.1" cy="515.7" r="2.95"/>
<circle cx="261.5" cy="522.0" r="2.95"/>
<circle cx="255.4" cy="520.6" r="2.95"/>
<circle cx="256.6" cy="528.2" r="2.95"/>
<circle cx="291.2" cy="515.9" r="2.95"/>
<circle cx="225.4" cy="477.2" r="2.95"/>
<circle cx="274.9" cy="494.9" r="2.95"/>
<circle cx="215.0" cy="471.5" r="2.95"/>
<circle cx="267.7" cy="512.3" r="2.95"/>
<circle cx="303.5" cy="513.3" r="2.95"/>
<circle cx="226.2" cy="476.1" r="2.95"/>
<circle cx="220.2" cy="471.3" r="2.95"/>
<circle cx="241.0" cy="476.0" r="2.95"/>
<circle cx="283.5" cy="519.7" r="2.95"/>
<circle cx="251.2" cy="519.4" r="2.95"/>
<circle cx="264.4" cy="499.3" r="2.95"/>
<circle cx="240.9" cy="472.9" r="2.95"/>
<circle cx="254.4" cy="499.9" r="2.95"/>
<circle cx="219.3" cy="467.2" r="2.95"/>
<circle cx="264.6" cy="505.3" r="2.95"/>
<circle cx="209.2" cy="436.4" r="2.95"/>
<circle cx="257.7" cy="519.0" r="2.95"/>
<circle cx="262.9" cy="501.8" r="2.95"/>
<circle cx="225.6" cy="460.9" r="2.95"/>
<circle cx="235.8" cy="479.5" r="2.95"/>
<circle cx="289.0" cy="500.2" r="2.95"/>
<circle cx="234.7" cy="466.1" r="2.95"/>
<circle cx="253.2" cy="510.5" r="2.95"/>
<circle cx="252.9" cy="523.5" r="2.95"/>
<circle cx="234.6" cy="463.9" r="2.95"/>
<circle cx="310.7" cy="513.7" r="2.95"/>
<circle cx="265.2" cy="498.0" r="2.95"/>
<circle cx="270.6" cy="493.0" r="2.95"/>
<circle cx="312.9" cy="514.1" r="2.95"/>
<circle cx="236.9" cy="464.9" r="2.95"/>
<circle cx="257.9" cy="480.3" r="2.95"/>
<circle cx="210.3" cy="466.6" r="2.95"/>
<circle cx="309.5" cy="508.0" r="2.95"/>
<circle cx="244.1" cy="487.8" r="2.95"/>
<circle cx="217.7" cy="465.9" r="2.95"/>
<circle cx="263.0" cy="489.5" r="2.95"/>
<circle cx="230.4" cy="465.8" r="2.95"/>
<circle cx="230.4" cy="420.9" r="2.95"/>
<circle cx="254.5" cy="488.1" r="2.95"/>
<circle cx="258.0" cy="518.6" r="2.95"/>
<circle cx="271.5" cy="510.1" r="2.95"/>
<circle cx="232.2" cy="467.1" r="2.95"/>
<circle cx="232.1" cy="481.2" r="2.95"/>
<circle cx="283.0" cy="517.9" r="2.95"/>
<circle cx="251.2" cy="481.6" r="2.95"/>
<circle cx="221.9" cy="458.3" r="2.95"/>
<circle cx="277.5" cy="500.2" r="2.95"/>
<circle cx="310.9" cy="506.5" r="2.95"/>
<circle cx="252.4" cy="499.4" r="2.95"/>
<circle cx="244.8" cy="467.0" r="2.95"/>
<circle cx="245.9" cy="467.3" r="2.95"/>
<circle cx="270.4" cy="521.3" r="2.95"/>
<circle cx="215.9" cy="475.6" r="2.95"/>
<circle cx="261.5" cy="523.7" r="2.95"/>
<circle cx="254.1" cy="513.9" r="2.95"/>
<circle cx="305.4" cy="514.4" r="2.95"/>
<circle cx="231.5" cy="482.0" r="2.95"/>
<circle cx="224.0" cy="458.2" r="2.95"/>
<circle cx="275.3" cy="498.0" r="2.95"/>
<circle cx="266.0" cy="522.6" r="2.95"/>
<circle cx="265.9" cy="505.1" r="2.95"/>
<circle cx="276.4" cy="489.0" r="2.95"/>
<circle cx="297.7" cy="515.6" r="2.95"/>
<circle cx="221.2" cy="451.3" r="2.95"/>
<circle cx="294.4" cy="502.8" r="2.95"/>
<circle cx="292.1" cy="498.7" r="2.95"/>
<circle cx="292.5" cy="512.5" r="2.95"/>
<circle cx="256.7" cy="462.0" r="2.95"/>
<circle cx="268.2" cy="518.2" r="2.95"/>
<circle cx="279.3" cy="488.5" r="2.95"/>
<circle cx="265.1" cy="503.3" r="2.95"/>
<circle cx="281.4" cy="503.2" r="2.95"/>
<circle cx="259.0" cy="496.6" r="2.95"/>
<circle cx="262.8" cy="497.4" r="2.95"/>
<circle cx="224.9" cy="429.1" r="2.95"/>
<circle cx="265.3" cy="519.9" r="2.95"/>
<circle cx="279.0" cy="488.3" r="2.95"/>
<circle cx="269.1" cy="483.8" r="2.95"/>
<circle cx="275.3" cy="486.5" r="2.95"/>
<circle cx="272.6" cy="504.8" r="2.95"/>
<circle cx="288.4" cy="497.1" r="2.95"/>
<circle cx="236.6" cy="474.6" r="2.95"/>
<circle cx="274.3" cy="509.9" r="2.95"/>
<circle cx="254.2" cy="504.6" r="2.95"/>
<circle cx="209.2" cy="462.7" r="2.95"/>
<circle cx="278.3" cy="517.3" r="2.95"/>
<circle cx="244.6" cy="460.6" r="2.95"/>
<circle cx="219.3" cy="467.2" r="2.95"/>
<circle cx="294.6" cy="504.9" r="2.95"/>
<circle cx="259.8" cy="491.3" r="2.95"/>
<circle cx="212.8" cy="479.5" r="2.95"/>
<circle cx="233.6" cy="429.3" r="2.95"/>
<circle cx="252.3" cy="509.1" r="2.95"/>
<circle cx="291.7" cy="513.6" r="2.95"/>
<circle cx="261.3" cy="496.5" r="2.95"/>
<circle cx="263.8" cy="518.8" r="2.95"/>
<circle cx="267.4" cy="494.3" r="2.95"/>
<circle cx="236.9" cy="487.6" r="2.95"/>
<circle cx="286.4" cy="506.0" r="2.95"/>
<circle cx="280.8" cy="512.5" r="2.95"/>
<circle cx="282.9" cy="513.0" r="2.95"/>
<circle cx="247.9" cy="480.7" r="2.95"/>
<circle cx="291.6" cy="517.0" r="2.95"/>
<circle cx="212.6" cy="483.4" r="2.95"/>
<circle cx="289.2" cy="518.6" r="2.95"/>
<circle cx="278.4" cy="481.7" r="2.95"/>
<circle cx="299.7" cy="501.5" r="2.95"/>
<circle cx="282.9" cy="518.6" r="2.95"/>
<circle cx="258.3" cy="486.7" r="2.95"/>
<circle cx="281.3" cy="508.7" r="2.95"/>
<circle cx="312.0" cy="512.4" r="2.95"/>
<circle cx="272.4" cy="519.0" r="2.95"/>
<circle cx="260.6" cy="488.5" r="2.95"/>
<circle cx="258.4" cy="518.1" r="2.95"/>
<circle cx="254.5" cy="506.9" r="2.95"/>
<circle cx="276.7" cy="487.4" r="2.95"/>
<circle cx="305.5" cy="512.5" r="2.95"/>
<circle cx="288.5" cy="510.5" r="2.95"/>
<circle cx="305.9" cy="502.8" r="2.95"/>
<circle cx="313.9" cy="514.0" r="2.95"/>
<circle cx="266.5" cy="522.2" r="2.95"/>
<circle cx="258.1" cy="483.5" r="2.95"/>
<circle cx="251.6" cy="484.3" r="2.95"/>
<circle cx="275.6" cy="490.2" r="2.95"/>
<circle cx="287.3" cy="502.8" r="2.95"/>
<circle cx="293.9" cy="510.1" r="2.95"/>
<circle cx="211.5" cy="473.6" r="2.95"/>
<circle cx="264.9" cy="482.6" r="2.95"/>
<circle cx="256.2" cy="517.7" r="2.95"/>
<circle cx="220.5" cy="459.5" r="2.95"/>
<circle cx="217.3" cy="481.9" r="2.95"/>
<circle cx="293.6" cy="516.2" r="2.95"/>
<circle cx="296.7" cy="512.5" r="2.95"/>
<circle cx="210.9" cy="475.5" r="2.95"/>
<circle cx="243.2" cy="482.8" r="2.95"/>
<circle cx="295.6" cy="504.1" r="2.95"/>
<circle cx="305.9" cy="509.1" r="2.95"/>
<circle cx="252.6" cy="508.5" r="2.95"/>
<circle cx="253.5" cy="509.1" r="2.95"/>
<circle cx="195.0" cy="521.7" r="2.95"/>
<circle cx="197.5" cy="521.3" r="2.95"/>
<circle cx="200.0" cy="521.3" r="2.95"/>
<circle cx="202.5" cy="521.8" r="2.95"/>
<circle cx="205.0" cy="522.0" r="2.95"/>
<circle cx="207.5" cy="522.1" r="2.95"/>
<circle cx="210.0" cy="521.6" r="2.95"/>
<circle cx="212.5" cy="521.8" r="2.95"/>
<circle cx="215.0" cy="522.0" r="2.95"/>
<circle cx="217.5" cy="521.9" r="2.95"/>
<circle cx="220.0" cy="522.1" r="2.95"/>
<circle cx="222.5" cy="521.3" r="2.95"/>
<circle cx="225.0" cy="521.3" r="2.95"/>
<circle cx="227.5" cy="521.2" r="2.95"/>
<circle cx="230.0" cy="521.9" r="2.95"/>
<circle cx="232.5" cy="521.2" r="2.95"/>
<circle cx="235.0" cy="521.8" r="2.95"/>
<circle cx="237.5" cy="521.1" r="2.95"/>
<circle cx="240.0" cy="521.3" r="2.95"/>
<circle cx="242.5" cy="521.4" r="2.95"/>
<circle cx="245.0" cy="522.0" r="2.95"/>
<circle cx="247.5" cy="521.9" r="2.95"/>
<circle cx="250.0" cy="521.2" r="2.95"/>
<circle cx="252.5" cy="521.9" r="2.95"/>
<circle cx="255.0" cy="521.4" r="2.95"/>
<circle cx="257.5" cy="521.5" r="2.95"/>
<circle cx="184.3" cy="535.2" r="2.95"/>
<circle cx="186.5" cy="535.4" r="2.95"/>
<circle cx="188.7" cy="535.4" r="2.95"/>
<circle cx="190.9" cy="535.5" r="2.95"/>
<circle cx="193.1" cy="535.2" r="2.95"/>
<circle cx="195.3" cy="535.6" r="2.95"/>
<circle cx="197.5" cy="535.7" r="2.95"/>
<circle cx="199.7" cy="535.2" r="2.95"/>
<circle cx="201.9" cy="535.2" r="2.95"/>
<circle cx="204.1" cy="535.5" r="2.95"/>
<circle cx="206.3" cy="534.9" r="2.95"/>
<circle cx="208.5" cy="535.0" r="2.95"/>
<circle cx="210.7" cy="535.1" r="2.95"/>
<circle cx="212.9" cy="535.2" r="2.95"/>
<circle cx="215.1" cy="535.0" r="2.95"/>
<circle cx="217.3" cy="535.0" r="2.95"/>
<circle cx="219.5" cy="535.6" r="2.95"/>
<circle cx="221.7" cy="535.5" r="2.95"/>
<circle cx="223.9" cy="535.1" r="2.95"/>
<circle cx="226.1" cy="535.5" r="2.95"/>
<circle cx="228.3" cy="535.3" r="2.95"/>
<circle cx="230.5" cy="535.4" r="2.95"/>
<circle cx="232.7" cy="535.3" r="2.95"/>
<circle cx="234.9" cy="535.7" r="2.95"/>
<circle cx="237.1" cy="535.1" r="2.95"/>
<circle cx="239.3" cy="535.6" r="2.95"/>
<circle cx="241.5" cy="535.1" r="2.95"/>
<circle cx="243.7" cy="535.8" r="2.95"/>
<circle cx="225.5" cy="501.0" r="2.95"/>
<circle cx="203.5" cy="509.9" r="2.95"/>
<circle cx="213.1" cy="528.6" r="2.95"/>
<circle cx="244.1" cy="501.5" r="2.95"/>
<circle cx="224.6" cy="493.9" r="2.95"/>
<circle cx="235.1" cy="514.6" r="2.95"/>
<circle cx="205.7" cy="494.3" r="2.95"/>
<circle cx="226.8" cy="535.2" r="2.95"/>
<circle cx="252.4" cy="520.0" r="2.95"/>
<circle cx="217.7" cy="533.8" r="2.95"/>
<circle cx="196.6" cy="536.9" r="2.95"/>
<circle cx="220.6" cy="486.0" r="2.95"/>
<circle cx="229.8" cy="498.5" r="2.95"/>
<circle cx="247.0" cy="530.9" r="2.95"/>
<circle cx="224.7" cy="508.5" r="2.95"/>
<circle cx="228.8" cy="508.4" r="2.95"/>
<circle cx="210.5" cy="495.6" r="2.95"/>
<circle cx="215.6" cy="488.9" r="2.95"/>
<circle cx="242.4" cy="539.9" r="2.95"/>
<circle cx="200.4" cy="522.4" r="2.95"/>
<circle cx="215.0" cy="508.7" r="2.95"/>
<circle cx="217.8" cy="528.2" r="2.95"/>
<circle cx="206.8" cy="504.4" r="2.95"/>
<circle cx="208.1" cy="521.6" r="2.95"/>
<circle cx="252.0" cy="501.8" r="2.95"/>
<circle cx="222.6" cy="520.9" r="2.95"/>
<circle cx="216.8" cy="521.7" r="2.95"/>
<circle cx="202.2" cy="539.1" r="2.95"/>
<circle cx="234.8" cy="487.1" r="2.95"/>
<circle cx="233.8" cy="510.3" r="2.95"/>
<circle cx="220.3" cy="495.1" r="2.95"/>
<circle cx="242.6" cy="527.3" r="2.95"/>
<circle cx="212.8" cy="509.2" r="2.95"/>
<circle cx="248.1" cy="531.9" r="2.95"/>
<circle cx="239.8" cy="501.8" r="2.95"/>
<circle cx="222.6" cy="489.1" r="2.95"/>
<circle cx="242.3" cy="490.5" r="2.95"/>
<circle cx="218.8" cy="523.9" r="2.95"/>
<circle cx="235.8" cy="539.1" r="2.95"/>
<circle cx="219.1" cy="500.4" r="2.95"/>
<circle cx="216.1" cy="488.4" r="2.95"/>
<circle cx="237.6" cy="508.7" r="2.95"/>
<circle cx="224.8" cy="527.0" r="2.95"/>
<circle cx="216.4" cy="536.0" r="2.95"/>
<circle cx="245.1" cy="507.8" r="2.95"/>
<circle cx="216.5" cy="497.4" r="2.95"/>
<circle cx="202.8" cy="505.6" r="2.95"/>
<circle cx="200.1" cy="519.5" r="2.95"/>
<circle cx="251.5" cy="498.0" r="2.95"/>
<circle cx="204.4" cy="521.3" r="2.95"/>
<circle cx="220.1" cy="507.7" r="2.95"/>
<circle cx="216.0" cy="537.7" r="2.95"/>
<circle cx="221.1" cy="523.9" r="2.95"/>
<circle cx="247.8" cy="510.8" r="2.95"/>
<circle cx="211.9" cy="526.7" r="2.95"/>
<circle cx="211.1" cy="521.9" r="2.95"/>
<circle cx="200.8" cy="513.9" r="2.95"/>
<circle cx="251.0" cy="503.3" r="2.95"/>
<circle cx="236.7" cy="504.4" r="2.95"/>
<circle cx="232.4" cy="487.9" r="2.95"/>
<circle cx="201.0" cy="513.4" r="2.95"/>
<circle cx="231.4" cy="504.3" r="2.95"/>
<circle cx="227.4" cy="508.1" r="2.95"/>
<circle cx="238.7" cy="530.1" r="2.95"/>
<circle cx="201.5" cy="529.1" r="2.95"/>
<circle cx="222.9" cy="507.3" r="2.95"/>
<circle cx="217.4" cy="500.7" r="2.95"/>
<circle cx="222.6" cy="524.7" r="2.95"/>
<circle cx="236.3" cy="489.5" r="2.95"/>
<circle cx="223.2" cy="506.4" r="2.95"/>
<circle cx="232.1" cy="487.4" r="2.95"/>
<circle cx="236.3" cy="502.2" r="2.95"/>
<circle cx="207.1" cy="495.2" r="2.95"/>
<circle cx="233.6" cy="490.7" r="2.95"/>
<circle cx="245.1" cy="530.3" r="2.95"/>
<circle cx="206.8" cy="515.7" r="2.95"/>
<circle cx="233.6" cy="523.4" r="2.95"/>
<circle cx="240.3" cy="493.1" r="2.95"/>
<circle cx="208.0" cy="492.2" r="2.95"/>
<circle cx="233.3" cy="521.1" r="2.95"/>
<circle cx="209.3" cy="523.0" r="2.95"/>
<circle cx="206.8" cy="531.1" r="2.95"/>
<circle cx="249.7" cy="503.7" r="2.95"/>
<circle cx="229.0" cy="514.8" r="2.95"/>
<circle cx="233.6" cy="514.1" r="2.95"/>
<circle cx="202.6" cy="539.8" r="2.95"/>
<circle cx="216.8" cy="487.3" r="2.95"/>
<circle cx="254.2" cy="522.0" r="2.95"/>
<circle cx="207.1" cy="507.9" r="2.95"/>
<circle cx="187.8" cy="536.4" r="2.95"/>
<circle cx="242.1" cy="520.1" r="2.95"/>
<circle cx="234.9" cy="539.3" r="2.95"/>
<circle cx="236.5" cy="502.7" r="2.95"/>
<circle cx="210.8" cy="525.5" r="2.95"/>
<circle cx="226.1" cy="496.1" r="2.95"/>
<circle cx="226.5" cy="492.4" r="2.95"/>
<circle cx="229.5" cy="504.4" r="2.95"/>
<circle cx="243.6" cy="492.6" r="2.95"/>
<circle cx="247.8" cy="537.0" r="2.95"/>
<circle cx="198.3" cy="535.8" r="2.95"/>
<circle cx="219.2" cy="527.2" r="2.95"/>
<circle cx="222.2" cy="490.7" r="2.95"/>
<circle cx="210.9" cy="532.5" r="2.95"/>
<circle cx="228.6" cy="534.5" r="2.95"/>
<circle cx="198.6" cy="523.6" r="2.95"/>
<circle cx="206.4" cy="521.7" r="2.95"/>
<circle cx="204.3" cy="539.2" r="2.95"/>
<circle cx="244.9" cy="537.2" r="2.95"/>
<circle cx="211.1" cy="519.1" r="2.95"/>
<circle cx="207.4" cy="522.7" r="2.95"/>
<circle cx="225.1" cy="537.5" r="2.95"/>
<circle cx="207.7" cy="495.8" r="2.95"/>
<circle cx="241.6" cy="492.4" r="2.95"/>
<circle cx="218.1" cy="501.1" r="2.95"/>
<circle cx="208.7" cy="509.6" r="2.95"/>
<circle cx="229.7" cy="484.8" r="2.95"/>
<circle cx="211.4" cy="503.4" r="2.95"/>
<circle cx="238.4" cy="511.1" r="2.95"/>
<circle cx="225.8" cy="536.1" r="2.95"/>
<circle cx="248.3" cy="499.5" r="2.95"/>
<circle cx="212.5" cy="492.5" r="2.95"/>
<circle cx="192.4" cy="531.7" r="2.95"/>
<circle cx="240.8" cy="512.7" r="2.95"/>
<circle cx="224.0" cy="481.8" r="2.95"/>
<circle cx="227.5" cy="488.9" r="2.95"/>
<circle cx="251.7" cy="513.2" r="2.95"/>
<circle cx="240.9" cy="526.5" r="2.95"/>
<circle cx="202.6" cy="532.6" r="2.95"/>
<circle cx="240.4" cy="520.8" r="2.95"/>
<circle cx="251.3" cy="513.7" r="2.95"/>
<circle cx="233.4" cy="529.0" r="2.95"/>
<circle cx="222.1" cy="508.7" r="2.95"/>
<circle cx="238.7" cy="498.8" r="2.95"/>
<circle cx="212.9" cy="506.5" r="2.95"/>
<circle cx="220.1" cy="484.8" r="2.95"/>
<circle cx="233.1" cy="487.1" r="2.95"/>
<circle cx="203.6" cy="531.0" r="2.95"/>
<circle cx="193.6" cy="530.7" r="2.95"/>
<circle cx="215.8" cy="539.4" r="2.95"/>
<circle cx="219.8" cy="505.6" r="2.95"/>
<circle cx="245.0" cy="496.1" r="2.95"/>
<circle cx="228.7" cy="516.1" r="2.95"/>
<circle cx="202.3" cy="539.5" r="2.95"/>
<circle cx="205.3" cy="496.0" r="2.95"/>
<circle cx="226.4" cy="502.9" r="2.95"/>
<circle cx="215.5" cy="501.5" r="2.95"/>
<circle cx="240.2" cy="524.1" r="2.95"/>
<circle cx="227.2" cy="519.8" r="2.95"/>
<circle cx="231.0" cy="512.9" r="2.95"/>
<circle cx="224.7" cy="494.6" r="2.95"/>
<circle cx="236.9" cy="488.3" r="2.95"/>
<circle cx="227.3" cy="525.9" r="2.95"/>
<circle cx="223.0" cy="486.7" r="2.95"/>
<circle cx="227.2" cy="489.5" r="2.95"/>
<circle cx="247.0" cy="526.2" r="2.95"/>
<circle cx="228.7" cy="483.6" r="2.95"/>
<circle cx="233.5" cy="517.2" r="2.95"/>
<circle cx="249.5" cy="515.1" r="2.95"/>
<circle cx="225.2" cy="492.7" r="2.95"/>
<circle cx="241.3" cy="536.7" r="2.95"/>
<circle cx="236.3" cy="510.2" r="2.95"/>
<circle cx="242.5" cy="495.5" r="2.95"/>
<circle cx="245.2" cy="529.1" r="2.95"/>
<circle cx="235.1" cy="536.2" r="2.95"/>
<circle cx="208.5" cy="512.3" r="2.95"/>
<circle cx="242.4" cy="512.6" r="2.95"/>
<circle cx="233.5" cy="508.9" r="2.95"/>
<circle cx="218.4" cy="489.4" r="2.95"/>
<circle cx="228.4" cy="492.4" r="2.95"/>
<circle cx="241.7" cy="490.2" r="2.95"/>
<circle cx="244.0" cy="500.6" r="2.95"/>
<circle cx="212.0" cy="535.3" r="2.95"/>
<circle cx="237.3" cy="523.2" r="2.95"/>
<circle cx="217.9" cy="509.2" r="2.95"/>
<circle cx="223.1" cy="501.0" r="2.95"/>
<circle cx="211.3" cy="527.2" r="2.95"/>
<circle cx="224.5" cy="481.8" r="2.95"/>
<circle cx="211.8" cy="508.2" r="2.95"/>
<circle cx="240.3" cy="506.7" r="2.95"/>
<circle cx="246.8" cy="494.6" r="2.95"/>
<circle cx="251.9" cy="519.6" r="2.95"/>
<circle cx="248.2" cy="526.5" r="2.95"/>
<circle cx="222.2" cy="503.9" r="2.95"/>
<circle cx="251.2" cy="497.6" r="2.95"/>
<circle cx="205.8" cy="498.8" r="2.95"/>
<circle cx="220.6" cy="484.5" r="2.95"/>
<circle cx="209.2" cy="520.5" r="2.95"/>
<circle cx="226.6" cy="494.1" r="2.95"/>
<circle cx="198.4" cy="537.0" r="2.95"/>
<circle cx="228.2" cy="483.9" r="2.95"/>
<circle cx="202.0" cy="519.2" r="2.95"/>
<circle cx="235.4" cy="494.9" r="2.95"/>
<circle cx="248.9" cy="526.1" r="2.95"/>
<circle cx="237.7" cy="495.5" r="2.95"/>
<circle cx="218.7" cy="538.1" r="2.95"/>
<circle cx="243.8" cy="524.6" r="2.95"/>
<circle cx="217.0" cy="532.1" r="2.95"/>
<circle cx="224.3" cy="532.8" r="2.95"/>
<circle cx="218.4" cy="517.9" r="2.95"/>
<circle cx="214.2" cy="490.9" r="2.95"/>
<circle cx="211.9" cy="526.7" r="2.95"/>
<circle cx="200.8" cy="520.0" r="2.95"/>
<circle cx="254.6" cy="518.9" r="2.95"/>
<circle cx="231.7" cy="499.5" r="2.95"/>
<circle cx="206.6" cy="529.6" r="2.95"/>
<circle cx="225.3" cy="505.9" r="2.95"/>
<circle cx="216.5" cy="502.5" r="2.95"/>
<circle cx="191.4" cy="530.6" r="2.95"/>
<circle cx="240.5" cy="517.6" r="2.95"/>
<circle cx="244.6" cy="520.1" r="2.95"/>
<circle cx="245.4" cy="498.3" r="2.95"/>
<circle cx="225.2" cy="519.6" r="2.95"/>
<circle cx="222.9" cy="507.0" r="2.95"/>
<circle cx="206.8" cy="501.1" r="2.95"/>
<circle cx="201.8" cy="534.9" r="2.95"/>
<circle cx="238.6" cy="497.3" r="2.95"/>
<circle cx="206.5" cy="526.5" r="2.95"/>
<circle cx="215.3" cy="532.8" r="2.95"/>
<circle cx="225.1" cy="488.1" r="2.95"/>
<circle cx="243.5" cy="525.5" r="2.95"/>
<circle cx="201.6" cy="525.7" r="2.95"/>
<circle cx="205.4" cy="529.8" r="2.95"/>
<circle cx="244.6" cy="504.2" r="2.95"/>
<circle cx="248.5" cy="514.7" r="2.95"/>
<circle cx="213.0" cy="503.4" r="2.95"/>
<circle cx="218.7" cy="511.3" r="2.95"/>
<circle cx="246.7" cy="521.2" r="2.95"/>
<circle cx="218.7" cy="523.8" r="2.95"/>
<circle cx="218.6" cy="494.6" r="2.95"/>
<circle cx="252.3" cy="505.1" r="2.95"/>
<circle cx="205.4" cy="537.6" r="2.95"/>
<circle cx="221.8" cy="535.4" r="2.95"/>
<circle cx="240.1" cy="529.2" r="2.95"/>
<circle cx="244.3" cy="534.1" r="2.95"/>
<circle cx="243.2" cy="536.3" r="2.95"/>
<circle cx="228.7" cy="487.1" r="2.95"/>
<circle cx="225.7" cy="485.7" r="2.95"/>
<circle cx="188.7" cy="535.9" r="2.95"/>
<circle cx="215.2" cy="519.6" r="2.95"/>
<circle cx="223.6" cy="488.8" r="2.95"/>
<circle cx="237.0" cy="518.4" r="2.95"/>
<circle cx="234.1" cy="519.0" r="2.95"/>
<circle cx="192.9" cy="533.7" r="2.95"/>
<circle cx="215.8" cy="510.2" r="2.95"/>
<circle cx="233.6" cy="494.0" r="2.95"/>
<circle cx="231.8" cy="538.0" r="2.95"/>
<circle cx="248.5" cy="499.2" r="2.95"/>
<circle cx="230.9" cy="489.6" r="2.95"/>
<circle cx="244.9" cy="514.1" r="2.95"/>
<circle cx="208.6" cy="517.5" r="2.95"/>
<circle cx="213.4" cy="517.9" r="2.95"/>
<circle cx="207.3" cy="532.3" r="2.95"/>
<circle cx="211.7" cy="500.4" r="2.95"/>
<circle cx="244.7" cy="495.0" r="2.95"/>
<circle cx="209.5" cy="539.1" r="2.95"/>
<circle cx="241.3" cy="529.2" r="2.95"/>
<circle cx="249.2" cy="492.3" r="2.95"/>
<circle cx="248.1" cy="512.1" r="2.95"/>
<circle cx="236.3" cy="510.1" r="2.95"/>
<circle cx="247.7" cy="497.5" r="2.95"/>
<circle cx="248.2" cy="530.0" r="2.95"/>
<circle cx="200.8" cy="528.0" r="2.95"/>
<circle cx="237.5" cy="509.2" r="2.95"/>
<circle cx="221.7" cy="508.1" r="2.95"/>
<circle cx="223.9" cy="533.4" r="2.95"/>
<circle cx="188.6" cy="535.7" r="2.95"/>
<circle cx="245.4" cy="519.8" r="2.95"/>
<circle cx="242.6" cy="506.8" r="2.95"/>
<circle cx="220.6" cy="502.0" r="2.95"/>
<circle cx="216.4" cy="523.6" r="2.95"/>
<circle cx="214.4" cy="537.1" r="2.95"/>
<circle cx="246.7" cy="521.2" r="2.95"/>
<circle cx="197.3" cy="530.5" r="2.95"/>
<circle cx="249.0" cy="526.9" r="2.95"/>
<circle cx="221.1" cy="524.7" r="2.95"/>
<circle cx="213.7" cy="524.8" r="2.95"/>
<circle cx="221.8" cy="533.0" r="2.95"/>
<circle cx="244.5" cy="511.5" r="2.95"/>
<circle cx="239.8" cy="500.9" r="2.95"/>
<circle cx="237.1" cy="507.6" r="2.95"/>
<circle cx="241.9" cy="520.7" r="2.95"/>
<circle cx="202.2" cy="527.8" r="2.95"/>
<circle cx="246.0" cy="523.2" r="2.95"/>
<circle cx="205.0" cy="521.1" r="2.95"/>
<circle cx="233.5" cy="492.9" r="2.95"/>
<circle cx="234.5" cy="500.8" r="2.95"/>
<circle cx="237.6" cy="506.5" r="2.95"/>
<circle cx="252.6" cy="530.9" r="2.95"/>
<circle cx="227.5" cy="531.2" r="2.95"/>
<circle cx="213.9" cy="488.2" r="2.95"/>
<circle cx="228.6" cy="484.7" r="2.95"/>
<circle cx="250.5" cy="506.4" r="2.95"/>
<circle cx="202.0" cy="540.1" r="2.95"/>
<circle cx="201.2" cy="528.2" r="2.95"/>
<circle cx="228.2" cy="530.1" r="2.95"/>
<circle cx="203.3" cy="511.4" r="2.95"/>
<circle cx="237.0" cy="518.6" r="2.95"/>
<circle cx="243.9" cy="514.1" r="2.95"/>
<circle cx="212.2" cy="509.4" r="2.95"/>
<circle cx="240.4" cy="495.8" r="2.95"/>
<circle cx="211.6" cy="524.6" r="2.95"/>
<circle cx="238.5" cy="507.0" r="2.95"/>
<circle cx="228.3" cy="537.9" r="2.95"/>
<circle cx="236.5" cy="501.1" r="2.95"/>
<circle cx="253.7" cy="528.7" r="2.95"/>
<circle cx="216.2" cy="486.4" r="2.95"/>
<circle cx="241.3" cy="531.3" r="2.95"/>
<circle cx="215.4" cy="506.8" r="2.95"/>
<circle cx="233.1" cy="534.4" r="2.95"/>
<circle cx="238.1" cy="524.0" r="2.95"/>
<circle cx="228.3" cy="498.4" r="2.95"/>
<circle cx="218.4" cy="514.9" r="2.95"/>
<circle cx="252.5" cy="508.2" r="2.95"/>
<circle cx="242.6" cy="539.6" r="2.95"/>
<circle cx="211.1" cy="524.2" r="2.95"/>
<circle cx="218.3" cy="516.5" r="2.95"/>
<circle cx="202.8" cy="539.4" r="2.95"/>
<circle cx="244.2" cy="506.9" r="2.95"/>
<circle cx="240.8" cy="517.3" r="2.95"/>
<circle cx="233.5" cy="510.4" r="2.95"/>
<circle cx="230.3" cy="530.0" r="2.95"/>
<circle cx="218.5" cy="490.3" r="2.95"/>
<circle cx="248.7" cy="508.0" r="2.95"/>
<circle cx="230.6" cy="530.5" r="2.95"/>
<circle cx="245.8" cy="504.3" r="2.95"/>
<circle cx="217.4" cy="525.9" r="2.95"/>
<circle cx="252.1" cy="512.2" r="2.95"/>
<circle cx="197.6" cy="524.0" r="2.95"/>
<circle cx="218.1" cy="503.0" r="2.95"/>
<circle cx="219.8" cy="502.1" r="2.95"/>
<circle cx="234.7" cy="528.1" r="2.95"/>
<circle cx="222.7" cy="534.6" r="2.95"/>
<circle cx="207.3" cy="491.1" r="2.95"/>
<circle cx="207.0" cy="492.7" r="2.95"/>
<circle cx="209.6" cy="508.4" r="2.95"/>
<circle cx="205.5" cy="492.0" r="2.95"/>
<circle cx="249.7" cy="513.6" r="2.95"/>
<circle cx="227.1" cy="496.2" r="2.95"/>
<circle cx="199.2" cy="527.2" r="2.95"/>
<circle cx="235.9" cy="522.3" r="2.95"/>
<circle cx="239.6" cy="532.5" r="2.95"/>
<circle cx="243.6" cy="510.6" r="2.95"/>
<circle cx="242.3" cy="537.5" r="2.95"/>
<circle cx="240.6" cy="507.8" r="2.95"/>
<circle cx="240.3" cy="518.9" r="2.95"/>
<circle cx="207.2" cy="503.8" r="2.95"/>
<circle cx="250.5" cy="499.7" r="2.95"/>
<circle cx="191.1" cy="531.1" r="2.95"/>
<circle cx="239.3" cy="493.5" r="2.95"/>
<circle cx="218.9" cy="510.6" r="2.95"/>
<circle cx="212.1" cy="511.1" r="2.95"/>
<circle cx="240.2" cy="522.9" r="2.95"/>
<circle cx="217.0" cy="488.4" r="2.95"/>
<circle cx="202.9" cy="525.3" r="2.95"/>
<circle cx="235.2" cy="506.4" r="2.95"/>
<circle cx="217.8" cy="522.6" r="2.95"/>
<circle cx="215.6" cy="533.8" r="2.95"/>
<circle cx="226.6" cy="520.2" r="2.95"/>
<circle cx="227.8" cy="512.5" r="2.95"/>
<circle cx="220.4" cy="524.1" r="2.95"/>
<circle cx="243.0" cy="519.8" r="2.95"/>
<circle cx="222.8" cy="489.9" r="2.95"/>
<circle cx="221.8" cy="511.7" r="2.95"/>
<circle cx="226.1" cy="524.0" r="2.95"/>
<circle cx="236.5" cy="518.9" r="2.95"/>
<circle cx="213.5" cy="493.3" r="2.95"/>
<circle cx="243.1" cy="509.1" r="2.95"/>
<circle cx="217.9" cy="527.7" r="2.95"/>
<circle cx="225.5" cy="539.9" r="2.95"/>
<circle cx="239.8" cy="493.5" r="2.95"/>
<circle cx="248.8" cy="530.4" r="2.95"/>
<circle cx="238.7" cy="523.5" r="2.95"/>
<circle cx="220.0" cy="524.5" r="2.95"/>
<circle cx="239.1" cy="534.1" r="2.95"/>
<circle cx="247.0" cy="526.3" r="2.95"/>
<circle cx="227.3" cy="521.0" r="2.95"/>
<circle cx="216.0" cy="529.1" r="2.95"/>
<circle cx="221.3" cy="524.5" r="2.95"/>
<circle cx="206.2" cy="498.4" r="2.95"/>
<circle cx="245.8" cy="526.6" r="2.95"/>
<circle cx="244.2" cy="532.4" r="2.95"/>
<circle cx="210.0" cy="493.1" r="2.95"/>
<circle cx="224.2" cy="513.3" r="2.95"/>
<circle cx="228.3" cy="515.7" r="2.95"/>
<circle cx="227.0" cy="526.4" r="2.95"/>
<circle cx="204.2" cy="521.1" r="2.95"/>
<circle cx="198.4" cy="523.5" r="2.95"/>
<circle cx="228.8" cy="503.6" r="2.95"/>
<circle cx="222.9" cy="510.3" r="2.95"/>
<circle cx="251.9" cy="530.5" r="2.95"/>
<circle cx="198.4" cy="521.4" r="2.95"/>
<circle cx="245.9" cy="516.2" r="2.95"/>
<circle cx="247.5" cy="530.8" r="2.95"/>
<circle cx="219.5" cy="494.1" r="2.95"/>
<circle cx="218.9" cy="487.3" r="2.95"/>
<circle cx="238.1" cy="515.0" r="2.95"/>
<circle cx="221.2" cy="483.0" r="2.95"/>
<circle cx="228.9" cy="485.4" r="2.95"/>
<circle cx="233.3" cy="539.8" r="2.95"/>
<circle cx="221.4" cy="539.4" r="2.95"/>
<circle cx="225.6" cy="533.5" r="2.95"/>
<circle cx="253.1" cy="502.6" r="2.95"/>
<circle cx="214.7" cy="512.3" r="2.95"/>
<circle cx="233.6" cy="500.3" r="2.95"/>
<circle cx="217.3" cy="492.5" r="2.95"/>
<circle cx="205.5" cy="536.1" r="2.95"/>
<circle cx="218.8" cy="493.3" r="2.95"/>
<circle cx="205.0" cy="511.0" r="2.95"/>
<circle cx="234.0" cy="513.1" r="2.95"/>
<circle cx="208.7" cy="525.3" r="2.95"/>
<circle cx="201.2" cy="528.5" r="2.95"/>
<circle cx="224.1" cy="539.5" r="2.95"/>
<circle cx="245.1" cy="533.1" r="2.95"/>
<circle cx="224.3" cy="504.3" r="2.95"/>
<circle cx="223.2" cy="484.7" r="2.95"/>
<circle cx="225.8" cy="539.0" r="2.95"/>
<circle cx="218.0" cy="510.8" r="2.95"/>
<circle cx="222.8" cy="485.1" r="2.95"/>
<circle cx="205.2" cy="493.0" r="2.95"/>
<circle cx="247.3" cy="512.8" r="2.95"/>
<circle cx="212.1" cy="364.6" r="2.95"/>
<circle cx="214.5" cy="389.9" r="2.95"/>
<circle cx="185.9" cy="415.6" r="2.95"/>
<circle cx="218.6" cy="423.7" r="2.95"/>
<circle cx="228.7" cy="422.3" r="2.95"/>
<circle cx="231.4" cy="428.4" r="2.95"/>
<circle cx="199.1" cy="439.6" r="2.95"/>
<circle cx="201.8" cy="478.0" r="2.95"/>
<circle cx="243.7" cy="445.5" r="2.95"/>
<circle cx="257.2" cy="449.2" r="2.95"/>
<circle cx="259.5" cy="453.7" r="2.95"/>
<circle cx="245.2" cy="456.7" r="2.95"/>
<circle cx="249.0" cy="477.7" r="2.95"/>
<circle cx="258.0" cy="477.7" r="2.95"/>
<circle cx="268.5" cy="482.2" r="2.95"/>
<circle cx="279.7" cy="484.5" r="2.95"/>
<circle cx="276.0" cy="495.0" r="2.95"/>
<circle cx="290.2" cy="502.5" r="2.95"/>
<circle cx="295.5" cy="505.5" r="2.95"/>
<circle cx="319.5" cy="507.7" r="2.95"/>
<circle cx="288.0" cy="510.7" r="2.95"/>
<circle cx="293.0" cy="510.7" r="2.95"/>
<circle cx="298.0" cy="510.7" r="2.95"/>
<circle cx="303.0" cy="510.7" r="2.95"/>
<circle cx="308.0" cy="510.7" r="2.95"/>
<circle cx="312.0" cy="510.7" r="2.95"/>
<circle cx="316.5" cy="510.7" r="2.95"/>
<circle cx="331.5" cy="510.7" r="2.95"/>
<circle cx="272.2" cy="507.0" r="2.95"/>
<circle cx="302.9" cy="521.4" r="2.95"/>
<circle cx="313.0" cy="521.4" r="2.95"/>
<circle cx="83.4" cy="521.6" r="2.95"/>
<circle cx="166.9" cy="521.6" r="2.95"/>
<circle cx="175.8" cy="521.6" r="2.95"/>
<circle cx="190.9" cy="521.6" r="2.95"/>
<circle cx="164.3" cy="535.3" r="2.95"/>
<circle cx="172.9" cy="535.3" r="2.95"/>
<circle cx="179.5" cy="535.3" r="2.95"/>
<circle cx="256.9" cy="530.9" r="2.95"/>
<circle cx="248.8" cy="533.8" r="2.95"/>
<circle cx="268.5" cy="525.0" r="2.95"/>
</g>
<line x1="71.5" y1="491.0" x2="343.5" y2="491.0" stroke="#7A0000" stroke-width="3.6" stroke-dasharray="15.2 15.8"/>
</g>
<rect x="71.5" y="324" width="272.0" height="256.5" fill="none" stroke="#333333" stroke-width="1"/>
<g clip-path="url(#cpd)">
<g fill="#5794FF">
<rect x="479.2" y="485.3" width="5.3" height="5.3"/>
<rect x="454.2" y="427.9" width="5.3" height="5.3"/>
<rect x="439.3" y="433.3" width="5.3" height="5.3"/>
<rect x="452.0" y="454.6" width="5.3" height="5.3"/>
<rect x="483.6" y="466.5" width="5.3" height="5.3"/>
<rect x="445.9" y="428.1" width="5.3" height="5.3"/>
<rect x="424.7" y="403.4" width="5.3" height="5.3"/>
<rect x="429.4" y="429.0" width="5.3" height="5.3"/>
<rect x="482.4" y="485.0" width="5.3" height="5.3"/>
<rect x="459.1" y="435.5" width="5.3" height="5.3"/>
<rect x="491.5" y="487.2" width="5.3" height="5.3"/>
<rect x="519.7" y="508.7" width="5.3" height="5.3"/>
<rect x="489.7" y="469.8" width="5.3" height="5.3"/>
<rect x="471.0" y="476.6" width="5.3" height="5.3"/>
<rect x="445.0" y="430.1" width="5.3" height="5.3"/>
<rect x="435.4" y="414.3" width="5.3" height="5.3"/>
<rect x="512.8" y="495.6" width="5.3" height="5.3"/>
<rect x="470.8" y="456.9" width="5.3" height="5.3"/>
<rect x="581.5" y="509.4" width="5.3" height="5.3"/>
<rect x="522.8" y="500.0" width="5.3" height="5.3"/>
<rect x="469.5" y="465.6" width="5.3" height="5.3"/>
<rect x="484.3" y="462.5" width="5.3" height="5.3"/>
<rect x="468.3" y="452.2" width="5.3" height="5.3"/>
<rect x="464.8" y="444.6" width="5.3" height="5.3"/>
<rect x="492.6" y="477.6" width="5.3" height="5.3"/>
<rect x="437.1" y="410.6" width="5.3" height="5.3"/>
<rect x="575.7" y="510.0" width="5.3" height="5.3"/>
<rect x="471.5" y="469.5" width="5.3" height="5.3"/>
<rect x="488.2" y="493.1" width="5.3" height="5.3"/>
<rect x="463.3" y="460.6" width="5.3" height="5.3"/>
<rect x="472.3" y="463.2" width="5.3" height="5.3"/>
<rect x="455.0" y="453.5" width="5.3" height="5.3"/>
<rect x="480.4" y="485.4" width="5.3" height="5.3"/>
<rect x="558.5" y="511.4" width="5.3" height="5.3"/>
<rect x="453.9" y="450.7" width="5.3" height="5.3"/>
<rect x="523.1" y="497.6" width="5.3" height="5.3"/>
<rect x="486.0" y="491.8" width="5.3" height="5.3"/>
<rect x="421.5" y="412.3" width="5.3" height="5.3"/>
<rect x="429.3" y="405.0" width="5.3" height="5.3"/>
<rect x="531.4" y="503.3" width="5.3" height="5.3"/>
<rect x="565.8" y="507.5" width="5.3" height="5.3"/>
<rect x="526.7" y="508.4" width="5.3" height="5.3"/>
<rect x="498.5" y="483.2" width="5.3" height="5.3"/>
<rect x="547.2" y="509.1" width="5.3" height="5.3"/>
<rect x="453.9" y="455.4" width="5.3" height="5.3"/>
<rect x="448.3" y="431.4" width="5.3" height="5.3"/>
<rect x="460.6" y="459.2" width="5.3" height="5.3"/>
<rect x="470.1" y="464.3" width="5.3" height="5.3"/>
<rect x="480.4" y="484.7" width="5.3" height="5.3"/>
<rect x="458.7" y="435.8" width="5.3" height="5.3"/>
<rect x="471.5" y="467.3" width="5.3" height="5.3"/>
<rect x="578.5" y="509.0" width="5.3" height="5.3"/>
<rect x="473.2" y="479.4" width="5.3" height="5.3"/>
<rect x="536.8" y="512.2" width="5.3" height="5.3"/>
<rect x="443.5" y="435.7" width="5.3" height="5.3"/>
<rect x="434.8" y="439.8" width="5.3" height="5.3"/>
<rect x="447.2" y="434.4" width="5.3" height="5.3"/>
<rect x="483.4" y="478.8" width="5.3" height="5.3"/>
<rect x="526.0" y="503.2" width="5.3" height="5.3"/>
<rect x="424.2" y="404.4" width="5.3" height="5.3"/>
<rect x="439.9" y="418.2" width="5.3" height="5.3"/>
<rect x="447.1" y="434.5" width="5.3" height="5.3"/>
<rect x="427.6" y="421.7" width="5.3" height="5.3"/>
<rect x="445.8" y="444.4" width="5.3" height="5.3"/>
<rect x="448.4" y="450.2" width="5.3" height="5.3"/>
<rect x="501.8" y="499.3" width="5.3" height="5.3"/>
<rect x="491.1" y="488.3" width="5.3" height="5.3"/>
<rect x="508.1" y="506.4" width="5.3" height="5.3"/>
<rect x="422.9" y="400.0" width="5.3" height="5.3"/>
<rect x="460.2" y="443.4" width="5.3" height="5.3"/>
<rect x="429.7" y="404.5" width="5.3" height="5.3"/>
<rect x="526.2" y="504.5" width="5.3" height="5.3"/>
<rect x="473.1" y="455.9" width="5.3" height="5.3"/>
<rect x="510.9" y="497.3" width="5.3" height="5.3"/>
<rect x="519.3" y="497.7" width="5.3" height="5.3"/>
<rect x="486.9" y="473.2" width="5.3" height="5.3"/>
<rect x="433.9" y="409.4" width="5.3" height="5.3"/>
<rect x="443.4" y="440.3" width="5.3" height="5.3"/>
<rect x="450.6" y="424.1" width="5.3" height="5.3"/>
<rect x="437.5" y="433.3" width="5.3" height="5.3"/>
<rect x="492.7" y="483.9" width="5.3" height="5.3"/>
<rect x="441.2" y="442.3" width="5.3" height="5.3"/>
<rect x="452.0" y="449.4" width="5.3" height="5.3"/>
<rect x="450.3" y="433.4" width="5.3" height="5.3"/>
<rect x="526.1" y="502.6" width="5.3" height="5.3"/>
<rect x="515.1" y="500.3" width="5.3" height="5.3"/>
<rect x="490.2" y="481.3" width="5.3" height="5.3"/>
<rect x="478.8" y="474.2" width="5.3" height="5.3"/>
<rect x="448.5" y="448.1" width="5.3" height="5.3"/>
<rect x="459.5" y="445.9" width="5.3" height="5.3"/>
<rect x="458.5" y="461.4" width="5.3" height="5.3"/>
<rect x="439.4" y="432.0" width="5.3" height="5.3"/>
<rect x="492.8" y="482.4" width="5.3" height="5.3"/>
<rect x="506.7" y="502.0" width="5.3" height="5.3"/>
<rect x="491.2" y="486.7" width="5.3" height="5.3"/>
<rect x="498.8" y="499.0" width="5.3" height="5.3"/>
<rect x="453.9" y="439.7" width="5.3" height="5.3"/>
<rect x="562.0" y="511.8" width="5.3" height="5.3"/>
<rect x="437.6" y="410.0" width="5.3" height="5.3"/>
<rect x="532.1" y="504.0" width="5.3" height="5.3"/>
<rect x="438.5" y="441.0" width="5.3" height="5.3"/>
<rect x="491.5" y="484.2" width="5.3" height="5.3"/>
<rect x="452.5" y="441.1" width="5.3" height="5.3"/>
<rect x="485.0" y="463.5" width="5.3" height="5.3"/>
<rect x="421.0" y="395.4" width="5.3" height="5.3"/>
<rect x="490.1" y="475.5" width="5.3" height="5.3"/>
<rect x="482.5" y="473.6" width="5.3" height="5.3"/>
<rect x="462.5" y="452.4" width="5.3" height="5.3"/>
<rect x="561.3" y="512.2" width="5.3" height="5.3"/>
<rect x="435.6" y="442.1" width="5.3" height="5.3"/>
<rect x="485.5" y="469.0" width="5.3" height="5.3"/>
<rect x="508.0" y="491.8" width="5.3" height="5.3"/>
<rect x="499.2" y="487.6" width="5.3" height="5.3"/>
<rect x="504.5" y="505.2" width="5.3" height="5.3"/>
<rect x="433.9" y="406.9" width="5.3" height="5.3"/>
<rect x="428.1" y="424.6" width="5.3" height="5.3"/>
<rect x="430.1" y="406.7" width="5.3" height="5.3"/>
<rect x="463.1" y="452.8" width="5.3" height="5.3"/>
<rect x="473.1" y="472.0" width="5.3" height="5.3"/>
<rect x="433.7" y="424.2" width="5.3" height="5.3"/>
<rect x="428.2" y="404.3" width="5.3" height="5.3"/>
<rect x="454.4" y="428.2" width="5.3" height="5.3"/>
<rect x="461.3" y="457.6" width="5.3" height="5.3"/>
<rect x="421.9" y="399.2" width="5.3" height="5.3"/>
<rect x="493.1" y="471.6" width="5.3" height="5.3"/>
<rect x="456.8" y="455.7" width="5.3" height="5.3"/>
<rect x="433.2" y="412.3" width="5.3" height="5.3"/>
<rect x="461.8" y="459.5" width="5.3" height="5.3"/>
<rect x="504.9" y="495.1" width="5.3" height="5.3"/>
<rect x="427.9" y="404.3" width="5.3" height="5.3"/>
<rect x="493.7" y="499.4" width="5.3" height="5.3"/>
<rect x="448.1" y="454.6" width="5.3" height="5.3"/>
<rect x="508.6" y="493.4" width="5.3" height="5.3"/>
<rect x="457.1" y="448.2" width="5.3" height="5.3"/>
<rect x="494.2" y="480.1" width="5.3" height="5.3"/>
<rect x="463.4" y="443.6" width="5.3" height="5.3"/>
<rect x="504.2" y="501.3" width="5.3" height="5.3"/>
<rect x="427.4" y="404.2" width="5.3" height="5.3"/>
<rect x="438.7" y="417.2" width="5.3" height="5.3"/>
<rect x="561.6" y="511.1" width="5.3" height="5.3"/>
<rect x="515.3" y="501.9" width="5.3" height="5.3"/>
<rect x="458.2" y="463.1" width="5.3" height="5.3"/>
<rect x="489.8" y="479.9" width="5.3" height="5.3"/>
<rect x="429.2" y="415.9" width="5.3" height="5.3"/>
<rect x="556.6" y="510.8" width="5.3" height="5.3"/>
<rect x="486.8" y="490.3" width="5.3" height="5.3"/>
<rect x="476.7" y="471.2" width="5.3" height="5.3"/>
<rect x="496.8" y="481.8" width="5.3" height="5.3"/>
<rect x="567.5" y="506.8" width="5.3" height="5.3"/>
<rect x="556.9" y="509.4" width="5.3" height="5.3"/>
<rect x="540.1" y="506.9" width="5.3" height="5.3"/>
<rect x="431.9" y="408.7" width="5.3" height="5.3"/>
<rect x="455.2" y="460.8" width="5.3" height="5.3"/>
<rect x="452.4" y="447.4" width="5.3" height="5.3"/>
<rect x="566.2" y="511.4" width="5.3" height="5.3"/>
<rect x="441.2" y="435.1" width="5.3" height="5.3"/>
<rect x="494.4" y="484.4" width="5.3" height="5.3"/>
<rect x="492.2" y="480.2" width="5.3" height="5.3"/>
<rect x="455.0" y="460.3" width="5.3" height="5.3"/>
<rect x="436.0" y="419.4" width="5.3" height="5.3"/>
<rect x="491.7" y="475.1" width="5.3" height="5.3"/>
<rect x="499.1" y="483.3" width="5.3" height="5.3"/>
<rect x="444.1" y="451.9" width="5.3" height="5.3"/>
<rect x="487.1" y="472.7" width="5.3" height="5.3"/>
<rect x="530.3" y="502.9" width="5.3" height="5.3"/>
<rect x="449.0" y="425.4" width="5.3" height="5.3"/>
<rect x="426.1" y="397.8" width="5.3" height="5.3"/>
<rect x="430.9" y="406.1" width="5.3" height="5.3"/>
<rect x="528.6" y="502.9" width="5.3" height="5.3"/>
<rect x="431.3" y="403.7" width="5.3" height="5.3"/>
<rect x="444.5" y="420.1" width="5.3" height="5.3"/>
<rect x="562.5" y="507.9" width="5.3" height="5.3"/>
<rect x="502.6" y="503.0" width="5.3" height="5.3"/>
<rect x="471.9" y="480.6" width="5.3" height="5.3"/>
<rect x="446.6" y="438.1" width="5.3" height="5.3"/>
<rect x="427.4" y="419.2" width="5.3" height="5.3"/>
<rect x="422.7" y="418.0" width="5.3" height="5.3"/>
<rect x="511.4" y="507.7" width="5.3" height="5.3"/>
<rect x="533.0" y="508.3" width="5.3" height="5.3"/>
<rect x="423.3" y="400.7" width="5.3" height="5.3"/>
<rect x="436.1" y="429.7" width="5.3" height="5.3"/>
<rect x="464.1" y="457.0" width="5.3" height="5.3"/>
<rect x="422.9" y="419.4" width="5.3" height="5.3"/>
<rect x="454.9" y="458.8" width="5.3" height="5.3"/>
<rect x="497.2" y="485.4" width="5.3" height="5.3"/>
<rect x="515.2" y="502.0" width="5.3" height="5.3"/>
<rect x="428.3" y="428.5" width="5.3" height="5.3"/>
<rect x="464.3" y="456.9" width="5.3" height="5.3"/>
<rect x="531.0" y="508.4" width="5.3" height="5.3"/>
<rect x="437.6" y="442.8" width="5.3" height="5.3"/>
<rect x="482.9" y="490.0" width="5.3" height="5.3"/>
<rect x="437.3" y="436.6" width="5.3" height="5.3"/>
<rect x="492.7" y="474.0" width="5.3" height="5.3"/>
<rect x="537.8" y="513.2" width="5.3" height="5.3"/>
<rect x="442.5" y="442.1" width="5.3" height="5.3"/>
<rect x="464.1" y="456.2" width="5.3" height="5.3"/>
<rect x="442.8" y="419.1" width="5.3" height="5.3"/>
<rect x="460.2" y="430.4" width="5.3" height="5.3"/>
<rect x="430.2" y="427.6" width="5.3" height="5.3"/>
<rect x="443.1" y="434.6" width="5.3" height="5.3"/>
<rect x="458.8" y="436.1" width="5.3" height="5.3"/>
<rect x="428.4" y="427.5" width="5.3" height="5.3"/>
<rect x="578.8" y="510.3" width="5.3" height="5.3"/>
<rect x="466.4" y="447.5" width="5.3" height="5.3"/>
<rect x="450.9" y="451.9" width="5.3" height="5.3"/>
<rect x="474.4" y="476.4" width="5.3" height="5.3"/>
<rect x="428.3" y="416.0" width="5.3" height="5.3"/>
<rect x="478.6" y="486.2" width="5.3" height="5.3"/>
<rect x="576.2" y="510.7" width="5.3" height="5.3"/>
<rect x="465.8" y="465.2" width="5.3" height="5.3"/>
<rect x="483.9" y="485.9" width="5.3" height="5.3"/>
<rect x="429.8" y="426.1" width="5.3" height="5.3"/>
<rect x="439.6" y="446.7" width="5.3" height="5.3"/>
<rect x="485.1" y="463.8" width="5.3" height="5.3"/>
<rect x="474.2" y="464.8" width="5.3" height="5.3"/>
<rect x="511.6" y="501.4" width="5.3" height="5.3"/>
<rect x="517.5" y="509.2" width="5.3" height="5.3"/>
<rect x="524.7" y="501.4" width="5.3" height="5.3"/>
<rect x="434.5" y="444.8" width="5.3" height="5.3"/>
<rect x="421.9" y="400.7" width="5.3" height="5.3"/>
<rect x="474.8" y="475.6" width="5.3" height="5.3"/>
<rect x="489.6" y="492.2" width="5.3" height="5.3"/>
<rect x="496.0" y="491.3" width="5.3" height="5.3"/>
<rect x="489.2" y="474.8" width="5.3" height="5.3"/>
<rect x="432.1" y="421.5" width="5.3" height="5.3"/>
<rect x="437.5" y="426.3" width="5.3" height="5.3"/>
<rect x="576.8" y="510.2" width="5.3" height="5.3"/>
<rect x="476.4" y="486.9" width="5.3" height="5.3"/>
<rect x="431.0" y="437.9" width="5.3" height="5.3"/>
<rect x="483.6" y="471.3" width="5.3" height="5.3"/>
<rect x="433.0" y="442.5" width="5.3" height="5.3"/>
<rect x="433.7" y="415.3" width="5.3" height="5.3"/>
<rect x="431.4" y="415.8" width="5.3" height="5.3"/>
<rect x="463.0" y="469.8" width="5.3" height="5.3"/>
<rect x="434.3" y="409.2" width="5.3" height="5.3"/>
<rect x="500.5" y="501.5" width="5.3" height="5.3"/>
<rect x="464.4" y="471.1" width="5.3" height="5.3"/>
<rect x="536.4" y="507.7" width="5.3" height="5.3"/>
<rect x="437.2" y="411.4" width="5.3" height="5.3"/>
<rect x="453.8" y="451.2" width="5.3" height="5.3"/>
<rect x="491.0" y="490.5" width="5.3" height="5.3"/>
<rect x="450.6" y="432.9" width="5.3" height="5.3"/>
<rect x="468.2" y="471.0" width="5.3" height="5.3"/>
<rect x="430.7" y="441.4" width="5.3" height="5.3"/>
<rect x="447.3" y="423.6" width="5.3" height="5.3"/>
<rect x="582.2" y="509.3" width="5.3" height="5.3"/>
<rect x="449.4" y="442.8" width="5.3" height="5.3"/>
<rect x="454.8" y="429.9" width="5.3" height="5.3"/>
<rect x="512.1" y="496.0" width="5.3" height="5.3"/>
<rect x="427.5" y="432.0" width="5.3" height="5.3"/>
<rect x="490.0" y="475.2" width="5.3" height="5.3"/>
<rect x="470.9" y="457.5" width="5.3" height="5.3"/>
<rect x="567.7" y="509.5" width="5.3" height="5.3"/>
<rect x="442.1" y="427.8" width="5.3" height="5.3"/>
<rect x="484.6" y="469.3" width="5.3" height="5.3"/>
<rect x="473.2" y="462.5" width="5.3" height="5.3"/>
<rect x="438.8" y="432.6" width="5.3" height="5.3"/>
<rect x="433.2" y="428.7" width="5.3" height="5.3"/>
<rect x="541.8" y="511.4" width="5.3" height="5.3"/>
<rect x="427.6" y="449.3" width="5.3" height="5.3"/>
<rect x="441.1" y="467.4" width="5.3" height="5.3"/>
<rect x="544.4" y="509.6" width="5.3" height="5.3"/>
<rect x="546.6" y="509.6" width="5.3" height="5.3"/>
<rect x="548.8" y="509.6" width="5.3" height="5.3"/>
<rect x="551.0" y="509.6" width="5.3" height="5.3"/>
<rect x="553.1" y="509.6" width="5.3" height="5.3"/>
<rect x="555.4" y="509.6" width="5.3" height="5.3"/>
<rect x="557.6" y="509.6" width="5.3" height="5.3"/>
<rect x="559.8" y="509.6" width="5.3" height="5.3"/>
<rect x="562.0" y="509.6" width="5.3" height="5.3"/>
<rect x="564.1" y="509.6" width="5.3" height="5.3"/>
<rect x="566.4" y="509.6" width="5.3" height="5.3"/>
<rect x="568.6" y="509.6" width="5.3" height="5.3"/>
<rect x="570.8" y="509.6" width="5.3" height="5.3"/>
<rect x="573.0" y="509.6" width="5.3" height="5.3"/>
<rect x="575.1" y="509.6" width="5.3" height="5.3"/>
<rect x="577.4" y="509.6" width="5.3" height="5.3"/>
<rect x="579.6" y="509.6" width="5.3" height="5.3"/>
<rect x="546.4" y="520.9" width="5.3" height="5.3"/>
<rect x="548.6" y="520.9" width="5.3" height="5.3"/>
<rect x="550.8" y="520.9" width="5.3" height="5.3"/>
<rect x="553.0" y="520.9" width="5.3" height="5.3"/>
<rect x="555.1" y="520.9" width="5.3" height="5.3"/>
<rect x="557.4" y="520.9" width="5.3" height="5.3"/>
<rect x="559.6" y="520.9" width="5.3" height="5.3"/>
<rect x="561.8" y="520.9" width="5.3" height="5.3"/>
<rect x="564.0" y="520.9" width="5.3" height="5.3"/>
<rect x="566.1" y="520.9" width="5.3" height="5.3"/>
<rect x="568.4" y="520.9" width="5.3" height="5.3"/>
<rect x="570.6" y="520.9" width="5.3" height="5.3"/>
<rect x="572.8" y="520.9" width="5.3" height="5.3"/>
<rect x="575.0" y="520.9" width="5.3" height="5.3"/>
<rect x="577.1" y="520.9" width="5.3" height="5.3"/>
<rect x="579.4" y="520.9" width="5.3" height="5.3"/>
<rect x="581.6" y="520.9" width="5.3" height="5.3"/>
<rect x="583.8" y="520.9" width="5.3" height="5.3"/>
<rect x="537.4" y="534.9" width="5.3" height="5.3"/>
<rect x="539.9" y="534.9" width="5.3" height="5.3"/>
<rect x="542.4" y="534.9" width="5.3" height="5.3"/>
<rect x="544.9" y="534.9" width="5.3" height="5.3"/>
<rect x="547.4" y="534.9" width="5.3" height="5.3"/>
<rect x="549.9" y="534.9" width="5.3" height="5.3"/>
<rect x="552.4" y="534.9" width="5.3" height="5.3"/>
<rect x="554.9" y="534.9" width="5.3" height="5.3"/>
<rect x="557.4" y="534.9" width="5.3" height="5.3"/>
<rect x="559.9" y="534.9" width="5.3" height="5.3"/>
<rect x="485.4" y="501.5" width="5.3" height="5.3"/>
<rect x="464.0" y="477.8" width="5.3" height="5.3"/>
<rect x="475.8" y="493.0" width="5.3" height="5.3"/>
<rect x="447.4" y="504.9" width="5.3" height="5.3"/>
<rect x="542.0" y="516.6" width="5.3" height="5.3"/>
<rect x="447.4" y="478.9" width="5.3" height="5.3"/>
<rect x="492.1" y="502.6" width="5.3" height="5.3"/>
<rect x="446.4" y="509.0" width="5.3" height="5.3"/>
<rect x="485.0" y="517.4" width="5.3" height="5.3"/>
<rect x="460.8" y="487.5" width="5.3" height="5.3"/>
<rect x="533.4" y="533.8" width="5.3" height="5.3"/>
<rect x="452.0" y="478.0" width="5.3" height="5.3"/>
<rect x="448.9" y="473.4" width="5.3" height="5.3"/>
<rect x="486.5" y="534.6" width="5.3" height="5.3"/>
<rect x="492.0" y="527.9" width="5.3" height="5.3"/>
<rect x="446.3" y="485.0" width="5.3" height="5.3"/>
<rect x="454.9" y="508.1" width="5.3" height="5.3"/>
<rect x="540.5" y="523.9" width="5.3" height="5.3"/>
<rect x="512.4" y="535.1" width="5.3" height="5.3"/>
<rect x="520.2" y="512.0" width="5.3" height="5.3"/>
<rect x="486.6" y="500.1" width="5.3" height="5.3"/>
<rect x="450.2" y="478.4" width="5.3" height="5.3"/>
<rect x="498.5" y="509.7" width="5.3" height="5.3"/>
<rect x="444.0" y="498.3" width="5.3" height="5.3"/>
<rect x="461.5" y="492.9" width="5.3" height="5.3"/>
<rect x="520.4" y="518.9" width="5.3" height="5.3"/>
<rect x="485.9" y="537.9" width="5.3" height="5.3"/>
<rect x="453.4" y="500.8" width="5.3" height="5.3"/>
<rect x="469.6" y="492.9" width="5.3" height="5.3"/>
<rect x="480.5" y="529.2" width="5.3" height="5.3"/>
<rect x="456.7" y="512.0" width="5.3" height="5.3"/>
<rect x="489.8" y="504.2" width="5.3" height="5.3"/>
<rect x="380.2" y="360.1" width="5.3" height="5.3"/>
<rect x="403.2" y="357.4" width="5.3" height="5.3"/>
<rect x="389.4" y="374.1" width="5.3" height="5.3"/>
<rect x="403.6" y="372.2" width="5.3" height="5.3"/>
<rect x="411.2" y="370.5" width="5.3" height="5.3"/>
<rect x="409.0" y="380.2" width="5.3" height="5.3"/>
<rect x="419.1" y="380.8" width="5.3" height="5.3"/>
<rect x="421.8" y="384.0" width="5.3" height="5.3"/>
<rect x="413.4" y="387.1" width="5.3" height="5.3"/>
<rect x="401.5" y="392.0" width="5.3" height="5.3"/>
<rect x="403.6" y="395.4" width="5.3" height="5.3"/>
<rect x="426.5" y="393.4" width="5.3" height="5.3"/>
<rect x="421.8" y="399.5" width="5.3" height="5.3"/>
<rect x="427.2" y="400.8" width="5.3" height="5.3"/>
<rect x="432.6" y="402.2" width="5.3" height="5.3"/>
<rect x="435.9" y="404.9" width="5.3" height="5.3"/>
<rect x="425.8" y="407.6" width="5.3" height="5.3"/>
<rect x="431.2" y="407.6" width="5.3" height="5.3"/>
<rect x="438.0" y="408.9" width="5.3" height="5.3"/>
<rect x="423.1" y="410.9" width="5.3" height="5.3"/>
<rect x="432.6" y="415.7" width="5.3" height="5.3"/>
<rect x="440.7" y="414.4" width="5.3" height="5.3"/>
<rect x="443.4" y="418.4" width="5.3" height="5.3"/>
<rect x="446.1" y="422.4" width="5.3" height="5.3"/>
<rect x="423.8" y="425.1" width="5.3" height="5.3"/>
<rect x="405.6" y="460.6" width="5.3" height="5.3"/>
<rect x="413.7" y="474.7" width="5.3" height="5.3"/>
<rect x="417.7" y="476.8" width="5.3" height="5.3"/>
<rect x="529.6" y="531.6" width="5.3" height="5.3"/>
<rect x="537.0" y="538.1" width="5.3" height="5.3"/>
<rect x="606.4" y="514.4" width="5.3" height="5.3"/>
<rect x="595.0" y="524.1" width="5.3" height="5.3"/>
<rect x="601.6" y="524.1" width="5.3" height="5.3"/>
<rect x="658.0" y="524.8" width="5.3" height="5.3"/>
<rect x="595.8" y="538.4" width="5.3" height="5.3"/>
<rect x="671.4" y="525.4" width="5.3" height="5.3"/>
<rect x="671.4" y="538.4" width="5.3" height="5.3"/>
</g>
<g fill="#00B534">
<path d="M475.1 475.5l3.85 6.6h-7.7z"/>
<path d="M489.6 466.0l3.85 6.6h-7.7z"/>
<path d="M442.8 442.3l3.85 6.6h-7.7z"/>
<path d="M442.7 438.1l3.85 6.6h-7.7z"/>
<path d="M442.7 415.2l3.85 6.6h-7.7z"/>
<path d="M479.6 459.3l3.85 6.6h-7.7z"/>
<path d="M450.7 449.5l3.85 6.6h-7.7z"/>
<path d="M484.7 468.2l3.85 6.6h-7.7z"/>
<path d="M425.9 410.7l3.85 6.6h-7.7z"/>
<path d="M423.3 451.5l3.85 6.6h-7.7z"/>
<path d="M425.5 445.7l3.85 6.6h-7.7z"/>
<path d="M440.1 464.9l3.85 6.6h-7.7z"/>
<path d="M422.5 436.3l3.85 6.6h-7.7z"/>
<path d="M449.2 461.6l3.85 6.6h-7.7z"/>
<path d="M460.0 469.7l3.85 6.6h-7.7z"/>
<path d="M438.1 460.3l3.85 6.6h-7.7z"/>
<path d="M442.4 465.5l3.85 6.6h-7.7z"/>
<path d="M422.6 440.6l3.85 6.6h-7.7z"/>
<path d="M427.8 438.7l3.85 6.6h-7.7z"/>
<path d="M433.8 447.4l3.85 6.6h-7.7z"/>
<path d="M469.9 521.9l3.85 6.6h-7.7z"/>
<path d="M462.2 505.7l3.85 6.6h-7.7z"/>
<path d="M474.1 510.2l3.85 6.6h-7.7z"/>
<path d="M514.2 521.2l3.85 6.6h-7.7z"/>
<path d="M475.4 531.4l3.85 6.6h-7.7z"/>
<path d="M487.7 518.3l3.85 6.6h-7.7z"/>
<path d="M447.0 485.6l3.85 6.6h-7.7z"/>
<path d="M469.3 531.6l3.85 6.6h-7.7z"/>
<path d="M504.0 538.2l3.85 6.6h-7.7z"/>
<path d="M507.4 529.9l3.85 6.6h-7.7z"/>
<path d="M482.3 509.1l3.85 6.6h-7.7z"/>
<path d="M451.0 519.0l3.85 6.6h-7.7z"/>
<path d="M531.2 513.1l3.85 6.6h-7.7z"/>
<path d="M546.7 523.3l3.85 6.6h-7.7z"/>
<path d="M512.1 532.0l3.85 6.6h-7.7z"/>
<path d="M468.6 530.4l3.85 6.6h-7.7z"/>
<path d="M494.2 528.1l3.85 6.6h-7.7z"/>
<path d="M454.3 489.4l3.85 6.6h-7.7z"/>
<path d="M472.1 514.3l3.85 6.6h-7.7z"/>
<path d="M470.0 525.1l3.85 6.6h-7.7z"/>
<path d="M450.7 517.1l3.85 6.6h-7.7z"/>
<path d="M526.2 524.8l3.85 6.6h-7.7z"/>
<path d="M471.4 515.5l3.85 6.6h-7.7z"/>
<path d="M481.2 519.2l3.85 6.6h-7.7z"/>
<path d="M472.9 527.1l3.85 6.6h-7.7z"/>
<path d="M451.1 473.2l3.85 6.6h-7.7z"/>
<path d="M449.6 475.4l3.85 6.6h-7.7z"/>
<path d="M456.0 516.2l3.85 6.6h-7.7z"/>
<path d="M378.5 375.7l3.85 6.6h-7.7z"/>
<path d="M382.9 390.6l3.85 6.6h-7.7z"/>
<path d="M392.0 409.5l3.85 6.6h-7.7z"/>
<path d="M405.9 407.4l3.85 6.6h-7.7z"/>
<path d="M412.9 415.6l3.85 6.6h-7.7z"/>
<path d="M414.3 420.3l3.85 6.6h-7.7z"/>
<path d="M406.2 418.2l3.85 6.6h-7.7z"/>
<path d="M429.8 415.6l3.85 6.6h-7.7z"/>
<path d="M405.5 417.9l3.85 6.6h-7.7z"/>
<path d="M414.3 420.6l3.85 6.6h-7.7z"/>
<path d="M404.1 427.4l3.85 6.6h-7.7z"/>
<path d="M410.9 427.4l3.85 6.6h-7.7z"/>
<path d="M417.0 427.4l3.85 6.6h-7.7z"/>
<path d="M416.3 434.1l3.85 6.6h-7.7z"/>
<path d="M407.5 440.2l3.85 6.6h-7.7z"/>
<path d="M424.4 448.3l3.85 6.6h-7.7z"/>
<path d="M429.8 447.6l3.85 6.6h-7.7z"/>
<path d="M419.0 456.4l3.85 6.6h-7.7z"/>
<path d="M431.1 458.6l3.85 6.6h-7.7z"/>
<path d="M431.1 462.6l3.85 6.6h-7.7z"/>
<path d="M431.1 466.6l3.85 6.6h-7.7z"/>
<path d="M440.6 478.6l3.85 6.6h-7.7z"/>
<path d="M423.0 496.2l3.85 6.6h-7.7z"/>
<path d="M441.2 479.2l3.85 6.6h-7.7z"/>
<path d="M447.8 484.5l3.85 6.6h-7.7z"/>
<path d="M447.1 504.2l3.85 6.6h-7.7z"/>
<path d="M474.5 535.6l3.85 6.6h-7.7z"/>
<path d="M609.0 512.4l3.85 6.6h-7.7z"/>
<path d="M597.6 522.1l3.85 6.6h-7.7z"/>
<path d="M604.2 522.1l3.85 6.6h-7.7z"/>
<path d="M660.6 522.8l3.85 6.6h-7.7z"/>
<path d="M598.4 536.4l3.85 6.6h-7.7z"/>
</g>
<g fill="#F9655A">
<circle cx="509.5" cy="492.9" r="2.95"/>
<circle cx="470.8" cy="471.3" r="2.95"/>
<circle cx="583.8" cy="514.0" r="2.95"/>
<circle cx="581.4" cy="511.6" r="2.95"/>
<circle cx="494.8" cy="494.8" r="2.95"/>
<circle cx="515.6" cy="510.8" r="2.95"/>
<circle cx="425.2" cy="456.0" r="2.95"/>
<circle cx="433.4" cy="446.0" r="2.95"/>
<circle cx="449.3" cy="463.1" r="2.95"/>
<circle cx="430.8" cy="465.2" r="2.95"/>
<circle cx="436.6" cy="456.1" r="2.95"/>
<circle cx="459.5" cy="472.2" r="2.95"/>
<circle cx="460.5" cy="469.8" r="2.95"/>
<circle cx="431.9" cy="447.5" r="2.95"/>
<circle cx="423.3" cy="448.9" r="2.95"/>
<circle cx="418.7" cy="433.5" r="2.95"/>
<circle cx="427.3" cy="460.7" r="2.95"/>
<circle cx="439.1" cy="454.2" r="2.95"/>
<circle cx="451.6" cy="469.0" r="2.95"/>
<circle cx="435.3" cy="454.4" r="2.95"/>
<circle cx="420.0" cy="454.3" r="2.95"/>
<circle cx="442.7" cy="456.8" r="2.95"/>
<circle cx="420.0" cy="444.4" r="2.95"/>
<circle cx="467.1" cy="533.6" r="2.95"/>
<circle cx="446.1" cy="494.9" r="2.95"/>
<circle cx="467.7" cy="525.2" r="2.95"/>
<circle cx="450.8" cy="513.2" r="2.95"/>
<circle cx="528.1" cy="524.4" r="2.95"/>
<circle cx="472.0" cy="487.0" r="2.95"/>
<circle cx="467.4" cy="523.6" r="2.95"/>
<circle cx="495.2" cy="527.9" r="2.95"/>
<circle cx="513.3" cy="528.1" r="2.95"/>
<circle cx="515.3" cy="542.3" r="2.95"/>
<circle cx="478.5" cy="517.2" r="2.95"/>
<circle cx="466.9" cy="508.2" r="2.95"/>
<circle cx="491.6" cy="517.1" r="2.95"/>
<circle cx="445.7" cy="492.1" r="2.95"/>
<circle cx="482.4" cy="505.1" r="2.95"/>
<circle cx="459.6" cy="527.1" r="2.95"/>
<circle cx="475.4" cy="512.9" r="2.95"/>
<circle cx="539.1" cy="528.9" r="2.95"/>
<circle cx="510.8" cy="516.8" r="2.95"/>
<circle cx="462.2" cy="496.3" r="2.95"/>
<circle cx="500.9" cy="521.5" r="2.95"/>
<circle cx="505.2" cy="509.3" r="2.95"/>
<circle cx="536.4" cy="527.3" r="2.95"/>
<circle cx="449.8" cy="489.2" r="2.95"/>
<circle cx="445.4" cy="509.6" r="2.95"/>
<circle cx="486.1" cy="536.1" r="2.95"/>
<circle cx="522.5" cy="517.4" r="2.95"/>
<circle cx="468.6" cy="482.6" r="2.95"/>
<circle cx="448.5" cy="481.4" r="2.95"/>
<circle cx="453.7" cy="477.7" r="2.95"/>
<circle cx="462.4" cy="505.3" r="2.95"/>
<circle cx="535.9" cy="539.4" r="2.95"/>
<circle cx="473.0" cy="491.1" r="2.95"/>
<circle cx="464.8" cy="515.0" r="2.95"/>
<circle cx="451.9" cy="475.3" r="2.95"/>
<circle cx="506.3" cy="520.2" r="2.95"/>
<circle cx="488.1" cy="536.0" r="2.95"/>
<circle cx="465.9" cy="484.1" r="2.95"/>
<circle cx="455.0" cy="483.2" r="2.95"/>
<circle cx="470.7" cy="522.2" r="2.95"/>
<circle cx="487.5" cy="537.0" r="2.95"/>
<circle cx="454.1" cy="508.9" r="2.95"/>
<circle cx="462.3" cy="482.2" r="2.95"/>
<circle cx="481.9" cy="529.4" r="2.95"/>
<circle cx="474.3" cy="508.0" r="2.95"/>
<circle cx="496.1" cy="534.0" r="2.95"/>
<circle cx="500.4" cy="531.7" r="2.95"/>
<circle cx="492.8" cy="528.0" r="2.95"/>
<circle cx="484.6" cy="510.9" r="2.95"/>
<circle cx="466.7" cy="507.6" r="2.95"/>
<circle cx="468.4" cy="510.6" r="2.95"/>
<circle cx="504.7" cy="513.3" r="2.95"/>
<circle cx="467.3" cy="514.5" r="2.95"/>
<circle cx="474.5" cy="502.6" r="2.95"/>
<circle cx="477.7" cy="508.3" r="2.95"/>
<circle cx="460.5" cy="521.1" r="2.95"/>
<circle cx="529.1" cy="524.0" r="2.95"/>
<circle cx="499.0" cy="531.5" r="2.95"/>
<circle cx="481.6" cy="517.1" r="2.95"/>
<circle cx="501.3" cy="517.5" r="2.95"/>
<circle cx="498.1" cy="536.6" r="2.95"/>
<circle cx="487.0" cy="515.0" r="2.95"/>
<circle cx="542.9" cy="528.1" r="2.95"/>
<circle cx="533.9" cy="532.4" r="2.95"/>
<circle cx="468.4" cy="499.8" r="2.95"/>
<circle cx="506.1" cy="509.6" r="2.95"/>
<circle cx="525.9" cy="539.8" r="2.95"/>
<circle cx="482.6" cy="532.0" r="2.95"/>
<circle cx="496.1" cy="540.2" r="2.95"/>
<circle cx="495.6" cy="512.5" r="2.95"/>
<circle cx="455.1" cy="528.0" r="2.95"/>
<circle cx="499.6" cy="518.5" r="2.95"/>
<circle cx="491.5" cy="508.7" r="2.95"/>
<circle cx="444.6" cy="498.4" r="2.95"/>
<circle cx="483.5" cy="524.6" r="2.95"/>
<circle cx="467.9" cy="521.0" r="2.95"/>
<circle cx="479.9" cy="500.1" r="2.95"/>
<circle cx="480.3" cy="494.1" r="2.95"/>
<circle cx="491.2" cy="500.5" r="2.95"/>
<circle cx="487.1" cy="515.5" r="2.95"/>
<circle cx="502.0" cy="520.9" r="2.95"/>
<circle cx="455.9" cy="482.5" r="2.95"/>
<circle cx="478.7" cy="518.9" r="2.95"/>
<circle cx="529.6" cy="523.5" r="2.95"/>
<circle cx="513.7" cy="516.8" r="2.95"/>
<circle cx="501.2" cy="523.6" r="2.95"/>
<circle cx="463.9" cy="489.1" r="2.95"/>
<circle cx="495.6" cy="524.3" r="2.95"/>
<circle cx="457.7" cy="481.3" r="2.95"/>
<circle cx="485.2" cy="497.1" r="2.95"/>
<circle cx="446.1" cy="483.1" r="2.95"/>
<circle cx="484.9" cy="530.3" r="2.95"/>
<circle cx="510.5" cy="521.5" r="2.95"/>
<circle cx="533.2" cy="540.9" r="2.95"/>
<circle cx="456.3" cy="524.1" r="2.95"/>
<circle cx="477.4" cy="532.8" r="2.95"/>
<circle cx="466.6" cy="478.6" r="2.95"/>
<circle cx="466.8" cy="481.3" r="2.95"/>
<circle cx="467.0" cy="520.7" r="2.95"/>
<circle cx="471.7" cy="509.2" r="2.95"/>
<circle cx="479.4" cy="507.9" r="2.95"/>
<circle cx="448.4" cy="484.0" r="2.95"/>
<circle cx="470.7" cy="526.4" r="2.95"/>
<circle cx="449.5" cy="521.1" r="2.95"/>
<circle cx="542.1" cy="533.4" r="2.95"/>
<circle cx="447.1" cy="483.0" r="2.95"/>
<circle cx="464.0" cy="517.6" r="2.95"/>
<circle cx="540.8" cy="520.1" r="2.95"/>
<circle cx="535.2" cy="529.0" r="2.95"/>
<circle cx="490.6" cy="509.8" r="2.95"/>
<circle cx="451.2" cy="485.9" r="2.95"/>
<circle cx="454.4" cy="483.6" r="2.95"/>
<circle cx="499.1" cy="509.6" r="2.95"/>
<circle cx="493.6" cy="523.8" r="2.95"/>
<circle cx="450.2" cy="521.3" r="2.95"/>
<circle cx="501.6" cy="530.1" r="2.95"/>
<circle cx="454.9" cy="512.2" r="2.95"/>
<circle cx="534.6" cy="534.3" r="2.95"/>
<circle cx="471.1" cy="527.2" r="2.95"/>
<circle cx="451.0" cy="487.6" r="2.95"/>
<circle cx="521.1" cy="518.4" r="2.95"/>
<circle cx="447.1" cy="503.7" r="2.95"/>
<circle cx="470.1" cy="499.9" r="2.95"/>
<circle cx="455.4" cy="494.5" r="2.95"/>
<circle cx="451.1" cy="492.0" r="2.95"/>
<circle cx="467.5" cy="532.9" r="2.95"/>
<circle cx="473.2" cy="537.1" r="2.95"/>
<circle cx="468.3" cy="483.1" r="2.95"/>
<circle cx="468.2" cy="492.9" r="2.95"/>
<circle cx="448.2" cy="483.9" r="2.95"/>
<circle cx="506.0" cy="534.2" r="2.95"/>
<circle cx="471.2" cy="485.6" r="2.95"/>
<circle cx="488.6" cy="520.1" r="2.95"/>
<circle cx="499.7" cy="508.4" r="2.95"/>
<circle cx="459.4" cy="500.3" r="2.95"/>
<circle cx="449.0" cy="494.0" r="2.95"/>
<circle cx="514.7" cy="511.8" r="2.95"/>
<circle cx="532.7" cy="537.2" r="2.95"/>
<circle cx="493.4" cy="539.7" r="2.95"/>
<circle cx="461.6" cy="491.2" r="2.95"/>
<circle cx="478.5" cy="493.0" r="2.95"/>
<circle cx="488.5" cy="531.5" r="2.95"/>
<circle cx="472.9" cy="499.3" r="2.95"/>
<circle cx="497.2" cy="503.6" r="2.95"/>
<circle cx="497.4" cy="504.3" r="2.95"/>
<circle cx="496.9" cy="518.7" r="2.95"/>
<circle cx="487.2" cy="523.6" r="2.95"/>
<circle cx="531.8" cy="522.3" r="2.95"/>
<circle cx="487.4" cy="514.9" r="2.95"/>
<circle cx="453.7" cy="489.9" r="2.95"/>
<circle cx="470.2" cy="509.5" r="2.95"/>
<circle cx="451.3" cy="505.4" r="2.95"/>
<circle cx="474.1" cy="506.8" r="2.95"/>
<circle cx="509.0" cy="539.6" r="2.95"/>
<circle cx="515.8" cy="526.6" r="2.95"/>
<circle cx="475.1" cy="524.7" r="2.95"/>
<circle cx="475.3" cy="520.0" r="2.95"/>
<circle cx="495.1" cy="507.8" r="2.95"/>
<circle cx="502.6" cy="532.9" r="2.95"/>
<circle cx="467.2" cy="519.2" r="2.95"/>
<circle cx="477.2" cy="535.1" r="2.95"/>
<circle cx="484.1" cy="516.6" r="2.95"/>
<circle cx="492.2" cy="533.0" r="2.95"/>
<circle cx="449.3" cy="501.9" r="2.95"/>
<circle cx="496.5" cy="518.6" r="2.95"/>
<circle cx="484.0" cy="501.2" r="2.95"/>
<circle cx="486.1" cy="499.3" r="2.95"/>
<circle cx="465.0" cy="515.7" r="2.95"/>
<circle cx="544.4" cy="518.0" r="2.95"/>
<circle cx="457.7" cy="500.1" r="2.95"/>
<circle cx="526.1" cy="528.0" r="2.95"/>
<circle cx="507.2" cy="514.6" r="2.95"/>
<circle cx="465.8" cy="520.0" r="2.95"/>
<circle cx="474.6" cy="531.9" r="2.95"/>
<circle cx="496.2" cy="521.4" r="2.95"/>
<circle cx="521.8" cy="528.3" r="2.95"/>
<circle cx="470.6" cy="531.1" r="2.95"/>
<circle cx="520.8" cy="515.7" r="2.95"/>
<circle cx="477.3" cy="498.0" r="2.95"/>
<circle cx="476.5" cy="493.4" r="2.95"/>
<circle cx="492.3" cy="510.0" r="2.95"/>
<circle cx="448.5" cy="488.5" r="2.95"/>
<circle cx="487.8" cy="538.4" r="2.95"/>
<circle cx="456.0" cy="476.4" r="2.95"/>
<circle cx="444.6" cy="495.1" r="2.95"/>
<circle cx="512.1" cy="517.0" r="2.95"/>
<circle cx="506.2" cy="512.1" r="2.95"/>
<circle cx="478.9" cy="492.2" r="2.95"/>
<circle cx="473.2" cy="528.3" r="2.95"/>
<circle cx="493.1" cy="530.8" r="2.95"/>
<circle cx="508.7" cy="513.7" r="2.95"/>
<circle cx="541.8" cy="516.8" r="2.95"/>
<circle cx="488.5" cy="512.0" r="2.95"/>
<circle cx="451.3" cy="487.8" r="2.95"/>
<circle cx="458.9" cy="497.5" r="2.95"/>
<circle cx="541.4" cy="523.3" r="2.95"/>
<circle cx="466.8" cy="514.6" r="2.95"/>
<circle cx="507.2" cy="512.5" r="2.95"/>
<circle cx="497.7" cy="533.1" r="2.95"/>
<circle cx="475.1" cy="530.9" r="2.95"/>
<circle cx="536.4" cy="520.6" r="2.95"/>
<circle cx="451.7" cy="521.3" r="2.95"/>
<circle cx="499.3" cy="507.5" r="2.95"/>
<circle cx="472.2" cy="483.9" r="2.95"/>
<circle cx="536.2" cy="516.4" r="2.95"/>
<circle cx="498.3" cy="523.9" r="2.95"/>
<circle cx="476.5" cy="495.0" r="2.95"/>
<circle cx="496.9" cy="532.6" r="2.95"/>
<circle cx="457.6" cy="483.6" r="2.95"/>
<circle cx="472.2" cy="518.0" r="2.95"/>
<circle cx="463.2" cy="521.2" r="2.95"/>
<circle cx="464.2" cy="495.9" r="2.95"/>
<circle cx="514.8" cy="536.1" r="2.95"/>
<circle cx="531.7" cy="534.6" r="2.95"/>
<circle cx="474.8" cy="529.5" r="2.95"/>
<circle cx="464.3" cy="501.3" r="2.95"/>
<circle cx="517.8" cy="532.9" r="2.95"/>
<circle cx="455.2" cy="500.9" r="2.95"/>
<circle cx="463.3" cy="499.9" r="2.95"/>
<circle cx="468.2" cy="522.7" r="2.95"/>
<circle cx="474.2" cy="510.9" r="2.95"/>
<circle cx="459.0" cy="505.6" r="2.95"/>
<circle cx="445.9" cy="495.1" r="2.95"/>
<circle cx="522.0" cy="529.8" r="2.95"/>
<circle cx="472.4" cy="484.5" r="2.95"/>
<circle cx="484.9" cy="498.5" r="2.95"/>
<circle cx="462.1" cy="494.8" r="2.95"/>
<circle cx="482.1" cy="503.2" r="2.95"/>
<circle cx="517.1" cy="519.3" r="2.95"/>
<circle cx="479.9" cy="538.7" r="2.95"/>
<circle cx="453.8" cy="520.6" r="2.95"/>
<circle cx="477.1" cy="530.1" r="2.95"/>
<circle cx="504.7" cy="509.8" r="2.95"/>
<circle cx="448.5" cy="522.1" r="2.95"/>
<circle cx="504.3" cy="510.8" r="2.95"/>
<circle cx="466.7" cy="479.7" r="2.95"/>
<circle cx="451.3" cy="488.2" r="2.95"/>
<circle cx="482.1" cy="538.8" r="2.95"/>
<circle cx="470.0" cy="529.2" r="2.95"/>
<circle cx="465.2" cy="529.4" r="2.95"/>
<circle cx="512.6" cy="516.0" r="2.95"/>
<circle cx="463.6" cy="488.9" r="2.95"/>
<circle cx="459.9" cy="484.8" r="2.95"/>
<circle cx="528.1" cy="540.1" r="2.95"/>
<circle cx="527.9" cy="536.7" r="2.95"/>
<circle cx="481.9" cy="505.6" r="2.95"/>
<circle cx="511.5" cy="511.9" r="2.95"/>
<circle cx="467.3" cy="534.5" r="2.95"/>
<circle cx="481.9" cy="506.2" r="2.95"/>
<circle cx="526.5" cy="537.9" r="2.95"/>
<circle cx="533.9" cy="533.4" r="2.95"/>
<circle cx="485.3" cy="521.2" r="2.95"/>
<circle cx="515.6" cy="514.4" r="2.95"/>
<circle cx="498.9" cy="533.2" r="2.95"/>
<circle cx="545.9" cy="525.9" r="2.95"/>
<circle cx="474.5" cy="526.8" r="2.95"/>
<circle cx="524.6" cy="536.7" r="2.95"/>
<circle cx="483.3" cy="526.9" r="2.95"/>
<circle cx="504.1" cy="517.7" r="2.95"/>
<circle cx="461.0" cy="501.9" r="2.95"/>
<circle cx="444.0" cy="520.7" r="2.95"/>
<circle cx="447.3" cy="504.4" r="2.95"/>
<circle cx="500.7" cy="541.1" r="2.95"/>
<circle cx="464.4" cy="493.9" r="2.95"/>
<circle cx="481.0" cy="497.2" r="2.95"/>
<circle cx="511.6" cy="539.1" r="2.95"/>
<circle cx="476.3" cy="493.9" r="2.95"/>
<circle cx="452.2" cy="481.1" r="2.95"/>
<circle cx="478.1" cy="505.7" r="2.95"/>
<circle cx="479.1" cy="499.5" r="2.95"/>
<circle cx="500.8" cy="540.9" r="2.95"/>
<circle cx="455.2" cy="481.8" r="2.95"/>
<circle cx="459.2" cy="523.1" r="2.95"/>
<circle cx="511.5" cy="524.1" r="2.95"/>
<circle cx="479.0" cy="510.0" r="2.95"/>
<circle cx="461.2" cy="530.3" r="2.95"/>
<circle cx="485.0" cy="512.9" r="2.95"/>
<circle cx="489.1" cy="521.6" r="2.95"/>
<circle cx="538.4" cy="534.8" r="2.95"/>
<circle cx="504.4" cy="518.8" r="2.95"/>
<circle cx="543.6" cy="520.0" r="2.95"/>
<circle cx="493.9" cy="529.5" r="2.95"/>
<circle cx="465.8" cy="524.6" r="2.95"/>
<circle cx="455.6" cy="507.3" r="2.95"/>
<circle cx="453.2" cy="517.8" r="2.95"/>
<circle cx="482.0" cy="515.7" r="2.95"/>
<circle cx="500.5" cy="533.7" r="2.95"/>
<circle cx="457.1" cy="506.2" r="2.95"/>
<circle cx="460.2" cy="520.7" r="2.95"/>
<circle cx="492.0" cy="535.4" r="2.95"/>
<circle cx="454.9" cy="481.3" r="2.95"/>
<circle cx="473.3" cy="507.1" r="2.95"/>
<circle cx="494.1" cy="508.5" r="2.95"/>
<circle cx="460.7" cy="501.9" r="2.95"/>
<circle cx="471.0" cy="500.0" r="2.95"/>
<circle cx="493.6" cy="504.0" r="2.95"/>
<circle cx="460.3" cy="515.2" r="2.95"/>
<circle cx="469.5" cy="488.2" r="2.95"/>
<circle cx="462.5" cy="484.0" r="2.95"/>
<circle cx="449.9" cy="490.1" r="2.95"/>
<circle cx="489.6" cy="513.1" r="2.95"/>
<circle cx="541.6" cy="532.3" r="2.95"/>
<circle cx="482.0" cy="509.9" r="2.95"/>
<circle cx="459.0" cy="508.8" r="2.95"/>
<circle cx="534.5" cy="538.9" r="2.95"/>
<circle cx="486.4" cy="515.1" r="2.95"/>
<circle cx="476.1" cy="518.9" r="2.95"/>
<circle cx="458.4" cy="484.0" r="2.95"/>
<circle cx="487.7" cy="506.3" r="2.95"/>
<circle cx="444.9" cy="518.9" r="2.95"/>
<circle cx="511.3" cy="513.7" r="2.95"/>
<circle cx="468.2" cy="508.9" r="2.95"/>
<circle cx="477.3" cy="489.8" r="2.95"/>
<circle cx="460.3" cy="492.6" r="2.95"/>
<circle cx="507.9" cy="538.4" r="2.95"/>
<circle cx="492.1" cy="523.0" r="2.95"/>
<circle cx="524.3" cy="539.4" r="2.95"/>
<circle cx="460.9" cy="524.0" r="2.95"/>
<circle cx="503.1" cy="513.0" r="2.95"/>
<circle cx="469.7" cy="509.8" r="2.95"/>
<circle cx="527.4" cy="542.5" r="2.95"/>
<circle cx="467.3" cy="505.5" r="2.95"/>
<circle cx="476.3" cy="525.7" r="2.95"/>
<circle cx="505.5" cy="522.5" r="2.95"/>
<circle cx="514.0" cy="511.4" r="2.95"/>
<circle cx="509.3" cy="537.9" r="2.95"/>
<circle cx="464.1" cy="525.8" r="2.95"/>
<circle cx="493.5" cy="529.7" r="2.95"/>
<circle cx="473.4" cy="500.6" r="2.95"/>
<circle cx="458.8" cy="531.0" r="2.95"/>
<circle cx="504.9" cy="535.9" r="2.95"/>
<circle cx="470.5" cy="533.3" r="2.95"/>
<circle cx="443.9" cy="516.1" r="2.95"/>
<circle cx="473.6" cy="500.3" r="2.95"/>
<circle cx="446.5" cy="493.1" r="2.95"/>
<circle cx="491.0" cy="515.0" r="2.95"/>
<circle cx="490.3" cy="527.3" r="2.95"/>
<circle cx="467.8" cy="520.4" r="2.95"/>
<circle cx="490.5" cy="529.8" r="2.95"/>
<circle cx="500.4" cy="522.9" r="2.95"/>
<circle cx="467.3" cy="487.4" r="2.95"/>
<circle cx="450.0" cy="480.1" r="2.95"/>
<circle cx="474.6" cy="490.0" r="2.95"/>
<circle cx="525.5" cy="519.8" r="2.95"/>
<circle cx="445.4" cy="510.0" r="2.95"/>
<circle cx="509.8" cy="535.6" r="2.95"/>
<circle cx="458.8" cy="529.0" r="2.95"/>
<circle cx="526.4" cy="527.8" r="2.95"/>
<circle cx="448.6" cy="473.2" r="2.95"/>
<circle cx="478.7" cy="519.9" r="2.95"/>
<circle cx="488.8" cy="516.6" r="2.95"/>
<circle cx="533.5" cy="538.4" r="2.95"/>
<circle cx="468.6" cy="527.7" r="2.95"/>
<circle cx="542.9" cy="530.9" r="2.95"/>
<circle cx="523.8" cy="531.3" r="2.95"/>
<circle cx="495.2" cy="504.2" r="2.95"/>
<circle cx="483.3" cy="523.2" r="2.95"/>
<circle cx="514.8" cy="536.5" r="2.95"/>
<circle cx="547.2" cy="520.7" r="2.95"/>
<circle cx="523.3" cy="539.8" r="2.95"/>
<circle cx="533.7" cy="537.7" r="2.95"/>
<circle cx="534.1" cy="518.0" r="2.95"/>
<circle cx="486.0" cy="523.1" r="2.95"/>
<circle cx="477.5" cy="515.8" r="2.95"/>
<circle cx="486.9" cy="526.7" r="2.95"/>
<circle cx="511.2" cy="524.7" r="2.95"/>
<circle cx="444.5" cy="515.7" r="2.95"/>
<circle cx="488.2" cy="539.5" r="2.95"/>
<circle cx="466.4" cy="508.2" r="2.95"/>
<circle cx="475.3" cy="511.0" r="2.95"/>
<circle cx="529.1" cy="534.9" r="2.95"/>
<circle cx="492.2" cy="532.3" r="2.95"/>
<circle cx="539.1" cy="520.6" r="2.95"/>
<circle cx="501.8" cy="517.1" r="2.95"/>
<circle cx="476.1" cy="489.6" r="2.95"/>
<circle cx="449.1" cy="501.2" r="2.95"/>
<circle cx="471.5" cy="495.1" r="2.95"/>
<circle cx="478.3" cy="523.4" r="2.95"/>
<circle cx="494.4" cy="505.9" r="2.95"/>
<circle cx="496.5" cy="534.4" r="2.95"/>
<circle cx="466.9" cy="481.8" r="2.95"/>
<circle cx="512.2" cy="525.7" r="2.95"/>
<circle cx="514.7" cy="537.2" r="2.95"/>
<circle cx="468.5" cy="522.7" r="2.95"/>
<circle cx="499.5" cy="508.4" r="2.95"/>
<circle cx="539.4" cy="540.5" r="2.95"/>
<circle cx="448.9" cy="513.8" r="2.95"/>
<circle cx="464.5" cy="488.8" r="2.95"/>
<circle cx="478.4" cy="491.6" r="2.95"/>
<circle cx="459.0" cy="519.6" r="2.95"/>
<circle cx="537.1" cy="516.0" r="2.95"/>
<circle cx="452.9" cy="493.0" r="2.95"/>
<circle cx="495.2" cy="525.6" r="2.95"/>
<circle cx="522.7" cy="543.5" r="2.95"/>
<circle cx="470.0" cy="530.0" r="2.95"/>
<circle cx="494.0" cy="509.0" r="2.95"/>
<circle cx="467.4" cy="511.0" r="2.95"/>
<circle cx="462.7" cy="521.5" r="2.95"/>
<circle cx="449.9" cy="496.1" r="2.95"/>
<circle cx="464.9" cy="499.6" r="2.95"/>
<circle cx="445.8" cy="515.9" r="2.95"/>
<circle cx="545.1" cy="526.0" r="2.95"/>
<circle cx="526.8" cy="541.5" r="2.95"/>
<circle cx="543.8" cy="521.1" r="2.95"/>
<circle cx="463.6" cy="506.6" r="2.95"/>
<circle cx="468.7" cy="519.6" r="2.95"/>
<circle cx="516.2" cy="540.9" r="2.95"/>
<circle cx="541.9" cy="536.7" r="2.95"/>
<circle cx="534.9" cy="530.5" r="2.95"/>
<circle cx="523.7" cy="529.4" r="2.95"/>
<circle cx="545.2" cy="523.8" r="2.95"/>
<circle cx="508.2" cy="529.9" r="2.95"/>
<circle cx="484.2" cy="528.1" r="2.95"/>
<circle cx="447.5" cy="520.8" r="2.95"/>
<circle cx="446.1" cy="514.7" r="2.95"/>
<circle cx="469.8" cy="490.1" r="2.95"/>
<circle cx="472.3" cy="499.9" r="2.95"/>
<circle cx="454.6" cy="475.1" r="2.95"/>
<circle cx="502.0" cy="512.3" r="2.95"/>
<circle cx="503.4" cy="524.6" r="2.95"/>
<circle cx="457.3" cy="480.9" r="2.95"/>
<circle cx="457.3" cy="514.4" r="2.95"/>
<circle cx="451.4" cy="475.1" r="2.95"/>
<circle cx="465.0" cy="490.9" r="2.95"/>
<circle cx="523.7" cy="543.3" r="2.95"/>
<circle cx="446.7" cy="521.7" r="2.95"/>
<circle cx="505.3" cy="522.5" r="2.95"/>
<circle cx="450.8" cy="499.9" r="2.95"/>
<circle cx="478.2" cy="528.5" r="2.95"/>
<circle cx="447.5" cy="483.4" r="2.95"/>
<circle cx="471.7" cy="523.8" r="2.95"/>
<circle cx="534.1" cy="533.0" r="2.95"/>
<circle cx="507.9" cy="526.2" r="2.95"/>
<circle cx="475.1" cy="528.7" r="2.95"/>
<circle cx="465.0" cy="478.8" r="2.95"/>
<circle cx="543.8" cy="532.5" r="2.95"/>
<circle cx="482.5" cy="492.9" r="2.95"/>
<circle cx="457.6" cy="492.2" r="2.95"/>
<circle cx="504.9" cy="527.5" r="2.95"/>
<circle cx="485.1" cy="499.8" r="2.95"/>
<circle cx="495.9" cy="539.8" r="2.95"/>
<circle cx="496.5" cy="516.3" r="2.95"/>
<circle cx="461.3" cy="493.9" r="2.95"/>
<circle cx="487.1" cy="514.4" r="2.95"/>
<circle cx="501.8" cy="534.3" r="2.95"/>
<circle cx="450.2" cy="477.5" r="2.95"/>
<circle cx="445.0" cy="492.8" r="2.95"/>
<circle cx="483.8" cy="533.1" r="2.95"/>
<circle cx="469.3" cy="511.3" r="2.95"/>
<circle cx="498.7" cy="527.8" r="2.95"/>
<circle cx="521.3" cy="536.5" r="2.95"/>
<circle cx="444.8" cy="493.3" r="2.95"/>
<circle cx="458.1" cy="519.8" r="2.95"/>
<circle cx="491.5" cy="533.5" r="2.95"/>
<circle cx="525.1" cy="543.6" r="2.95"/>
<circle cx="444.6" cy="513.5" r="2.95"/>
<circle cx="466.5" cy="498.5" r="2.95"/>
<circle cx="452.2" cy="500.1" r="2.95"/>
<circle cx="510.5" cy="522.3" r="2.95"/>
<circle cx="475.1" cy="498.9" r="2.95"/>
<circle cx="489.7" cy="539.9" r="2.95"/>
<circle cx="545.7" cy="530.7" r="2.95"/>
<circle cx="454.2" cy="476.3" r="2.95"/>
<circle cx="444.9" cy="516.6" r="2.95"/>
<circle cx="463.8" cy="509.4" r="2.95"/>
<circle cx="475.7" cy="505.8" r="2.95"/>
<circle cx="461.0" cy="526.9" r="2.95"/>
<circle cx="523.5" cy="529.9" r="2.95"/>
<circle cx="491.9" cy="509.1" r="2.95"/>
<circle cx="477.7" cy="499.9" r="2.95"/>
<circle cx="503.9" cy="528.6" r="2.95"/>
<circle cx="462.6" cy="529.8" r="2.95"/>
<circle cx="447.3" cy="500.9" r="2.95"/>
<circle cx="455.7" cy="478.7" r="2.95"/>
<circle cx="506.2" cy="524.9" r="2.95"/>
<circle cx="478.9" cy="507.9" r="2.95"/>
<circle cx="453.7" cy="477.5" r="2.95"/>
<circle cx="535.7" cy="525.5" r="2.95"/>
<circle cx="530.8" cy="534.9" r="2.95"/>
<circle cx="469.6" cy="485.4" r="2.95"/>
<circle cx="472.5" cy="518.9" r="2.95"/>
<circle cx="480.8" cy="530.7" r="2.95"/>
<circle cx="534.5" cy="523.3" r="2.95"/>
<circle cx="473.7" cy="502.5" r="2.95"/>
<circle cx="470.1" cy="502.2" r="2.95"/>
<circle cx="543.2" cy="532.6" r="2.95"/>
<circle cx="501.5" cy="536.5" r="2.95"/>
<circle cx="485.9" cy="521.6" r="2.95"/>
<circle cx="462.1" cy="518.7" r="2.95"/>
<circle cx="519.2" cy="542.2" r="2.95"/>
<circle cx="549.0" cy="516.2" r="2.95"/>
<circle cx="551.5" cy="516.2" r="2.95"/>
<circle cx="554.0" cy="516.2" r="2.95"/>
<circle cx="556.5" cy="516.2" r="2.95"/>
<circle cx="559.0" cy="516.2" r="2.95"/>
<circle cx="561.5" cy="516.2" r="2.95"/>
<circle cx="564.0" cy="516.2" r="2.95"/>
<circle cx="566.5" cy="516.2" r="2.95"/>
<circle cx="569.0" cy="516.2" r="2.95"/>
<circle cx="571.5" cy="516.2" r="2.95"/>
<circle cx="574.0" cy="516.2" r="2.95"/>
<circle cx="576.5" cy="516.2" r="2.95"/>
<circle cx="579.0" cy="516.2" r="2.95"/>
<circle cx="581.5" cy="516.2" r="2.95"/>
<circle cx="540.0" cy="526.7" r="2.95"/>
<circle cx="542.5" cy="526.7" r="2.95"/>
<circle cx="545.0" cy="526.7" r="2.95"/>
<circle cx="547.5" cy="526.7" r="2.95"/>
<circle cx="550.0" cy="526.7" r="2.95"/>
<circle cx="552.5" cy="526.7" r="2.95"/>
<circle cx="555.0" cy="526.7" r="2.95"/>
<circle cx="557.5" cy="526.7" r="2.95"/>
<circle cx="560.0" cy="526.7" r="2.95"/>
<circle cx="562.5" cy="526.7" r="2.95"/>
<circle cx="565.0" cy="526.7" r="2.95"/>
<circle cx="567.5" cy="526.7" r="2.95"/>
<circle cx="570.0" cy="526.7" r="2.95"/>
<circle cx="572.5" cy="526.7" r="2.95"/>
<circle cx="575.0" cy="526.7" r="2.95"/>
<circle cx="577.5" cy="526.7" r="2.95"/>
<circle cx="580.0" cy="526.7" r="2.95"/>
<circle cx="582.5" cy="526.7" r="2.95"/>
<circle cx="585.0" cy="526.7" r="2.95"/>
<circle cx="587.5" cy="526.7" r="2.95"/>
<circle cx="540.0" cy="540.0" r="2.95"/>
<circle cx="542.5" cy="540.0" r="2.95"/>
<circle cx="545.0" cy="540.0" r="2.95"/>
<circle cx="547.5" cy="540.0" r="2.95"/>
<circle cx="550.0" cy="540.0" r="2.95"/>
<circle cx="552.5" cy="540.0" r="2.95"/>
<circle cx="555.0" cy="540.0" r="2.95"/>
<circle cx="557.5" cy="540.0" r="2.95"/>
<circle cx="560.0" cy="540.0" r="2.95"/>
<circle cx="562.5" cy="540.0" r="2.95"/>
<circle cx="392.0" cy="365.9" r="2.95"/>
<circle cx="382.9" cy="391.7" r="2.95"/>
<circle cx="416.3" cy="418.3" r="2.95"/>
<circle cx="406.2" cy="425.7" r="2.95"/>
<circle cx="378.5" cy="434.8" r="2.95"/>
<circle cx="403.5" cy="437.3" r="2.95"/>
<circle cx="423.0" cy="432.0" r="2.95"/>
<circle cx="421.7" cy="436.0" r="2.95"/>
<circle cx="427.0" cy="440.0" r="2.95"/>
<circle cx="421.7" cy="444.0" r="2.95"/>
<circle cx="429.8" cy="445.6" r="2.95"/>
<circle cx="426.0" cy="434.0" r="2.95"/>
<circle cx="414.3" cy="456.2" r="2.95"/>
<circle cx="406.2" cy="461.2" r="2.95"/>
<circle cx="413.6" cy="465.9" r="2.95"/>
<circle cx="411.6" cy="474.0" r="2.95"/>
<circle cx="407.5" cy="482.7" r="2.95"/>
<circle cx="421.7" cy="460.5" r="2.95"/>
<circle cx="422.3" cy="466.6" r="2.95"/>
<circle cx="424.4" cy="471.3" r="2.95"/>
<circle cx="432.5" cy="455.0" r="2.95"/>
<circle cx="432.5" cy="460.5" r="2.95"/>
<circle cx="432.5" cy="482.0" r="2.95"/>
<circle cx="428.4" cy="488.1" r="2.95"/>
<circle cx="436.5" cy="488.8" r="2.95"/>
<circle cx="417.6" cy="499.6" r="2.95"/>
<circle cx="420.3" cy="497.6" r="2.95"/>
<circle cx="432.5" cy="503.7" r="2.95"/>
<circle cx="437.2" cy="502.3" r="2.95"/>
<circle cx="407.7" cy="483.3" r="2.95"/>
<circle cx="426.1" cy="488.5" r="2.95"/>
<circle cx="430.7" cy="488.5" r="2.95"/>
<circle cx="436.6" cy="488.5" r="2.95"/>
<circle cx="432.0" cy="482.0" r="2.95"/>
<circle cx="416.9" cy="499.7" r="2.95"/>
<circle cx="432.0" cy="504.3" r="2.95"/>
<circle cx="437.3" cy="503.0" r="2.95"/>
<circle cx="430.7" cy="511.5" r="2.95"/>
<circle cx="434.6" cy="512.8" r="2.95"/>
<circle cx="434.0" cy="515.5" r="2.95"/>
<circle cx="438.6" cy="520.0" r="2.95"/>
<circle cx="444.5" cy="512.8" r="2.95"/>
<circle cx="447.1" cy="510.9" r="2.95"/>
<circle cx="449.7" cy="522.0" r="2.95"/>
<circle cx="426.1" cy="541.8" r="2.95"/>
<circle cx="454.9" cy="452.0" r="2.95"/>
<circle cx="461.5" cy="458.5" r="2.95"/>
<circle cx="474.7" cy="460.2" r="2.95"/>
<circle cx="471.4" cy="466.8" r="2.95"/>
<circle cx="478.8" cy="474.2" r="2.95"/>
<circle cx="484.6" cy="480.0" r="2.95"/>
<circle cx="488.7" cy="476.7" r="2.95"/>
<circle cx="487.9" cy="484.9" r="2.95"/>
<circle cx="609.0" cy="517.0" r="2.95"/>
<circle cx="597.6" cy="526.7" r="2.95"/>
<circle cx="604.2" cy="526.7" r="2.95"/>
<circle cx="660.6" cy="527.4" r="2.95"/>
<circle cx="598.4" cy="541.0" r="2.95"/>
<circle cx="676.0" cy="517.2" r="2.95"/>
<circle cx="676.0" cy="528.0" r="2.95"/>
<circle cx="676.0" cy="535.0" r="2.95"/>
<circle cx="676.0" cy="540.8" r="2.95"/>
<circle cx="676.0" cy="544.7" r="2.95"/>
</g>
<line x1="365" y1="496.0" x2="674.5" y2="496.0" stroke="#7A0000" stroke-width="3.6" stroke-dasharray="15.2 15.8"/>
</g>
<rect x="365" y="324" width="309.5" height="263.9" fill="none" stroke="#333333" stroke-width="1"/>
<g font-family="Liberation Sans, sans-serif" font-size="15.5" fill="#000">
<text x="79.2" y="20.3">a</text>
<text x="374" y="19.9">b</text>
<text x="79.2" y="341.4">c</text>
<text x="374" y="341.6">d</text>
</g>
<g font-family="Liberation Sans, sans-serif" font-size="13" font-weight="bold" fill="#000" text-anchor="end">
<text x="63.5" y="18.5">100.0</text>
<text x="63.5" y="98.9">10.0</text>
<text x="63.5" y="179.3">1.0</text>
<text x="63.5" y="259.7">0.1</text>
<text x="63.5" y="340.0">100.0</text>
<text x="63.5" y="417.8">10.0</text>
<text x="63.5" y="495.7">1.0</text>
<text x="63.5" y="573.6">0.1</text>
</g>
<g stroke="#333333" stroke-width="1.4">
<line x1="67" y1="13.8" x2="71.5" y2="13.8"/>
<line x1="67" y1="94.2" x2="71.5" y2="94.2"/>
<line x1="67" y1="174.6" x2="71.5" y2="174.6"/>
<line x1="67" y1="255.0" x2="71.5" y2="255.0"/>
<line x1="67" y1="335.3" x2="71.5" y2="335.3"/>
<line x1="67" y1="413.1" x2="71.5" y2="413.1"/>
<line x1="67" y1="491.0" x2="71.5" y2="491.0"/>
<line x1="67" y1="568.9" x2="71.5" y2="568.9"/>
<line x1="107.8" y1="266.5" x2="107.8" y2="271.0"/>
<line x1="160.9" y1="266.5" x2="160.9" y2="271.0"/>
<line x1="213.9" y1="266.5" x2="213.9" y2="271.0"/>
<line x1="266.9" y1="266.5" x2="266.9" y2="271.0"/>
<line x1="319.9" y1="266.5" x2="319.9" y2="271.0"/>
<line x1="410.9" y1="258.85" x2="410.9" y2="263.35"/>
<line x1="467.5" y1="258.85" x2="467.5" y2="263.35"/>
<line x1="524.1" y1="258.85" x2="524.1" y2="263.35"/>
<line x1="580.7" y1="258.85" x2="580.7" y2="263.35"/>
<line x1="637.3" y1="258.85" x2="637.3" y2="263.35"/>
<line x1="136.0" y1="580.5" x2="136.0" y2="585.0"/>
<line x1="215.5" y1="580.5" x2="215.5" y2="585.0"/>
<line x1="295.0" y1="580.5" x2="295.0" y2="585.0"/>
<line x1="458.0" y1="587.9" x2="458.0" y2="592.4"/>
<line x1="562.0" y1="587.9" x2="562.0" y2="592.4"/>
<line x1="666.0" y1="587.9" x2="666.0" y2="592.4"/>
</g>
<g font-family="Liberation Sans, sans-serif" font-size="13" font-weight="bold" fill="#000" text-anchor="middle">
<text x="107.8" y="284.1">1e+02</text>
<text x="160.9" y="284.1">1e+03</text>
<text x="213.9" y="284.1">1e+04</text>
<text x="266.9" y="284.1">1e+05</text>
<text x="319.9" y="284.1">1e+06</text>
<text x="410.9" y="276.5">1e+01</text>
<text x="467.5" y="276.5">1e+02</text>
<text x="524.1" y="276.5">1e+03</text>
<text x="580.7" y="276.5">1e+04</text>
<text x="637.3" y="276.5">1e+05</text>
<text x="136.0" y="597.6">1e-04</text>
<text x="215.5" y="597.6">1e-01</text>
<text x="295.0" y="597.6">1e+02</text>
<text x="458.0" y="605.1">1e+01</text>
<text x="562.0" y="605.1">1e+03</text>
<text x="666.0" y="605.1">1e+05</text>
</g>
<g font-family="Liberation Sans, sans-serif" font-size="16.5" fill="#000">
<text x="207.5" y="303" font-weight="bold" text-anchor="middle">Plant constructed capacity (p.e.)</text>
<text x="426" y="299.8">Plant discharge ( <tspan dx="0.8">m</tspan><tspan font-size="12" dy="-7">3</tspan><tspan dy="7" dx="0.6"> d</tspan><tspan font-size="12" dy="-7">−1</tspan><tspan dy="7" dx="0.2"> )</tspan></text>
<text x="91" y="621.2">Flow of receiving river ( m<tspan font-size="12" dy="-7">3</tspan><tspan dy="7"> s</tspan><tspan font-size="12" dy="-7">−1</tspan><tspan dy="7"> )</tspan></text>
<text x="520" y="624.8" font-weight="bold" text-anchor="middle">Dilution factor</text>
<text transform="translate(16.3,336.9) rotate(-90)" font-size="18.15" text-anchor="middle">Ratio of stream concentration to stream standard</text>
</g>
<g font-family="Liberation Sans, sans-serif" font-weight="bold" fill="#000">
<text x="179.5" y="663.6" font-size="16.5">Calculation scenario</text>
<text x="384" y="662.6" font-size="13">SC</text>
<text x="446" y="662.6" font-size="13">SE</text>
<text x="507" y="662.6" font-size="13">LG</text>
</g>
<circle cx="363" cy="658" r="2.95" fill="#F9655A"/>
<path d="M424.3 654.1l3.85 6.6h-7.7z" fill="#00B534"/>
<rect x="482.6" y="655.4" width="5.3" height="5.3" fill="#5794FF"/>
</svg></div></body></html>
